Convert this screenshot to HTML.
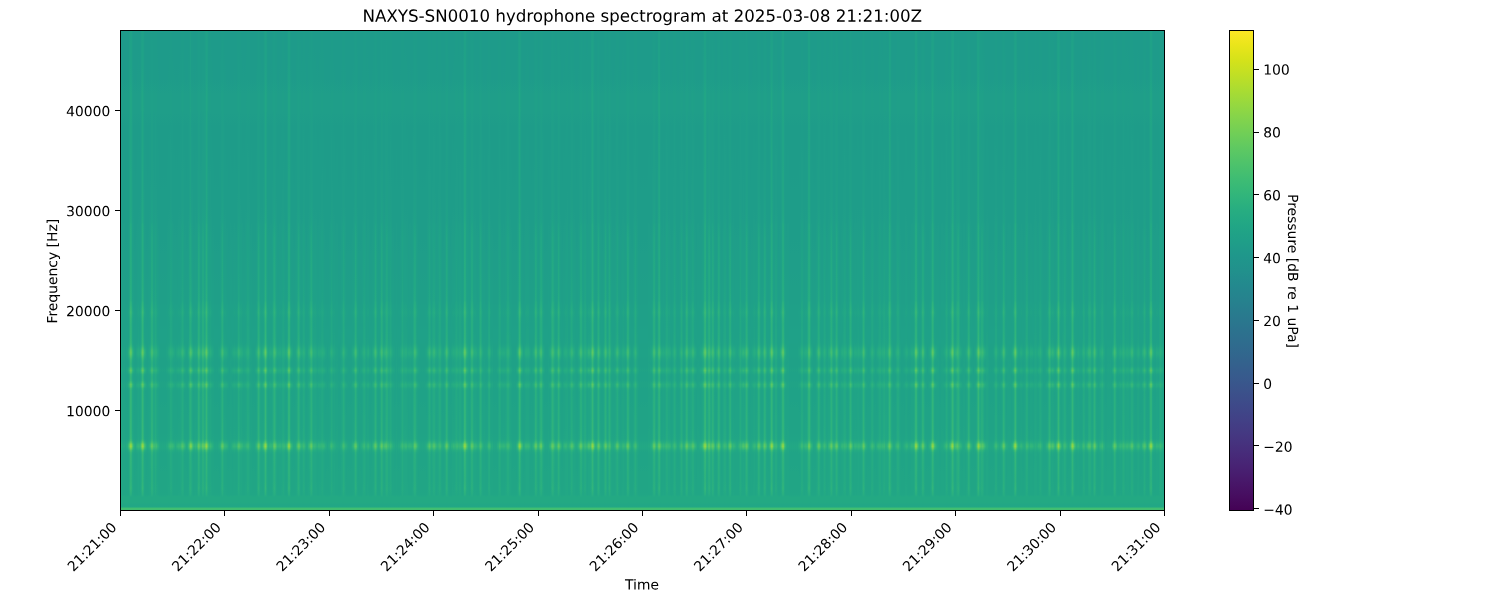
<!DOCTYPE html>
<html><head><meta charset="utf-8"><style>
html,body{margin:0;padding:0;background:#fff;font-family:"Liberation Sans",sans-serif;width:1500px;height:600px;overflow:hidden;position:relative}
svg.l{position:absolute;left:0;top:0;display:block}
</style></head><body>
<svg class="l" width="1500" height="600" viewBox="0 0 1500 600"><defs><linearGradient id="g0" x1="0" y1="0" x2="0" y2="1"><stop offset="0.0010" stop-color="#1e9c89"/><stop offset="0.0343" stop-color="#1e9d89"/><stop offset="0.0676" stop-color="#1e9d89"/><stop offset="0.1008" stop-color="#1e9d89"/><stop offset="0.1341" stop-color="#1fa088"/><stop offset="0.1383" stop-color="#1fa088"/><stop offset="0.1549" stop-color="#1fa088"/><stop offset="0.1674" stop-color="#1fa088"/><stop offset="0.1715" stop-color="#1fa088"/><stop offset="0.2006" stop-color="#1f9f88"/><stop offset="0.2339" stop-color="#1f9f88"/><stop offset="0.2672" stop-color="#1f9f88"/><stop offset="0.3004" stop-color="#1f9f88"/><stop offset="0.3337" stop-color="#1fa088"/><stop offset="0.3669" stop-color="#1fa188"/><stop offset="0.4002" stop-color="#1fa287"/><stop offset="0.4044" stop-color="#20a486"/><stop offset="0.4335" stop-color="#22a785"/><stop offset="0.4667" stop-color="#22a884"/><stop offset="0.5000" stop-color="#23a983"/><stop offset="0.5333" stop-color="#23a983"/><stop offset="0.5624" stop-color="#25ab82"/><stop offset="0.5665" stop-color="#26ad81"/><stop offset="0.5748" stop-color="#28ae80"/><stop offset="0.5873" stop-color="#2db27d"/><stop offset="0.5998" stop-color="#28ae80"/><stop offset="0.6123" stop-color="#27ad81"/><stop offset="0.6247" stop-color="#27ad81"/><stop offset="0.6372" stop-color="#28ae80"/><stop offset="0.6497" stop-color="#29af7f"/><stop offset="0.6538" stop-color="#2ab07f"/><stop offset="0.6580" stop-color="#2fb47c"/><stop offset="0.6622" stop-color="#35b779"/><stop offset="0.6663" stop-color="#3dbc74"/><stop offset="0.6705" stop-color="#40bd72"/><stop offset="0.6746" stop-color="#3dbc74"/><stop offset="0.6788" stop-color="#37b878"/><stop offset="0.6830" stop-color="#2fb47c"/><stop offset="0.6871" stop-color="#2cb17e"/><stop offset="0.6913" stop-color="#29af7f"/><stop offset="0.6954" stop-color="#29af7f"/><stop offset="0.6996" stop-color="#2cb17e"/><stop offset="0.7037" stop-color="#37b878"/><stop offset="0.7079" stop-color="#40bd72"/><stop offset="0.7121" stop-color="#37b878"/><stop offset="0.7162" stop-color="#2cb17e"/><stop offset="0.7204" stop-color="#29af7f"/><stop offset="0.7245" stop-color="#29af7f"/><stop offset="0.7287" stop-color="#2cb17e"/><stop offset="0.7328" stop-color="#34b679"/><stop offset="0.7370" stop-color="#40bd72"/><stop offset="0.7412" stop-color="#3bbb75"/><stop offset="0.7453" stop-color="#2eb37c"/><stop offset="0.7495" stop-color="#2ab07f"/><stop offset="0.7536" stop-color="#2ab07f"/><stop offset="0.7703" stop-color="#2ab07f"/><stop offset="0.7869" stop-color="#2ab07f"/><stop offset="0.8035" stop-color="#2ab07f"/><stop offset="0.8202" stop-color="#2cb17e"/><stop offset="0.8368" stop-color="#2cb17e"/><stop offset="0.8493" stop-color="#2db27d"/><stop offset="0.8534" stop-color="#32b67a"/><stop offset="0.8576" stop-color="#40bd72"/><stop offset="0.8617" stop-color="#58c765"/><stop offset="0.8659" stop-color="#60ca60"/><stop offset="0.8701" stop-color="#4cc26c"/><stop offset="0.8742" stop-color="#37b878"/><stop offset="0.8784" stop-color="#2eb37c"/><stop offset="0.8825" stop-color="#2cb17e"/><stop offset="0.8867" stop-color="#2ab07f"/><stop offset="0.9033" stop-color="#2ab07f"/><stop offset="0.9200" stop-color="#29af7f"/><stop offset="0.9366" stop-color="#29af7f"/><stop offset="0.9532" stop-color="#2ab07f"/><stop offset="0.9657" stop-color="#26ad81"/><stop offset="0.9699" stop-color="#24aa83"/><stop offset="0.9719" stop-color="#23a983"/><stop offset="0.9740" stop-color="#23a983"/><stop offset="0.9782" stop-color="#23a983"/><stop offset="0.9823" stop-color="#23a983"/><stop offset="0.9865" stop-color="#22a785"/><stop offset="0.9906" stop-color="#22a785"/><stop offset="0.9927" stop-color="#2eb37c"/><stop offset="0.9948" stop-color="#42be71"/><stop offset="0.9990" stop-color="#42be71"/></linearGradient><linearGradient id="g1" x1="0" y1="0" x2="0" y2="1"><stop offset="0.0010" stop-color="#1e9b8a"/><stop offset="0.0343" stop-color="#1e9b8a"/><stop offset="0.0676" stop-color="#1e9c89"/><stop offset="0.1008" stop-color="#1e9c89"/><stop offset="0.1341" stop-color="#1f9e89"/><stop offset="0.1383" stop-color="#1f9e89"/><stop offset="0.1549" stop-color="#1f9e89"/><stop offset="0.1674" stop-color="#1f9e89"/><stop offset="0.1715" stop-color="#1f9e89"/><stop offset="0.2006" stop-color="#1e9c89"/><stop offset="0.2339" stop-color="#1e9d89"/><stop offset="0.2672" stop-color="#1e9d89"/><stop offset="0.3004" stop-color="#1e9d89"/><stop offset="0.3337" stop-color="#1e9d89"/><stop offset="0.3669" stop-color="#1e9d89"/><stop offset="0.4002" stop-color="#1f9e89"/><stop offset="0.4044" stop-color="#1f9e89"/><stop offset="0.4335" stop-color="#1f9f88"/><stop offset="0.4667" stop-color="#1fa088"/><stop offset="0.5000" stop-color="#1fa088"/><stop offset="0.5333" stop-color="#1fa188"/><stop offset="0.5624" stop-color="#1fa188"/><stop offset="0.5665" stop-color="#1fa187"/><stop offset="0.5748" stop-color="#1fa287"/><stop offset="0.5873" stop-color="#20a486"/><stop offset="0.5998" stop-color="#1fa287"/><stop offset="0.6123" stop-color="#1fa287"/><stop offset="0.6247" stop-color="#1fa287"/><stop offset="0.6372" stop-color="#1fa287"/><stop offset="0.6497" stop-color="#20a386"/><stop offset="0.6538" stop-color="#20a486"/><stop offset="0.6580" stop-color="#21a685"/><stop offset="0.6622" stop-color="#22a884"/><stop offset="0.6663" stop-color="#25ab82"/><stop offset="0.6705" stop-color="#25ac82"/><stop offset="0.6746" stop-color="#25ab82"/><stop offset="0.6788" stop-color="#23a983"/><stop offset="0.6830" stop-color="#21a685"/><stop offset="0.6871" stop-color="#21a585"/><stop offset="0.6913" stop-color="#20a486"/><stop offset="0.6954" stop-color="#20a486"/><stop offset="0.6996" stop-color="#21a585"/><stop offset="0.7037" stop-color="#23a983"/><stop offset="0.7079" stop-color="#25ac82"/><stop offset="0.7121" stop-color="#23a983"/><stop offset="0.7162" stop-color="#21a585"/><stop offset="0.7204" stop-color="#20a486"/><stop offset="0.7245" stop-color="#20a486"/><stop offset="0.7287" stop-color="#21a585"/><stop offset="0.7328" stop-color="#22a884"/><stop offset="0.7370" stop-color="#26ad81"/><stop offset="0.7412" stop-color="#25ab82"/><stop offset="0.7453" stop-color="#21a685"/><stop offset="0.7495" stop-color="#20a486"/><stop offset="0.7536" stop-color="#20a486"/><stop offset="0.7703" stop-color="#21a585"/><stop offset="0.7869" stop-color="#21a585"/><stop offset="0.8035" stop-color="#21a585"/><stop offset="0.8202" stop-color="#21a585"/><stop offset="0.8368" stop-color="#21a685"/><stop offset="0.8493" stop-color="#21a685"/><stop offset="0.8534" stop-color="#22a884"/><stop offset="0.8576" stop-color="#27ad81"/><stop offset="0.8617" stop-color="#2fb47c"/><stop offset="0.8659" stop-color="#32b67a"/><stop offset="0.8701" stop-color="#2cb17e"/><stop offset="0.8742" stop-color="#25ab82"/><stop offset="0.8784" stop-color="#22a785"/><stop offset="0.8825" stop-color="#21a685"/><stop offset="0.8867" stop-color="#21a685"/><stop offset="0.9033" stop-color="#21a685"/><stop offset="0.9200" stop-color="#21a685"/><stop offset="0.9366" stop-color="#21a685"/><stop offset="0.9532" stop-color="#22a785"/><stop offset="0.9657" stop-color="#22a785"/><stop offset="0.9699" stop-color="#23a983"/><stop offset="0.9719" stop-color="#23a983"/><stop offset="0.9740" stop-color="#23a983"/><stop offset="0.9782" stop-color="#23a983"/><stop offset="0.9823" stop-color="#23a983"/><stop offset="0.9865" stop-color="#22a785"/><stop offset="0.9906" stop-color="#22a785"/><stop offset="0.9927" stop-color="#2eb37c"/><stop offset="0.9948" stop-color="#42be71"/><stop offset="0.9990" stop-color="#42be71"/></linearGradient><linearGradient id="g2" x1="0" y1="0" x2="0" y2="1"><stop offset="0.0010" stop-color="#1e9b8a"/><stop offset="0.0343" stop-color="#1e9b8a"/><stop offset="0.0676" stop-color="#1e9b8a"/><stop offset="0.1008" stop-color="#1e9b8a"/><stop offset="0.1341" stop-color="#1f9e89"/><stop offset="0.1383" stop-color="#1f9e89"/><stop offset="0.1549" stop-color="#1f9e89"/><stop offset="0.1674" stop-color="#1f9e89"/><stop offset="0.1715" stop-color="#1f9e89"/><stop offset="0.2006" stop-color="#1e9c89"/><stop offset="0.2339" stop-color="#1e9c89"/><stop offset="0.2672" stop-color="#1e9d89"/><stop offset="0.3004" stop-color="#1e9d89"/><stop offset="0.3337" stop-color="#1e9d89"/><stop offset="0.3669" stop-color="#1e9d89"/><stop offset="0.4002" stop-color="#1e9d89"/><stop offset="0.4044" stop-color="#1f9e89"/><stop offset="0.4335" stop-color="#1f9e89"/><stop offset="0.4667" stop-color="#1f9f88"/><stop offset="0.5000" stop-color="#1f9f88"/><stop offset="0.5333" stop-color="#1fa088"/><stop offset="0.5624" stop-color="#1fa088"/><stop offset="0.5665" stop-color="#1fa188"/><stop offset="0.5748" stop-color="#1fa188"/><stop offset="0.5873" stop-color="#1fa187"/><stop offset="0.5998" stop-color="#1fa187"/><stop offset="0.6123" stop-color="#1fa187"/><stop offset="0.6247" stop-color="#1fa187"/><stop offset="0.6372" stop-color="#1fa187"/><stop offset="0.6497" stop-color="#1fa287"/><stop offset="0.6538" stop-color="#1fa287"/><stop offset="0.6580" stop-color="#1fa287"/><stop offset="0.6622" stop-color="#20a386"/><stop offset="0.6663" stop-color="#20a486"/><stop offset="0.6705" stop-color="#20a486"/><stop offset="0.6746" stop-color="#20a486"/><stop offset="0.6788" stop-color="#20a386"/><stop offset="0.6830" stop-color="#20a386"/><stop offset="0.6871" stop-color="#20a386"/><stop offset="0.6913" stop-color="#1fa287"/><stop offset="0.6954" stop-color="#20a386"/><stop offset="0.6996" stop-color="#20a386"/><stop offset="0.7037" stop-color="#20a486"/><stop offset="0.7079" stop-color="#21a585"/><stop offset="0.7121" stop-color="#20a486"/><stop offset="0.7162" stop-color="#20a386"/><stop offset="0.7204" stop-color="#20a386"/><stop offset="0.7245" stop-color="#20a386"/><stop offset="0.7287" stop-color="#20a386"/><stop offset="0.7328" stop-color="#20a486"/><stop offset="0.7370" stop-color="#21a585"/><stop offset="0.7412" stop-color="#21a585"/><stop offset="0.7453" stop-color="#20a486"/><stop offset="0.7495" stop-color="#20a386"/><stop offset="0.7536" stop-color="#20a386"/><stop offset="0.7703" stop-color="#20a486"/><stop offset="0.7869" stop-color="#20a486"/><stop offset="0.8035" stop-color="#20a486"/><stop offset="0.8202" stop-color="#20a486"/><stop offset="0.8368" stop-color="#21a585"/><stop offset="0.8493" stop-color="#21a585"/><stop offset="0.8534" stop-color="#21a685"/><stop offset="0.8576" stop-color="#22a785"/><stop offset="0.8617" stop-color="#23a983"/><stop offset="0.8659" stop-color="#24aa83"/><stop offset="0.8701" stop-color="#22a884"/><stop offset="0.8742" stop-color="#22a785"/><stop offset="0.8784" stop-color="#21a685"/><stop offset="0.8825" stop-color="#21a585"/><stop offset="0.8867" stop-color="#21a585"/><stop offset="0.9033" stop-color="#21a585"/><stop offset="0.9200" stop-color="#21a685"/><stop offset="0.9366" stop-color="#21a685"/><stop offset="0.9532" stop-color="#21a685"/><stop offset="0.9657" stop-color="#21a685"/><stop offset="0.9699" stop-color="#23a983"/><stop offset="0.9719" stop-color="#23a983"/><stop offset="0.9740" stop-color="#23a983"/><stop offset="0.9782" stop-color="#23a983"/><stop offset="0.9823" stop-color="#23a983"/><stop offset="0.9865" stop-color="#22a785"/><stop offset="0.9906" stop-color="#22a785"/><stop offset="0.9927" stop-color="#2eb37c"/><stop offset="0.9948" stop-color="#42be71"/><stop offset="0.9990" stop-color="#42be71"/></linearGradient><linearGradient id="g3" x1="0" y1="0" x2="0" y2="1"><stop offset="0.0010" stop-color="#1e9c89"/><stop offset="0.0343" stop-color="#1e9c89"/><stop offset="0.0676" stop-color="#1e9c89"/><stop offset="0.1008" stop-color="#1e9c89"/><stop offset="0.1341" stop-color="#1f9f88"/><stop offset="0.1383" stop-color="#1f9f88"/><stop offset="0.1549" stop-color="#1f9f88"/><stop offset="0.1674" stop-color="#1f9f88"/><stop offset="0.1715" stop-color="#1f9e89"/><stop offset="0.2006" stop-color="#1e9d89"/><stop offset="0.2339" stop-color="#1e9d89"/><stop offset="0.2672" stop-color="#1e9d89"/><stop offset="0.3004" stop-color="#1f9e89"/><stop offset="0.3337" stop-color="#1f9e89"/><stop offset="0.3669" stop-color="#1f9e89"/><stop offset="0.4002" stop-color="#1f9f88"/><stop offset="0.4044" stop-color="#1fa088"/><stop offset="0.4335" stop-color="#1fa187"/><stop offset="0.4667" stop-color="#1fa187"/><stop offset="0.5000" stop-color="#1fa287"/><stop offset="0.5333" stop-color="#1fa287"/><stop offset="0.5624" stop-color="#20a386"/><stop offset="0.5665" stop-color="#20a486"/><stop offset="0.5748" stop-color="#21a585"/><stop offset="0.5873" stop-color="#22a785"/><stop offset="0.5998" stop-color="#21a685"/><stop offset="0.6123" stop-color="#21a585"/><stop offset="0.6247" stop-color="#21a585"/><stop offset="0.6372" stop-color="#21a685"/><stop offset="0.6497" stop-color="#21a685"/><stop offset="0.6538" stop-color="#22a785"/><stop offset="0.6580" stop-color="#23a983"/><stop offset="0.6622" stop-color="#25ac82"/><stop offset="0.6663" stop-color="#27ad81"/><stop offset="0.6705" stop-color="#29af7f"/><stop offset="0.6746" stop-color="#28ae80"/><stop offset="0.6788" stop-color="#25ac82"/><stop offset="0.6830" stop-color="#24aa83"/><stop offset="0.6871" stop-color="#22a884"/><stop offset="0.6913" stop-color="#22a785"/><stop offset="0.6954" stop-color="#22a785"/><stop offset="0.6996" stop-color="#22a884"/><stop offset="0.7037" stop-color="#25ac82"/><stop offset="0.7079" stop-color="#29af7f"/><stop offset="0.7121" stop-color="#26ad81"/><stop offset="0.7162" stop-color="#22a884"/><stop offset="0.7204" stop-color="#22a785"/><stop offset="0.7245" stop-color="#22a785"/><stop offset="0.7287" stop-color="#22a884"/><stop offset="0.7328" stop-color="#25ac82"/><stop offset="0.7370" stop-color="#29af7f"/><stop offset="0.7412" stop-color="#27ad81"/><stop offset="0.7453" stop-color="#24aa83"/><stop offset="0.7495" stop-color="#22a884"/><stop offset="0.7536" stop-color="#22a884"/><stop offset="0.7703" stop-color="#22a884"/><stop offset="0.7869" stop-color="#22a884"/><stop offset="0.8035" stop-color="#23a983"/><stop offset="0.8202" stop-color="#23a983"/><stop offset="0.8368" stop-color="#23a983"/><stop offset="0.8493" stop-color="#24aa83"/><stop offset="0.8534" stop-color="#25ac82"/><stop offset="0.8576" stop-color="#2ab07f"/><stop offset="0.8617" stop-color="#34b679"/><stop offset="0.8659" stop-color="#37b878"/><stop offset="0.8701" stop-color="#2fb47c"/><stop offset="0.8742" stop-color="#27ad81"/><stop offset="0.8784" stop-color="#24aa83"/><stop offset="0.8825" stop-color="#23a983"/><stop offset="0.8867" stop-color="#23a983"/><stop offset="0.9033" stop-color="#23a983"/><stop offset="0.9200" stop-color="#23a983"/><stop offset="0.9366" stop-color="#23a983"/><stop offset="0.9532" stop-color="#24aa83"/><stop offset="0.9657" stop-color="#23a983"/><stop offset="0.9699" stop-color="#23a983"/><stop offset="0.9719" stop-color="#23a983"/><stop offset="0.9740" stop-color="#23a983"/><stop offset="0.9782" stop-color="#23a983"/><stop offset="0.9823" stop-color="#23a983"/><stop offset="0.9865" stop-color="#22a785"/><stop offset="0.9906" stop-color="#22a785"/><stop offset="0.9927" stop-color="#2eb37c"/><stop offset="0.9948" stop-color="#42be71"/><stop offset="0.9990" stop-color="#42be71"/></linearGradient><linearGradient id="g4" x1="0" y1="0" x2="0" y2="1"><stop offset="0.0010" stop-color="#1e9c89"/><stop offset="0.0343" stop-color="#1e9c89"/><stop offset="0.0676" stop-color="#1e9d89"/><stop offset="0.1008" stop-color="#1e9d89"/><stop offset="0.1341" stop-color="#1fa088"/><stop offset="0.1383" stop-color="#1fa088"/><stop offset="0.1549" stop-color="#1fa088"/><stop offset="0.1674" stop-color="#1fa088"/><stop offset="0.1715" stop-color="#1f9f88"/><stop offset="0.2006" stop-color="#1f9e89"/><stop offset="0.2339" stop-color="#1f9e89"/><stop offset="0.2672" stop-color="#1f9e89"/><stop offset="0.3004" stop-color="#1f9f88"/><stop offset="0.3337" stop-color="#1f9f88"/><stop offset="0.3669" stop-color="#1fa088"/><stop offset="0.4002" stop-color="#1fa187"/><stop offset="0.4044" stop-color="#1fa287"/><stop offset="0.4335" stop-color="#20a486"/><stop offset="0.4667" stop-color="#21a585"/><stop offset="0.5000" stop-color="#21a685"/><stop offset="0.5333" stop-color="#21a685"/><stop offset="0.5624" stop-color="#22a785"/><stop offset="0.5665" stop-color="#23a983"/><stop offset="0.5748" stop-color="#25ab82"/><stop offset="0.5873" stop-color="#27ad81"/><stop offset="0.5998" stop-color="#25ab82"/><stop offset="0.6123" stop-color="#24aa83"/><stop offset="0.6247" stop-color="#24aa83"/><stop offset="0.6372" stop-color="#25ab82"/><stop offset="0.6497" stop-color="#25ac82"/><stop offset="0.6538" stop-color="#26ad81"/><stop offset="0.6580" stop-color="#29af7f"/><stop offset="0.6622" stop-color="#2fb47c"/><stop offset="0.6663" stop-color="#35b779"/><stop offset="0.6705" stop-color="#38b977"/><stop offset="0.6746" stop-color="#35b779"/><stop offset="0.6788" stop-color="#2fb47c"/><stop offset="0.6830" stop-color="#2ab07f"/><stop offset="0.6871" stop-color="#27ad81"/><stop offset="0.6913" stop-color="#25ac82"/><stop offset="0.6954" stop-color="#25ac82"/><stop offset="0.6996" stop-color="#27ad81"/><stop offset="0.7037" stop-color="#2fb47c"/><stop offset="0.7079" stop-color="#38b977"/><stop offset="0.7121" stop-color="#2fb47c"/><stop offset="0.7162" stop-color="#27ad81"/><stop offset="0.7204" stop-color="#25ac82"/><stop offset="0.7245" stop-color="#25ac82"/><stop offset="0.7287" stop-color="#26ad81"/><stop offset="0.7328" stop-color="#2db27d"/><stop offset="0.7370" stop-color="#38b977"/><stop offset="0.7412" stop-color="#34b679"/><stop offset="0.7453" stop-color="#29af7f"/><stop offset="0.7495" stop-color="#26ad81"/><stop offset="0.7536" stop-color="#26ad81"/><stop offset="0.7703" stop-color="#26ad81"/><stop offset="0.7869" stop-color="#26ad81"/><stop offset="0.8035" stop-color="#26ad81"/><stop offset="0.8202" stop-color="#27ad81"/><stop offset="0.8368" stop-color="#27ad81"/><stop offset="0.8493" stop-color="#28ae80"/><stop offset="0.8534" stop-color="#2cb17e"/><stop offset="0.8576" stop-color="#38b977"/><stop offset="0.8617" stop-color="#4ec36b"/><stop offset="0.8659" stop-color="#54c568"/><stop offset="0.8701" stop-color="#42be71"/><stop offset="0.8742" stop-color="#31b57b"/><stop offset="0.8784" stop-color="#29af7f"/><stop offset="0.8825" stop-color="#27ad81"/><stop offset="0.8867" stop-color="#27ad81"/><stop offset="0.9033" stop-color="#26ad81"/><stop offset="0.9200" stop-color="#26ad81"/><stop offset="0.9366" stop-color="#26ad81"/><stop offset="0.9532" stop-color="#27ad81"/><stop offset="0.9657" stop-color="#25ab82"/><stop offset="0.9699" stop-color="#24aa83"/><stop offset="0.9719" stop-color="#23a983"/><stop offset="0.9740" stop-color="#23a983"/><stop offset="0.9782" stop-color="#23a983"/><stop offset="0.9823" stop-color="#23a983"/><stop offset="0.9865" stop-color="#22a785"/><stop offset="0.9906" stop-color="#22a785"/><stop offset="0.9927" stop-color="#2eb37c"/><stop offset="0.9948" stop-color="#42be71"/><stop offset="0.9990" stop-color="#42be71"/></linearGradient><linearGradient id="g5" x1="0" y1="0" x2="0" y2="1"><stop offset="0.0010" stop-color="#1f9f88"/><stop offset="0.0343" stop-color="#1fa088"/><stop offset="0.0676" stop-color="#1fa088"/><stop offset="0.1008" stop-color="#1fa088"/><stop offset="0.1341" stop-color="#1fa287"/><stop offset="0.1383" stop-color="#1fa287"/><stop offset="0.1549" stop-color="#1fa287"/><stop offset="0.1674" stop-color="#20a386"/><stop offset="0.1715" stop-color="#1fa287"/><stop offset="0.2006" stop-color="#1fa187"/><stop offset="0.2339" stop-color="#1fa187"/><stop offset="0.2672" stop-color="#1fa287"/><stop offset="0.3004" stop-color="#1fa287"/><stop offset="0.3337" stop-color="#1fa287"/><stop offset="0.3669" stop-color="#20a386"/><stop offset="0.4002" stop-color="#20a486"/><stop offset="0.4044" stop-color="#21a685"/><stop offset="0.4335" stop-color="#22a785"/><stop offset="0.4667" stop-color="#22a884"/><stop offset="0.5000" stop-color="#22a884"/><stop offset="0.5333" stop-color="#23a983"/><stop offset="0.5624" stop-color="#24aa83"/><stop offset="0.5665" stop-color="#26ad81"/><stop offset="0.5748" stop-color="#29af7f"/><stop offset="0.5873" stop-color="#2fb47c"/><stop offset="0.5998" stop-color="#28ae80"/><stop offset="0.6123" stop-color="#27ad81"/><stop offset="0.6247" stop-color="#27ad81"/><stop offset="0.6372" stop-color="#27ad81"/><stop offset="0.6497" stop-color="#29af7f"/><stop offset="0.6538" stop-color="#2cb17e"/><stop offset="0.6580" stop-color="#32b67a"/><stop offset="0.6622" stop-color="#3dbc74"/><stop offset="0.6663" stop-color="#48c16e"/><stop offset="0.6705" stop-color="#4ec36b"/><stop offset="0.6746" stop-color="#4ac16d"/><stop offset="0.6788" stop-color="#3dbc74"/><stop offset="0.6830" stop-color="#32b67a"/><stop offset="0.6871" stop-color="#2db27d"/><stop offset="0.6913" stop-color="#29af7f"/><stop offset="0.6954" stop-color="#29af7f"/><stop offset="0.6996" stop-color="#2db27d"/><stop offset="0.7037" stop-color="#3dbc74"/><stop offset="0.7079" stop-color="#4ec36b"/><stop offset="0.7121" stop-color="#3dbc74"/><stop offset="0.7162" stop-color="#2db27d"/><stop offset="0.7204" stop-color="#29af7f"/><stop offset="0.7245" stop-color="#29af7f"/><stop offset="0.7287" stop-color="#2cb17e"/><stop offset="0.7328" stop-color="#38b977"/><stop offset="0.7370" stop-color="#4ec36b"/><stop offset="0.7412" stop-color="#44bf70"/><stop offset="0.7453" stop-color="#2fb47c"/><stop offset="0.7495" stop-color="#2ab07f"/><stop offset="0.7536" stop-color="#29af7f"/><stop offset="0.7703" stop-color="#2ab07f"/><stop offset="0.7869" stop-color="#2ab07f"/><stop offset="0.8035" stop-color="#2ab07f"/><stop offset="0.8202" stop-color="#2ab07f"/><stop offset="0.8368" stop-color="#2cb17e"/><stop offset="0.8493" stop-color="#2db27d"/><stop offset="0.8534" stop-color="#34b679"/><stop offset="0.8576" stop-color="#4cc26c"/><stop offset="0.8617" stop-color="#73d056"/><stop offset="0.8659" stop-color="#7fd34e"/><stop offset="0.8701" stop-color="#5ec962"/><stop offset="0.8742" stop-color="#3bbb75"/><stop offset="0.8784" stop-color="#2eb37c"/><stop offset="0.8825" stop-color="#2cb17e"/><stop offset="0.8867" stop-color="#2ab07f"/><stop offset="0.9033" stop-color="#29af7f"/><stop offset="0.9200" stop-color="#29af7f"/><stop offset="0.9366" stop-color="#28ae80"/><stop offset="0.9532" stop-color="#2ab07f"/><stop offset="0.9657" stop-color="#26ad81"/><stop offset="0.9699" stop-color="#24aa83"/><stop offset="0.9719" stop-color="#23a983"/><stop offset="0.9740" stop-color="#23a983"/><stop offset="0.9782" stop-color="#23a983"/><stop offset="0.9823" stop-color="#23a983"/><stop offset="0.9865" stop-color="#22a785"/><stop offset="0.9906" stop-color="#22a785"/><stop offset="0.9927" stop-color="#2eb37c"/><stop offset="0.9948" stop-color="#42be71"/><stop offset="0.9990" stop-color="#42be71"/></linearGradient><linearGradient id="g6" x1="0" y1="0" x2="0" y2="1"><stop offset="0.0010" stop-color="#1e9d89"/><stop offset="0.0343" stop-color="#1e9d89"/><stop offset="0.0676" stop-color="#1e9d89"/><stop offset="0.1008" stop-color="#1f9e89"/><stop offset="0.1341" stop-color="#1fa088"/><stop offset="0.1383" stop-color="#1fa088"/><stop offset="0.1549" stop-color="#1fa088"/><stop offset="0.1674" stop-color="#1fa088"/><stop offset="0.1715" stop-color="#1fa088"/><stop offset="0.2006" stop-color="#1f9f88"/><stop offset="0.2339" stop-color="#1f9f88"/><stop offset="0.2672" stop-color="#1f9f88"/><stop offset="0.3004" stop-color="#1f9f88"/><stop offset="0.3337" stop-color="#1fa088"/><stop offset="0.3669" stop-color="#1fa088"/><stop offset="0.4002" stop-color="#1fa088"/><stop offset="0.4044" stop-color="#1fa188"/><stop offset="0.4335" stop-color="#1fa188"/><stop offset="0.4667" stop-color="#1fa187"/><stop offset="0.5000" stop-color="#1fa287"/><stop offset="0.5333" stop-color="#1fa287"/><stop offset="0.5624" stop-color="#20a386"/><stop offset="0.5665" stop-color="#20a486"/><stop offset="0.5748" stop-color="#21a685"/><stop offset="0.5873" stop-color="#24aa83"/><stop offset="0.5998" stop-color="#21a685"/><stop offset="0.6123" stop-color="#21a585"/><stop offset="0.6247" stop-color="#21a585"/><stop offset="0.6372" stop-color="#21a585"/><stop offset="0.6497" stop-color="#22a785"/><stop offset="0.6538" stop-color="#22a884"/><stop offset="0.6580" stop-color="#25ac82"/><stop offset="0.6622" stop-color="#2cb17e"/><stop offset="0.6663" stop-color="#32b67a"/><stop offset="0.6705" stop-color="#35b779"/><stop offset="0.6746" stop-color="#32b67a"/><stop offset="0.6788" stop-color="#2cb17e"/><stop offset="0.6830" stop-color="#26ad81"/><stop offset="0.6871" stop-color="#23a983"/><stop offset="0.6913" stop-color="#22a785"/><stop offset="0.6954" stop-color="#22a785"/><stop offset="0.6996" stop-color="#23a983"/><stop offset="0.7037" stop-color="#2cb17e"/><stop offset="0.7079" stop-color="#35b779"/><stop offset="0.7121" stop-color="#2cb17e"/><stop offset="0.7162" stop-color="#23a983"/><stop offset="0.7204" stop-color="#22a785"/><stop offset="0.7245" stop-color="#22a785"/><stop offset="0.7287" stop-color="#23a983"/><stop offset="0.7328" stop-color="#29af7f"/><stop offset="0.7370" stop-color="#35b779"/><stop offset="0.7412" stop-color="#2fb47c"/><stop offset="0.7453" stop-color="#25ab82"/><stop offset="0.7495" stop-color="#22a884"/><stop offset="0.7536" stop-color="#22a785"/><stop offset="0.7703" stop-color="#22a884"/><stop offset="0.7869" stop-color="#22a884"/><stop offset="0.8035" stop-color="#22a884"/><stop offset="0.8202" stop-color="#22a884"/><stop offset="0.8368" stop-color="#23a983"/><stop offset="0.8493" stop-color="#24aa83"/><stop offset="0.8534" stop-color="#27ad81"/><stop offset="0.8576" stop-color="#35b779"/><stop offset="0.8617" stop-color="#4ec36b"/><stop offset="0.8659" stop-color="#56c667"/><stop offset="0.8701" stop-color="#42be71"/><stop offset="0.8742" stop-color="#2db27d"/><stop offset="0.8784" stop-color="#25ab82"/><stop offset="0.8825" stop-color="#23a983"/><stop offset="0.8867" stop-color="#23a983"/><stop offset="0.9033" stop-color="#23a983"/><stop offset="0.9200" stop-color="#23a983"/><stop offset="0.9366" stop-color="#23a983"/><stop offset="0.9532" stop-color="#24aa83"/><stop offset="0.9657" stop-color="#22a884"/><stop offset="0.9699" stop-color="#23a983"/><stop offset="0.9719" stop-color="#23a983"/><stop offset="0.9740" stop-color="#23a983"/><stop offset="0.9782" stop-color="#23a983"/><stop offset="0.9823" stop-color="#23a983"/><stop offset="0.9865" stop-color="#22a785"/><stop offset="0.9906" stop-color="#22a785"/><stop offset="0.9927" stop-color="#2eb37c"/><stop offset="0.9948" stop-color="#42be71"/><stop offset="0.9990" stop-color="#42be71"/></linearGradient><linearGradient id="g7" x1="0" y1="0" x2="0" y2="1"><stop offset="0.0010" stop-color="#1e9b8a"/><stop offset="0.0343" stop-color="#1e9b8a"/><stop offset="0.0676" stop-color="#1e9c89"/><stop offset="0.1008" stop-color="#1e9c89"/><stop offset="0.1341" stop-color="#1f9e89"/><stop offset="0.1383" stop-color="#1f9e89"/><stop offset="0.1549" stop-color="#1f9e89"/><stop offset="0.1674" stop-color="#1f9e89"/><stop offset="0.1715" stop-color="#1f9e89"/><stop offset="0.2006" stop-color="#1e9d89"/><stop offset="0.2339" stop-color="#1e9d89"/><stop offset="0.2672" stop-color="#1e9d89"/><stop offset="0.3004" stop-color="#1e9d89"/><stop offset="0.3337" stop-color="#1e9d89"/><stop offset="0.3669" stop-color="#1e9d89"/><stop offset="0.4002" stop-color="#1f9e89"/><stop offset="0.4044" stop-color="#1f9e89"/><stop offset="0.4335" stop-color="#1f9f88"/><stop offset="0.4667" stop-color="#1f9f88"/><stop offset="0.5000" stop-color="#1fa088"/><stop offset="0.5333" stop-color="#1fa088"/><stop offset="0.5624" stop-color="#1fa188"/><stop offset="0.5665" stop-color="#1fa188"/><stop offset="0.5748" stop-color="#1fa287"/><stop offset="0.5873" stop-color="#20a486"/><stop offset="0.5998" stop-color="#1fa287"/><stop offset="0.6123" stop-color="#1fa187"/><stop offset="0.6247" stop-color="#1fa287"/><stop offset="0.6372" stop-color="#1fa287"/><stop offset="0.6497" stop-color="#20a386"/><stop offset="0.6538" stop-color="#20a486"/><stop offset="0.6580" stop-color="#21a685"/><stop offset="0.6622" stop-color="#24aa83"/><stop offset="0.6663" stop-color="#26ad81"/><stop offset="0.6705" stop-color="#28ae80"/><stop offset="0.6746" stop-color="#26ad81"/><stop offset="0.6788" stop-color="#24aa83"/><stop offset="0.6830" stop-color="#22a785"/><stop offset="0.6871" stop-color="#20a486"/><stop offset="0.6913" stop-color="#20a386"/><stop offset="0.6954" stop-color="#20a386"/><stop offset="0.6996" stop-color="#21a585"/><stop offset="0.7037" stop-color="#24aa83"/><stop offset="0.7079" stop-color="#28ae80"/><stop offset="0.7121" stop-color="#24aa83"/><stop offset="0.7162" stop-color="#21a585"/><stop offset="0.7204" stop-color="#20a386"/><stop offset="0.7245" stop-color="#20a386"/><stop offset="0.7287" stop-color="#20a486"/><stop offset="0.7328" stop-color="#23a983"/><stop offset="0.7370" stop-color="#28ae80"/><stop offset="0.7412" stop-color="#26ad81"/><stop offset="0.7453" stop-color="#21a685"/><stop offset="0.7495" stop-color="#20a486"/><stop offset="0.7536" stop-color="#20a486"/><stop offset="0.7703" stop-color="#20a486"/><stop offset="0.7869" stop-color="#20a486"/><stop offset="0.8035" stop-color="#21a585"/><stop offset="0.8202" stop-color="#21a585"/><stop offset="0.8368" stop-color="#21a585"/><stop offset="0.8493" stop-color="#21a685"/><stop offset="0.8534" stop-color="#23a983"/><stop offset="0.8576" stop-color="#29af7f"/><stop offset="0.8617" stop-color="#35b779"/><stop offset="0.8659" stop-color="#38b977"/><stop offset="0.8701" stop-color="#2fb47c"/><stop offset="0.8742" stop-color="#25ac82"/><stop offset="0.8784" stop-color="#22a785"/><stop offset="0.8825" stop-color="#21a685"/><stop offset="0.8867" stop-color="#21a685"/><stop offset="0.9033" stop-color="#21a685"/><stop offset="0.9200" stop-color="#21a685"/><stop offset="0.9366" stop-color="#21a685"/><stop offset="0.9532" stop-color="#22a785"/><stop offset="0.9657" stop-color="#22a785"/><stop offset="0.9699" stop-color="#23a983"/><stop offset="0.9719" stop-color="#23a983"/><stop offset="0.9740" stop-color="#23a983"/><stop offset="0.9782" stop-color="#23a983"/><stop offset="0.9823" stop-color="#23a983"/><stop offset="0.9865" stop-color="#22a785"/><stop offset="0.9906" stop-color="#22a785"/><stop offset="0.9927" stop-color="#2eb37c"/><stop offset="0.9948" stop-color="#42be71"/><stop offset="0.9990" stop-color="#42be71"/></linearGradient><linearGradient id="g8" x1="0" y1="0" x2="0" y2="1"><stop offset="0.0010" stop-color="#1e9c89"/><stop offset="0.0343" stop-color="#1e9c89"/><stop offset="0.0676" stop-color="#1e9d89"/><stop offset="0.1008" stop-color="#1e9d89"/><stop offset="0.1341" stop-color="#1fa088"/><stop offset="0.1383" stop-color="#1fa088"/><stop offset="0.1549" stop-color="#1fa088"/><stop offset="0.1674" stop-color="#1fa088"/><stop offset="0.1715" stop-color="#1f9f88"/><stop offset="0.2006" stop-color="#1f9e89"/><stop offset="0.2339" stop-color="#1f9e89"/><stop offset="0.2672" stop-color="#1f9e89"/><stop offset="0.3004" stop-color="#1f9f88"/><stop offset="0.3337" stop-color="#1f9f88"/><stop offset="0.3669" stop-color="#1f9f88"/><stop offset="0.4002" stop-color="#1fa188"/><stop offset="0.4044" stop-color="#1fa187"/><stop offset="0.4335" stop-color="#20a386"/><stop offset="0.4667" stop-color="#20a486"/><stop offset="0.5000" stop-color="#20a486"/><stop offset="0.5333" stop-color="#21a585"/><stop offset="0.5624" stop-color="#21a685"/><stop offset="0.5665" stop-color="#22a884"/><stop offset="0.5748" stop-color="#24aa83"/><stop offset="0.5873" stop-color="#26ad81"/><stop offset="0.5998" stop-color="#24aa83"/><stop offset="0.6123" stop-color="#23a983"/><stop offset="0.6247" stop-color="#23a983"/><stop offset="0.6372" stop-color="#23a983"/><stop offset="0.6497" stop-color="#24aa83"/><stop offset="0.6538" stop-color="#25ac82"/><stop offset="0.6580" stop-color="#28ae80"/><stop offset="0.6622" stop-color="#2db27d"/><stop offset="0.6663" stop-color="#34b679"/><stop offset="0.6705" stop-color="#35b779"/><stop offset="0.6746" stop-color="#34b679"/><stop offset="0.6788" stop-color="#2eb37c"/><stop offset="0.6830" stop-color="#28ae80"/><stop offset="0.6871" stop-color="#25ac82"/><stop offset="0.6913" stop-color="#25ab82"/><stop offset="0.6954" stop-color="#25ab82"/><stop offset="0.6996" stop-color="#26ad81"/><stop offset="0.7037" stop-color="#2eb37c"/><stop offset="0.7079" stop-color="#37b878"/><stop offset="0.7121" stop-color="#2eb37c"/><stop offset="0.7162" stop-color="#26ad81"/><stop offset="0.7204" stop-color="#25ab82"/><stop offset="0.7245" stop-color="#25ab82"/><stop offset="0.7287" stop-color="#25ac82"/><stop offset="0.7328" stop-color="#2cb17e"/><stop offset="0.7370" stop-color="#37b878"/><stop offset="0.7412" stop-color="#32b67a"/><stop offset="0.7453" stop-color="#27ad81"/><stop offset="0.7495" stop-color="#25ac82"/><stop offset="0.7536" stop-color="#25ab82"/><stop offset="0.7703" stop-color="#25ab82"/><stop offset="0.7869" stop-color="#25ac82"/><stop offset="0.8035" stop-color="#25ac82"/><stop offset="0.8202" stop-color="#25ac82"/><stop offset="0.8368" stop-color="#26ad81"/><stop offset="0.8493" stop-color="#27ad81"/><stop offset="0.8534" stop-color="#2ab07f"/><stop offset="0.8576" stop-color="#37b878"/><stop offset="0.8617" stop-color="#4ac16d"/><stop offset="0.8659" stop-color="#52c569"/><stop offset="0.8701" stop-color="#40bd72"/><stop offset="0.8742" stop-color="#2fb47c"/><stop offset="0.8784" stop-color="#28ae80"/><stop offset="0.8825" stop-color="#26ad81"/><stop offset="0.8867" stop-color="#25ac82"/><stop offset="0.9033" stop-color="#25ac82"/><stop offset="0.9200" stop-color="#25ac82"/><stop offset="0.9366" stop-color="#25ac82"/><stop offset="0.9532" stop-color="#26ad81"/><stop offset="0.9657" stop-color="#24aa83"/><stop offset="0.9699" stop-color="#23a983"/><stop offset="0.9719" stop-color="#23a983"/><stop offset="0.9740" stop-color="#23a983"/><stop offset="0.9782" stop-color="#23a983"/><stop offset="0.9823" stop-color="#23a983"/><stop offset="0.9865" stop-color="#22a785"/><stop offset="0.9906" stop-color="#22a785"/><stop offset="0.9927" stop-color="#2eb37c"/><stop offset="0.9948" stop-color="#42be71"/><stop offset="0.9990" stop-color="#42be71"/></linearGradient><linearGradient id="g9" x1="0" y1="0" x2="0" y2="1"><stop offset="0.0010" stop-color="#1e9c89"/><stop offset="0.0343" stop-color="#1e9c89"/><stop offset="0.0676" stop-color="#1e9c89"/><stop offset="0.1008" stop-color="#1e9c89"/><stop offset="0.1341" stop-color="#1f9f88"/><stop offset="0.1383" stop-color="#1f9f88"/><stop offset="0.1549" stop-color="#1f9f88"/><stop offset="0.1674" stop-color="#1f9f88"/><stop offset="0.1715" stop-color="#1f9e89"/><stop offset="0.2006" stop-color="#1e9d89"/><stop offset="0.2339" stop-color="#1e9d89"/><stop offset="0.2672" stop-color="#1e9d89"/><stop offset="0.3004" stop-color="#1f9e89"/><stop offset="0.3337" stop-color="#1f9e89"/><stop offset="0.3669" stop-color="#1f9e89"/><stop offset="0.4002" stop-color="#1f9f88"/><stop offset="0.4044" stop-color="#1fa088"/><stop offset="0.4335" stop-color="#1fa187"/><stop offset="0.4667" stop-color="#1fa187"/><stop offset="0.5000" stop-color="#1fa287"/><stop offset="0.5333" stop-color="#1fa287"/><stop offset="0.5624" stop-color="#20a386"/><stop offset="0.5665" stop-color="#20a486"/><stop offset="0.5748" stop-color="#21a685"/><stop offset="0.5873" stop-color="#23a983"/><stop offset="0.5998" stop-color="#21a685"/><stop offset="0.6123" stop-color="#21a585"/><stop offset="0.6247" stop-color="#21a685"/><stop offset="0.6372" stop-color="#21a685"/><stop offset="0.6497" stop-color="#22a785"/><stop offset="0.6538" stop-color="#22a884"/><stop offset="0.6580" stop-color="#25ab82"/><stop offset="0.6622" stop-color="#28ae80"/><stop offset="0.6663" stop-color="#2db27d"/><stop offset="0.6705" stop-color="#2fb47c"/><stop offset="0.6746" stop-color="#2db27d"/><stop offset="0.6788" stop-color="#28ae80"/><stop offset="0.6830" stop-color="#25ab82"/><stop offset="0.6871" stop-color="#23a983"/><stop offset="0.6913" stop-color="#22a785"/><stop offset="0.6954" stop-color="#22a785"/><stop offset="0.6996" stop-color="#23a983"/><stop offset="0.7037" stop-color="#29af7f"/><stop offset="0.7079" stop-color="#2fb47c"/><stop offset="0.7121" stop-color="#29af7f"/><stop offset="0.7162" stop-color="#23a983"/><stop offset="0.7204" stop-color="#22a785"/><stop offset="0.7245" stop-color="#22a785"/><stop offset="0.7287" stop-color="#23a983"/><stop offset="0.7328" stop-color="#27ad81"/><stop offset="0.7370" stop-color="#2fb47c"/><stop offset="0.7412" stop-color="#2cb17e"/><stop offset="0.7453" stop-color="#25ab82"/><stop offset="0.7495" stop-color="#22a884"/><stop offset="0.7536" stop-color="#22a884"/><stop offset="0.7703" stop-color="#22a884"/><stop offset="0.7869" stop-color="#22a884"/><stop offset="0.8035" stop-color="#23a983"/><stop offset="0.8202" stop-color="#23a983"/><stop offset="0.8368" stop-color="#23a983"/><stop offset="0.8493" stop-color="#24aa83"/><stop offset="0.8534" stop-color="#26ad81"/><stop offset="0.8576" stop-color="#31b57b"/><stop offset="0.8617" stop-color="#40bd72"/><stop offset="0.8659" stop-color="#46c06f"/><stop offset="0.8701" stop-color="#38b977"/><stop offset="0.8742" stop-color="#2ab07f"/><stop offset="0.8784" stop-color="#25ab82"/><stop offset="0.8825" stop-color="#24aa83"/><stop offset="0.8867" stop-color="#23a983"/><stop offset="0.9033" stop-color="#23a983"/><stop offset="0.9200" stop-color="#23a983"/><stop offset="0.9366" stop-color="#23a983"/><stop offset="0.9532" stop-color="#24aa83"/><stop offset="0.9657" stop-color="#23a983"/><stop offset="0.9699" stop-color="#23a983"/><stop offset="0.9719" stop-color="#23a983"/><stop offset="0.9740" stop-color="#23a983"/><stop offset="0.9782" stop-color="#23a983"/><stop offset="0.9823" stop-color="#23a983"/><stop offset="0.9865" stop-color="#22a785"/><stop offset="0.9906" stop-color="#22a785"/><stop offset="0.9927" stop-color="#2eb37c"/><stop offset="0.9948" stop-color="#42be71"/><stop offset="0.9990" stop-color="#42be71"/></linearGradient><linearGradient id="g10" x1="0" y1="0" x2="0" y2="1"><stop offset="0.0010" stop-color="#1fa187"/><stop offset="0.0343" stop-color="#1fa287"/><stop offset="0.0676" stop-color="#1fa287"/><stop offset="0.1008" stop-color="#20a386"/><stop offset="0.1341" stop-color="#21a685"/><stop offset="0.1383" stop-color="#21a685"/><stop offset="0.1549" stop-color="#21a685"/><stop offset="0.1674" stop-color="#21a685"/><stop offset="0.1715" stop-color="#21a685"/><stop offset="0.2006" stop-color="#21a585"/><stop offset="0.2339" stop-color="#21a585"/><stop offset="0.2672" stop-color="#21a685"/><stop offset="0.3004" stop-color="#21a685"/><stop offset="0.3337" stop-color="#22a785"/><stop offset="0.3669" stop-color="#22a785"/><stop offset="0.4002" stop-color="#23a983"/><stop offset="0.4044" stop-color="#25ab82"/><stop offset="0.4335" stop-color="#25ac82"/><stop offset="0.4667" stop-color="#26ad81"/><stop offset="0.5000" stop-color="#26ad81"/><stop offset="0.5333" stop-color="#27ad81"/><stop offset="0.5624" stop-color="#29af7f"/><stop offset="0.5665" stop-color="#2db27d"/><stop offset="0.5748" stop-color="#31b57b"/><stop offset="0.5873" stop-color="#38b977"/><stop offset="0.5998" stop-color="#31b57b"/><stop offset="0.6123" stop-color="#2eb37c"/><stop offset="0.6247" stop-color="#2eb37c"/><stop offset="0.6372" stop-color="#2fb47c"/><stop offset="0.6497" stop-color="#31b57b"/><stop offset="0.6538" stop-color="#34b679"/><stop offset="0.6580" stop-color="#3bbb75"/><stop offset="0.6622" stop-color="#4ac16d"/><stop offset="0.6663" stop-color="#58c765"/><stop offset="0.6705" stop-color="#5ec962"/><stop offset="0.6746" stop-color="#58c765"/><stop offset="0.6788" stop-color="#4ac16d"/><stop offset="0.6830" stop-color="#3dbc74"/><stop offset="0.6871" stop-color="#35b779"/><stop offset="0.6913" stop-color="#32b67a"/><stop offset="0.6954" stop-color="#31b57b"/><stop offset="0.6996" stop-color="#35b779"/><stop offset="0.7037" stop-color="#4ac16d"/><stop offset="0.7079" stop-color="#5cc863"/><stop offset="0.7121" stop-color="#4ac16d"/><stop offset="0.7162" stop-color="#35b779"/><stop offset="0.7204" stop-color="#31b57b"/><stop offset="0.7245" stop-color="#31b57b"/><stop offset="0.7287" stop-color="#34b679"/><stop offset="0.7328" stop-color="#44bf70"/><stop offset="0.7370" stop-color="#5cc863"/><stop offset="0.7412" stop-color="#52c569"/><stop offset="0.7453" stop-color="#3aba76"/><stop offset="0.7495" stop-color="#32b67a"/><stop offset="0.7536" stop-color="#32b67a"/><stop offset="0.7703" stop-color="#32b67a"/><stop offset="0.7869" stop-color="#32b67a"/><stop offset="0.8035" stop-color="#32b67a"/><stop offset="0.8202" stop-color="#34b679"/><stop offset="0.8368" stop-color="#34b679"/><stop offset="0.8493" stop-color="#35b779"/><stop offset="0.8534" stop-color="#3fbc73"/><stop offset="0.8576" stop-color="#5ac864"/><stop offset="0.8617" stop-color="#86d549"/><stop offset="0.8659" stop-color="#93d741"/><stop offset="0.8701" stop-color="#6ece58"/><stop offset="0.8742" stop-color="#48c16e"/><stop offset="0.8784" stop-color="#37b878"/><stop offset="0.8825" stop-color="#32b67a"/><stop offset="0.8867" stop-color="#32b67a"/><stop offset="0.9033" stop-color="#31b57b"/><stop offset="0.9200" stop-color="#2fb47c"/><stop offset="0.9366" stop-color="#2eb37c"/><stop offset="0.9532" stop-color="#31b57b"/><stop offset="0.9657" stop-color="#29af7f"/><stop offset="0.9699" stop-color="#25ab82"/><stop offset="0.9719" stop-color="#23a983"/><stop offset="0.9740" stop-color="#23a983"/><stop offset="0.9782" stop-color="#23a983"/><stop offset="0.9823" stop-color="#23a983"/><stop offset="0.9865" stop-color="#22a785"/><stop offset="0.9906" stop-color="#22a785"/><stop offset="0.9927" stop-color="#2eb37c"/><stop offset="0.9948" stop-color="#42be71"/><stop offset="0.9990" stop-color="#42be71"/></linearGradient><linearGradient id="g11" x1="0" y1="0" x2="0" y2="1"><stop offset="0.0010" stop-color="#1fa187"/><stop offset="0.0343" stop-color="#1fa187"/><stop offset="0.0676" stop-color="#1fa287"/><stop offset="0.1008" stop-color="#1fa287"/><stop offset="0.1341" stop-color="#21a585"/><stop offset="0.1383" stop-color="#21a585"/><stop offset="0.1549" stop-color="#21a685"/><stop offset="0.1674" stop-color="#21a685"/><stop offset="0.1715" stop-color="#21a585"/><stop offset="0.2006" stop-color="#20a486"/><stop offset="0.2339" stop-color="#21a585"/><stop offset="0.2672" stop-color="#21a585"/><stop offset="0.3004" stop-color="#21a685"/><stop offset="0.3337" stop-color="#21a685"/><stop offset="0.3669" stop-color="#21a685"/><stop offset="0.4002" stop-color="#22a884"/><stop offset="0.4044" stop-color="#24aa83"/><stop offset="0.4335" stop-color="#25ab82"/><stop offset="0.4667" stop-color="#25ab82"/><stop offset="0.5000" stop-color="#25ac82"/><stop offset="0.5333" stop-color="#26ad81"/><stop offset="0.5624" stop-color="#27ad81"/><stop offset="0.5665" stop-color="#2cb17e"/><stop offset="0.5748" stop-color="#2eb37c"/><stop offset="0.5873" stop-color="#32b67a"/><stop offset="0.5998" stop-color="#2eb37c"/><stop offset="0.6123" stop-color="#2cb17e"/><stop offset="0.6247" stop-color="#2db27d"/><stop offset="0.6372" stop-color="#2db27d"/><stop offset="0.6497" stop-color="#2eb37c"/><stop offset="0.6538" stop-color="#31b57b"/><stop offset="0.6580" stop-color="#35b779"/><stop offset="0.6622" stop-color="#3dbc74"/><stop offset="0.6663" stop-color="#46c06f"/><stop offset="0.6705" stop-color="#4ac16d"/><stop offset="0.6746" stop-color="#46c06f"/><stop offset="0.6788" stop-color="#3dbc74"/><stop offset="0.6830" stop-color="#35b779"/><stop offset="0.6871" stop-color="#31b57b"/><stop offset="0.6913" stop-color="#2fb47c"/><stop offset="0.6954" stop-color="#2eb37c"/><stop offset="0.6996" stop-color="#31b57b"/><stop offset="0.7037" stop-color="#3dbc74"/><stop offset="0.7079" stop-color="#4ac16d"/><stop offset="0.7121" stop-color="#3dbc74"/><stop offset="0.7162" stop-color="#32b67a"/><stop offset="0.7204" stop-color="#2fb47c"/><stop offset="0.7245" stop-color="#2fb47c"/><stop offset="0.7287" stop-color="#31b57b"/><stop offset="0.7328" stop-color="#3aba76"/><stop offset="0.7370" stop-color="#4ac16d"/><stop offset="0.7412" stop-color="#42be71"/><stop offset="0.7453" stop-color="#34b679"/><stop offset="0.7495" stop-color="#2fb47c"/><stop offset="0.7536" stop-color="#2fb47c"/><stop offset="0.7703" stop-color="#2fb47c"/><stop offset="0.7869" stop-color="#31b57b"/><stop offset="0.8035" stop-color="#31b57b"/><stop offset="0.8202" stop-color="#31b57b"/><stop offset="0.8368" stop-color="#31b57b"/><stop offset="0.8493" stop-color="#32b67a"/><stop offset="0.8534" stop-color="#38b977"/><stop offset="0.8576" stop-color="#4ac16d"/><stop offset="0.8617" stop-color="#63cb5f"/><stop offset="0.8659" stop-color="#6ccd5a"/><stop offset="0.8701" stop-color="#56c667"/><stop offset="0.8742" stop-color="#3dbc74"/><stop offset="0.8784" stop-color="#34b679"/><stop offset="0.8825" stop-color="#31b57b"/><stop offset="0.8867" stop-color="#2fb47c"/><stop offset="0.9033" stop-color="#2eb37c"/><stop offset="0.9200" stop-color="#2db27d"/><stop offset="0.9366" stop-color="#2db27d"/><stop offset="0.9532" stop-color="#2fb47c"/><stop offset="0.9657" stop-color="#28ae80"/><stop offset="0.9699" stop-color="#24aa83"/><stop offset="0.9719" stop-color="#23a983"/><stop offset="0.9740" stop-color="#23a983"/><stop offset="0.9782" stop-color="#23a983"/><stop offset="0.9823" stop-color="#23a983"/><stop offset="0.9865" stop-color="#22a785"/><stop offset="0.9906" stop-color="#22a785"/><stop offset="0.9927" stop-color="#2eb37c"/><stop offset="0.9948" stop-color="#42be71"/><stop offset="0.9990" stop-color="#42be71"/></linearGradient><linearGradient id="g12" x1="0" y1="0" x2="0" y2="1"><stop offset="0.0010" stop-color="#1e9c89"/><stop offset="0.0343" stop-color="#1e9c89"/><stop offset="0.0676" stop-color="#1e9c89"/><stop offset="0.1008" stop-color="#1e9d89"/><stop offset="0.1341" stop-color="#1f9f88"/><stop offset="0.1383" stop-color="#1f9f88"/><stop offset="0.1549" stop-color="#1fa088"/><stop offset="0.1674" stop-color="#1f9f88"/><stop offset="0.1715" stop-color="#1f9f88"/><stop offset="0.2006" stop-color="#1f9e89"/><stop offset="0.2339" stop-color="#1f9e89"/><stop offset="0.2672" stop-color="#1f9e89"/><stop offset="0.3004" stop-color="#1f9e89"/><stop offset="0.3337" stop-color="#1f9f88"/><stop offset="0.3669" stop-color="#1f9f88"/><stop offset="0.4002" stop-color="#1fa188"/><stop offset="0.4044" stop-color="#1fa187"/><stop offset="0.4335" stop-color="#20a486"/><stop offset="0.4667" stop-color="#21a585"/><stop offset="0.5000" stop-color="#21a585"/><stop offset="0.5333" stop-color="#21a685"/><stop offset="0.5624" stop-color="#22a785"/><stop offset="0.5665" stop-color="#23a983"/><stop offset="0.5748" stop-color="#24aa83"/><stop offset="0.5873" stop-color="#25ac82"/><stop offset="0.5998" stop-color="#25ab82"/><stop offset="0.6123" stop-color="#24aa83"/><stop offset="0.6247" stop-color="#24aa83"/><stop offset="0.6372" stop-color="#25ab82"/><stop offset="0.6497" stop-color="#25ab82"/><stop offset="0.6538" stop-color="#25ac82"/><stop offset="0.6580" stop-color="#27ad81"/><stop offset="0.6622" stop-color="#2ab07f"/><stop offset="0.6663" stop-color="#2eb37c"/><stop offset="0.6705" stop-color="#31b57b"/><stop offset="0.6746" stop-color="#2fb47c"/><stop offset="0.6788" stop-color="#2cb17e"/><stop offset="0.6830" stop-color="#28ae80"/><stop offset="0.6871" stop-color="#26ad81"/><stop offset="0.6913" stop-color="#25ac82"/><stop offset="0.6954" stop-color="#25ac82"/><stop offset="0.6996" stop-color="#26ad81"/><stop offset="0.7037" stop-color="#2cb17e"/><stop offset="0.7079" stop-color="#31b57b"/><stop offset="0.7121" stop-color="#2cb17e"/><stop offset="0.7162" stop-color="#26ad81"/><stop offset="0.7204" stop-color="#25ac82"/><stop offset="0.7245" stop-color="#25ac82"/><stop offset="0.7287" stop-color="#26ad81"/><stop offset="0.7328" stop-color="#2ab07f"/><stop offset="0.7370" stop-color="#31b57b"/><stop offset="0.7412" stop-color="#2eb37c"/><stop offset="0.7453" stop-color="#28ae80"/><stop offset="0.7495" stop-color="#26ad81"/><stop offset="0.7536" stop-color="#26ad81"/><stop offset="0.7703" stop-color="#26ad81"/><stop offset="0.7869" stop-color="#26ad81"/><stop offset="0.8035" stop-color="#26ad81"/><stop offset="0.8202" stop-color="#27ad81"/><stop offset="0.8368" stop-color="#27ad81"/><stop offset="0.8493" stop-color="#28ae80"/><stop offset="0.8534" stop-color="#2ab07f"/><stop offset="0.8576" stop-color="#32b67a"/><stop offset="0.8617" stop-color="#3fbc73"/><stop offset="0.8659" stop-color="#42be71"/><stop offset="0.8701" stop-color="#38b977"/><stop offset="0.8742" stop-color="#2db27d"/><stop offset="0.8784" stop-color="#28ae80"/><stop offset="0.8825" stop-color="#27ad81"/><stop offset="0.8867" stop-color="#27ad81"/><stop offset="0.9033" stop-color="#26ad81"/><stop offset="0.9200" stop-color="#26ad81"/><stop offset="0.9366" stop-color="#26ad81"/><stop offset="0.9532" stop-color="#27ad81"/><stop offset="0.9657" stop-color="#25ab82"/><stop offset="0.9699" stop-color="#24aa83"/><stop offset="0.9719" stop-color="#23a983"/><stop offset="0.9740" stop-color="#23a983"/><stop offset="0.9782" stop-color="#23a983"/><stop offset="0.9823" stop-color="#23a983"/><stop offset="0.9865" stop-color="#22a785"/><stop offset="0.9906" stop-color="#22a785"/><stop offset="0.9927" stop-color="#2eb37c"/><stop offset="0.9948" stop-color="#42be71"/><stop offset="0.9990" stop-color="#42be71"/></linearGradient><linearGradient id="g13" x1="0" y1="0" x2="0" y2="1"><stop offset="0.0010" stop-color="#1e9b8a"/><stop offset="0.0343" stop-color="#1e9c89"/><stop offset="0.0676" stop-color="#1e9c89"/><stop offset="0.1008" stop-color="#1e9c89"/><stop offset="0.1341" stop-color="#1f9f88"/><stop offset="0.1383" stop-color="#1f9f88"/><stop offset="0.1549" stop-color="#1f9f88"/><stop offset="0.1674" stop-color="#1f9f88"/><stop offset="0.1715" stop-color="#1f9e89"/><stop offset="0.2006" stop-color="#1e9d89"/><stop offset="0.2339" stop-color="#1e9d89"/><stop offset="0.2672" stop-color="#1e9d89"/><stop offset="0.3004" stop-color="#1e9d89"/><stop offset="0.3337" stop-color="#1e9d89"/><stop offset="0.3669" stop-color="#1e9d89"/><stop offset="0.4002" stop-color="#1f9e89"/><stop offset="0.4044" stop-color="#1f9e89"/><stop offset="0.4335" stop-color="#1f9f88"/><stop offset="0.4667" stop-color="#1fa088"/><stop offset="0.5000" stop-color="#1fa088"/><stop offset="0.5333" stop-color="#1fa188"/><stop offset="0.5624" stop-color="#1fa188"/><stop offset="0.5665" stop-color="#1fa187"/><stop offset="0.5748" stop-color="#20a386"/><stop offset="0.5873" stop-color="#21a685"/><stop offset="0.5998" stop-color="#20a386"/><stop offset="0.6123" stop-color="#1fa287"/><stop offset="0.6247" stop-color="#1fa287"/><stop offset="0.6372" stop-color="#1fa287"/><stop offset="0.6497" stop-color="#20a386"/><stop offset="0.6538" stop-color="#21a585"/><stop offset="0.6580" stop-color="#22a884"/><stop offset="0.6622" stop-color="#26ad81"/><stop offset="0.6663" stop-color="#2ab07f"/><stop offset="0.6705" stop-color="#2db27d"/><stop offset="0.6746" stop-color="#2cb17e"/><stop offset="0.6788" stop-color="#26ad81"/><stop offset="0.6830" stop-color="#23a983"/><stop offset="0.6871" stop-color="#21a585"/><stop offset="0.6913" stop-color="#20a486"/><stop offset="0.6954" stop-color="#20a486"/><stop offset="0.6996" stop-color="#21a685"/><stop offset="0.7037" stop-color="#26ad81"/><stop offset="0.7079" stop-color="#2db27d"/><stop offset="0.7121" stop-color="#26ad81"/><stop offset="0.7162" stop-color="#21a685"/><stop offset="0.7204" stop-color="#20a486"/><stop offset="0.7245" stop-color="#20a486"/><stop offset="0.7287" stop-color="#21a585"/><stop offset="0.7328" stop-color="#25ab82"/><stop offset="0.7370" stop-color="#2db27d"/><stop offset="0.7412" stop-color="#29af7f"/><stop offset="0.7453" stop-color="#22a884"/><stop offset="0.7495" stop-color="#21a585"/><stop offset="0.7536" stop-color="#20a486"/><stop offset="0.7703" stop-color="#20a486"/><stop offset="0.7869" stop-color="#21a585"/><stop offset="0.8035" stop-color="#21a585"/><stop offset="0.8202" stop-color="#21a585"/><stop offset="0.8368" stop-color="#21a685"/><stop offset="0.8493" stop-color="#22a785"/><stop offset="0.8534" stop-color="#24aa83"/><stop offset="0.8576" stop-color="#2eb37c"/><stop offset="0.8617" stop-color="#40bd72"/><stop offset="0.8659" stop-color="#46c06f"/><stop offset="0.8701" stop-color="#37b878"/><stop offset="0.8742" stop-color="#27ad81"/><stop offset="0.8784" stop-color="#22a884"/><stop offset="0.8825" stop-color="#21a685"/><stop offset="0.8867" stop-color="#21a685"/><stop offset="0.9033" stop-color="#21a685"/><stop offset="0.9200" stop-color="#21a685"/><stop offset="0.9366" stop-color="#21a685"/><stop offset="0.9532" stop-color="#22a785"/><stop offset="0.9657" stop-color="#22a785"/><stop offset="0.9699" stop-color="#23a983"/><stop offset="0.9719" stop-color="#23a983"/><stop offset="0.9740" stop-color="#23a983"/><stop offset="0.9782" stop-color="#23a983"/><stop offset="0.9823" stop-color="#23a983"/><stop offset="0.9865" stop-color="#22a785"/><stop offset="0.9906" stop-color="#22a785"/><stop offset="0.9927" stop-color="#2eb37c"/><stop offset="0.9948" stop-color="#42be71"/><stop offset="0.9990" stop-color="#42be71"/></linearGradient><linearGradient id="g14" x1="0" y1="0" x2="0" y2="1"><stop offset="0.0010" stop-color="#1e9c89"/><stop offset="0.0343" stop-color="#1e9c89"/><stop offset="0.0676" stop-color="#1e9c89"/><stop offset="0.1008" stop-color="#1e9c89"/><stop offset="0.1341" stop-color="#1f9f88"/><stop offset="0.1383" stop-color="#1f9f88"/><stop offset="0.1549" stop-color="#1f9f88"/><stop offset="0.1674" stop-color="#1f9f88"/><stop offset="0.1715" stop-color="#1f9e89"/><stop offset="0.2006" stop-color="#1e9d89"/><stop offset="0.2339" stop-color="#1e9d89"/><stop offset="0.2672" stop-color="#1e9d89"/><stop offset="0.3004" stop-color="#1e9d89"/><stop offset="0.3337" stop-color="#1f9e89"/><stop offset="0.3669" stop-color="#1f9e89"/><stop offset="0.4002" stop-color="#1f9e89"/><stop offset="0.4044" stop-color="#1f9f88"/><stop offset="0.4335" stop-color="#1f9f88"/><stop offset="0.4667" stop-color="#1fa088"/><stop offset="0.5000" stop-color="#1fa088"/><stop offset="0.5333" stop-color="#1fa188"/><stop offset="0.5624" stop-color="#1fa187"/><stop offset="0.5665" stop-color="#1fa187"/><stop offset="0.5748" stop-color="#20a386"/><stop offset="0.5873" stop-color="#22a785"/><stop offset="0.5998" stop-color="#20a386"/><stop offset="0.6123" stop-color="#1fa287"/><stop offset="0.6247" stop-color="#1fa287"/><stop offset="0.6372" stop-color="#20a386"/><stop offset="0.6497" stop-color="#20a486"/><stop offset="0.6538" stop-color="#21a685"/><stop offset="0.6580" stop-color="#23a983"/><stop offset="0.6622" stop-color="#27ad81"/><stop offset="0.6663" stop-color="#2eb37c"/><stop offset="0.6705" stop-color="#31b57b"/><stop offset="0.6746" stop-color="#2eb37c"/><stop offset="0.6788" stop-color="#28ae80"/><stop offset="0.6830" stop-color="#24aa83"/><stop offset="0.6871" stop-color="#21a685"/><stop offset="0.6913" stop-color="#21a585"/><stop offset="0.6954" stop-color="#20a486"/><stop offset="0.6996" stop-color="#21a685"/><stop offset="0.7037" stop-color="#28ae80"/><stop offset="0.7079" stop-color="#31b57b"/><stop offset="0.7121" stop-color="#28ae80"/><stop offset="0.7162" stop-color="#22a785"/><stop offset="0.7204" stop-color="#20a486"/><stop offset="0.7245" stop-color="#20a486"/><stop offset="0.7287" stop-color="#21a685"/><stop offset="0.7328" stop-color="#26ad81"/><stop offset="0.7370" stop-color="#31b57b"/><stop offset="0.7412" stop-color="#2cb17e"/><stop offset="0.7453" stop-color="#22a884"/><stop offset="0.7495" stop-color="#21a585"/><stop offset="0.7536" stop-color="#21a585"/><stop offset="0.7703" stop-color="#21a585"/><stop offset="0.7869" stop-color="#21a585"/><stop offset="0.8035" stop-color="#21a585"/><stop offset="0.8202" stop-color="#21a685"/><stop offset="0.8368" stop-color="#21a685"/><stop offset="0.8493" stop-color="#22a785"/><stop offset="0.8534" stop-color="#25ab82"/><stop offset="0.8576" stop-color="#31b57b"/><stop offset="0.8617" stop-color="#46c06f"/><stop offset="0.8659" stop-color="#4ec36b"/><stop offset="0.8701" stop-color="#3bbb75"/><stop offset="0.8742" stop-color="#29af7f"/><stop offset="0.8784" stop-color="#23a983"/><stop offset="0.8825" stop-color="#22a785"/><stop offset="0.8867" stop-color="#21a685"/><stop offset="0.9033" stop-color="#22a785"/><stop offset="0.9200" stop-color="#22a785"/><stop offset="0.9366" stop-color="#22a785"/><stop offset="0.9532" stop-color="#22a785"/><stop offset="0.9657" stop-color="#22a785"/><stop offset="0.9699" stop-color="#23a983"/><stop offset="0.9719" stop-color="#23a983"/><stop offset="0.9740" stop-color="#23a983"/><stop offset="0.9782" stop-color="#23a983"/><stop offset="0.9823" stop-color="#23a983"/><stop offset="0.9865" stop-color="#22a785"/><stop offset="0.9906" stop-color="#22a785"/><stop offset="0.9927" stop-color="#2eb37c"/><stop offset="0.9948" stop-color="#42be71"/><stop offset="0.9990" stop-color="#42be71"/></linearGradient><linearGradient id="g15" x1="0" y1="0" x2="0" y2="1"><stop offset="0.0010" stop-color="#1e9b8a"/><stop offset="0.0343" stop-color="#1e9b8a"/><stop offset="0.0676" stop-color="#1e9b8a"/><stop offset="0.1008" stop-color="#1e9b8a"/><stop offset="0.1341" stop-color="#1f9e89"/><stop offset="0.1383" stop-color="#1f9e89"/><stop offset="0.1549" stop-color="#1f9e89"/><stop offset="0.1674" stop-color="#1f9e89"/><stop offset="0.1715" stop-color="#1f9e89"/><stop offset="0.2006" stop-color="#1e9c89"/><stop offset="0.2339" stop-color="#1e9c89"/><stop offset="0.2672" stop-color="#1e9c89"/><stop offset="0.3004" stop-color="#1e9d89"/><stop offset="0.3337" stop-color="#1e9d89"/><stop offset="0.3669" stop-color="#1e9d89"/><stop offset="0.4002" stop-color="#1e9d89"/><stop offset="0.4044" stop-color="#1e9d89"/><stop offset="0.4335" stop-color="#1e9d89"/><stop offset="0.4667" stop-color="#1f9e89"/><stop offset="0.5000" stop-color="#1f9e89"/><stop offset="0.5333" stop-color="#1f9f88"/><stop offset="0.5624" stop-color="#1f9f88"/><stop offset="0.5665" stop-color="#1f9f88"/><stop offset="0.5748" stop-color="#1fa088"/><stop offset="0.5873" stop-color="#1fa188"/><stop offset="0.5998" stop-color="#1fa188"/><stop offset="0.6123" stop-color="#1fa088"/><stop offset="0.6247" stop-color="#1fa188"/><stop offset="0.6372" stop-color="#1fa188"/><stop offset="0.6497" stop-color="#1fa187"/><stop offset="0.6538" stop-color="#1fa187"/><stop offset="0.6580" stop-color="#1fa287"/><stop offset="0.6622" stop-color="#20a486"/><stop offset="0.6663" stop-color="#21a685"/><stop offset="0.6705" stop-color="#21a685"/><stop offset="0.6746" stop-color="#21a685"/><stop offset="0.6788" stop-color="#20a486"/><stop offset="0.6830" stop-color="#20a386"/><stop offset="0.6871" stop-color="#1fa287"/><stop offset="0.6913" stop-color="#1fa187"/><stop offset="0.6954" stop-color="#1fa187"/><stop offset="0.6996" stop-color="#1fa287"/><stop offset="0.7037" stop-color="#21a585"/><stop offset="0.7079" stop-color="#22a785"/><stop offset="0.7121" stop-color="#21a585"/><stop offset="0.7162" stop-color="#1fa287"/><stop offset="0.7204" stop-color="#1fa187"/><stop offset="0.7245" stop-color="#1fa287"/><stop offset="0.7287" stop-color="#1fa287"/><stop offset="0.7328" stop-color="#20a486"/><stop offset="0.7370" stop-color="#22a785"/><stop offset="0.7412" stop-color="#21a685"/><stop offset="0.7453" stop-color="#20a386"/><stop offset="0.7495" stop-color="#1fa287"/><stop offset="0.7536" stop-color="#1fa287"/><stop offset="0.7703" stop-color="#1fa287"/><stop offset="0.7869" stop-color="#1fa287"/><stop offset="0.8035" stop-color="#20a386"/><stop offset="0.8202" stop-color="#20a386"/><stop offset="0.8368" stop-color="#20a386"/><stop offset="0.8493" stop-color="#20a486"/><stop offset="0.8534" stop-color="#21a585"/><stop offset="0.8576" stop-color="#23a983"/><stop offset="0.8617" stop-color="#27ad81"/><stop offset="0.8659" stop-color="#28ae80"/><stop offset="0.8701" stop-color="#25ac82"/><stop offset="0.8742" stop-color="#22a785"/><stop offset="0.8784" stop-color="#21a585"/><stop offset="0.8825" stop-color="#20a486"/><stop offset="0.8867" stop-color="#20a486"/><stop offset="0.9033" stop-color="#20a486"/><stop offset="0.9200" stop-color="#20a486"/><stop offset="0.9366" stop-color="#21a585"/><stop offset="0.9532" stop-color="#21a585"/><stop offset="0.9657" stop-color="#21a685"/><stop offset="0.9699" stop-color="#22a884"/><stop offset="0.9719" stop-color="#23a983"/><stop offset="0.9740" stop-color="#23a983"/><stop offset="0.9782" stop-color="#23a983"/><stop offset="0.9823" stop-color="#23a983"/><stop offset="0.9865" stop-color="#22a785"/><stop offset="0.9906" stop-color="#22a785"/><stop offset="0.9927" stop-color="#2eb37c"/><stop offset="0.9948" stop-color="#42be71"/><stop offset="0.9990" stop-color="#42be71"/></linearGradient><linearGradient id="g16" x1="0" y1="0" x2="0" y2="1"><stop offset="0.0010" stop-color="#1e9b8a"/><stop offset="0.0343" stop-color="#1e9b8a"/><stop offset="0.0676" stop-color="#1e9b8a"/><stop offset="0.1008" stop-color="#1e9c89"/><stop offset="0.1341" stop-color="#1f9e89"/><stop offset="0.1383" stop-color="#1f9e89"/><stop offset="0.1549" stop-color="#1f9e89"/><stop offset="0.1674" stop-color="#1f9e89"/><stop offset="0.1715" stop-color="#1f9e89"/><stop offset="0.2006" stop-color="#1e9c89"/><stop offset="0.2339" stop-color="#1e9d89"/><stop offset="0.2672" stop-color="#1e9d89"/><stop offset="0.3004" stop-color="#1e9d89"/><stop offset="0.3337" stop-color="#1e9d89"/><stop offset="0.3669" stop-color="#1e9d89"/><stop offset="0.4002" stop-color="#1f9e89"/><stop offset="0.4044" stop-color="#1f9e89"/><stop offset="0.4335" stop-color="#1f9f88"/><stop offset="0.4667" stop-color="#1f9f88"/><stop offset="0.5000" stop-color="#1fa088"/><stop offset="0.5333" stop-color="#1fa088"/><stop offset="0.5624" stop-color="#1fa188"/><stop offset="0.5665" stop-color="#1fa188"/><stop offset="0.5748" stop-color="#1fa187"/><stop offset="0.5873" stop-color="#20a386"/><stop offset="0.5998" stop-color="#1fa287"/><stop offset="0.6123" stop-color="#1fa187"/><stop offset="0.6247" stop-color="#1fa287"/><stop offset="0.6372" stop-color="#1fa287"/><stop offset="0.6497" stop-color="#1fa287"/><stop offset="0.6538" stop-color="#20a386"/><stop offset="0.6580" stop-color="#21a585"/><stop offset="0.6622" stop-color="#22a785"/><stop offset="0.6663" stop-color="#23a983"/><stop offset="0.6705" stop-color="#24aa83"/><stop offset="0.6746" stop-color="#23a983"/><stop offset="0.6788" stop-color="#22a785"/><stop offset="0.6830" stop-color="#21a585"/><stop offset="0.6871" stop-color="#20a486"/><stop offset="0.6913" stop-color="#20a386"/><stop offset="0.6954" stop-color="#20a386"/><stop offset="0.6996" stop-color="#20a486"/><stop offset="0.7037" stop-color="#22a884"/><stop offset="0.7079" stop-color="#25ab82"/><stop offset="0.7121" stop-color="#22a884"/><stop offset="0.7162" stop-color="#20a486"/><stop offset="0.7204" stop-color="#20a386"/><stop offset="0.7245" stop-color="#20a386"/><stop offset="0.7287" stop-color="#20a486"/><stop offset="0.7328" stop-color="#22a785"/><stop offset="0.7370" stop-color="#25ab82"/><stop offset="0.7412" stop-color="#23a983"/><stop offset="0.7453" stop-color="#21a585"/><stop offset="0.7495" stop-color="#20a486"/><stop offset="0.7536" stop-color="#20a486"/><stop offset="0.7703" stop-color="#20a486"/><stop offset="0.7869" stop-color="#20a486"/><stop offset="0.8035" stop-color="#21a585"/><stop offset="0.8202" stop-color="#21a585"/><stop offset="0.8368" stop-color="#21a585"/><stop offset="0.8493" stop-color="#21a685"/><stop offset="0.8534" stop-color="#22a884"/><stop offset="0.8576" stop-color="#25ac82"/><stop offset="0.8617" stop-color="#2cb17e"/><stop offset="0.8659" stop-color="#2eb37c"/><stop offset="0.8701" stop-color="#28ae80"/><stop offset="0.8742" stop-color="#24aa83"/><stop offset="0.8784" stop-color="#22a785"/><stop offset="0.8825" stop-color="#21a685"/><stop offset="0.8867" stop-color="#21a685"/><stop offset="0.9033" stop-color="#21a685"/><stop offset="0.9200" stop-color="#21a685"/><stop offset="0.9366" stop-color="#21a685"/><stop offset="0.9532" stop-color="#22a785"/><stop offset="0.9657" stop-color="#22a785"/><stop offset="0.9699" stop-color="#23a983"/><stop offset="0.9719" stop-color="#23a983"/><stop offset="0.9740" stop-color="#23a983"/><stop offset="0.9782" stop-color="#23a983"/><stop offset="0.9823" stop-color="#23a983"/><stop offset="0.9865" stop-color="#22a785"/><stop offset="0.9906" stop-color="#22a785"/><stop offset="0.9927" stop-color="#2eb37c"/><stop offset="0.9948" stop-color="#42be71"/><stop offset="0.9990" stop-color="#42be71"/></linearGradient><linearGradient id="g17" x1="0" y1="0" x2="0" y2="1"><stop offset="0.0010" stop-color="#1e9c89"/><stop offset="0.0343" stop-color="#1e9c89"/><stop offset="0.0676" stop-color="#1e9c89"/><stop offset="0.1008" stop-color="#1e9d89"/><stop offset="0.1341" stop-color="#1f9f88"/><stop offset="0.1383" stop-color="#1f9f88"/><stop offset="0.1549" stop-color="#1f9f88"/><stop offset="0.1674" stop-color="#1f9f88"/><stop offset="0.1715" stop-color="#1f9f88"/><stop offset="0.2006" stop-color="#1f9e89"/><stop offset="0.2339" stop-color="#1f9e89"/><stop offset="0.2672" stop-color="#1f9e89"/><stop offset="0.3004" stop-color="#1f9e89"/><stop offset="0.3337" stop-color="#1f9f88"/><stop offset="0.3669" stop-color="#1f9f88"/><stop offset="0.4002" stop-color="#1fa188"/><stop offset="0.4044" stop-color="#1fa188"/><stop offset="0.4335" stop-color="#1fa287"/><stop offset="0.4667" stop-color="#20a386"/><stop offset="0.5000" stop-color="#20a486"/><stop offset="0.5333" stop-color="#20a486"/><stop offset="0.5624" stop-color="#21a585"/><stop offset="0.5665" stop-color="#22a785"/><stop offset="0.5748" stop-color="#22a884"/><stop offset="0.5873" stop-color="#25ab82"/><stop offset="0.5998" stop-color="#22a884"/><stop offset="0.6123" stop-color="#22a884"/><stop offset="0.6247" stop-color="#22a884"/><stop offset="0.6372" stop-color="#22a884"/><stop offset="0.6497" stop-color="#23a983"/><stop offset="0.6538" stop-color="#24aa83"/><stop offset="0.6580" stop-color="#26ad81"/><stop offset="0.6622" stop-color="#2ab07f"/><stop offset="0.6663" stop-color="#2fb47c"/><stop offset="0.6705" stop-color="#32b67a"/><stop offset="0.6746" stop-color="#2fb47c"/><stop offset="0.6788" stop-color="#2cb17e"/><stop offset="0.6830" stop-color="#27ad81"/><stop offset="0.6871" stop-color="#25ab82"/><stop offset="0.6913" stop-color="#24aa83"/><stop offset="0.6954" stop-color="#24aa83"/><stop offset="0.6996" stop-color="#25ab82"/><stop offset="0.7037" stop-color="#2cb17e"/><stop offset="0.7079" stop-color="#32b67a"/><stop offset="0.7121" stop-color="#2cb17e"/><stop offset="0.7162" stop-color="#25ab82"/><stop offset="0.7204" stop-color="#24aa83"/><stop offset="0.7245" stop-color="#24aa83"/><stop offset="0.7287" stop-color="#25ab82"/><stop offset="0.7328" stop-color="#29af7f"/><stop offset="0.7370" stop-color="#32b67a"/><stop offset="0.7412" stop-color="#2eb37c"/><stop offset="0.7453" stop-color="#26ad81"/><stop offset="0.7495" stop-color="#24aa83"/><stop offset="0.7536" stop-color="#24aa83"/><stop offset="0.7703" stop-color="#24aa83"/><stop offset="0.7869" stop-color="#25ab82"/><stop offset="0.8035" stop-color="#25ab82"/><stop offset="0.8202" stop-color="#25ab82"/><stop offset="0.8368" stop-color="#25ab82"/><stop offset="0.8493" stop-color="#25ac82"/><stop offset="0.8534" stop-color="#29af7f"/><stop offset="0.8576" stop-color="#34b679"/><stop offset="0.8617" stop-color="#44bf70"/><stop offset="0.8659" stop-color="#4ac16d"/><stop offset="0.8701" stop-color="#3bbb75"/><stop offset="0.8742" stop-color="#2db27d"/><stop offset="0.8784" stop-color="#26ad81"/><stop offset="0.8825" stop-color="#25ac82"/><stop offset="0.8867" stop-color="#25ab82"/><stop offset="0.9033" stop-color="#25ab82"/><stop offset="0.9200" stop-color="#25ab82"/><stop offset="0.9366" stop-color="#25ab82"/><stop offset="0.9532" stop-color="#25ac82"/><stop offset="0.9657" stop-color="#24aa83"/><stop offset="0.9699" stop-color="#23a983"/><stop offset="0.9719" stop-color="#23a983"/><stop offset="0.9740" stop-color="#23a983"/><stop offset="0.9782" stop-color="#23a983"/><stop offset="0.9823" stop-color="#23a983"/><stop offset="0.9865" stop-color="#22a785"/><stop offset="0.9906" stop-color="#22a785"/><stop offset="0.9927" stop-color="#2eb37c"/><stop offset="0.9948" stop-color="#42be71"/><stop offset="0.9990" stop-color="#42be71"/></linearGradient><linearGradient id="g18" x1="0" y1="0" x2="0" y2="1"><stop offset="0.0010" stop-color="#1e9c89"/><stop offset="0.0343" stop-color="#1e9c89"/><stop offset="0.0676" stop-color="#1e9c89"/><stop offset="0.1008" stop-color="#1e9c89"/><stop offset="0.1341" stop-color="#1f9f88"/><stop offset="0.1383" stop-color="#1f9f88"/><stop offset="0.1549" stop-color="#1f9f88"/><stop offset="0.1674" stop-color="#1f9f88"/><stop offset="0.1715" stop-color="#1f9f88"/><stop offset="0.2006" stop-color="#1e9d89"/><stop offset="0.2339" stop-color="#1f9e89"/><stop offset="0.2672" stop-color="#1f9e89"/><stop offset="0.3004" stop-color="#1f9e89"/><stop offset="0.3337" stop-color="#1f9e89"/><stop offset="0.3669" stop-color="#1f9f88"/><stop offset="0.4002" stop-color="#1fa088"/><stop offset="0.4044" stop-color="#1fa188"/><stop offset="0.4335" stop-color="#1fa287"/><stop offset="0.4667" stop-color="#1fa287"/><stop offset="0.5000" stop-color="#20a386"/><stop offset="0.5333" stop-color="#20a486"/><stop offset="0.5624" stop-color="#21a585"/><stop offset="0.5665" stop-color="#21a685"/><stop offset="0.5748" stop-color="#22a785"/><stop offset="0.5873" stop-color="#23a983"/><stop offset="0.5998" stop-color="#22a785"/><stop offset="0.6123" stop-color="#22a785"/><stop offset="0.6247" stop-color="#22a785"/><stop offset="0.6372" stop-color="#22a785"/><stop offset="0.6497" stop-color="#22a884"/><stop offset="0.6538" stop-color="#23a983"/><stop offset="0.6580" stop-color="#25ab82"/><stop offset="0.6622" stop-color="#27ad81"/><stop offset="0.6663" stop-color="#2ab07f"/><stop offset="0.6705" stop-color="#2cb17e"/><stop offset="0.6746" stop-color="#2ab07f"/><stop offset="0.6788" stop-color="#27ad81"/><stop offset="0.6830" stop-color="#25ac82"/><stop offset="0.6871" stop-color="#24aa83"/><stop offset="0.6913" stop-color="#23a983"/><stop offset="0.6954" stop-color="#23a983"/><stop offset="0.6996" stop-color="#24aa83"/><stop offset="0.7037" stop-color="#28ae80"/><stop offset="0.7079" stop-color="#2db27d"/><stop offset="0.7121" stop-color="#28ae80"/><stop offset="0.7162" stop-color="#24aa83"/><stop offset="0.7204" stop-color="#23a983"/><stop offset="0.7245" stop-color="#23a983"/><stop offset="0.7287" stop-color="#24aa83"/><stop offset="0.7328" stop-color="#27ad81"/><stop offset="0.7370" stop-color="#2db27d"/><stop offset="0.7412" stop-color="#2ab07f"/><stop offset="0.7453" stop-color="#25ab82"/><stop offset="0.7495" stop-color="#24aa83"/><stop offset="0.7536" stop-color="#23a983"/><stop offset="0.7703" stop-color="#24aa83"/><stop offset="0.7869" stop-color="#24aa83"/><stop offset="0.8035" stop-color="#24aa83"/><stop offset="0.8202" stop-color="#24aa83"/><stop offset="0.8368" stop-color="#25ab82"/><stop offset="0.8493" stop-color="#25ab82"/><stop offset="0.8534" stop-color="#27ad81"/><stop offset="0.8576" stop-color="#2eb37c"/><stop offset="0.8617" stop-color="#38b977"/><stop offset="0.8659" stop-color="#3dbc74"/><stop offset="0.8701" stop-color="#34b679"/><stop offset="0.8742" stop-color="#29af7f"/><stop offset="0.8784" stop-color="#25ac82"/><stop offset="0.8825" stop-color="#25ab82"/><stop offset="0.8867" stop-color="#25ab82"/><stop offset="0.9033" stop-color="#25ab82"/><stop offset="0.9200" stop-color="#24aa83"/><stop offset="0.9366" stop-color="#24aa83"/><stop offset="0.9532" stop-color="#25ab82"/><stop offset="0.9657" stop-color="#23a983"/><stop offset="0.9699" stop-color="#23a983"/><stop offset="0.9719" stop-color="#23a983"/><stop offset="0.9740" stop-color="#23a983"/><stop offset="0.9782" stop-color="#23a983"/><stop offset="0.9823" stop-color="#23a983"/><stop offset="0.9865" stop-color="#22a785"/><stop offset="0.9906" stop-color="#22a785"/><stop offset="0.9927" stop-color="#2eb37c"/><stop offset="0.9948" stop-color="#42be71"/><stop offset="0.9990" stop-color="#42be71"/></linearGradient><linearGradient id="g19" x1="0" y1="0" x2="0" y2="1"><stop offset="0.0010" stop-color="#1e9b8a"/><stop offset="0.0343" stop-color="#1e9c89"/><stop offset="0.0676" stop-color="#1e9c89"/><stop offset="0.1008" stop-color="#1e9c89"/><stop offset="0.1341" stop-color="#1f9f88"/><stop offset="0.1383" stop-color="#1f9f88"/><stop offset="0.1549" stop-color="#1f9f88"/><stop offset="0.1674" stop-color="#1f9f88"/><stop offset="0.1715" stop-color="#1f9e89"/><stop offset="0.2006" stop-color="#1e9d89"/><stop offset="0.2339" stop-color="#1e9d89"/><stop offset="0.2672" stop-color="#1e9d89"/><stop offset="0.3004" stop-color="#1e9d89"/><stop offset="0.3337" stop-color="#1e9d89"/><stop offset="0.3669" stop-color="#1e9d89"/><stop offset="0.4002" stop-color="#1f9e89"/><stop offset="0.4044" stop-color="#1f9e89"/><stop offset="0.4335" stop-color="#1f9f88"/><stop offset="0.4667" stop-color="#1fa088"/><stop offset="0.5000" stop-color="#1fa088"/><stop offset="0.5333" stop-color="#1fa188"/><stop offset="0.5624" stop-color="#1fa188"/><stop offset="0.5665" stop-color="#1fa187"/><stop offset="0.5748" stop-color="#1fa287"/><stop offset="0.5873" stop-color="#21a585"/><stop offset="0.5998" stop-color="#20a386"/><stop offset="0.6123" stop-color="#1fa287"/><stop offset="0.6247" stop-color="#1fa287"/><stop offset="0.6372" stop-color="#1fa287"/><stop offset="0.6497" stop-color="#20a386"/><stop offset="0.6538" stop-color="#21a585"/><stop offset="0.6580" stop-color="#22a785"/><stop offset="0.6622" stop-color="#25ab82"/><stop offset="0.6663" stop-color="#27ad81"/><stop offset="0.6705" stop-color="#29af7f"/><stop offset="0.6746" stop-color="#28ae80"/><stop offset="0.6788" stop-color="#25ab82"/><stop offset="0.6830" stop-color="#22a884"/><stop offset="0.6871" stop-color="#21a585"/><stop offset="0.6913" stop-color="#20a486"/><stop offset="0.6954" stop-color="#20a486"/><stop offset="0.6996" stop-color="#21a585"/><stop offset="0.7037" stop-color="#25ab82"/><stop offset="0.7079" stop-color="#29af7f"/><stop offset="0.7121" stop-color="#25ab82"/><stop offset="0.7162" stop-color="#21a685"/><stop offset="0.7204" stop-color="#20a486"/><stop offset="0.7245" stop-color="#20a486"/><stop offset="0.7287" stop-color="#21a585"/><stop offset="0.7328" stop-color="#24aa83"/><stop offset="0.7370" stop-color="#29af7f"/><stop offset="0.7412" stop-color="#27ad81"/><stop offset="0.7453" stop-color="#22a785"/><stop offset="0.7495" stop-color="#21a585"/><stop offset="0.7536" stop-color="#20a486"/><stop offset="0.7703" stop-color="#21a585"/><stop offset="0.7869" stop-color="#21a585"/><stop offset="0.8035" stop-color="#21a585"/><stop offset="0.8202" stop-color="#21a585"/><stop offset="0.8368" stop-color="#21a685"/><stop offset="0.8493" stop-color="#22a785"/><stop offset="0.8534" stop-color="#24aa83"/><stop offset="0.8576" stop-color="#2ab07f"/><stop offset="0.8617" stop-color="#38b977"/><stop offset="0.8659" stop-color="#3dbc74"/><stop offset="0.8701" stop-color="#31b57b"/><stop offset="0.8742" stop-color="#26ad81"/><stop offset="0.8784" stop-color="#22a884"/><stop offset="0.8825" stop-color="#21a685"/><stop offset="0.8867" stop-color="#21a685"/><stop offset="0.9033" stop-color="#21a685"/><stop offset="0.9200" stop-color="#21a685"/><stop offset="0.9366" stop-color="#22a785"/><stop offset="0.9532" stop-color="#22a785"/><stop offset="0.9657" stop-color="#22a785"/><stop offset="0.9699" stop-color="#23a983"/><stop offset="0.9719" stop-color="#23a983"/><stop offset="0.9740" stop-color="#23a983"/><stop offset="0.9782" stop-color="#23a983"/><stop offset="0.9823" stop-color="#23a983"/><stop offset="0.9865" stop-color="#22a785"/><stop offset="0.9906" stop-color="#22a785"/><stop offset="0.9927" stop-color="#2eb37c"/><stop offset="0.9948" stop-color="#42be71"/><stop offset="0.9990" stop-color="#42be71"/></linearGradient><linearGradient id="g20" x1="0" y1="0" x2="0" y2="1"><stop offset="0.0010" stop-color="#1e9c89"/><stop offset="0.0343" stop-color="#1e9d89"/><stop offset="0.0676" stop-color="#1e9d89"/><stop offset="0.1008" stop-color="#1e9d89"/><stop offset="0.1341" stop-color="#1fa088"/><stop offset="0.1383" stop-color="#1fa088"/><stop offset="0.1549" stop-color="#1fa088"/><stop offset="0.1674" stop-color="#1fa088"/><stop offset="0.1715" stop-color="#1fa088"/><stop offset="0.2006" stop-color="#1f9f88"/><stop offset="0.2339" stop-color="#1f9f88"/><stop offset="0.2672" stop-color="#1f9f88"/><stop offset="0.3004" stop-color="#1f9f88"/><stop offset="0.3337" stop-color="#1fa088"/><stop offset="0.3669" stop-color="#1fa188"/><stop offset="0.4002" stop-color="#1fa287"/><stop offset="0.4044" stop-color="#20a486"/><stop offset="0.4335" stop-color="#22a785"/><stop offset="0.4667" stop-color="#22a785"/><stop offset="0.5000" stop-color="#22a884"/><stop offset="0.5333" stop-color="#23a983"/><stop offset="0.5624" stop-color="#24aa83"/><stop offset="0.5665" stop-color="#26ad81"/><stop offset="0.5748" stop-color="#27ad81"/><stop offset="0.5873" stop-color="#29af7f"/><stop offset="0.5998" stop-color="#27ad81"/><stop offset="0.6123" stop-color="#26ad81"/><stop offset="0.6247" stop-color="#27ad81"/><stop offset="0.6372" stop-color="#27ad81"/><stop offset="0.6497" stop-color="#28ae80"/><stop offset="0.6538" stop-color="#29af7f"/><stop offset="0.6580" stop-color="#2cb17e"/><stop offset="0.6622" stop-color="#2fb47c"/><stop offset="0.6663" stop-color="#34b679"/><stop offset="0.6705" stop-color="#35b779"/><stop offset="0.6746" stop-color="#34b679"/><stop offset="0.6788" stop-color="#2fb47c"/><stop offset="0.6830" stop-color="#2cb17e"/><stop offset="0.6871" stop-color="#29af7f"/><stop offset="0.6913" stop-color="#28ae80"/><stop offset="0.6954" stop-color="#28ae80"/><stop offset="0.6996" stop-color="#2ab07f"/><stop offset="0.7037" stop-color="#2fb47c"/><stop offset="0.7079" stop-color="#37b878"/><stop offset="0.7121" stop-color="#31b57b"/><stop offset="0.7162" stop-color="#2ab07f"/><stop offset="0.7204" stop-color="#29af7f"/><stop offset="0.7245" stop-color="#29af7f"/><stop offset="0.7287" stop-color="#29af7f"/><stop offset="0.7328" stop-color="#2eb37c"/><stop offset="0.7370" stop-color="#37b878"/><stop offset="0.7412" stop-color="#34b679"/><stop offset="0.7453" stop-color="#2cb17e"/><stop offset="0.7495" stop-color="#29af7f"/><stop offset="0.7536" stop-color="#29af7f"/><stop offset="0.7703" stop-color="#29af7f"/><stop offset="0.7869" stop-color="#29af7f"/><stop offset="0.8035" stop-color="#2ab07f"/><stop offset="0.8202" stop-color="#2ab07f"/><stop offset="0.8368" stop-color="#2ab07f"/><stop offset="0.8493" stop-color="#2cb17e"/><stop offset="0.8534" stop-color="#2eb37c"/><stop offset="0.8576" stop-color="#38b977"/><stop offset="0.8617" stop-color="#44bf70"/><stop offset="0.8659" stop-color="#4ac16d"/><stop offset="0.8701" stop-color="#3dbc74"/><stop offset="0.8742" stop-color="#32b67a"/><stop offset="0.8784" stop-color="#2cb17e"/><stop offset="0.8825" stop-color="#2ab07f"/><stop offset="0.8867" stop-color="#2ab07f"/><stop offset="0.9033" stop-color="#29af7f"/><stop offset="0.9200" stop-color="#29af7f"/><stop offset="0.9366" stop-color="#28ae80"/><stop offset="0.9532" stop-color="#2ab07f"/><stop offset="0.9657" stop-color="#26ad81"/><stop offset="0.9699" stop-color="#24aa83"/><stop offset="0.9719" stop-color="#23a983"/><stop offset="0.9740" stop-color="#23a983"/><stop offset="0.9782" stop-color="#23a983"/><stop offset="0.9823" stop-color="#23a983"/><stop offset="0.9865" stop-color="#22a785"/><stop offset="0.9906" stop-color="#22a785"/><stop offset="0.9927" stop-color="#2eb37c"/><stop offset="0.9948" stop-color="#42be71"/><stop offset="0.9990" stop-color="#42be71"/></linearGradient><linearGradient id="g21" x1="0" y1="0" x2="0" y2="1"><stop offset="0.0010" stop-color="#1e9b8a"/><stop offset="0.0343" stop-color="#1e9b8a"/><stop offset="0.0676" stop-color="#1e9c89"/><stop offset="0.1008" stop-color="#1e9c89"/><stop offset="0.1341" stop-color="#1f9e89"/><stop offset="0.1383" stop-color="#1f9e89"/><stop offset="0.1549" stop-color="#1f9e89"/><stop offset="0.1674" stop-color="#1f9e89"/><stop offset="0.1715" stop-color="#1f9e89"/><stop offset="0.2006" stop-color="#1e9d89"/><stop offset="0.2339" stop-color="#1e9d89"/><stop offset="0.2672" stop-color="#1e9d89"/><stop offset="0.3004" stop-color="#1e9d89"/><stop offset="0.3337" stop-color="#1e9d89"/><stop offset="0.3669" stop-color="#1e9d89"/><stop offset="0.4002" stop-color="#1f9e89"/><stop offset="0.4044" stop-color="#1f9f88"/><stop offset="0.4335" stop-color="#1fa088"/><stop offset="0.4667" stop-color="#1fa088"/><stop offset="0.5000" stop-color="#1fa188"/><stop offset="0.5333" stop-color="#1fa188"/><stop offset="0.5624" stop-color="#1fa187"/><stop offset="0.5665" stop-color="#1fa287"/><stop offset="0.5748" stop-color="#20a386"/><stop offset="0.5873" stop-color="#21a585"/><stop offset="0.5998" stop-color="#20a386"/><stop offset="0.6123" stop-color="#20a386"/><stop offset="0.6247" stop-color="#20a386"/><stop offset="0.6372" stop-color="#20a386"/><stop offset="0.6497" stop-color="#20a486"/><stop offset="0.6538" stop-color="#21a585"/><stop offset="0.6580" stop-color="#22a785"/><stop offset="0.6622" stop-color="#25ab82"/><stop offset="0.6663" stop-color="#27ad81"/><stop offset="0.6705" stop-color="#28ae80"/><stop offset="0.6746" stop-color="#27ad81"/><stop offset="0.6788" stop-color="#25ab82"/><stop offset="0.6830" stop-color="#22a884"/><stop offset="0.6871" stop-color="#21a685"/><stop offset="0.6913" stop-color="#21a585"/><stop offset="0.6954" stop-color="#21a585"/><stop offset="0.6996" stop-color="#21a685"/><stop offset="0.7037" stop-color="#25ab82"/><stop offset="0.7079" stop-color="#28ae80"/><stop offset="0.7121" stop-color="#25ab82"/><stop offset="0.7162" stop-color="#21a685"/><stop offset="0.7204" stop-color="#21a585"/><stop offset="0.7245" stop-color="#21a585"/><stop offset="0.7287" stop-color="#21a685"/><stop offset="0.7328" stop-color="#24aa83"/><stop offset="0.7370" stop-color="#29af7f"/><stop offset="0.7412" stop-color="#26ad81"/><stop offset="0.7453" stop-color="#22a884"/><stop offset="0.7495" stop-color="#21a685"/><stop offset="0.7536" stop-color="#21a585"/><stop offset="0.7703" stop-color="#21a685"/><stop offset="0.7869" stop-color="#21a685"/><stop offset="0.8035" stop-color="#21a685"/><stop offset="0.8202" stop-color="#21a685"/><stop offset="0.8368" stop-color="#22a785"/><stop offset="0.8493" stop-color="#22a785"/><stop offset="0.8534" stop-color="#24aa83"/><stop offset="0.8576" stop-color="#29af7f"/><stop offset="0.8617" stop-color="#35b779"/><stop offset="0.8659" stop-color="#38b977"/><stop offset="0.8701" stop-color="#2fb47c"/><stop offset="0.8742" stop-color="#26ad81"/><stop offset="0.8784" stop-color="#22a884"/><stop offset="0.8825" stop-color="#22a785"/><stop offset="0.8867" stop-color="#22a785"/><stop offset="0.9033" stop-color="#22a785"/><stop offset="0.9200" stop-color="#22a785"/><stop offset="0.9366" stop-color="#22a785"/><stop offset="0.9532" stop-color="#22a884"/><stop offset="0.9657" stop-color="#22a785"/><stop offset="0.9699" stop-color="#23a983"/><stop offset="0.9719" stop-color="#23a983"/><stop offset="0.9740" stop-color="#23a983"/><stop offset="0.9782" stop-color="#23a983"/><stop offset="0.9823" stop-color="#23a983"/><stop offset="0.9865" stop-color="#22a785"/><stop offset="0.9906" stop-color="#22a785"/><stop offset="0.9927" stop-color="#2eb37c"/><stop offset="0.9948" stop-color="#42be71"/><stop offset="0.9990" stop-color="#42be71"/></linearGradient><linearGradient id="g22" x1="0" y1="0" x2="0" y2="1"><stop offset="0.0010" stop-color="#1e9c89"/><stop offset="0.0343" stop-color="#1e9c89"/><stop offset="0.0676" stop-color="#1e9c89"/><stop offset="0.1008" stop-color="#1e9c89"/><stop offset="0.1341" stop-color="#1f9f88"/><stop offset="0.1383" stop-color="#1f9f88"/><stop offset="0.1549" stop-color="#1f9f88"/><stop offset="0.1674" stop-color="#1f9f88"/><stop offset="0.1715" stop-color="#1f9e89"/><stop offset="0.2006" stop-color="#1e9d89"/><stop offset="0.2339" stop-color="#1e9d89"/><stop offset="0.2672" stop-color="#1e9d89"/><stop offset="0.3004" stop-color="#1e9d89"/><stop offset="0.3337" stop-color="#1f9e89"/><stop offset="0.3669" stop-color="#1f9e89"/><stop offset="0.4002" stop-color="#1f9f88"/><stop offset="0.4044" stop-color="#1f9f88"/><stop offset="0.4335" stop-color="#1fa188"/><stop offset="0.4667" stop-color="#1fa188"/><stop offset="0.5000" stop-color="#1fa187"/><stop offset="0.5333" stop-color="#1fa187"/><stop offset="0.5624" stop-color="#1fa287"/><stop offset="0.5665" stop-color="#20a386"/><stop offset="0.5748" stop-color="#20a486"/><stop offset="0.5873" stop-color="#21a685"/><stop offset="0.5998" stop-color="#20a486"/><stop offset="0.6123" stop-color="#20a486"/><stop offset="0.6247" stop-color="#20a486"/><stop offset="0.6372" stop-color="#21a585"/><stop offset="0.6497" stop-color="#21a585"/><stop offset="0.6538" stop-color="#21a685"/><stop offset="0.6580" stop-color="#22a884"/><stop offset="0.6622" stop-color="#24aa83"/><stop offset="0.6663" stop-color="#26ad81"/><stop offset="0.6705" stop-color="#27ad81"/><stop offset="0.6746" stop-color="#26ad81"/><stop offset="0.6788" stop-color="#25ab82"/><stop offset="0.6830" stop-color="#22a884"/><stop offset="0.6871" stop-color="#22a785"/><stop offset="0.6913" stop-color="#21a685"/><stop offset="0.6954" stop-color="#21a685"/><stop offset="0.6996" stop-color="#22a785"/><stop offset="0.7037" stop-color="#25ab82"/><stop offset="0.7079" stop-color="#27ad81"/><stop offset="0.7121" stop-color="#25ab82"/><stop offset="0.7162" stop-color="#22a785"/><stop offset="0.7204" stop-color="#21a685"/><stop offset="0.7245" stop-color="#21a685"/><stop offset="0.7287" stop-color="#22a785"/><stop offset="0.7328" stop-color="#24aa83"/><stop offset="0.7370" stop-color="#28ae80"/><stop offset="0.7412" stop-color="#26ad81"/><stop offset="0.7453" stop-color="#22a884"/><stop offset="0.7495" stop-color="#22a785"/><stop offset="0.7536" stop-color="#22a785"/><stop offset="0.7703" stop-color="#22a785"/><stop offset="0.7869" stop-color="#22a785"/><stop offset="0.8035" stop-color="#22a785"/><stop offset="0.8202" stop-color="#22a884"/><stop offset="0.8368" stop-color="#22a884"/><stop offset="0.8493" stop-color="#23a983"/><stop offset="0.8534" stop-color="#25ab82"/><stop offset="0.8576" stop-color="#29af7f"/><stop offset="0.8617" stop-color="#32b67a"/><stop offset="0.8659" stop-color="#34b679"/><stop offset="0.8701" stop-color="#2db27d"/><stop offset="0.8742" stop-color="#26ad81"/><stop offset="0.8784" stop-color="#23a983"/><stop offset="0.8825" stop-color="#22a884"/><stop offset="0.8867" stop-color="#22a884"/><stop offset="0.9033" stop-color="#22a884"/><stop offset="0.9200" stop-color="#22a884"/><stop offset="0.9366" stop-color="#22a884"/><stop offset="0.9532" stop-color="#23a983"/><stop offset="0.9657" stop-color="#22a884"/><stop offset="0.9699" stop-color="#23a983"/><stop offset="0.9719" stop-color="#23a983"/><stop offset="0.9740" stop-color="#23a983"/><stop offset="0.9782" stop-color="#23a983"/><stop offset="0.9823" stop-color="#23a983"/><stop offset="0.9865" stop-color="#22a785"/><stop offset="0.9906" stop-color="#22a785"/><stop offset="0.9927" stop-color="#2eb37c"/><stop offset="0.9948" stop-color="#42be71"/><stop offset="0.9990" stop-color="#42be71"/></linearGradient><linearGradient id="g23" x1="0" y1="0" x2="0" y2="1"><stop offset="0.0010" stop-color="#1e9b8a"/><stop offset="0.0343" stop-color="#1e9b8a"/><stop offset="0.0676" stop-color="#1e9b8a"/><stop offset="0.1008" stop-color="#1e9c89"/><stop offset="0.1341" stop-color="#1f9e89"/><stop offset="0.1383" stop-color="#1f9e89"/><stop offset="0.1549" stop-color="#1f9e89"/><stop offset="0.1674" stop-color="#1f9e89"/><stop offset="0.1715" stop-color="#1f9e89"/><stop offset="0.2006" stop-color="#1e9c89"/><stop offset="0.2339" stop-color="#1e9c89"/><stop offset="0.2672" stop-color="#1e9d89"/><stop offset="0.3004" stop-color="#1e9d89"/><stop offset="0.3337" stop-color="#1e9d89"/><stop offset="0.3669" stop-color="#1e9d89"/><stop offset="0.4002" stop-color="#1e9d89"/><stop offset="0.4044" stop-color="#1e9d89"/><stop offset="0.4335" stop-color="#1f9e89"/><stop offset="0.4667" stop-color="#1f9f88"/><stop offset="0.5000" stop-color="#1f9f88"/><stop offset="0.5333" stop-color="#1fa088"/><stop offset="0.5624" stop-color="#1fa088"/><stop offset="0.5665" stop-color="#1fa088"/><stop offset="0.5748" stop-color="#1fa188"/><stop offset="0.5873" stop-color="#1fa287"/><stop offset="0.5998" stop-color="#1fa187"/><stop offset="0.6123" stop-color="#1fa188"/><stop offset="0.6247" stop-color="#1fa187"/><stop offset="0.6372" stop-color="#1fa187"/><stop offset="0.6497" stop-color="#1fa287"/><stop offset="0.6538" stop-color="#1fa287"/><stop offset="0.6580" stop-color="#20a486"/><stop offset="0.6622" stop-color="#21a685"/><stop offset="0.6663" stop-color="#22a884"/><stop offset="0.6705" stop-color="#22a884"/><stop offset="0.6746" stop-color="#22a884"/><stop offset="0.6788" stop-color="#21a685"/><stop offset="0.6830" stop-color="#20a486"/><stop offset="0.6871" stop-color="#20a386"/><stop offset="0.6913" stop-color="#1fa287"/><stop offset="0.6954" stop-color="#1fa287"/><stop offset="0.6996" stop-color="#20a386"/><stop offset="0.7037" stop-color="#21a685"/><stop offset="0.7079" stop-color="#23a983"/><stop offset="0.7121" stop-color="#21a685"/><stop offset="0.7162" stop-color="#20a386"/><stop offset="0.7204" stop-color="#20a386"/><stop offset="0.7245" stop-color="#20a386"/><stop offset="0.7287" stop-color="#20a386"/><stop offset="0.7328" stop-color="#21a685"/><stop offset="0.7370" stop-color="#23a983"/><stop offset="0.7412" stop-color="#22a884"/><stop offset="0.7453" stop-color="#20a486"/><stop offset="0.7495" stop-color="#20a386"/><stop offset="0.7536" stop-color="#20a386"/><stop offset="0.7703" stop-color="#20a386"/><stop offset="0.7869" stop-color="#20a486"/><stop offset="0.8035" stop-color="#20a486"/><stop offset="0.8202" stop-color="#20a486"/><stop offset="0.8368" stop-color="#20a486"/><stop offset="0.8493" stop-color="#21a585"/><stop offset="0.8534" stop-color="#22a785"/><stop offset="0.8576" stop-color="#25ab82"/><stop offset="0.8617" stop-color="#29af7f"/><stop offset="0.8659" stop-color="#2cb17e"/><stop offset="0.8701" stop-color="#27ad81"/><stop offset="0.8742" stop-color="#23a983"/><stop offset="0.8784" stop-color="#21a685"/><stop offset="0.8825" stop-color="#21a585"/><stop offset="0.8867" stop-color="#21a585"/><stop offset="0.9033" stop-color="#21a585"/><stop offset="0.9200" stop-color="#21a585"/><stop offset="0.9366" stop-color="#21a585"/><stop offset="0.9532" stop-color="#21a685"/><stop offset="0.9657" stop-color="#21a685"/><stop offset="0.9699" stop-color="#23a983"/><stop offset="0.9719" stop-color="#23a983"/><stop offset="0.9740" stop-color="#23a983"/><stop offset="0.9782" stop-color="#23a983"/><stop offset="0.9823" stop-color="#23a983"/><stop offset="0.9865" stop-color="#22a785"/><stop offset="0.9906" stop-color="#22a785"/><stop offset="0.9927" stop-color="#2eb37c"/><stop offset="0.9948" stop-color="#42be71"/><stop offset="0.9990" stop-color="#42be71"/></linearGradient><linearGradient id="g24" x1="0" y1="0" x2="0" y2="1"><stop offset="0.0010" stop-color="#1e9c89"/><stop offset="0.0343" stop-color="#1e9c89"/><stop offset="0.0676" stop-color="#1e9c89"/><stop offset="0.1008" stop-color="#1e9c89"/><stop offset="0.1341" stop-color="#1f9f88"/><stop offset="0.1383" stop-color="#1f9f88"/><stop offset="0.1549" stop-color="#1f9f88"/><stop offset="0.1674" stop-color="#1f9f88"/><stop offset="0.1715" stop-color="#1f9f88"/><stop offset="0.2006" stop-color="#1f9e89"/><stop offset="0.2339" stop-color="#1f9e89"/><stop offset="0.2672" stop-color="#1f9e89"/><stop offset="0.3004" stop-color="#1f9e89"/><stop offset="0.3337" stop-color="#1f9e89"/><stop offset="0.3669" stop-color="#1f9f88"/><stop offset="0.4002" stop-color="#1fa188"/><stop offset="0.4044" stop-color="#1fa187"/><stop offset="0.4335" stop-color="#20a386"/><stop offset="0.4667" stop-color="#20a386"/><stop offset="0.5000" stop-color="#20a486"/><stop offset="0.5333" stop-color="#21a585"/><stop offset="0.5624" stop-color="#21a685"/><stop offset="0.5665" stop-color="#22a785"/><stop offset="0.5748" stop-color="#22a884"/><stop offset="0.5873" stop-color="#24aa83"/><stop offset="0.5998" stop-color="#23a983"/><stop offset="0.6123" stop-color="#22a884"/><stop offset="0.6247" stop-color="#22a884"/><stop offset="0.6372" stop-color="#23a983"/><stop offset="0.6497" stop-color="#23a983"/><stop offset="0.6538" stop-color="#24aa83"/><stop offset="0.6580" stop-color="#25ac82"/><stop offset="0.6622" stop-color="#28ae80"/><stop offset="0.6663" stop-color="#2cb17e"/><stop offset="0.6705" stop-color="#2db27d"/><stop offset="0.6746" stop-color="#2cb17e"/><stop offset="0.6788" stop-color="#29af7f"/><stop offset="0.6830" stop-color="#26ad81"/><stop offset="0.6871" stop-color="#25ab82"/><stop offset="0.6913" stop-color="#24aa83"/><stop offset="0.6954" stop-color="#24aa83"/><stop offset="0.6996" stop-color="#25ab82"/><stop offset="0.7037" stop-color="#29af7f"/><stop offset="0.7079" stop-color="#2eb37c"/><stop offset="0.7121" stop-color="#29af7f"/><stop offset="0.7162" stop-color="#25ab82"/><stop offset="0.7204" stop-color="#24aa83"/><stop offset="0.7245" stop-color="#24aa83"/><stop offset="0.7287" stop-color="#25ab82"/><stop offset="0.7328" stop-color="#28ae80"/><stop offset="0.7370" stop-color="#2eb37c"/><stop offset="0.7412" stop-color="#2cb17e"/><stop offset="0.7453" stop-color="#26ad81"/><stop offset="0.7495" stop-color="#25ab82"/><stop offset="0.7536" stop-color="#25ab82"/><stop offset="0.7703" stop-color="#25ab82"/><stop offset="0.7869" stop-color="#25ab82"/><stop offset="0.8035" stop-color="#25ab82"/><stop offset="0.8202" stop-color="#25ac82"/><stop offset="0.8368" stop-color="#25ac82"/><stop offset="0.8493" stop-color="#26ad81"/><stop offset="0.8534" stop-color="#28ae80"/><stop offset="0.8576" stop-color="#2fb47c"/><stop offset="0.8617" stop-color="#3aba76"/><stop offset="0.8659" stop-color="#3dbc74"/><stop offset="0.8701" stop-color="#35b779"/><stop offset="0.8742" stop-color="#2ab07f"/><stop offset="0.8784" stop-color="#26ad81"/><stop offset="0.8825" stop-color="#25ac82"/><stop offset="0.8867" stop-color="#25ac82"/><stop offset="0.9033" stop-color="#25ac82"/><stop offset="0.9200" stop-color="#25ab82"/><stop offset="0.9366" stop-color="#25ab82"/><stop offset="0.9532" stop-color="#25ac82"/><stop offset="0.9657" stop-color="#24aa83"/><stop offset="0.9699" stop-color="#23a983"/><stop offset="0.9719" stop-color="#23a983"/><stop offset="0.9740" stop-color="#23a983"/><stop offset="0.9782" stop-color="#23a983"/><stop offset="0.9823" stop-color="#23a983"/><stop offset="0.9865" stop-color="#22a785"/><stop offset="0.9906" stop-color="#22a785"/><stop offset="0.9927" stop-color="#2eb37c"/><stop offset="0.9948" stop-color="#42be71"/><stop offset="0.9990" stop-color="#42be71"/></linearGradient><linearGradient id="g25" x1="0" y1="0" x2="0" y2="1"><stop offset="0.0010" stop-color="#1e9b8a"/><stop offset="0.0343" stop-color="#1e9b8a"/><stop offset="0.0676" stop-color="#1e9b8a"/><stop offset="0.1008" stop-color="#1e9b8a"/><stop offset="0.1341" stop-color="#1f9e89"/><stop offset="0.1383" stop-color="#1f9e89"/><stop offset="0.1549" stop-color="#1f9e89"/><stop offset="0.1674" stop-color="#1f9e89"/><stop offset="0.1715" stop-color="#1f9e89"/><stop offset="0.2006" stop-color="#1e9c89"/><stop offset="0.2339" stop-color="#1e9c89"/><stop offset="0.2672" stop-color="#1e9c89"/><stop offset="0.3004" stop-color="#1e9c89"/><stop offset="0.3337" stop-color="#1e9d89"/><stop offset="0.3669" stop-color="#1e9d89"/><stop offset="0.4002" stop-color="#1e9d89"/><stop offset="0.4044" stop-color="#1e9d89"/><stop offset="0.4335" stop-color="#1e9d89"/><stop offset="0.4667" stop-color="#1f9e89"/><stop offset="0.5000" stop-color="#1f9e89"/><stop offset="0.5333" stop-color="#1f9f88"/><stop offset="0.5624" stop-color="#1f9f88"/><stop offset="0.5665" stop-color="#1f9f88"/><stop offset="0.5748" stop-color="#1fa088"/><stop offset="0.5873" stop-color="#1fa088"/><stop offset="0.5998" stop-color="#1fa088"/><stop offset="0.6123" stop-color="#1fa088"/><stop offset="0.6247" stop-color="#1fa188"/><stop offset="0.6372" stop-color="#1fa188"/><stop offset="0.6497" stop-color="#1fa188"/><stop offset="0.6538" stop-color="#1fa187"/><stop offset="0.6580" stop-color="#1fa187"/><stop offset="0.6622" stop-color="#1fa187"/><stop offset="0.6663" stop-color="#1fa287"/><stop offset="0.6705" stop-color="#1fa287"/><stop offset="0.6746" stop-color="#1fa287"/><stop offset="0.6788" stop-color="#1fa287"/><stop offset="0.6830" stop-color="#1fa187"/><stop offset="0.6871" stop-color="#1fa187"/><stop offset="0.6913" stop-color="#1fa187"/><stop offset="0.6954" stop-color="#1fa187"/><stop offset="0.6996" stop-color="#1fa187"/><stop offset="0.7037" stop-color="#1fa287"/><stop offset="0.7079" stop-color="#20a386"/><stop offset="0.7121" stop-color="#1fa287"/><stop offset="0.7162" stop-color="#1fa287"/><stop offset="0.7204" stop-color="#1fa287"/><stop offset="0.7245" stop-color="#1fa287"/><stop offset="0.7287" stop-color="#1fa287"/><stop offset="0.7328" stop-color="#20a386"/><stop offset="0.7370" stop-color="#20a386"/><stop offset="0.7412" stop-color="#20a386"/><stop offset="0.7453" stop-color="#1fa287"/><stop offset="0.7495" stop-color="#1fa287"/><stop offset="0.7536" stop-color="#1fa287"/><stop offset="0.7703" stop-color="#1fa287"/><stop offset="0.7869" stop-color="#20a386"/><stop offset="0.8035" stop-color="#20a386"/><stop offset="0.8202" stop-color="#20a386"/><stop offset="0.8368" stop-color="#20a386"/><stop offset="0.8493" stop-color="#20a486"/><stop offset="0.8534" stop-color="#20a486"/><stop offset="0.8576" stop-color="#21a685"/><stop offset="0.8617" stop-color="#22a785"/><stop offset="0.8659" stop-color="#22a884"/><stop offset="0.8701" stop-color="#22a785"/><stop offset="0.8742" stop-color="#21a585"/><stop offset="0.8784" stop-color="#20a486"/><stop offset="0.8825" stop-color="#20a486"/><stop offset="0.8867" stop-color="#20a486"/><stop offset="0.9033" stop-color="#20a486"/><stop offset="0.9200" stop-color="#21a585"/><stop offset="0.9366" stop-color="#21a585"/><stop offset="0.9532" stop-color="#21a585"/><stop offset="0.9657" stop-color="#21a685"/><stop offset="0.9699" stop-color="#22a884"/><stop offset="0.9719" stop-color="#23a983"/><stop offset="0.9740" stop-color="#23a983"/><stop offset="0.9782" stop-color="#23a983"/><stop offset="0.9823" stop-color="#23a983"/><stop offset="0.9865" stop-color="#22a785"/><stop offset="0.9906" stop-color="#22a785"/><stop offset="0.9927" stop-color="#2eb37c"/><stop offset="0.9948" stop-color="#42be71"/><stop offset="0.9990" stop-color="#42be71"/></linearGradient><linearGradient id="g26" x1="0" y1="0" x2="0" y2="1"><stop offset="0.0010" stop-color="#1e9c89"/><stop offset="0.0343" stop-color="#1e9c89"/><stop offset="0.0676" stop-color="#1e9c89"/><stop offset="0.1008" stop-color="#1e9c89"/><stop offset="0.1341" stop-color="#1f9f88"/><stop offset="0.1383" stop-color="#1f9f88"/><stop offset="0.1549" stop-color="#1f9f88"/><stop offset="0.1674" stop-color="#1f9f88"/><stop offset="0.1715" stop-color="#1f9f88"/><stop offset="0.2006" stop-color="#1e9d89"/><stop offset="0.2339" stop-color="#1f9e89"/><stop offset="0.2672" stop-color="#1f9e89"/><stop offset="0.3004" stop-color="#1f9e89"/><stop offset="0.3337" stop-color="#1f9e89"/><stop offset="0.3669" stop-color="#1f9f88"/><stop offset="0.4002" stop-color="#1fa188"/><stop offset="0.4044" stop-color="#1fa188"/><stop offset="0.4335" stop-color="#20a386"/><stop offset="0.4667" stop-color="#20a386"/><stop offset="0.5000" stop-color="#20a486"/><stop offset="0.5333" stop-color="#21a585"/><stop offset="0.5624" stop-color="#21a685"/><stop offset="0.5665" stop-color="#22a785"/><stop offset="0.5748" stop-color="#24aa83"/><stop offset="0.5873" stop-color="#28ae80"/><stop offset="0.5998" stop-color="#24aa83"/><stop offset="0.6123" stop-color="#22a884"/><stop offset="0.6247" stop-color="#22a884"/><stop offset="0.6372" stop-color="#23a983"/><stop offset="0.6497" stop-color="#24aa83"/><stop offset="0.6538" stop-color="#25ac82"/><stop offset="0.6580" stop-color="#2ab07f"/><stop offset="0.6622" stop-color="#34b679"/><stop offset="0.6663" stop-color="#3fbc73"/><stop offset="0.6705" stop-color="#44bf70"/><stop offset="0.6746" stop-color="#40bd72"/><stop offset="0.6788" stop-color="#35b779"/><stop offset="0.6830" stop-color="#2cb17e"/><stop offset="0.6871" stop-color="#26ad81"/><stop offset="0.6913" stop-color="#25ab82"/><stop offset="0.6954" stop-color="#24aa83"/><stop offset="0.6996" stop-color="#26ad81"/><stop offset="0.7037" stop-color="#35b779"/><stop offset="0.7079" stop-color="#44bf70"/><stop offset="0.7121" stop-color="#35b779"/><stop offset="0.7162" stop-color="#26ad81"/><stop offset="0.7204" stop-color="#24aa83"/><stop offset="0.7245" stop-color="#24aa83"/><stop offset="0.7287" stop-color="#25ac82"/><stop offset="0.7328" stop-color="#2fb47c"/><stop offset="0.7370" stop-color="#44bf70"/><stop offset="0.7412" stop-color="#3bbb75"/><stop offset="0.7453" stop-color="#29af7f"/><stop offset="0.7495" stop-color="#25ab82"/><stop offset="0.7536" stop-color="#25ab82"/><stop offset="0.7703" stop-color="#25ab82"/><stop offset="0.7869" stop-color="#25ab82"/><stop offset="0.8035" stop-color="#25ab82"/><stop offset="0.8202" stop-color="#25ac82"/><stop offset="0.8368" stop-color="#25ac82"/><stop offset="0.8493" stop-color="#26ad81"/><stop offset="0.8534" stop-color="#2db27d"/><stop offset="0.8576" stop-color="#42be71"/><stop offset="0.8617" stop-color="#67cc5c"/><stop offset="0.8659" stop-color="#73d056"/><stop offset="0.8701" stop-color="#54c568"/><stop offset="0.8742" stop-color="#35b779"/><stop offset="0.8784" stop-color="#28ae80"/><stop offset="0.8825" stop-color="#25ac82"/><stop offset="0.8867" stop-color="#25ac82"/><stop offset="0.9033" stop-color="#25ac82"/><stop offset="0.9200" stop-color="#25ab82"/><stop offset="0.9366" stop-color="#25ab82"/><stop offset="0.9532" stop-color="#25ac82"/><stop offset="0.9657" stop-color="#24aa83"/><stop offset="0.9699" stop-color="#23a983"/><stop offset="0.9719" stop-color="#23a983"/><stop offset="0.9740" stop-color="#23a983"/><stop offset="0.9782" stop-color="#23a983"/><stop offset="0.9823" stop-color="#23a983"/><stop offset="0.9865" stop-color="#22a785"/><stop offset="0.9906" stop-color="#22a785"/><stop offset="0.9927" stop-color="#2eb37c"/><stop offset="0.9948" stop-color="#42be71"/><stop offset="0.9990" stop-color="#42be71"/></linearGradient><linearGradient id="g27" x1="0" y1="0" x2="0" y2="1"><stop offset="0.0010" stop-color="#1fa187"/><stop offset="0.0343" stop-color="#1fa287"/><stop offset="0.0676" stop-color="#1fa287"/><stop offset="0.1008" stop-color="#20a386"/><stop offset="0.1341" stop-color="#21a685"/><stop offset="0.1383" stop-color="#21a685"/><stop offset="0.1549" stop-color="#21a685"/><stop offset="0.1674" stop-color="#21a685"/><stop offset="0.1715" stop-color="#21a685"/><stop offset="0.2006" stop-color="#21a585"/><stop offset="0.2339" stop-color="#21a585"/><stop offset="0.2672" stop-color="#21a685"/><stop offset="0.3004" stop-color="#22a785"/><stop offset="0.3337" stop-color="#22a785"/><stop offset="0.3669" stop-color="#22a785"/><stop offset="0.4002" stop-color="#23a983"/><stop offset="0.4044" stop-color="#25ac82"/><stop offset="0.4335" stop-color="#26ad81"/><stop offset="0.4667" stop-color="#26ad81"/><stop offset="0.5000" stop-color="#27ad81"/><stop offset="0.5333" stop-color="#28ae80"/><stop offset="0.5624" stop-color="#2ab07f"/><stop offset="0.5665" stop-color="#2eb37c"/><stop offset="0.5748" stop-color="#32b67a"/><stop offset="0.5873" stop-color="#3aba76"/><stop offset="0.5998" stop-color="#32b67a"/><stop offset="0.6123" stop-color="#2fb47c"/><stop offset="0.6247" stop-color="#2fb47c"/><stop offset="0.6372" stop-color="#31b57b"/><stop offset="0.6497" stop-color="#32b67a"/><stop offset="0.6538" stop-color="#35b779"/><stop offset="0.6580" stop-color="#3dbc74"/><stop offset="0.6622" stop-color="#4cc26c"/><stop offset="0.6663" stop-color="#5ac864"/><stop offset="0.6705" stop-color="#60ca60"/><stop offset="0.6746" stop-color="#5ac864"/><stop offset="0.6788" stop-color="#4cc26c"/><stop offset="0.6830" stop-color="#3fbc73"/><stop offset="0.6871" stop-color="#37b878"/><stop offset="0.6913" stop-color="#34b679"/><stop offset="0.6954" stop-color="#32b67a"/><stop offset="0.6996" stop-color="#37b878"/><stop offset="0.7037" stop-color="#4cc26c"/><stop offset="0.7079" stop-color="#5ec962"/><stop offset="0.7121" stop-color="#4cc26c"/><stop offset="0.7162" stop-color="#37b878"/><stop offset="0.7204" stop-color="#32b67a"/><stop offset="0.7245" stop-color="#32b67a"/><stop offset="0.7287" stop-color="#35b779"/><stop offset="0.7328" stop-color="#46c06f"/><stop offset="0.7370" stop-color="#5ec962"/><stop offset="0.7412" stop-color="#54c568"/><stop offset="0.7453" stop-color="#3bbb75"/><stop offset="0.7495" stop-color="#34b679"/><stop offset="0.7536" stop-color="#34b679"/><stop offset="0.7703" stop-color="#34b679"/><stop offset="0.7869" stop-color="#34b679"/><stop offset="0.8035" stop-color="#34b679"/><stop offset="0.8202" stop-color="#35b779"/><stop offset="0.8368" stop-color="#35b779"/><stop offset="0.8493" stop-color="#37b878"/><stop offset="0.8534" stop-color="#40bd72"/><stop offset="0.8576" stop-color="#5cc863"/><stop offset="0.8617" stop-color="#86d549"/><stop offset="0.8659" stop-color="#95d840"/><stop offset="0.8701" stop-color="#70cf57"/><stop offset="0.8742" stop-color="#4ac16d"/><stop offset="0.8784" stop-color="#38b977"/><stop offset="0.8825" stop-color="#34b679"/><stop offset="0.8867" stop-color="#34b679"/><stop offset="0.9033" stop-color="#31b57b"/><stop offset="0.9200" stop-color="#2fb47c"/><stop offset="0.9366" stop-color="#2fb47c"/><stop offset="0.9532" stop-color="#32b67a"/><stop offset="0.9657" stop-color="#2ab07f"/><stop offset="0.9699" stop-color="#25ab82"/><stop offset="0.9719" stop-color="#23a983"/><stop offset="0.9740" stop-color="#23a983"/><stop offset="0.9782" stop-color="#23a983"/><stop offset="0.9823" stop-color="#23a983"/><stop offset="0.9865" stop-color="#22a785"/><stop offset="0.9906" stop-color="#22a785"/><stop offset="0.9927" stop-color="#2eb37c"/><stop offset="0.9948" stop-color="#42be71"/><stop offset="0.9990" stop-color="#42be71"/></linearGradient><linearGradient id="g28" x1="0" y1="0" x2="0" y2="1"><stop offset="0.0010" stop-color="#1e9c89"/><stop offset="0.0343" stop-color="#1e9d89"/><stop offset="0.0676" stop-color="#1e9d89"/><stop offset="0.1008" stop-color="#1e9d89"/><stop offset="0.1341" stop-color="#1fa088"/><stop offset="0.1383" stop-color="#1fa088"/><stop offset="0.1549" stop-color="#1fa088"/><stop offset="0.1674" stop-color="#1fa088"/><stop offset="0.1715" stop-color="#1f9f88"/><stop offset="0.2006" stop-color="#1f9e89"/><stop offset="0.2339" stop-color="#1f9e89"/><stop offset="0.2672" stop-color="#1f9f88"/><stop offset="0.3004" stop-color="#1f9f88"/><stop offset="0.3337" stop-color="#1f9f88"/><stop offset="0.3669" stop-color="#1fa088"/><stop offset="0.4002" stop-color="#1fa187"/><stop offset="0.4044" stop-color="#1fa287"/><stop offset="0.4335" stop-color="#21a585"/><stop offset="0.4667" stop-color="#21a685"/><stop offset="0.5000" stop-color="#22a785"/><stop offset="0.5333" stop-color="#22a785"/><stop offset="0.5624" stop-color="#22a884"/><stop offset="0.5665" stop-color="#24aa83"/><stop offset="0.5748" stop-color="#25ac82"/><stop offset="0.5873" stop-color="#28ae80"/><stop offset="0.5998" stop-color="#25ac82"/><stop offset="0.6123" stop-color="#25ab82"/><stop offset="0.6247" stop-color="#25ac82"/><stop offset="0.6372" stop-color="#25ac82"/><stop offset="0.6497" stop-color="#26ad81"/><stop offset="0.6538" stop-color="#27ad81"/><stop offset="0.6580" stop-color="#2ab07f"/><stop offset="0.6622" stop-color="#2fb47c"/><stop offset="0.6663" stop-color="#35b779"/><stop offset="0.6705" stop-color="#38b977"/><stop offset="0.6746" stop-color="#35b779"/><stop offset="0.6788" stop-color="#31b57b"/><stop offset="0.6830" stop-color="#2cb17e"/><stop offset="0.6871" stop-color="#28ae80"/><stop offset="0.6913" stop-color="#27ad81"/><stop offset="0.6954" stop-color="#26ad81"/><stop offset="0.6996" stop-color="#28ae80"/><stop offset="0.7037" stop-color="#31b57b"/><stop offset="0.7079" stop-color="#38b977"/><stop offset="0.7121" stop-color="#31b57b"/><stop offset="0.7162" stop-color="#28ae80"/><stop offset="0.7204" stop-color="#26ad81"/><stop offset="0.7245" stop-color="#26ad81"/><stop offset="0.7287" stop-color="#28ae80"/><stop offset="0.7328" stop-color="#2eb37c"/><stop offset="0.7370" stop-color="#38b977"/><stop offset="0.7412" stop-color="#34b679"/><stop offset="0.7453" stop-color="#2ab07f"/><stop offset="0.7495" stop-color="#27ad81"/><stop offset="0.7536" stop-color="#27ad81"/><stop offset="0.7703" stop-color="#27ad81"/><stop offset="0.7869" stop-color="#27ad81"/><stop offset="0.8035" stop-color="#28ae80"/><stop offset="0.8202" stop-color="#28ae80"/><stop offset="0.8368" stop-color="#28ae80"/><stop offset="0.8493" stop-color="#29af7f"/><stop offset="0.8534" stop-color="#2db27d"/><stop offset="0.8576" stop-color="#3aba76"/><stop offset="0.8617" stop-color="#4cc26c"/><stop offset="0.8659" stop-color="#52c569"/><stop offset="0.8701" stop-color="#42be71"/><stop offset="0.8742" stop-color="#31b57b"/><stop offset="0.8784" stop-color="#2ab07f"/><stop offset="0.8825" stop-color="#28ae80"/><stop offset="0.8867" stop-color="#28ae80"/><stop offset="0.9033" stop-color="#27ad81"/><stop offset="0.9200" stop-color="#27ad81"/><stop offset="0.9366" stop-color="#27ad81"/><stop offset="0.9532" stop-color="#28ae80"/><stop offset="0.9657" stop-color="#25ac82"/><stop offset="0.9699" stop-color="#24aa83"/><stop offset="0.9719" stop-color="#23a983"/><stop offset="0.9740" stop-color="#23a983"/><stop offset="0.9782" stop-color="#23a983"/><stop offset="0.9823" stop-color="#23a983"/><stop offset="0.9865" stop-color="#22a785"/><stop offset="0.9906" stop-color="#22a785"/><stop offset="0.9927" stop-color="#2eb37c"/><stop offset="0.9948" stop-color="#42be71"/><stop offset="0.9990" stop-color="#42be71"/></linearGradient><linearGradient id="g29" x1="0" y1="0" x2="0" y2="1"><stop offset="0.0010" stop-color="#1e9b8a"/><stop offset="0.0343" stop-color="#1e9b8a"/><stop offset="0.0676" stop-color="#1e9b8a"/><stop offset="0.1008" stop-color="#1e9c89"/><stop offset="0.1341" stop-color="#1f9e89"/><stop offset="0.1383" stop-color="#1f9e89"/><stop offset="0.1549" stop-color="#1f9e89"/><stop offset="0.1674" stop-color="#1f9e89"/><stop offset="0.1715" stop-color="#1f9e89"/><stop offset="0.2006" stop-color="#1e9c89"/><stop offset="0.2339" stop-color="#1e9d89"/><stop offset="0.2672" stop-color="#1e9d89"/><stop offset="0.3004" stop-color="#1e9d89"/><stop offset="0.3337" stop-color="#1e9d89"/><stop offset="0.3669" stop-color="#1e9d89"/><stop offset="0.4002" stop-color="#1f9e89"/><stop offset="0.4044" stop-color="#1f9e89"/><stop offset="0.4335" stop-color="#1f9f88"/><stop offset="0.4667" stop-color="#1fa088"/><stop offset="0.5000" stop-color="#1fa088"/><stop offset="0.5333" stop-color="#1fa188"/><stop offset="0.5624" stop-color="#1fa188"/><stop offset="0.5665" stop-color="#1fa187"/><stop offset="0.5748" stop-color="#1fa287"/><stop offset="0.5873" stop-color="#20a386"/><stop offset="0.5998" stop-color="#1fa287"/><stop offset="0.6123" stop-color="#1fa287"/><stop offset="0.6247" stop-color="#1fa287"/><stop offset="0.6372" stop-color="#20a386"/><stop offset="0.6497" stop-color="#20a386"/><stop offset="0.6538" stop-color="#20a486"/><stop offset="0.6580" stop-color="#21a585"/><stop offset="0.6622" stop-color="#21a685"/><stop offset="0.6663" stop-color="#22a785"/><stop offset="0.6705" stop-color="#22a884"/><stop offset="0.6746" stop-color="#22a884"/><stop offset="0.6788" stop-color="#21a685"/><stop offset="0.6830" stop-color="#21a585"/><stop offset="0.6871" stop-color="#20a486"/><stop offset="0.6913" stop-color="#20a486"/><stop offset="0.6954" stop-color="#20a486"/><stop offset="0.6996" stop-color="#20a486"/><stop offset="0.7037" stop-color="#22a785"/><stop offset="0.7079" stop-color="#23a983"/><stop offset="0.7121" stop-color="#22a785"/><stop offset="0.7162" stop-color="#21a585"/><stop offset="0.7204" stop-color="#20a486"/><stop offset="0.7245" stop-color="#20a486"/><stop offset="0.7287" stop-color="#21a585"/><stop offset="0.7328" stop-color="#22a785"/><stop offset="0.7370" stop-color="#23a983"/><stop offset="0.7412" stop-color="#22a884"/><stop offset="0.7453" stop-color="#21a685"/><stop offset="0.7495" stop-color="#21a585"/><stop offset="0.7536" stop-color="#21a585"/><stop offset="0.7703" stop-color="#21a585"/><stop offset="0.7869" stop-color="#21a585"/><stop offset="0.8035" stop-color="#21a585"/><stop offset="0.8202" stop-color="#21a685"/><stop offset="0.8368" stop-color="#21a685"/><stop offset="0.8493" stop-color="#21a685"/><stop offset="0.8534" stop-color="#22a884"/><stop offset="0.8576" stop-color="#25ab82"/><stop offset="0.8617" stop-color="#28ae80"/><stop offset="0.8659" stop-color="#29af7f"/><stop offset="0.8701" stop-color="#26ad81"/><stop offset="0.8742" stop-color="#23a983"/><stop offset="0.8784" stop-color="#22a785"/><stop offset="0.8825" stop-color="#22a785"/><stop offset="0.8867" stop-color="#21a685"/><stop offset="0.9033" stop-color="#22a785"/><stop offset="0.9200" stop-color="#22a785"/><stop offset="0.9366" stop-color="#22a785"/><stop offset="0.9532" stop-color="#22a785"/><stop offset="0.9657" stop-color="#22a785"/><stop offset="0.9699" stop-color="#23a983"/><stop offset="0.9719" stop-color="#23a983"/><stop offset="0.9740" stop-color="#23a983"/><stop offset="0.9782" stop-color="#23a983"/><stop offset="0.9823" stop-color="#23a983"/><stop offset="0.9865" stop-color="#22a785"/><stop offset="0.9906" stop-color="#22a785"/><stop offset="0.9927" stop-color="#2eb37c"/><stop offset="0.9948" stop-color="#42be71"/><stop offset="0.9990" stop-color="#42be71"/></linearGradient><linearGradient id="g30" x1="0" y1="0" x2="0" y2="1"><stop offset="0.0010" stop-color="#1f9f88"/><stop offset="0.0343" stop-color="#1f9f88"/><stop offset="0.0676" stop-color="#1f9f88"/><stop offset="0.1008" stop-color="#1fa088"/><stop offset="0.1341" stop-color="#1fa187"/><stop offset="0.1383" stop-color="#1fa287"/><stop offset="0.1549" stop-color="#1fa287"/><stop offset="0.1674" stop-color="#1fa287"/><stop offset="0.1715" stop-color="#1fa187"/><stop offset="0.2006" stop-color="#1fa188"/><stop offset="0.2339" stop-color="#1fa188"/><stop offset="0.2672" stop-color="#1fa187"/><stop offset="0.3004" stop-color="#1fa187"/><stop offset="0.3337" stop-color="#1fa187"/><stop offset="0.3669" stop-color="#1fa187"/><stop offset="0.4002" stop-color="#20a386"/><stop offset="0.4044" stop-color="#20a486"/><stop offset="0.4335" stop-color="#21a585"/><stop offset="0.4667" stop-color="#21a685"/><stop offset="0.5000" stop-color="#21a685"/><stop offset="0.5333" stop-color="#22a785"/><stop offset="0.5624" stop-color="#22a884"/><stop offset="0.5665" stop-color="#24aa83"/><stop offset="0.5748" stop-color="#26ad81"/><stop offset="0.5873" stop-color="#2cb17e"/><stop offset="0.5998" stop-color="#26ad81"/><stop offset="0.6123" stop-color="#25ab82"/><stop offset="0.6247" stop-color="#25ab82"/><stop offset="0.6372" stop-color="#25ac82"/><stop offset="0.6497" stop-color="#26ad81"/><stop offset="0.6538" stop-color="#28ae80"/><stop offset="0.6580" stop-color="#2eb37c"/><stop offset="0.6622" stop-color="#38b977"/><stop offset="0.6663" stop-color="#44bf70"/><stop offset="0.6705" stop-color="#4ac16d"/><stop offset="0.6746" stop-color="#44bf70"/><stop offset="0.6788" stop-color="#38b977"/><stop offset="0.6830" stop-color="#2eb37c"/><stop offset="0.6871" stop-color="#29af7f"/><stop offset="0.6913" stop-color="#27ad81"/><stop offset="0.6954" stop-color="#26ad81"/><stop offset="0.6996" stop-color="#29af7f"/><stop offset="0.7037" stop-color="#38b977"/><stop offset="0.7079" stop-color="#4ac16d"/><stop offset="0.7121" stop-color="#38b977"/><stop offset="0.7162" stop-color="#29af7f"/><stop offset="0.7204" stop-color="#26ad81"/><stop offset="0.7245" stop-color="#26ad81"/><stop offset="0.7287" stop-color="#28ae80"/><stop offset="0.7328" stop-color="#34b679"/><stop offset="0.7370" stop-color="#48c16e"/><stop offset="0.7412" stop-color="#3fbc73"/><stop offset="0.7453" stop-color="#2db27d"/><stop offset="0.7495" stop-color="#27ad81"/><stop offset="0.7536" stop-color="#26ad81"/><stop offset="0.7703" stop-color="#27ad81"/><stop offset="0.7869" stop-color="#27ad81"/><stop offset="0.8035" stop-color="#27ad81"/><stop offset="0.8202" stop-color="#28ae80"/><stop offset="0.8368" stop-color="#28ae80"/><stop offset="0.8493" stop-color="#29af7f"/><stop offset="0.8534" stop-color="#31b57b"/><stop offset="0.8576" stop-color="#46c06f"/><stop offset="0.8617" stop-color="#6ccd5a"/><stop offset="0.8659" stop-color="#77d153"/><stop offset="0.8701" stop-color="#5ac864"/><stop offset="0.8742" stop-color="#38b977"/><stop offset="0.8784" stop-color="#2cb17e"/><stop offset="0.8825" stop-color="#28ae80"/><stop offset="0.8867" stop-color="#27ad81"/><stop offset="0.9033" stop-color="#27ad81"/><stop offset="0.9200" stop-color="#27ad81"/><stop offset="0.9366" stop-color="#26ad81"/><stop offset="0.9532" stop-color="#28ae80"/><stop offset="0.9657" stop-color="#25ac82"/><stop offset="0.9699" stop-color="#24aa83"/><stop offset="0.9719" stop-color="#23a983"/><stop offset="0.9740" stop-color="#23a983"/><stop offset="0.9782" stop-color="#23a983"/><stop offset="0.9823" stop-color="#23a983"/><stop offset="0.9865" stop-color="#22a785"/><stop offset="0.9906" stop-color="#22a785"/><stop offset="0.9927" stop-color="#2eb37c"/><stop offset="0.9948" stop-color="#42be71"/><stop offset="0.9990" stop-color="#42be71"/></linearGradient><linearGradient id="g31" x1="0" y1="0" x2="0" y2="1"><stop offset="0.0010" stop-color="#1e9b8a"/><stop offset="0.0343" stop-color="#1e9b8a"/><stop offset="0.0676" stop-color="#1e9c89"/><stop offset="0.1008" stop-color="#1e9c89"/><stop offset="0.1341" stop-color="#1f9e89"/><stop offset="0.1383" stop-color="#1f9e89"/><stop offset="0.1549" stop-color="#1f9e89"/><stop offset="0.1674" stop-color="#1f9e89"/><stop offset="0.1715" stop-color="#1f9e89"/><stop offset="0.2006" stop-color="#1e9d89"/><stop offset="0.2339" stop-color="#1e9d89"/><stop offset="0.2672" stop-color="#1e9d89"/><stop offset="0.3004" stop-color="#1e9d89"/><stop offset="0.3337" stop-color="#1e9d89"/><stop offset="0.3669" stop-color="#1e9d89"/><stop offset="0.4002" stop-color="#1e9d89"/><stop offset="0.4044" stop-color="#1f9e89"/><stop offset="0.4335" stop-color="#1f9e89"/><stop offset="0.4667" stop-color="#1f9f88"/><stop offset="0.5000" stop-color="#1f9f88"/><stop offset="0.5333" stop-color="#1fa088"/><stop offset="0.5624" stop-color="#1fa088"/><stop offset="0.5665" stop-color="#1fa188"/><stop offset="0.5748" stop-color="#1fa187"/><stop offset="0.5873" stop-color="#20a486"/><stop offset="0.5998" stop-color="#1fa187"/><stop offset="0.6123" stop-color="#1fa188"/><stop offset="0.6247" stop-color="#1fa187"/><stop offset="0.6372" stop-color="#1fa187"/><stop offset="0.6497" stop-color="#1fa287"/><stop offset="0.6538" stop-color="#20a386"/><stop offset="0.6580" stop-color="#21a685"/><stop offset="0.6622" stop-color="#24aa83"/><stop offset="0.6663" stop-color="#27ad81"/><stop offset="0.6705" stop-color="#29af7f"/><stop offset="0.6746" stop-color="#27ad81"/><stop offset="0.6788" stop-color="#25ab82"/><stop offset="0.6830" stop-color="#22a785"/><stop offset="0.6871" stop-color="#20a486"/><stop offset="0.6913" stop-color="#20a386"/><stop offset="0.6954" stop-color="#1fa287"/><stop offset="0.6996" stop-color="#20a486"/><stop offset="0.7037" stop-color="#25ab82"/><stop offset="0.7079" stop-color="#29af7f"/><stop offset="0.7121" stop-color="#25ab82"/><stop offset="0.7162" stop-color="#20a486"/><stop offset="0.7204" stop-color="#20a386"/><stop offset="0.7245" stop-color="#20a386"/><stop offset="0.7287" stop-color="#20a486"/><stop offset="0.7328" stop-color="#23a983"/><stop offset="0.7370" stop-color="#29af7f"/><stop offset="0.7412" stop-color="#26ad81"/><stop offset="0.7453" stop-color="#21a685"/><stop offset="0.7495" stop-color="#20a386"/><stop offset="0.7536" stop-color="#20a386"/><stop offset="0.7703" stop-color="#20a386"/><stop offset="0.7869" stop-color="#20a486"/><stop offset="0.8035" stop-color="#20a486"/><stop offset="0.8202" stop-color="#20a486"/><stop offset="0.8368" stop-color="#20a486"/><stop offset="0.8493" stop-color="#21a585"/><stop offset="0.8534" stop-color="#22a884"/><stop offset="0.8576" stop-color="#2ab07f"/><stop offset="0.8617" stop-color="#38b977"/><stop offset="0.8659" stop-color="#3dbc74"/><stop offset="0.8701" stop-color="#31b57b"/><stop offset="0.8742" stop-color="#25ac82"/><stop offset="0.8784" stop-color="#22a785"/><stop offset="0.8825" stop-color="#21a585"/><stop offset="0.8867" stop-color="#21a585"/><stop offset="0.9033" stop-color="#21a585"/><stop offset="0.9200" stop-color="#21a585"/><stop offset="0.9366" stop-color="#21a585"/><stop offset="0.9532" stop-color="#21a685"/><stop offset="0.9657" stop-color="#21a685"/><stop offset="0.9699" stop-color="#23a983"/><stop offset="0.9719" stop-color="#23a983"/><stop offset="0.9740" stop-color="#23a983"/><stop offset="0.9782" stop-color="#23a983"/><stop offset="0.9823" stop-color="#23a983"/><stop offset="0.9865" stop-color="#22a785"/><stop offset="0.9906" stop-color="#22a785"/><stop offset="0.9927" stop-color="#2eb37c"/><stop offset="0.9948" stop-color="#42be71"/><stop offset="0.9990" stop-color="#42be71"/></linearGradient><linearGradient id="g32" x1="0" y1="0" x2="0" y2="1"><stop offset="0.0010" stop-color="#1e9b8a"/><stop offset="0.0343" stop-color="#1e9b8a"/><stop offset="0.0676" stop-color="#1e9c89"/><stop offset="0.1008" stop-color="#1e9c89"/><stop offset="0.1341" stop-color="#1f9e89"/><stop offset="0.1383" stop-color="#1f9e89"/><stop offset="0.1549" stop-color="#1f9f88"/><stop offset="0.1674" stop-color="#1f9e89"/><stop offset="0.1715" stop-color="#1f9e89"/><stop offset="0.2006" stop-color="#1e9d89"/><stop offset="0.2339" stop-color="#1e9d89"/><stop offset="0.2672" stop-color="#1e9d89"/><stop offset="0.3004" stop-color="#1e9d89"/><stop offset="0.3337" stop-color="#1e9d89"/><stop offset="0.3669" stop-color="#1e9d89"/><stop offset="0.4002" stop-color="#1f9e89"/><stop offset="0.4044" stop-color="#1f9f88"/><stop offset="0.4335" stop-color="#1fa088"/><stop offset="0.4667" stop-color="#1fa088"/><stop offset="0.5000" stop-color="#1fa188"/><stop offset="0.5333" stop-color="#1fa188"/><stop offset="0.5624" stop-color="#1fa187"/><stop offset="0.5665" stop-color="#1fa287"/><stop offset="0.5748" stop-color="#20a386"/><stop offset="0.5873" stop-color="#21a585"/><stop offset="0.5998" stop-color="#20a386"/><stop offset="0.6123" stop-color="#20a386"/><stop offset="0.6247" stop-color="#20a386"/><stop offset="0.6372" stop-color="#20a386"/><stop offset="0.6497" stop-color="#20a486"/><stop offset="0.6538" stop-color="#21a585"/><stop offset="0.6580" stop-color="#22a785"/><stop offset="0.6622" stop-color="#23a983"/><stop offset="0.6663" stop-color="#25ac82"/><stop offset="0.6705" stop-color="#26ad81"/><stop offset="0.6746" stop-color="#25ac82"/><stop offset="0.6788" stop-color="#24aa83"/><stop offset="0.6830" stop-color="#22a785"/><stop offset="0.6871" stop-color="#21a685"/><stop offset="0.6913" stop-color="#21a585"/><stop offset="0.6954" stop-color="#21a585"/><stop offset="0.6996" stop-color="#21a685"/><stop offset="0.7037" stop-color="#24aa83"/><stop offset="0.7079" stop-color="#26ad81"/><stop offset="0.7121" stop-color="#24aa83"/><stop offset="0.7162" stop-color="#21a685"/><stop offset="0.7204" stop-color="#21a585"/><stop offset="0.7245" stop-color="#21a585"/><stop offset="0.7287" stop-color="#21a685"/><stop offset="0.7328" stop-color="#23a983"/><stop offset="0.7370" stop-color="#27ad81"/><stop offset="0.7412" stop-color="#25ac82"/><stop offset="0.7453" stop-color="#22a785"/><stop offset="0.7495" stop-color="#21a585"/><stop offset="0.7536" stop-color="#21a585"/><stop offset="0.7703" stop-color="#21a685"/><stop offset="0.7869" stop-color="#21a685"/><stop offset="0.8035" stop-color="#21a685"/><stop offset="0.8202" stop-color="#21a685"/><stop offset="0.8368" stop-color="#22a785"/><stop offset="0.8493" stop-color="#22a785"/><stop offset="0.8534" stop-color="#23a983"/><stop offset="0.8576" stop-color="#28ae80"/><stop offset="0.8617" stop-color="#31b57b"/><stop offset="0.8659" stop-color="#34b679"/><stop offset="0.8701" stop-color="#2cb17e"/><stop offset="0.8742" stop-color="#25ac82"/><stop offset="0.8784" stop-color="#22a884"/><stop offset="0.8825" stop-color="#22a785"/><stop offset="0.8867" stop-color="#22a785"/><stop offset="0.9033" stop-color="#22a785"/><stop offset="0.9200" stop-color="#22a785"/><stop offset="0.9366" stop-color="#22a785"/><stop offset="0.9532" stop-color="#22a884"/><stop offset="0.9657" stop-color="#22a785"/><stop offset="0.9699" stop-color="#23a983"/><stop offset="0.9719" stop-color="#23a983"/><stop offset="0.9740" stop-color="#23a983"/><stop offset="0.9782" stop-color="#23a983"/><stop offset="0.9823" stop-color="#23a983"/><stop offset="0.9865" stop-color="#22a785"/><stop offset="0.9906" stop-color="#22a785"/><stop offset="0.9927" stop-color="#2eb37c"/><stop offset="0.9948" stop-color="#42be71"/><stop offset="0.9990" stop-color="#42be71"/></linearGradient><linearGradient id="g33" x1="0" y1="0" x2="0" y2="1"><stop offset="0.0010" stop-color="#1fa188"/><stop offset="0.0343" stop-color="#1fa187"/><stop offset="0.0676" stop-color="#1fa187"/><stop offset="0.1008" stop-color="#1fa287"/><stop offset="0.1341" stop-color="#21a585"/><stop offset="0.1383" stop-color="#21a585"/><stop offset="0.1549" stop-color="#21a585"/><stop offset="0.1674" stop-color="#21a585"/><stop offset="0.1715" stop-color="#21a585"/><stop offset="0.2006" stop-color="#20a486"/><stop offset="0.2339" stop-color="#20a486"/><stop offset="0.2672" stop-color="#20a486"/><stop offset="0.3004" stop-color="#21a585"/><stop offset="0.3337" stop-color="#21a585"/><stop offset="0.3669" stop-color="#21a585"/><stop offset="0.4002" stop-color="#22a785"/><stop offset="0.4044" stop-color="#23a983"/><stop offset="0.4335" stop-color="#24aa83"/><stop offset="0.4667" stop-color="#24aa83"/><stop offset="0.5000" stop-color="#25ab82"/><stop offset="0.5333" stop-color="#25ac82"/><stop offset="0.5624" stop-color="#26ad81"/><stop offset="0.5665" stop-color="#2ab07f"/><stop offset="0.5748" stop-color="#2db27d"/><stop offset="0.5873" stop-color="#34b679"/><stop offset="0.5998" stop-color="#2db27d"/><stop offset="0.6123" stop-color="#2ab07f"/><stop offset="0.6247" stop-color="#2cb17e"/><stop offset="0.6372" stop-color="#2cb17e"/><stop offset="0.6497" stop-color="#2db27d"/><stop offset="0.6538" stop-color="#31b57b"/><stop offset="0.6580" stop-color="#37b878"/><stop offset="0.6622" stop-color="#42be71"/><stop offset="0.6663" stop-color="#50c46a"/><stop offset="0.6705" stop-color="#56c667"/><stop offset="0.6746" stop-color="#50c46a"/><stop offset="0.6788" stop-color="#44bf70"/><stop offset="0.6830" stop-color="#38b977"/><stop offset="0.6871" stop-color="#31b57b"/><stop offset="0.6913" stop-color="#2eb37c"/><stop offset="0.6954" stop-color="#2db27d"/><stop offset="0.6996" stop-color="#31b57b"/><stop offset="0.7037" stop-color="#44bf70"/><stop offset="0.7079" stop-color="#56c667"/><stop offset="0.7121" stop-color="#44bf70"/><stop offset="0.7162" stop-color="#31b57b"/><stop offset="0.7204" stop-color="#2eb37c"/><stop offset="0.7245" stop-color="#2db27d"/><stop offset="0.7287" stop-color="#2fb47c"/><stop offset="0.7328" stop-color="#3dbc74"/><stop offset="0.7370" stop-color="#56c667"/><stop offset="0.7412" stop-color="#4cc26c"/><stop offset="0.7453" stop-color="#35b779"/><stop offset="0.7495" stop-color="#2eb37c"/><stop offset="0.7536" stop-color="#2eb37c"/><stop offset="0.7703" stop-color="#2eb37c"/><stop offset="0.7869" stop-color="#2eb37c"/><stop offset="0.8035" stop-color="#2fb47c"/><stop offset="0.8202" stop-color="#2fb47c"/><stop offset="0.8368" stop-color="#2fb47c"/><stop offset="0.8493" stop-color="#32b67a"/><stop offset="0.8534" stop-color="#3aba76"/><stop offset="0.8576" stop-color="#54c568"/><stop offset="0.8617" stop-color="#7cd250"/><stop offset="0.8659" stop-color="#89d548"/><stop offset="0.8701" stop-color="#67cc5c"/><stop offset="0.8742" stop-color="#42be71"/><stop offset="0.8784" stop-color="#34b679"/><stop offset="0.8825" stop-color="#2fb47c"/><stop offset="0.8867" stop-color="#2eb37c"/><stop offset="0.9033" stop-color="#2db27d"/><stop offset="0.9200" stop-color="#2db27d"/><stop offset="0.9366" stop-color="#2cb17e"/><stop offset="0.9532" stop-color="#2eb37c"/><stop offset="0.9657" stop-color="#28ae80"/><stop offset="0.9699" stop-color="#24aa83"/><stop offset="0.9719" stop-color="#23a983"/><stop offset="0.9740" stop-color="#23a983"/><stop offset="0.9782" stop-color="#23a983"/><stop offset="0.9823" stop-color="#23a983"/><stop offset="0.9865" stop-color="#22a785"/><stop offset="0.9906" stop-color="#22a785"/><stop offset="0.9927" stop-color="#2eb37c"/><stop offset="0.9948" stop-color="#42be71"/><stop offset="0.9990" stop-color="#42be71"/></linearGradient><linearGradient id="g34" x1="0" y1="0" x2="0" y2="1"><stop offset="0.0010" stop-color="#1e9b8a"/><stop offset="0.0343" stop-color="#1e9b8a"/><stop offset="0.0676" stop-color="#1e9b8a"/><stop offset="0.1008" stop-color="#1e9b8a"/><stop offset="0.1341" stop-color="#1f9e89"/><stop offset="0.1383" stop-color="#1f9e89"/><stop offset="0.1549" stop-color="#1f9e89"/><stop offset="0.1674" stop-color="#1f9e89"/><stop offset="0.1715" stop-color="#1f9e89"/><stop offset="0.2006" stop-color="#1e9c89"/><stop offset="0.2339" stop-color="#1e9c89"/><stop offset="0.2672" stop-color="#1e9c89"/><stop offset="0.3004" stop-color="#1e9d89"/><stop offset="0.3337" stop-color="#1e9d89"/><stop offset="0.3669" stop-color="#1e9d89"/><stop offset="0.4002" stop-color="#1e9d89"/><stop offset="0.4044" stop-color="#1e9d89"/><stop offset="0.4335" stop-color="#1f9e89"/><stop offset="0.4667" stop-color="#1f9e89"/><stop offset="0.5000" stop-color="#1f9e89"/><stop offset="0.5333" stop-color="#1f9f88"/><stop offset="0.5624" stop-color="#1f9f88"/><stop offset="0.5665" stop-color="#1fa088"/><stop offset="0.5748" stop-color="#1fa188"/><stop offset="0.5873" stop-color="#1fa187"/><stop offset="0.5998" stop-color="#1fa188"/><stop offset="0.6123" stop-color="#1fa188"/><stop offset="0.6247" stop-color="#1fa188"/><stop offset="0.6372" stop-color="#1fa188"/><stop offset="0.6497" stop-color="#1fa187"/><stop offset="0.6538" stop-color="#1fa287"/><stop offset="0.6580" stop-color="#20a386"/><stop offset="0.6622" stop-color="#21a585"/><stop offset="0.6663" stop-color="#22a785"/><stop offset="0.6705" stop-color="#22a884"/><stop offset="0.6746" stop-color="#22a785"/><stop offset="0.6788" stop-color="#21a585"/><stop offset="0.6830" stop-color="#20a386"/><stop offset="0.6871" stop-color="#1fa287"/><stop offset="0.6913" stop-color="#1fa187"/><stop offset="0.6954" stop-color="#1fa187"/><stop offset="0.6996" stop-color="#1fa287"/><stop offset="0.7037" stop-color="#21a685"/><stop offset="0.7079" stop-color="#23a983"/><stop offset="0.7121" stop-color="#21a685"/><stop offset="0.7162" stop-color="#20a386"/><stop offset="0.7204" stop-color="#1fa287"/><stop offset="0.7245" stop-color="#1fa287"/><stop offset="0.7287" stop-color="#1fa287"/><stop offset="0.7328" stop-color="#21a585"/><stop offset="0.7370" stop-color="#23a983"/><stop offset="0.7412" stop-color="#22a884"/><stop offset="0.7453" stop-color="#20a486"/><stop offset="0.7495" stop-color="#1fa287"/><stop offset="0.7536" stop-color="#1fa287"/><stop offset="0.7703" stop-color="#1fa287"/><stop offset="0.7869" stop-color="#20a386"/><stop offset="0.8035" stop-color="#20a386"/><stop offset="0.8202" stop-color="#20a386"/><stop offset="0.8368" stop-color="#20a386"/><stop offset="0.8493" stop-color="#20a486"/><stop offset="0.8534" stop-color="#21a685"/><stop offset="0.8576" stop-color="#24aa83"/><stop offset="0.8617" stop-color="#29af7f"/><stop offset="0.8659" stop-color="#2cb17e"/><stop offset="0.8701" stop-color="#27ad81"/><stop offset="0.8742" stop-color="#22a884"/><stop offset="0.8784" stop-color="#21a585"/><stop offset="0.8825" stop-color="#20a486"/><stop offset="0.8867" stop-color="#20a486"/><stop offset="0.9033" stop-color="#20a486"/><stop offset="0.9200" stop-color="#21a585"/><stop offset="0.9366" stop-color="#21a585"/><stop offset="0.9532" stop-color="#21a585"/><stop offset="0.9657" stop-color="#21a685"/><stop offset="0.9699" stop-color="#22a884"/><stop offset="0.9719" stop-color="#23a983"/><stop offset="0.9740" stop-color="#23a983"/><stop offset="0.9782" stop-color="#23a983"/><stop offset="0.9823" stop-color="#23a983"/><stop offset="0.9865" stop-color="#22a785"/><stop offset="0.9906" stop-color="#22a785"/><stop offset="0.9927" stop-color="#2eb37c"/><stop offset="0.9948" stop-color="#42be71"/><stop offset="0.9990" stop-color="#42be71"/></linearGradient><linearGradient id="g35" x1="0" y1="0" x2="0" y2="1"><stop offset="0.0010" stop-color="#1e9b8a"/><stop offset="0.0343" stop-color="#1e9b8a"/><stop offset="0.0676" stop-color="#1e9b8a"/><stop offset="0.1008" stop-color="#1e9b8a"/><stop offset="0.1341" stop-color="#1f9e89"/><stop offset="0.1383" stop-color="#1f9e89"/><stop offset="0.1549" stop-color="#1f9e89"/><stop offset="0.1674" stop-color="#1f9e89"/><stop offset="0.1715" stop-color="#1f9e89"/><stop offset="0.2006" stop-color="#1e9c89"/><stop offset="0.2339" stop-color="#1e9c89"/><stop offset="0.2672" stop-color="#1e9c89"/><stop offset="0.3004" stop-color="#1e9d89"/><stop offset="0.3337" stop-color="#1e9d89"/><stop offset="0.3669" stop-color="#1e9d89"/><stop offset="0.4002" stop-color="#1e9d89"/><stop offset="0.4044" stop-color="#1e9d89"/><stop offset="0.4335" stop-color="#1f9e89"/><stop offset="0.4667" stop-color="#1f9f88"/><stop offset="0.5000" stop-color="#1f9f88"/><stop offset="0.5333" stop-color="#1fa088"/><stop offset="0.5624" stop-color="#1fa088"/><stop offset="0.5665" stop-color="#1fa088"/><stop offset="0.5748" stop-color="#1fa188"/><stop offset="0.5873" stop-color="#1fa187"/><stop offset="0.5998" stop-color="#1fa188"/><stop offset="0.6123" stop-color="#1fa188"/><stop offset="0.6247" stop-color="#1fa187"/><stop offset="0.6372" stop-color="#1fa187"/><stop offset="0.6497" stop-color="#1fa287"/><stop offset="0.6538" stop-color="#1fa287"/><stop offset="0.6580" stop-color="#20a386"/><stop offset="0.6622" stop-color="#20a486"/><stop offset="0.6663" stop-color="#21a585"/><stop offset="0.6705" stop-color="#21a685"/><stop offset="0.6746" stop-color="#21a585"/><stop offset="0.6788" stop-color="#20a486"/><stop offset="0.6830" stop-color="#20a386"/><stop offset="0.6871" stop-color="#20a386"/><stop offset="0.6913" stop-color="#1fa287"/><stop offset="0.6954" stop-color="#1fa287"/><stop offset="0.6996" stop-color="#20a386"/><stop offset="0.7037" stop-color="#21a585"/><stop offset="0.7079" stop-color="#22a785"/><stop offset="0.7121" stop-color="#21a585"/><stop offset="0.7162" stop-color="#20a386"/><stop offset="0.7204" stop-color="#20a386"/><stop offset="0.7245" stop-color="#20a386"/><stop offset="0.7287" stop-color="#20a386"/><stop offset="0.7328" stop-color="#21a585"/><stop offset="0.7370" stop-color="#22a785"/><stop offset="0.7412" stop-color="#21a685"/><stop offset="0.7453" stop-color="#20a486"/><stop offset="0.7495" stop-color="#20a386"/><stop offset="0.7536" stop-color="#20a386"/><stop offset="0.7703" stop-color="#20a386"/><stop offset="0.7869" stop-color="#20a486"/><stop offset="0.8035" stop-color="#20a486"/><stop offset="0.8202" stop-color="#20a486"/><stop offset="0.8368" stop-color="#20a486"/><stop offset="0.8493" stop-color="#21a585"/><stop offset="0.8534" stop-color="#21a685"/><stop offset="0.8576" stop-color="#23a983"/><stop offset="0.8617" stop-color="#25ac82"/><stop offset="0.8659" stop-color="#26ad81"/><stop offset="0.8701" stop-color="#25ab82"/><stop offset="0.8742" stop-color="#22a785"/><stop offset="0.8784" stop-color="#21a685"/><stop offset="0.8825" stop-color="#21a585"/><stop offset="0.8867" stop-color="#21a585"/><stop offset="0.9033" stop-color="#21a585"/><stop offset="0.9200" stop-color="#21a585"/><stop offset="0.9366" stop-color="#21a685"/><stop offset="0.9532" stop-color="#21a685"/><stop offset="0.9657" stop-color="#21a685"/><stop offset="0.9699" stop-color="#23a983"/><stop offset="0.9719" stop-color="#23a983"/><stop offset="0.9740" stop-color="#23a983"/><stop offset="0.9782" stop-color="#23a983"/><stop offset="0.9823" stop-color="#23a983"/><stop offset="0.9865" stop-color="#22a785"/><stop offset="0.9906" stop-color="#22a785"/><stop offset="0.9927" stop-color="#2eb37c"/><stop offset="0.9948" stop-color="#42be71"/><stop offset="0.9990" stop-color="#42be71"/></linearGradient><linearGradient id="g36" x1="0" y1="0" x2="0" y2="1"><stop offset="0.0010" stop-color="#1e9b8a"/><stop offset="0.0343" stop-color="#1e9b8a"/><stop offset="0.0676" stop-color="#1e9c89"/><stop offset="0.1008" stop-color="#1e9c89"/><stop offset="0.1341" stop-color="#1f9e89"/><stop offset="0.1383" stop-color="#1f9e89"/><stop offset="0.1549" stop-color="#1f9e89"/><stop offset="0.1674" stop-color="#1f9e89"/><stop offset="0.1715" stop-color="#1f9e89"/><stop offset="0.2006" stop-color="#1e9c89"/><stop offset="0.2339" stop-color="#1e9d89"/><stop offset="0.2672" stop-color="#1e9d89"/><stop offset="0.3004" stop-color="#1e9d89"/><stop offset="0.3337" stop-color="#1e9d89"/><stop offset="0.3669" stop-color="#1e9d89"/><stop offset="0.4002" stop-color="#1f9e89"/><stop offset="0.4044" stop-color="#1f9e89"/><stop offset="0.4335" stop-color="#1f9f88"/><stop offset="0.4667" stop-color="#1fa088"/><stop offset="0.5000" stop-color="#1fa088"/><stop offset="0.5333" stop-color="#1fa188"/><stop offset="0.5624" stop-color="#1fa187"/><stop offset="0.5665" stop-color="#1fa187"/><stop offset="0.5748" stop-color="#20a386"/><stop offset="0.5873" stop-color="#21a585"/><stop offset="0.5998" stop-color="#20a386"/><stop offset="0.6123" stop-color="#1fa287"/><stop offset="0.6247" stop-color="#20a386"/><stop offset="0.6372" stop-color="#20a386"/><stop offset="0.6497" stop-color="#20a486"/><stop offset="0.6538" stop-color="#21a585"/><stop offset="0.6580" stop-color="#22a785"/><stop offset="0.6622" stop-color="#24aa83"/><stop offset="0.6663" stop-color="#26ad81"/><stop offset="0.6705" stop-color="#27ad81"/><stop offset="0.6746" stop-color="#26ad81"/><stop offset="0.6788" stop-color="#24aa83"/><stop offset="0.6830" stop-color="#22a785"/><stop offset="0.6871" stop-color="#21a585"/><stop offset="0.6913" stop-color="#20a486"/><stop offset="0.6954" stop-color="#20a486"/><stop offset="0.6996" stop-color="#21a585"/><stop offset="0.7037" stop-color="#24aa83"/><stop offset="0.7079" stop-color="#27ad81"/><stop offset="0.7121" stop-color="#24aa83"/><stop offset="0.7162" stop-color="#21a685"/><stop offset="0.7204" stop-color="#20a486"/><stop offset="0.7245" stop-color="#20a486"/><stop offset="0.7287" stop-color="#21a585"/><stop offset="0.7328" stop-color="#23a983"/><stop offset="0.7370" stop-color="#27ad81"/><stop offset="0.7412" stop-color="#25ac82"/><stop offset="0.7453" stop-color="#22a785"/><stop offset="0.7495" stop-color="#21a585"/><stop offset="0.7536" stop-color="#21a585"/><stop offset="0.7703" stop-color="#21a585"/><stop offset="0.7869" stop-color="#21a585"/><stop offset="0.8035" stop-color="#21a685"/><stop offset="0.8202" stop-color="#21a685"/><stop offset="0.8368" stop-color="#21a685"/><stop offset="0.8493" stop-color="#22a785"/><stop offset="0.8534" stop-color="#23a983"/><stop offset="0.8576" stop-color="#28ae80"/><stop offset="0.8617" stop-color="#32b67a"/><stop offset="0.8659" stop-color="#37b878"/><stop offset="0.8701" stop-color="#2eb37c"/><stop offset="0.8742" stop-color="#25ac82"/><stop offset="0.8784" stop-color="#22a884"/><stop offset="0.8825" stop-color="#22a785"/><stop offset="0.8867" stop-color="#22a785"/><stop offset="0.9033" stop-color="#22a785"/><stop offset="0.9200" stop-color="#22a785"/><stop offset="0.9366" stop-color="#22a785"/><stop offset="0.9532" stop-color="#22a785"/><stop offset="0.9657" stop-color="#22a785"/><stop offset="0.9699" stop-color="#23a983"/><stop offset="0.9719" stop-color="#23a983"/><stop offset="0.9740" stop-color="#23a983"/><stop offset="0.9782" stop-color="#23a983"/><stop offset="0.9823" stop-color="#23a983"/><stop offset="0.9865" stop-color="#22a785"/><stop offset="0.9906" stop-color="#22a785"/><stop offset="0.9927" stop-color="#2eb37c"/><stop offset="0.9948" stop-color="#42be71"/><stop offset="0.9990" stop-color="#42be71"/></linearGradient><linearGradient id="g37" x1="0" y1="0" x2="0" y2="1"><stop offset="0.0010" stop-color="#1fa088"/><stop offset="0.0343" stop-color="#1fa188"/><stop offset="0.0676" stop-color="#1fa188"/><stop offset="0.1008" stop-color="#1fa187"/><stop offset="0.1341" stop-color="#20a486"/><stop offset="0.1383" stop-color="#20a486"/><stop offset="0.1549" stop-color="#20a486"/><stop offset="0.1674" stop-color="#20a486"/><stop offset="0.1715" stop-color="#20a386"/><stop offset="0.2006" stop-color="#1fa287"/><stop offset="0.2339" stop-color="#20a386"/><stop offset="0.2672" stop-color="#20a386"/><stop offset="0.3004" stop-color="#20a386"/><stop offset="0.3337" stop-color="#20a486"/><stop offset="0.3669" stop-color="#20a486"/><stop offset="0.4002" stop-color="#21a585"/><stop offset="0.4044" stop-color="#21a685"/><stop offset="0.4335" stop-color="#22a785"/><stop offset="0.4667" stop-color="#22a785"/><stop offset="0.5000" stop-color="#22a884"/><stop offset="0.5333" stop-color="#23a983"/><stop offset="0.5624" stop-color="#24aa83"/><stop offset="0.5665" stop-color="#25ac82"/><stop offset="0.5748" stop-color="#28ae80"/><stop offset="0.5873" stop-color="#2db27d"/><stop offset="0.5998" stop-color="#28ae80"/><stop offset="0.6123" stop-color="#26ad81"/><stop offset="0.6247" stop-color="#26ad81"/><stop offset="0.6372" stop-color="#27ad81"/><stop offset="0.6497" stop-color="#28ae80"/><stop offset="0.6538" stop-color="#2ab07f"/><stop offset="0.6580" stop-color="#2fb47c"/><stop offset="0.6622" stop-color="#38b977"/><stop offset="0.6663" stop-color="#42be71"/><stop offset="0.6705" stop-color="#46c06f"/><stop offset="0.6746" stop-color="#42be71"/><stop offset="0.6788" stop-color="#38b977"/><stop offset="0.6830" stop-color="#2fb47c"/><stop offset="0.6871" stop-color="#2cb17e"/><stop offset="0.6913" stop-color="#29af7f"/><stop offset="0.6954" stop-color="#28ae80"/><stop offset="0.6996" stop-color="#2cb17e"/><stop offset="0.7037" stop-color="#38b977"/><stop offset="0.7079" stop-color="#46c06f"/><stop offset="0.7121" stop-color="#38b977"/><stop offset="0.7162" stop-color="#2cb17e"/><stop offset="0.7204" stop-color="#28ae80"/><stop offset="0.7245" stop-color="#28ae80"/><stop offset="0.7287" stop-color="#2ab07f"/><stop offset="0.7328" stop-color="#35b779"/><stop offset="0.7370" stop-color="#46c06f"/><stop offset="0.7412" stop-color="#3fbc73"/><stop offset="0.7453" stop-color="#2eb37c"/><stop offset="0.7495" stop-color="#29af7f"/><stop offset="0.7536" stop-color="#29af7f"/><stop offset="0.7703" stop-color="#29af7f"/><stop offset="0.7869" stop-color="#29af7f"/><stop offset="0.8035" stop-color="#2ab07f"/><stop offset="0.8202" stop-color="#2ab07f"/><stop offset="0.8368" stop-color="#2ab07f"/><stop offset="0.8493" stop-color="#2cb17e"/><stop offset="0.8534" stop-color="#32b67a"/><stop offset="0.8576" stop-color="#44bf70"/><stop offset="0.8617" stop-color="#65cb5e"/><stop offset="0.8659" stop-color="#6ece58"/><stop offset="0.8701" stop-color="#54c568"/><stop offset="0.8742" stop-color="#38b977"/><stop offset="0.8784" stop-color="#2db27d"/><stop offset="0.8825" stop-color="#2ab07f"/><stop offset="0.8867" stop-color="#29af7f"/><stop offset="0.9033" stop-color="#29af7f"/><stop offset="0.9200" stop-color="#28ae80"/><stop offset="0.9366" stop-color="#28ae80"/><stop offset="0.9532" stop-color="#2ab07f"/><stop offset="0.9657" stop-color="#26ad81"/><stop offset="0.9699" stop-color="#24aa83"/><stop offset="0.9719" stop-color="#23a983"/><stop offset="0.9740" stop-color="#23a983"/><stop offset="0.9782" stop-color="#23a983"/><stop offset="0.9823" stop-color="#23a983"/><stop offset="0.9865" stop-color="#22a785"/><stop offset="0.9906" stop-color="#22a785"/><stop offset="0.9927" stop-color="#2eb37c"/><stop offset="0.9948" stop-color="#42be71"/><stop offset="0.9990" stop-color="#42be71"/></linearGradient><linearGradient id="g38" x1="0" y1="0" x2="0" y2="1"><stop offset="0.0010" stop-color="#1f9e89"/><stop offset="0.0343" stop-color="#1f9f88"/><stop offset="0.0676" stop-color="#1f9f88"/><stop offset="0.1008" stop-color="#1f9f88"/><stop offset="0.1341" stop-color="#1fa187"/><stop offset="0.1383" stop-color="#1fa187"/><stop offset="0.1549" stop-color="#1fa187"/><stop offset="0.1674" stop-color="#1fa187"/><stop offset="0.1715" stop-color="#1fa187"/><stop offset="0.2006" stop-color="#1fa188"/><stop offset="0.2339" stop-color="#1fa188"/><stop offset="0.2672" stop-color="#1fa188"/><stop offset="0.3004" stop-color="#1fa187"/><stop offset="0.3337" stop-color="#1fa187"/><stop offset="0.3669" stop-color="#1fa187"/><stop offset="0.4002" stop-color="#1fa287"/><stop offset="0.4044" stop-color="#20a386"/><stop offset="0.4335" stop-color="#20a386"/><stop offset="0.4667" stop-color="#20a486"/><stop offset="0.5000" stop-color="#20a486"/><stop offset="0.5333" stop-color="#21a585"/><stop offset="0.5624" stop-color="#21a685"/><stop offset="0.5665" stop-color="#22a884"/><stop offset="0.5748" stop-color="#24aa83"/><stop offset="0.5873" stop-color="#27ad81"/><stop offset="0.5998" stop-color="#24aa83"/><stop offset="0.6123" stop-color="#23a983"/><stop offset="0.6247" stop-color="#23a983"/><stop offset="0.6372" stop-color="#23a983"/><stop offset="0.6497" stop-color="#24aa83"/><stop offset="0.6538" stop-color="#25ac82"/><stop offset="0.6580" stop-color="#29af7f"/><stop offset="0.6622" stop-color="#31b57b"/><stop offset="0.6663" stop-color="#3aba76"/><stop offset="0.6705" stop-color="#3dbc74"/><stop offset="0.6746" stop-color="#3aba76"/><stop offset="0.6788" stop-color="#31b57b"/><stop offset="0.6830" stop-color="#2ab07f"/><stop offset="0.6871" stop-color="#26ad81"/><stop offset="0.6913" stop-color="#25ab82"/><stop offset="0.6954" stop-color="#25ab82"/><stop offset="0.6996" stop-color="#26ad81"/><stop offset="0.7037" stop-color="#31b57b"/><stop offset="0.7079" stop-color="#3dbc74"/><stop offset="0.7121" stop-color="#31b57b"/><stop offset="0.7162" stop-color="#26ad81"/><stop offset="0.7204" stop-color="#25ab82"/><stop offset="0.7245" stop-color="#25ab82"/><stop offset="0.7287" stop-color="#25ac82"/><stop offset="0.7328" stop-color="#2eb37c"/><stop offset="0.7370" stop-color="#3dbc74"/><stop offset="0.7412" stop-color="#37b878"/><stop offset="0.7453" stop-color="#28ae80"/><stop offset="0.7495" stop-color="#25ab82"/><stop offset="0.7536" stop-color="#25ab82"/><stop offset="0.7703" stop-color="#25ab82"/><stop offset="0.7869" stop-color="#25ac82"/><stop offset="0.8035" stop-color="#25ac82"/><stop offset="0.8202" stop-color="#25ac82"/><stop offset="0.8368" stop-color="#25ac82"/><stop offset="0.8493" stop-color="#27ad81"/><stop offset="0.8534" stop-color="#2cb17e"/><stop offset="0.8576" stop-color="#3dbc74"/><stop offset="0.8617" stop-color="#5ac864"/><stop offset="0.8659" stop-color="#63cb5f"/><stop offset="0.8701" stop-color="#4ac16d"/><stop offset="0.8742" stop-color="#32b67a"/><stop offset="0.8784" stop-color="#28ae80"/><stop offset="0.8825" stop-color="#26ad81"/><stop offset="0.8867" stop-color="#25ac82"/><stop offset="0.9033" stop-color="#25ac82"/><stop offset="0.9200" stop-color="#25ac82"/><stop offset="0.9366" stop-color="#25ab82"/><stop offset="0.9532" stop-color="#26ad81"/><stop offset="0.9657" stop-color="#24aa83"/><stop offset="0.9699" stop-color="#23a983"/><stop offset="0.9719" stop-color="#23a983"/><stop offset="0.9740" stop-color="#23a983"/><stop offset="0.9782" stop-color="#23a983"/><stop offset="0.9823" stop-color="#23a983"/><stop offset="0.9865" stop-color="#22a785"/><stop offset="0.9906" stop-color="#22a785"/><stop offset="0.9927" stop-color="#2eb37c"/><stop offset="0.9948" stop-color="#42be71"/><stop offset="0.9990" stop-color="#42be71"/></linearGradient><linearGradient id="g39" x1="0" y1="0" x2="0" y2="1"><stop offset="0.0010" stop-color="#1e9b8a"/><stop offset="0.0343" stop-color="#1e9b8a"/><stop offset="0.0676" stop-color="#1e9b8a"/><stop offset="0.1008" stop-color="#1e9b8a"/><stop offset="0.1341" stop-color="#1f9e89"/><stop offset="0.1383" stop-color="#1f9e89"/><stop offset="0.1549" stop-color="#1f9e89"/><stop offset="0.1674" stop-color="#1f9e89"/><stop offset="0.1715" stop-color="#1f9e89"/><stop offset="0.2006" stop-color="#1e9c89"/><stop offset="0.2339" stop-color="#1e9c89"/><stop offset="0.2672" stop-color="#1e9c89"/><stop offset="0.3004" stop-color="#1e9c89"/><stop offset="0.3337" stop-color="#1e9d89"/><stop offset="0.3669" stop-color="#1e9d89"/><stop offset="0.4002" stop-color="#1e9d89"/><stop offset="0.4044" stop-color="#1e9d89"/><stop offset="0.4335" stop-color="#1e9d89"/><stop offset="0.4667" stop-color="#1f9e89"/><stop offset="0.5000" stop-color="#1f9e89"/><stop offset="0.5333" stop-color="#1f9f88"/><stop offset="0.5624" stop-color="#1f9f88"/><stop offset="0.5665" stop-color="#1f9f88"/><stop offset="0.5748" stop-color="#1fa088"/><stop offset="0.5873" stop-color="#1fa188"/><stop offset="0.5998" stop-color="#1fa088"/><stop offset="0.6123" stop-color="#1fa088"/><stop offset="0.6247" stop-color="#1fa188"/><stop offset="0.6372" stop-color="#1fa188"/><stop offset="0.6497" stop-color="#1fa187"/><stop offset="0.6538" stop-color="#1fa187"/><stop offset="0.6580" stop-color="#1fa287"/><stop offset="0.6622" stop-color="#20a386"/><stop offset="0.6663" stop-color="#20a486"/><stop offset="0.6705" stop-color="#20a486"/><stop offset="0.6746" stop-color="#20a486"/><stop offset="0.6788" stop-color="#20a386"/><stop offset="0.6830" stop-color="#1fa287"/><stop offset="0.6871" stop-color="#1fa187"/><stop offset="0.6913" stop-color="#1fa187"/><stop offset="0.6954" stop-color="#1fa187"/><stop offset="0.6996" stop-color="#1fa287"/><stop offset="0.7037" stop-color="#20a486"/><stop offset="0.7079" stop-color="#21a585"/><stop offset="0.7121" stop-color="#20a486"/><stop offset="0.7162" stop-color="#1fa287"/><stop offset="0.7204" stop-color="#1fa287"/><stop offset="0.7245" stop-color="#1fa287"/><stop offset="0.7287" stop-color="#1fa287"/><stop offset="0.7328" stop-color="#20a386"/><stop offset="0.7370" stop-color="#21a585"/><stop offset="0.7412" stop-color="#21a585"/><stop offset="0.7453" stop-color="#20a386"/><stop offset="0.7495" stop-color="#1fa287"/><stop offset="0.7536" stop-color="#1fa287"/><stop offset="0.7703" stop-color="#1fa287"/><stop offset="0.7869" stop-color="#20a386"/><stop offset="0.8035" stop-color="#20a386"/><stop offset="0.8202" stop-color="#20a386"/><stop offset="0.8368" stop-color="#20a386"/><stop offset="0.8493" stop-color="#20a486"/><stop offset="0.8534" stop-color="#21a585"/><stop offset="0.8576" stop-color="#22a785"/><stop offset="0.8617" stop-color="#24aa83"/><stop offset="0.8659" stop-color="#25ab82"/><stop offset="0.8701" stop-color="#23a983"/><stop offset="0.8742" stop-color="#21a685"/><stop offset="0.8784" stop-color="#21a585"/><stop offset="0.8825" stop-color="#20a486"/><stop offset="0.8867" stop-color="#20a486"/><stop offset="0.9033" stop-color="#20a486"/><stop offset="0.9200" stop-color="#21a585"/><stop offset="0.9366" stop-color="#21a585"/><stop offset="0.9532" stop-color="#21a585"/><stop offset="0.9657" stop-color="#21a685"/><stop offset="0.9699" stop-color="#22a884"/><stop offset="0.9719" stop-color="#23a983"/><stop offset="0.9740" stop-color="#23a983"/><stop offset="0.9782" stop-color="#23a983"/><stop offset="0.9823" stop-color="#23a983"/><stop offset="0.9865" stop-color="#22a785"/><stop offset="0.9906" stop-color="#22a785"/><stop offset="0.9927" stop-color="#2eb37c"/><stop offset="0.9948" stop-color="#42be71"/><stop offset="0.9990" stop-color="#42be71"/></linearGradient><linearGradient id="g40" x1="0" y1="0" x2="0" y2="1"><stop offset="0.0010" stop-color="#1e9d89"/><stop offset="0.0343" stop-color="#1e9d89"/><stop offset="0.0676" stop-color="#1e9d89"/><stop offset="0.1008" stop-color="#1e9d89"/><stop offset="0.1341" stop-color="#1fa088"/><stop offset="0.1383" stop-color="#1fa088"/><stop offset="0.1549" stop-color="#1fa088"/><stop offset="0.1674" stop-color="#1fa088"/><stop offset="0.1715" stop-color="#1fa088"/><stop offset="0.2006" stop-color="#1f9e89"/><stop offset="0.2339" stop-color="#1f9e89"/><stop offset="0.2672" stop-color="#1f9f88"/><stop offset="0.3004" stop-color="#1f9f88"/><stop offset="0.3337" stop-color="#1f9f88"/><stop offset="0.3669" stop-color="#1f9f88"/><stop offset="0.4002" stop-color="#1fa088"/><stop offset="0.4044" stop-color="#1fa088"/><stop offset="0.4335" stop-color="#1fa188"/><stop offset="0.4667" stop-color="#1fa188"/><stop offset="0.5000" stop-color="#1fa187"/><stop offset="0.5333" stop-color="#1fa187"/><stop offset="0.5624" stop-color="#1fa287"/><stop offset="0.5665" stop-color="#20a386"/><stop offset="0.5748" stop-color="#21a585"/><stop offset="0.5873" stop-color="#23a983"/><stop offset="0.5998" stop-color="#21a585"/><stop offset="0.6123" stop-color="#20a486"/><stop offset="0.6247" stop-color="#20a486"/><stop offset="0.6372" stop-color="#20a486"/><stop offset="0.6497" stop-color="#21a585"/><stop offset="0.6538" stop-color="#22a785"/><stop offset="0.6580" stop-color="#25ab82"/><stop offset="0.6622" stop-color="#2ab07f"/><stop offset="0.6663" stop-color="#32b67a"/><stop offset="0.6705" stop-color="#35b779"/><stop offset="0.6746" stop-color="#32b67a"/><stop offset="0.6788" stop-color="#2ab07f"/><stop offset="0.6830" stop-color="#25ac82"/><stop offset="0.6871" stop-color="#22a884"/><stop offset="0.6913" stop-color="#21a685"/><stop offset="0.6954" stop-color="#21a685"/><stop offset="0.6996" stop-color="#22a884"/><stop offset="0.7037" stop-color="#2ab07f"/><stop offset="0.7079" stop-color="#35b779"/><stop offset="0.7121" stop-color="#2cb17e"/><stop offset="0.7162" stop-color="#22a884"/><stop offset="0.7204" stop-color="#21a685"/><stop offset="0.7245" stop-color="#21a685"/><stop offset="0.7287" stop-color="#22a785"/><stop offset="0.7328" stop-color="#28ae80"/><stop offset="0.7370" stop-color="#35b779"/><stop offset="0.7412" stop-color="#2fb47c"/><stop offset="0.7453" stop-color="#24aa83"/><stop offset="0.7495" stop-color="#22a785"/><stop offset="0.7536" stop-color="#21a685"/><stop offset="0.7703" stop-color="#22a785"/><stop offset="0.7869" stop-color="#22a785"/><stop offset="0.8035" stop-color="#22a785"/><stop offset="0.8202" stop-color="#22a785"/><stop offset="0.8368" stop-color="#22a884"/><stop offset="0.8493" stop-color="#23a983"/><stop offset="0.8534" stop-color="#26ad81"/><stop offset="0.8576" stop-color="#35b779"/><stop offset="0.8617" stop-color="#50c46a"/><stop offset="0.8659" stop-color="#58c765"/><stop offset="0.8701" stop-color="#42be71"/><stop offset="0.8742" stop-color="#2cb17e"/><stop offset="0.8784" stop-color="#24aa83"/><stop offset="0.8825" stop-color="#22a884"/><stop offset="0.8867" stop-color="#22a884"/><stop offset="0.9033" stop-color="#22a884"/><stop offset="0.9200" stop-color="#22a884"/><stop offset="0.9366" stop-color="#22a884"/><stop offset="0.9532" stop-color="#23a983"/><stop offset="0.9657" stop-color="#22a884"/><stop offset="0.9699" stop-color="#23a983"/><stop offset="0.9719" stop-color="#23a983"/><stop offset="0.9740" stop-color="#23a983"/><stop offset="0.9782" stop-color="#23a983"/><stop offset="0.9823" stop-color="#23a983"/><stop offset="0.9865" stop-color="#22a785"/><stop offset="0.9906" stop-color="#22a785"/><stop offset="0.9927" stop-color="#2eb37c"/><stop offset="0.9948" stop-color="#42be71"/><stop offset="0.9990" stop-color="#42be71"/></linearGradient><linearGradient id="g41" x1="0" y1="0" x2="0" y2="1"><stop offset="0.0010" stop-color="#1fa088"/><stop offset="0.0343" stop-color="#1fa188"/><stop offset="0.0676" stop-color="#1fa188"/><stop offset="0.1008" stop-color="#1fa187"/><stop offset="0.1341" stop-color="#20a486"/><stop offset="0.1383" stop-color="#20a486"/><stop offset="0.1549" stop-color="#20a486"/><stop offset="0.1674" stop-color="#20a486"/><stop offset="0.1715" stop-color="#20a486"/><stop offset="0.2006" stop-color="#1fa287"/><stop offset="0.2339" stop-color="#20a386"/><stop offset="0.2672" stop-color="#20a386"/><stop offset="0.3004" stop-color="#20a486"/><stop offset="0.3337" stop-color="#20a486"/><stop offset="0.3669" stop-color="#20a486"/><stop offset="0.4002" stop-color="#21a585"/><stop offset="0.4044" stop-color="#22a785"/><stop offset="0.4335" stop-color="#22a785"/><stop offset="0.4667" stop-color="#22a884"/><stop offset="0.5000" stop-color="#22a884"/><stop offset="0.5333" stop-color="#23a983"/><stop offset="0.5624" stop-color="#24aa83"/><stop offset="0.5665" stop-color="#26ad81"/><stop offset="0.5748" stop-color="#28ae80"/><stop offset="0.5873" stop-color="#2cb17e"/><stop offset="0.5998" stop-color="#28ae80"/><stop offset="0.6123" stop-color="#27ad81"/><stop offset="0.6247" stop-color="#27ad81"/><stop offset="0.6372" stop-color="#27ad81"/><stop offset="0.6497" stop-color="#28ae80"/><stop offset="0.6538" stop-color="#2ab07f"/><stop offset="0.6580" stop-color="#2eb37c"/><stop offset="0.6622" stop-color="#34b679"/><stop offset="0.6663" stop-color="#3aba76"/><stop offset="0.6705" stop-color="#3dbc74"/><stop offset="0.6746" stop-color="#3bbb75"/><stop offset="0.6788" stop-color="#34b679"/><stop offset="0.6830" stop-color="#2eb37c"/><stop offset="0.6871" stop-color="#2ab07f"/><stop offset="0.6913" stop-color="#29af7f"/><stop offset="0.6954" stop-color="#29af7f"/><stop offset="0.6996" stop-color="#2cb17e"/><stop offset="0.7037" stop-color="#35b779"/><stop offset="0.7079" stop-color="#3dbc74"/><stop offset="0.7121" stop-color="#35b779"/><stop offset="0.7162" stop-color="#2cb17e"/><stop offset="0.7204" stop-color="#29af7f"/><stop offset="0.7245" stop-color="#29af7f"/><stop offset="0.7287" stop-color="#2ab07f"/><stop offset="0.7328" stop-color="#32b67a"/><stop offset="0.7370" stop-color="#3dbc74"/><stop offset="0.7412" stop-color="#38b977"/><stop offset="0.7453" stop-color="#2db27d"/><stop offset="0.7495" stop-color="#2ab07f"/><stop offset="0.7536" stop-color="#29af7f"/><stop offset="0.7703" stop-color="#2ab07f"/><stop offset="0.7869" stop-color="#2ab07f"/><stop offset="0.8035" stop-color="#2ab07f"/><stop offset="0.8202" stop-color="#2ab07f"/><stop offset="0.8368" stop-color="#2cb17e"/><stop offset="0.8493" stop-color="#2db27d"/><stop offset="0.8534" stop-color="#31b57b"/><stop offset="0.8576" stop-color="#3fbc73"/><stop offset="0.8617" stop-color="#54c568"/><stop offset="0.8659" stop-color="#5ac864"/><stop offset="0.8701" stop-color="#48c16e"/><stop offset="0.8742" stop-color="#35b779"/><stop offset="0.8784" stop-color="#2db27d"/><stop offset="0.8825" stop-color="#2ab07f"/><stop offset="0.8867" stop-color="#2ab07f"/><stop offset="0.9033" stop-color="#29af7f"/><stop offset="0.9200" stop-color="#29af7f"/><stop offset="0.9366" stop-color="#28ae80"/><stop offset="0.9532" stop-color="#2ab07f"/><stop offset="0.9657" stop-color="#26ad81"/><stop offset="0.9699" stop-color="#24aa83"/><stop offset="0.9719" stop-color="#23a983"/><stop offset="0.9740" stop-color="#23a983"/><stop offset="0.9782" stop-color="#23a983"/><stop offset="0.9823" stop-color="#23a983"/><stop offset="0.9865" stop-color="#22a785"/><stop offset="0.9906" stop-color="#22a785"/><stop offset="0.9927" stop-color="#2eb37c"/><stop offset="0.9948" stop-color="#42be71"/><stop offset="0.9990" stop-color="#42be71"/></linearGradient><linearGradient id="g42" x1="0" y1="0" x2="0" y2="1"><stop offset="0.0010" stop-color="#1e9b8a"/><stop offset="0.0343" stop-color="#1e9b8a"/><stop offset="0.0676" stop-color="#1e9b8a"/><stop offset="0.1008" stop-color="#1e9c89"/><stop offset="0.1341" stop-color="#1f9e89"/><stop offset="0.1383" stop-color="#1f9e89"/><stop offset="0.1549" stop-color="#1f9e89"/><stop offset="0.1674" stop-color="#1f9e89"/><stop offset="0.1715" stop-color="#1f9e89"/><stop offset="0.2006" stop-color="#1e9c89"/><stop offset="0.2339" stop-color="#1e9c89"/><stop offset="0.2672" stop-color="#1e9d89"/><stop offset="0.3004" stop-color="#1e9d89"/><stop offset="0.3337" stop-color="#1e9d89"/><stop offset="0.3669" stop-color="#1e9d89"/><stop offset="0.4002" stop-color="#1e9d89"/><stop offset="0.4044" stop-color="#1f9e89"/><stop offset="0.4335" stop-color="#1f9e89"/><stop offset="0.4667" stop-color="#1f9f88"/><stop offset="0.5000" stop-color="#1f9f88"/><stop offset="0.5333" stop-color="#1fa088"/><stop offset="0.5624" stop-color="#1fa088"/><stop offset="0.5665" stop-color="#1fa188"/><stop offset="0.5748" stop-color="#1fa187"/><stop offset="0.5873" stop-color="#20a386"/><stop offset="0.5998" stop-color="#1fa187"/><stop offset="0.6123" stop-color="#1fa187"/><stop offset="0.6247" stop-color="#1fa187"/><stop offset="0.6372" stop-color="#1fa187"/><stop offset="0.6497" stop-color="#1fa287"/><stop offset="0.6538" stop-color="#20a386"/><stop offset="0.6580" stop-color="#21a585"/><stop offset="0.6622" stop-color="#22a884"/><stop offset="0.6663" stop-color="#24aa83"/><stop offset="0.6705" stop-color="#25ac82"/><stop offset="0.6746" stop-color="#25ab82"/><stop offset="0.6788" stop-color="#22a884"/><stop offset="0.6830" stop-color="#21a585"/><stop offset="0.6871" stop-color="#20a486"/><stop offset="0.6913" stop-color="#20a386"/><stop offset="0.6954" stop-color="#20a386"/><stop offset="0.6996" stop-color="#20a486"/><stop offset="0.7037" stop-color="#22a884"/><stop offset="0.7079" stop-color="#25ac82"/><stop offset="0.7121" stop-color="#23a983"/><stop offset="0.7162" stop-color="#20a486"/><stop offset="0.7204" stop-color="#20a386"/><stop offset="0.7245" stop-color="#20a386"/><stop offset="0.7287" stop-color="#20a486"/><stop offset="0.7328" stop-color="#22a785"/><stop offset="0.7370" stop-color="#25ac82"/><stop offset="0.7412" stop-color="#24aa83"/><stop offset="0.7453" stop-color="#21a585"/><stop offset="0.7495" stop-color="#20a486"/><stop offset="0.7536" stop-color="#20a386"/><stop offset="0.7703" stop-color="#20a486"/><stop offset="0.7869" stop-color="#20a486"/><stop offset="0.8035" stop-color="#20a486"/><stop offset="0.8202" stop-color="#20a486"/><stop offset="0.8368" stop-color="#21a585"/><stop offset="0.8493" stop-color="#21a585"/><stop offset="0.8534" stop-color="#22a884"/><stop offset="0.8576" stop-color="#26ad81"/><stop offset="0.8617" stop-color="#2fb47c"/><stop offset="0.8659" stop-color="#32b67a"/><stop offset="0.8701" stop-color="#2ab07f"/><stop offset="0.8742" stop-color="#24aa83"/><stop offset="0.8784" stop-color="#22a785"/><stop offset="0.8825" stop-color="#21a585"/><stop offset="0.8867" stop-color="#21a585"/><stop offset="0.9033" stop-color="#21a585"/><stop offset="0.9200" stop-color="#21a685"/><stop offset="0.9366" stop-color="#21a685"/><stop offset="0.9532" stop-color="#21a685"/><stop offset="0.9657" stop-color="#21a685"/><stop offset="0.9699" stop-color="#23a983"/><stop offset="0.9719" stop-color="#23a983"/><stop offset="0.9740" stop-color="#23a983"/><stop offset="0.9782" stop-color="#23a983"/><stop offset="0.9823" stop-color="#23a983"/><stop offset="0.9865" stop-color="#22a785"/><stop offset="0.9906" stop-color="#22a785"/><stop offset="0.9927" stop-color="#2eb37c"/><stop offset="0.9948" stop-color="#42be71"/><stop offset="0.9990" stop-color="#42be71"/></linearGradient><linearGradient id="g43" x1="0" y1="0" x2="0" y2="1"><stop offset="0.0010" stop-color="#1fa187"/><stop offset="0.0343" stop-color="#1fa187"/><stop offset="0.0676" stop-color="#1fa287"/><stop offset="0.1008" stop-color="#1fa287"/><stop offset="0.1341" stop-color="#21a685"/><stop offset="0.1383" stop-color="#21a685"/><stop offset="0.1549" stop-color="#21a685"/><stop offset="0.1674" stop-color="#21a685"/><stop offset="0.1715" stop-color="#21a685"/><stop offset="0.2006" stop-color="#20a486"/><stop offset="0.2339" stop-color="#21a585"/><stop offset="0.2672" stop-color="#21a685"/><stop offset="0.3004" stop-color="#21a685"/><stop offset="0.3337" stop-color="#21a685"/><stop offset="0.3669" stop-color="#21a685"/><stop offset="0.4002" stop-color="#23a983"/><stop offset="0.4044" stop-color="#24aa83"/><stop offset="0.4335" stop-color="#25ab82"/><stop offset="0.4667" stop-color="#25ac82"/><stop offset="0.5000" stop-color="#26ad81"/><stop offset="0.5333" stop-color="#26ad81"/><stop offset="0.5624" stop-color="#28ae80"/><stop offset="0.5665" stop-color="#2db27d"/><stop offset="0.5748" stop-color="#2fb47c"/><stop offset="0.5873" stop-color="#37b878"/><stop offset="0.5998" stop-color="#2fb47c"/><stop offset="0.6123" stop-color="#2db27d"/><stop offset="0.6247" stop-color="#2db27d"/><stop offset="0.6372" stop-color="#2eb37c"/><stop offset="0.6497" stop-color="#2fb47c"/><stop offset="0.6538" stop-color="#34b679"/><stop offset="0.6580" stop-color="#3aba76"/><stop offset="0.6622" stop-color="#48c16e"/><stop offset="0.6663" stop-color="#56c667"/><stop offset="0.6705" stop-color="#5cc863"/><stop offset="0.6746" stop-color="#56c667"/><stop offset="0.6788" stop-color="#48c16e"/><stop offset="0.6830" stop-color="#3bbb75"/><stop offset="0.6871" stop-color="#34b679"/><stop offset="0.6913" stop-color="#31b57b"/><stop offset="0.6954" stop-color="#2fb47c"/><stop offset="0.6996" stop-color="#34b679"/><stop offset="0.7037" stop-color="#48c16e"/><stop offset="0.7079" stop-color="#5ac864"/><stop offset="0.7121" stop-color="#48c16e"/><stop offset="0.7162" stop-color="#34b679"/><stop offset="0.7204" stop-color="#2fb47c"/><stop offset="0.7245" stop-color="#2fb47c"/><stop offset="0.7287" stop-color="#32b67a"/><stop offset="0.7328" stop-color="#42be71"/><stop offset="0.7370" stop-color="#5ac864"/><stop offset="0.7412" stop-color="#50c46a"/><stop offset="0.7453" stop-color="#38b977"/><stop offset="0.7495" stop-color="#31b57b"/><stop offset="0.7536" stop-color="#31b57b"/><stop offset="0.7703" stop-color="#31b57b"/><stop offset="0.7869" stop-color="#31b57b"/><stop offset="0.8035" stop-color="#31b57b"/><stop offset="0.8202" stop-color="#32b67a"/><stop offset="0.8368" stop-color="#32b67a"/><stop offset="0.8493" stop-color="#35b779"/><stop offset="0.8534" stop-color="#3dbc74"/><stop offset="0.8576" stop-color="#58c765"/><stop offset="0.8617" stop-color="#81d34d"/><stop offset="0.8659" stop-color="#90d743"/><stop offset="0.8701" stop-color="#6ccd5a"/><stop offset="0.8742" stop-color="#46c06f"/><stop offset="0.8784" stop-color="#35b779"/><stop offset="0.8825" stop-color="#32b67a"/><stop offset="0.8867" stop-color="#31b57b"/><stop offset="0.9033" stop-color="#2fb47c"/><stop offset="0.9200" stop-color="#2eb37c"/><stop offset="0.9366" stop-color="#2db27d"/><stop offset="0.9532" stop-color="#31b57b"/><stop offset="0.9657" stop-color="#29af7f"/><stop offset="0.9699" stop-color="#24aa83"/><stop offset="0.9719" stop-color="#23a983"/><stop offset="0.9740" stop-color="#23a983"/><stop offset="0.9782" stop-color="#23a983"/><stop offset="0.9823" stop-color="#23a983"/><stop offset="0.9865" stop-color="#22a785"/><stop offset="0.9906" stop-color="#22a785"/><stop offset="0.9927" stop-color="#2eb37c"/><stop offset="0.9948" stop-color="#42be71"/><stop offset="0.9990" stop-color="#42be71"/></linearGradient><linearGradient id="g44" x1="0" y1="0" x2="0" y2="1"><stop offset="0.0010" stop-color="#1e9c89"/><stop offset="0.0343" stop-color="#1e9c89"/><stop offset="0.0676" stop-color="#1e9d89"/><stop offset="0.1008" stop-color="#1e9d89"/><stop offset="0.1341" stop-color="#1fa088"/><stop offset="0.1383" stop-color="#1fa088"/><stop offset="0.1549" stop-color="#1fa088"/><stop offset="0.1674" stop-color="#1fa088"/><stop offset="0.1715" stop-color="#1f9f88"/><stop offset="0.2006" stop-color="#1f9e89"/><stop offset="0.2339" stop-color="#1f9e89"/><stop offset="0.2672" stop-color="#1f9f88"/><stop offset="0.3004" stop-color="#1f9f88"/><stop offset="0.3337" stop-color="#1f9f88"/><stop offset="0.3669" stop-color="#1fa088"/><stop offset="0.4002" stop-color="#1fa287"/><stop offset="0.4044" stop-color="#20a386"/><stop offset="0.4335" stop-color="#21a685"/><stop offset="0.4667" stop-color="#22a785"/><stop offset="0.5000" stop-color="#22a884"/><stop offset="0.5333" stop-color="#22a884"/><stop offset="0.5624" stop-color="#24aa83"/><stop offset="0.5665" stop-color="#25ac82"/><stop offset="0.5748" stop-color="#27ad81"/><stop offset="0.5873" stop-color="#2ab07f"/><stop offset="0.5998" stop-color="#27ad81"/><stop offset="0.6123" stop-color="#26ad81"/><stop offset="0.6247" stop-color="#26ad81"/><stop offset="0.6372" stop-color="#26ad81"/><stop offset="0.6497" stop-color="#27ad81"/><stop offset="0.6538" stop-color="#29af7f"/><stop offset="0.6580" stop-color="#2db27d"/><stop offset="0.6622" stop-color="#34b679"/><stop offset="0.6663" stop-color="#3bbb75"/><stop offset="0.6705" stop-color="#3fbc73"/><stop offset="0.6746" stop-color="#3dbc74"/><stop offset="0.6788" stop-color="#35b779"/><stop offset="0.6830" stop-color="#2eb37c"/><stop offset="0.6871" stop-color="#2ab07f"/><stop offset="0.6913" stop-color="#28ae80"/><stop offset="0.6954" stop-color="#28ae80"/><stop offset="0.6996" stop-color="#2ab07f"/><stop offset="0.7037" stop-color="#35b779"/><stop offset="0.7079" stop-color="#40bd72"/><stop offset="0.7121" stop-color="#35b779"/><stop offset="0.7162" stop-color="#2ab07f"/><stop offset="0.7204" stop-color="#28ae80"/><stop offset="0.7245" stop-color="#28ae80"/><stop offset="0.7287" stop-color="#29af7f"/><stop offset="0.7328" stop-color="#32b67a"/><stop offset="0.7370" stop-color="#3fbc73"/><stop offset="0.7412" stop-color="#3aba76"/><stop offset="0.7453" stop-color="#2db27d"/><stop offset="0.7495" stop-color="#29af7f"/><stop offset="0.7536" stop-color="#28ae80"/><stop offset="0.7703" stop-color="#29af7f"/><stop offset="0.7869" stop-color="#29af7f"/><stop offset="0.8035" stop-color="#29af7f"/><stop offset="0.8202" stop-color="#29af7f"/><stop offset="0.8368" stop-color="#2ab07f"/><stop offset="0.8493" stop-color="#2cb17e"/><stop offset="0.8534" stop-color="#31b57b"/><stop offset="0.8576" stop-color="#3fbc73"/><stop offset="0.8617" stop-color="#58c765"/><stop offset="0.8659" stop-color="#60ca60"/><stop offset="0.8701" stop-color="#4cc26c"/><stop offset="0.8742" stop-color="#35b779"/><stop offset="0.8784" stop-color="#2cb17e"/><stop offset="0.8825" stop-color="#29af7f"/><stop offset="0.8867" stop-color="#29af7f"/><stop offset="0.9033" stop-color="#28ae80"/><stop offset="0.9200" stop-color="#28ae80"/><stop offset="0.9366" stop-color="#28ae80"/><stop offset="0.9532" stop-color="#29af7f"/><stop offset="0.9657" stop-color="#25ac82"/><stop offset="0.9699" stop-color="#24aa83"/><stop offset="0.9719" stop-color="#23a983"/><stop offset="0.9740" stop-color="#23a983"/><stop offset="0.9782" stop-color="#23a983"/><stop offset="0.9823" stop-color="#23a983"/><stop offset="0.9865" stop-color="#22a785"/><stop offset="0.9906" stop-color="#22a785"/><stop offset="0.9927" stop-color="#2eb37c"/><stop offset="0.9948" stop-color="#42be71"/><stop offset="0.9990" stop-color="#42be71"/></linearGradient><linearGradient id="g45" x1="0" y1="0" x2="0" y2="1"><stop offset="0.0010" stop-color="#1e9b8a"/><stop offset="0.0343" stop-color="#1e9b8a"/><stop offset="0.0676" stop-color="#1e9b8a"/><stop offset="0.1008" stop-color="#1e9c89"/><stop offset="0.1341" stop-color="#1f9e89"/><stop offset="0.1383" stop-color="#1f9e89"/><stop offset="0.1549" stop-color="#1f9e89"/><stop offset="0.1674" stop-color="#1f9e89"/><stop offset="0.1715" stop-color="#1f9e89"/><stop offset="0.2006" stop-color="#1e9c89"/><stop offset="0.2339" stop-color="#1e9c89"/><stop offset="0.2672" stop-color="#1e9d89"/><stop offset="0.3004" stop-color="#1e9d89"/><stop offset="0.3337" stop-color="#1e9d89"/><stop offset="0.3669" stop-color="#1e9d89"/><stop offset="0.4002" stop-color="#1e9d89"/><stop offset="0.4044" stop-color="#1e9d89"/><stop offset="0.4335" stop-color="#1f9e89"/><stop offset="0.4667" stop-color="#1f9e89"/><stop offset="0.5000" stop-color="#1f9f88"/><stop offset="0.5333" stop-color="#1f9f88"/><stop offset="0.5624" stop-color="#1fa088"/><stop offset="0.5665" stop-color="#1fa088"/><stop offset="0.5748" stop-color="#1fa188"/><stop offset="0.5873" stop-color="#20a386"/><stop offset="0.5998" stop-color="#1fa188"/><stop offset="0.6123" stop-color="#1fa188"/><stop offset="0.6247" stop-color="#1fa188"/><stop offset="0.6372" stop-color="#1fa188"/><stop offset="0.6497" stop-color="#1fa187"/><stop offset="0.6538" stop-color="#1fa287"/><stop offset="0.6580" stop-color="#21a585"/><stop offset="0.6622" stop-color="#22a884"/><stop offset="0.6663" stop-color="#25ac82"/><stop offset="0.6705" stop-color="#26ad81"/><stop offset="0.6746" stop-color="#25ac82"/><stop offset="0.6788" stop-color="#23a983"/><stop offset="0.6830" stop-color="#21a585"/><stop offset="0.6871" stop-color="#20a386"/><stop offset="0.6913" stop-color="#1fa287"/><stop offset="0.6954" stop-color="#1fa287"/><stop offset="0.6996" stop-color="#20a386"/><stop offset="0.7037" stop-color="#23a983"/><stop offset="0.7079" stop-color="#26ad81"/><stop offset="0.7121" stop-color="#23a983"/><stop offset="0.7162" stop-color="#20a386"/><stop offset="0.7204" stop-color="#1fa287"/><stop offset="0.7245" stop-color="#1fa287"/><stop offset="0.7287" stop-color="#20a386"/><stop offset="0.7328" stop-color="#22a785"/><stop offset="0.7370" stop-color="#27ad81"/><stop offset="0.7412" stop-color="#25ab82"/><stop offset="0.7453" stop-color="#21a585"/><stop offset="0.7495" stop-color="#20a386"/><stop offset="0.7536" stop-color="#1fa287"/><stop offset="0.7703" stop-color="#20a386"/><stop offset="0.7869" stop-color="#20a386"/><stop offset="0.8035" stop-color="#20a386"/><stop offset="0.8202" stop-color="#20a386"/><stop offset="0.8368" stop-color="#20a486"/><stop offset="0.8493" stop-color="#20a486"/><stop offset="0.8534" stop-color="#22a785"/><stop offset="0.8576" stop-color="#27ad81"/><stop offset="0.8617" stop-color="#34b679"/><stop offset="0.8659" stop-color="#37b878"/><stop offset="0.8701" stop-color="#2db27d"/><stop offset="0.8742" stop-color="#24aa83"/><stop offset="0.8784" stop-color="#21a685"/><stop offset="0.8825" stop-color="#21a585"/><stop offset="0.8867" stop-color="#20a486"/><stop offset="0.9033" stop-color="#21a585"/><stop offset="0.9200" stop-color="#21a585"/><stop offset="0.9366" stop-color="#21a585"/><stop offset="0.9532" stop-color="#21a585"/><stop offset="0.9657" stop-color="#21a685"/><stop offset="0.9699" stop-color="#22a884"/><stop offset="0.9719" stop-color="#23a983"/><stop offset="0.9740" stop-color="#23a983"/><stop offset="0.9782" stop-color="#23a983"/><stop offset="0.9823" stop-color="#23a983"/><stop offset="0.9865" stop-color="#22a785"/><stop offset="0.9906" stop-color="#22a785"/><stop offset="0.9927" stop-color="#2eb37c"/><stop offset="0.9948" stop-color="#42be71"/><stop offset="0.9990" stop-color="#42be71"/></linearGradient><linearGradient id="g46" x1="0" y1="0" x2="0" y2="1"><stop offset="0.0010" stop-color="#1f9f88"/><stop offset="0.0343" stop-color="#1fa088"/><stop offset="0.0676" stop-color="#1fa088"/><stop offset="0.1008" stop-color="#1fa188"/><stop offset="0.1341" stop-color="#20a386"/><stop offset="0.1383" stop-color="#20a386"/><stop offset="0.1549" stop-color="#20a386"/><stop offset="0.1674" stop-color="#20a386"/><stop offset="0.1715" stop-color="#1fa287"/><stop offset="0.2006" stop-color="#1fa187"/><stop offset="0.2339" stop-color="#1fa187"/><stop offset="0.2672" stop-color="#1fa287"/><stop offset="0.3004" stop-color="#1fa287"/><stop offset="0.3337" stop-color="#1fa287"/><stop offset="0.3669" stop-color="#20a386"/><stop offset="0.4002" stop-color="#20a486"/><stop offset="0.4044" stop-color="#21a585"/><stop offset="0.4335" stop-color="#21a585"/><stop offset="0.4667" stop-color="#21a685"/><stop offset="0.5000" stop-color="#21a685"/><stop offset="0.5333" stop-color="#22a785"/><stop offset="0.5624" stop-color="#22a884"/><stop offset="0.5665" stop-color="#24aa83"/><stop offset="0.5748" stop-color="#26ad81"/><stop offset="0.5873" stop-color="#2ab07f"/><stop offset="0.5998" stop-color="#26ad81"/><stop offset="0.6123" stop-color="#25ab82"/><stop offset="0.6247" stop-color="#25ab82"/><stop offset="0.6372" stop-color="#25ac82"/><stop offset="0.6497" stop-color="#26ad81"/><stop offset="0.6538" stop-color="#28ae80"/><stop offset="0.6580" stop-color="#2db27d"/><stop offset="0.6622" stop-color="#35b779"/><stop offset="0.6663" stop-color="#3fbc73"/><stop offset="0.6705" stop-color="#44bf70"/><stop offset="0.6746" stop-color="#40bd72"/><stop offset="0.6788" stop-color="#37b878"/><stop offset="0.6830" stop-color="#2eb37c"/><stop offset="0.6871" stop-color="#29af7f"/><stop offset="0.6913" stop-color="#27ad81"/><stop offset="0.6954" stop-color="#26ad81"/><stop offset="0.6996" stop-color="#29af7f"/><stop offset="0.7037" stop-color="#37b878"/><stop offset="0.7079" stop-color="#44bf70"/><stop offset="0.7121" stop-color="#37b878"/><stop offset="0.7162" stop-color="#29af7f"/><stop offset="0.7204" stop-color="#26ad81"/><stop offset="0.7245" stop-color="#26ad81"/><stop offset="0.7287" stop-color="#28ae80"/><stop offset="0.7328" stop-color="#32b67a"/><stop offset="0.7370" stop-color="#44bf70"/><stop offset="0.7412" stop-color="#3bbb75"/><stop offset="0.7453" stop-color="#2cb17e"/><stop offset="0.7495" stop-color="#27ad81"/><stop offset="0.7536" stop-color="#27ad81"/><stop offset="0.7703" stop-color="#27ad81"/><stop offset="0.7869" stop-color="#27ad81"/><stop offset="0.8035" stop-color="#27ad81"/><stop offset="0.8202" stop-color="#28ae80"/><stop offset="0.8368" stop-color="#28ae80"/><stop offset="0.8493" stop-color="#29af7f"/><stop offset="0.8534" stop-color="#2fb47c"/><stop offset="0.8576" stop-color="#42be71"/><stop offset="0.8617" stop-color="#63cb5f"/><stop offset="0.8659" stop-color="#6ccd5a"/><stop offset="0.8701" stop-color="#52c569"/><stop offset="0.8742" stop-color="#37b878"/><stop offset="0.8784" stop-color="#2cb17e"/><stop offset="0.8825" stop-color="#28ae80"/><stop offset="0.8867" stop-color="#28ae80"/><stop offset="0.9033" stop-color="#27ad81"/><stop offset="0.9200" stop-color="#27ad81"/><stop offset="0.9366" stop-color="#26ad81"/><stop offset="0.9532" stop-color="#28ae80"/><stop offset="0.9657" stop-color="#25ac82"/><stop offset="0.9699" stop-color="#24aa83"/><stop offset="0.9719" stop-color="#23a983"/><stop offset="0.9740" stop-color="#23a983"/><stop offset="0.9782" stop-color="#23a983"/><stop offset="0.9823" stop-color="#23a983"/><stop offset="0.9865" stop-color="#22a785"/><stop offset="0.9906" stop-color="#22a785"/><stop offset="0.9927" stop-color="#2eb37c"/><stop offset="0.9948" stop-color="#42be71"/><stop offset="0.9990" stop-color="#42be71"/></linearGradient><linearGradient id="g47" x1="0" y1="0" x2="0" y2="1"><stop offset="0.0010" stop-color="#1e9d89"/><stop offset="0.0343" stop-color="#1e9d89"/><stop offset="0.0676" stop-color="#1f9e89"/><stop offset="0.1008" stop-color="#1f9e89"/><stop offset="0.1341" stop-color="#1fa188"/><stop offset="0.1383" stop-color="#1fa188"/><stop offset="0.1549" stop-color="#1fa188"/><stop offset="0.1674" stop-color="#1fa188"/><stop offset="0.1715" stop-color="#1fa088"/><stop offset="0.2006" stop-color="#1f9f88"/><stop offset="0.2339" stop-color="#1f9f88"/><stop offset="0.2672" stop-color="#1f9f88"/><stop offset="0.3004" stop-color="#1fa088"/><stop offset="0.3337" stop-color="#1fa088"/><stop offset="0.3669" stop-color="#1fa088"/><stop offset="0.4002" stop-color="#1fa188"/><stop offset="0.4044" stop-color="#1fa188"/><stop offset="0.4335" stop-color="#1fa187"/><stop offset="0.4667" stop-color="#1fa287"/><stop offset="0.5000" stop-color="#1fa287"/><stop offset="0.5333" stop-color="#20a386"/><stop offset="0.5624" stop-color="#20a486"/><stop offset="0.5665" stop-color="#21a585"/><stop offset="0.5748" stop-color="#22a785"/><stop offset="0.5873" stop-color="#25ac82"/><stop offset="0.5998" stop-color="#22a785"/><stop offset="0.6123" stop-color="#21a685"/><stop offset="0.6247" stop-color="#21a685"/><stop offset="0.6372" stop-color="#21a685"/><stop offset="0.6497" stop-color="#22a884"/><stop offset="0.6538" stop-color="#24aa83"/><stop offset="0.6580" stop-color="#27ad81"/><stop offset="0.6622" stop-color="#2eb37c"/><stop offset="0.6663" stop-color="#37b878"/><stop offset="0.6705" stop-color="#3bbb75"/><stop offset="0.6746" stop-color="#37b878"/><stop offset="0.6788" stop-color="#2eb37c"/><stop offset="0.6830" stop-color="#27ad81"/><stop offset="0.6871" stop-color="#24aa83"/><stop offset="0.6913" stop-color="#22a884"/><stop offset="0.6954" stop-color="#22a884"/><stop offset="0.6996" stop-color="#24aa83"/><stop offset="0.7037" stop-color="#2eb37c"/><stop offset="0.7079" stop-color="#3aba76"/><stop offset="0.7121" stop-color="#2eb37c"/><stop offset="0.7162" stop-color="#25ab82"/><stop offset="0.7204" stop-color="#22a884"/><stop offset="0.7245" stop-color="#22a884"/><stop offset="0.7287" stop-color="#24aa83"/><stop offset="0.7328" stop-color="#2cb17e"/><stop offset="0.7370" stop-color="#3aba76"/><stop offset="0.7412" stop-color="#34b679"/><stop offset="0.7453" stop-color="#26ad81"/><stop offset="0.7495" stop-color="#23a983"/><stop offset="0.7536" stop-color="#22a884"/><stop offset="0.7703" stop-color="#22a884"/><stop offset="0.7869" stop-color="#23a983"/><stop offset="0.8035" stop-color="#23a983"/><stop offset="0.8202" stop-color="#23a983"/><stop offset="0.8368" stop-color="#24aa83"/><stop offset="0.8493" stop-color="#25ab82"/><stop offset="0.8534" stop-color="#29af7f"/><stop offset="0.8576" stop-color="#3aba76"/><stop offset="0.8617" stop-color="#58c765"/><stop offset="0.8659" stop-color="#60ca60"/><stop offset="0.8701" stop-color="#48c16e"/><stop offset="0.8742" stop-color="#2fb47c"/><stop offset="0.8784" stop-color="#25ac82"/><stop offset="0.8825" stop-color="#24aa83"/><stop offset="0.8867" stop-color="#24aa83"/><stop offset="0.9033" stop-color="#24aa83"/><stop offset="0.9200" stop-color="#23a983"/><stop offset="0.9366" stop-color="#23a983"/><stop offset="0.9532" stop-color="#24aa83"/><stop offset="0.9657" stop-color="#23a983"/><stop offset="0.9699" stop-color="#23a983"/><stop offset="0.9719" stop-color="#23a983"/><stop offset="0.9740" stop-color="#23a983"/><stop offset="0.9782" stop-color="#23a983"/><stop offset="0.9823" stop-color="#23a983"/><stop offset="0.9865" stop-color="#22a785"/><stop offset="0.9906" stop-color="#22a785"/><stop offset="0.9927" stop-color="#2eb37c"/><stop offset="0.9948" stop-color="#42be71"/><stop offset="0.9990" stop-color="#42be71"/></linearGradient><linearGradient id="g48" x1="0" y1="0" x2="0" y2="1"><stop offset="0.0010" stop-color="#1e9b8a"/><stop offset="0.0343" stop-color="#1e9b8a"/><stop offset="0.0676" stop-color="#1e9b8a"/><stop offset="0.1008" stop-color="#1e9b8a"/><stop offset="0.1341" stop-color="#1f9e89"/><stop offset="0.1383" stop-color="#1f9e89"/><stop offset="0.1549" stop-color="#1f9e89"/><stop offset="0.1674" stop-color="#1f9e89"/><stop offset="0.1715" stop-color="#1f9e89"/><stop offset="0.2006" stop-color="#1e9c89"/><stop offset="0.2339" stop-color="#1e9c89"/><stop offset="0.2672" stop-color="#1e9c89"/><stop offset="0.3004" stop-color="#1e9d89"/><stop offset="0.3337" stop-color="#1e9d89"/><stop offset="0.3669" stop-color="#1e9d89"/><stop offset="0.4002" stop-color="#1e9d89"/><stop offset="0.4044" stop-color="#1e9d89"/><stop offset="0.4335" stop-color="#1f9e89"/><stop offset="0.4667" stop-color="#1f9e89"/><stop offset="0.5000" stop-color="#1f9f88"/><stop offset="0.5333" stop-color="#1f9f88"/><stop offset="0.5624" stop-color="#1fa088"/><stop offset="0.5665" stop-color="#1fa088"/><stop offset="0.5748" stop-color="#1fa188"/><stop offset="0.5873" stop-color="#1fa287"/><stop offset="0.5998" stop-color="#1fa188"/><stop offset="0.6123" stop-color="#1fa188"/><stop offset="0.6247" stop-color="#1fa188"/><stop offset="0.6372" stop-color="#1fa187"/><stop offset="0.6497" stop-color="#1fa187"/><stop offset="0.6538" stop-color="#1fa287"/><stop offset="0.6580" stop-color="#20a486"/><stop offset="0.6622" stop-color="#22a785"/><stop offset="0.6663" stop-color="#23a983"/><stop offset="0.6705" stop-color="#25ab82"/><stop offset="0.6746" stop-color="#24aa83"/><stop offset="0.6788" stop-color="#22a785"/><stop offset="0.6830" stop-color="#21a585"/><stop offset="0.6871" stop-color="#20a386"/><stop offset="0.6913" stop-color="#1fa287"/><stop offset="0.6954" stop-color="#1fa287"/><stop offset="0.6996" stop-color="#20a386"/><stop offset="0.7037" stop-color="#22a785"/><stop offset="0.7079" stop-color="#25ab82"/><stop offset="0.7121" stop-color="#22a884"/><stop offset="0.7162" stop-color="#20a386"/><stop offset="0.7204" stop-color="#1fa287"/><stop offset="0.7245" stop-color="#1fa287"/><stop offset="0.7287" stop-color="#20a386"/><stop offset="0.7328" stop-color="#22a785"/><stop offset="0.7370" stop-color="#25ab82"/><stop offset="0.7412" stop-color="#23a983"/><stop offset="0.7453" stop-color="#21a585"/><stop offset="0.7495" stop-color="#20a386"/><stop offset="0.7536" stop-color="#20a386"/><stop offset="0.7703" stop-color="#20a386"/><stop offset="0.7869" stop-color="#20a386"/><stop offset="0.8035" stop-color="#20a386"/><stop offset="0.8202" stop-color="#20a486"/><stop offset="0.8368" stop-color="#20a486"/><stop offset="0.8493" stop-color="#21a585"/><stop offset="0.8534" stop-color="#22a785"/><stop offset="0.8576" stop-color="#25ac82"/><stop offset="0.8617" stop-color="#2db27d"/><stop offset="0.8659" stop-color="#31b57b"/><stop offset="0.8701" stop-color="#29af7f"/><stop offset="0.8742" stop-color="#23a983"/><stop offset="0.8784" stop-color="#21a685"/><stop offset="0.8825" stop-color="#21a585"/><stop offset="0.8867" stop-color="#21a585"/><stop offset="0.9033" stop-color="#21a585"/><stop offset="0.9200" stop-color="#21a585"/><stop offset="0.9366" stop-color="#21a585"/><stop offset="0.9532" stop-color="#21a685"/><stop offset="0.9657" stop-color="#21a685"/><stop offset="0.9699" stop-color="#23a983"/><stop offset="0.9719" stop-color="#23a983"/><stop offset="0.9740" stop-color="#23a983"/><stop offset="0.9782" stop-color="#23a983"/><stop offset="0.9823" stop-color="#23a983"/><stop offset="0.9865" stop-color="#22a785"/><stop offset="0.9906" stop-color="#22a785"/><stop offset="0.9927" stop-color="#2eb37c"/><stop offset="0.9948" stop-color="#42be71"/><stop offset="0.9990" stop-color="#42be71"/></linearGradient><linearGradient id="g49" x1="0" y1="0" x2="0" y2="1"><stop offset="0.0010" stop-color="#1e9b8a"/><stop offset="0.0343" stop-color="#1e9c89"/><stop offset="0.0676" stop-color="#1e9c89"/><stop offset="0.1008" stop-color="#1e9c89"/><stop offset="0.1341" stop-color="#1f9f88"/><stop offset="0.1383" stop-color="#1f9f88"/><stop offset="0.1549" stop-color="#1f9f88"/><stop offset="0.1674" stop-color="#1f9f88"/><stop offset="0.1715" stop-color="#1f9e89"/><stop offset="0.2006" stop-color="#1e9d89"/><stop offset="0.2339" stop-color="#1e9d89"/><stop offset="0.2672" stop-color="#1e9d89"/><stop offset="0.3004" stop-color="#1e9d89"/><stop offset="0.3337" stop-color="#1e9d89"/><stop offset="0.3669" stop-color="#1f9e89"/><stop offset="0.4002" stop-color="#1f9f88"/><stop offset="0.4044" stop-color="#1f9f88"/><stop offset="0.4335" stop-color="#1fa088"/><stop offset="0.4667" stop-color="#1fa188"/><stop offset="0.5000" stop-color="#1fa188"/><stop offset="0.5333" stop-color="#1fa187"/><stop offset="0.5624" stop-color="#1fa287"/><stop offset="0.5665" stop-color="#1fa287"/><stop offset="0.5748" stop-color="#20a386"/><stop offset="0.5873" stop-color="#20a486"/><stop offset="0.5998" stop-color="#20a486"/><stop offset="0.6123" stop-color="#20a386"/><stop offset="0.6247" stop-color="#20a486"/><stop offset="0.6372" stop-color="#20a486"/><stop offset="0.6497" stop-color="#21a585"/><stop offset="0.6538" stop-color="#21a585"/><stop offset="0.6580" stop-color="#21a685"/><stop offset="0.6622" stop-color="#22a884"/><stop offset="0.6663" stop-color="#24aa83"/><stop offset="0.6705" stop-color="#25ab82"/><stop offset="0.6746" stop-color="#24aa83"/><stop offset="0.6788" stop-color="#23a983"/><stop offset="0.6830" stop-color="#22a785"/><stop offset="0.6871" stop-color="#21a685"/><stop offset="0.6913" stop-color="#21a585"/><stop offset="0.6954" stop-color="#21a585"/><stop offset="0.6996" stop-color="#21a685"/><stop offset="0.7037" stop-color="#23a983"/><stop offset="0.7079" stop-color="#25ab82"/><stop offset="0.7121" stop-color="#23a983"/><stop offset="0.7162" stop-color="#21a685"/><stop offset="0.7204" stop-color="#21a585"/><stop offset="0.7245" stop-color="#21a585"/><stop offset="0.7287" stop-color="#21a685"/><stop offset="0.7328" stop-color="#22a884"/><stop offset="0.7370" stop-color="#25ac82"/><stop offset="0.7412" stop-color="#24aa83"/><stop offset="0.7453" stop-color="#22a785"/><stop offset="0.7495" stop-color="#21a685"/><stop offset="0.7536" stop-color="#21a685"/><stop offset="0.7703" stop-color="#21a685"/><stop offset="0.7869" stop-color="#21a685"/><stop offset="0.8035" stop-color="#22a785"/><stop offset="0.8202" stop-color="#22a785"/><stop offset="0.8368" stop-color="#22a785"/><stop offset="0.8493" stop-color="#22a884"/><stop offset="0.8534" stop-color="#23a983"/><stop offset="0.8576" stop-color="#26ad81"/><stop offset="0.8617" stop-color="#2cb17e"/><stop offset="0.8659" stop-color="#2db27d"/><stop offset="0.8701" stop-color="#29af7f"/><stop offset="0.8742" stop-color="#25ab82"/><stop offset="0.8784" stop-color="#22a884"/><stop offset="0.8825" stop-color="#22a884"/><stop offset="0.8867" stop-color="#22a884"/><stop offset="0.9033" stop-color="#22a884"/><stop offset="0.9200" stop-color="#22a884"/><stop offset="0.9366" stop-color="#22a884"/><stop offset="0.9532" stop-color="#22a884"/><stop offset="0.9657" stop-color="#22a884"/><stop offset="0.9699" stop-color="#23a983"/><stop offset="0.9719" stop-color="#23a983"/><stop offset="0.9740" stop-color="#23a983"/><stop offset="0.9782" stop-color="#23a983"/><stop offset="0.9823" stop-color="#23a983"/><stop offset="0.9865" stop-color="#22a785"/><stop offset="0.9906" stop-color="#22a785"/><stop offset="0.9927" stop-color="#2eb37c"/><stop offset="0.9948" stop-color="#42be71"/><stop offset="0.9990" stop-color="#42be71"/></linearGradient><linearGradient id="g50" x1="0" y1="0" x2="0" y2="1"><stop offset="0.0010" stop-color="#1e9c89"/><stop offset="0.0343" stop-color="#1e9c89"/><stop offset="0.0676" stop-color="#1e9c89"/><stop offset="0.1008" stop-color="#1e9c89"/><stop offset="0.1341" stop-color="#1f9f88"/><stop offset="0.1383" stop-color="#1f9f88"/><stop offset="0.1549" stop-color="#1f9f88"/><stop offset="0.1674" stop-color="#1f9f88"/><stop offset="0.1715" stop-color="#1f9e89"/><stop offset="0.2006" stop-color="#1e9d89"/><stop offset="0.2339" stop-color="#1e9d89"/><stop offset="0.2672" stop-color="#1e9d89"/><stop offset="0.3004" stop-color="#1e9d89"/><stop offset="0.3337" stop-color="#1e9d89"/><stop offset="0.3669" stop-color="#1f9e89"/><stop offset="0.4002" stop-color="#1f9e89"/><stop offset="0.4044" stop-color="#1f9f88"/><stop offset="0.4335" stop-color="#1fa088"/><stop offset="0.4667" stop-color="#1fa088"/><stop offset="0.5000" stop-color="#1fa188"/><stop offset="0.5333" stop-color="#1fa188"/><stop offset="0.5624" stop-color="#1fa187"/><stop offset="0.5665" stop-color="#1fa287"/><stop offset="0.5748" stop-color="#20a386"/><stop offset="0.5873" stop-color="#21a685"/><stop offset="0.5998" stop-color="#20a386"/><stop offset="0.6123" stop-color="#20a386"/><stop offset="0.6247" stop-color="#20a386"/><stop offset="0.6372" stop-color="#20a386"/><stop offset="0.6497" stop-color="#20a486"/><stop offset="0.6538" stop-color="#21a585"/><stop offset="0.6580" stop-color="#22a884"/><stop offset="0.6622" stop-color="#25ac82"/><stop offset="0.6663" stop-color="#29af7f"/><stop offset="0.6705" stop-color="#2ab07f"/><stop offset="0.6746" stop-color="#29af7f"/><stop offset="0.6788" stop-color="#25ac82"/><stop offset="0.6830" stop-color="#22a884"/><stop offset="0.6871" stop-color="#21a685"/><stop offset="0.6913" stop-color="#21a585"/><stop offset="0.6954" stop-color="#20a486"/><stop offset="0.6996" stop-color="#21a685"/><stop offset="0.7037" stop-color="#25ac82"/><stop offset="0.7079" stop-color="#2cb17e"/><stop offset="0.7121" stop-color="#26ad81"/><stop offset="0.7162" stop-color="#21a685"/><stop offset="0.7204" stop-color="#21a585"/><stop offset="0.7245" stop-color="#21a585"/><stop offset="0.7287" stop-color="#21a685"/><stop offset="0.7328" stop-color="#25ab82"/><stop offset="0.7370" stop-color="#2cb17e"/><stop offset="0.7412" stop-color="#28ae80"/><stop offset="0.7453" stop-color="#22a884"/><stop offset="0.7495" stop-color="#21a585"/><stop offset="0.7536" stop-color="#21a585"/><stop offset="0.7703" stop-color="#21a585"/><stop offset="0.7869" stop-color="#21a685"/><stop offset="0.8035" stop-color="#21a685"/><stop offset="0.8202" stop-color="#21a685"/><stop offset="0.8368" stop-color="#21a685"/><stop offset="0.8493" stop-color="#22a785"/><stop offset="0.8534" stop-color="#24aa83"/><stop offset="0.8576" stop-color="#2cb17e"/><stop offset="0.8617" stop-color="#3aba76"/><stop offset="0.8659" stop-color="#3fbc73"/><stop offset="0.8701" stop-color="#34b679"/><stop offset="0.8742" stop-color="#27ad81"/><stop offset="0.8784" stop-color="#23a983"/><stop offset="0.8825" stop-color="#22a785"/><stop offset="0.8867" stop-color="#22a785"/><stop offset="0.9033" stop-color="#22a785"/><stop offset="0.9200" stop-color="#22a785"/><stop offset="0.9366" stop-color="#22a785"/><stop offset="0.9532" stop-color="#22a884"/><stop offset="0.9657" stop-color="#22a785"/><stop offset="0.9699" stop-color="#23a983"/><stop offset="0.9719" stop-color="#23a983"/><stop offset="0.9740" stop-color="#23a983"/><stop offset="0.9782" stop-color="#23a983"/><stop offset="0.9823" stop-color="#23a983"/><stop offset="0.9865" stop-color="#22a785"/><stop offset="0.9906" stop-color="#22a785"/><stop offset="0.9927" stop-color="#2eb37c"/><stop offset="0.9948" stop-color="#42be71"/><stop offset="0.9990" stop-color="#42be71"/></linearGradient><linearGradient id="g51" x1="0" y1="0" x2="0" y2="1"><stop offset="0.0010" stop-color="#1fa188"/><stop offset="0.0343" stop-color="#1fa187"/><stop offset="0.0676" stop-color="#1fa187"/><stop offset="0.1008" stop-color="#1fa287"/><stop offset="0.1341" stop-color="#21a585"/><stop offset="0.1383" stop-color="#21a585"/><stop offset="0.1549" stop-color="#21a585"/><stop offset="0.1674" stop-color="#21a585"/><stop offset="0.1715" stop-color="#21a585"/><stop offset="0.2006" stop-color="#20a486"/><stop offset="0.2339" stop-color="#20a486"/><stop offset="0.2672" stop-color="#21a585"/><stop offset="0.3004" stop-color="#21a585"/><stop offset="0.3337" stop-color="#21a685"/><stop offset="0.3669" stop-color="#21a685"/><stop offset="0.4002" stop-color="#22a785"/><stop offset="0.4044" stop-color="#23a983"/><stop offset="0.4335" stop-color="#23a983"/><stop offset="0.4667" stop-color="#24aa83"/><stop offset="0.5000" stop-color="#25ab82"/><stop offset="0.5333" stop-color="#25ab82"/><stop offset="0.5624" stop-color="#26ad81"/><stop offset="0.5665" stop-color="#29af7f"/><stop offset="0.5748" stop-color="#2cb17e"/><stop offset="0.5873" stop-color="#2fb47c"/><stop offset="0.5998" stop-color="#2cb17e"/><stop offset="0.6123" stop-color="#2ab07f"/><stop offset="0.6247" stop-color="#2ab07f"/><stop offset="0.6372" stop-color="#2ab07f"/><stop offset="0.6497" stop-color="#2cb17e"/><stop offset="0.6538" stop-color="#2eb37c"/><stop offset="0.6580" stop-color="#32b67a"/><stop offset="0.6622" stop-color="#3aba76"/><stop offset="0.6663" stop-color="#40bd72"/><stop offset="0.6705" stop-color="#44bf70"/><stop offset="0.6746" stop-color="#40bd72"/><stop offset="0.6788" stop-color="#3aba76"/><stop offset="0.6830" stop-color="#32b67a"/><stop offset="0.6871" stop-color="#2eb37c"/><stop offset="0.6913" stop-color="#2db27d"/><stop offset="0.6954" stop-color="#2db27d"/><stop offset="0.6996" stop-color="#2eb37c"/><stop offset="0.7037" stop-color="#3aba76"/><stop offset="0.7079" stop-color="#44bf70"/><stop offset="0.7121" stop-color="#3aba76"/><stop offset="0.7162" stop-color="#2fb47c"/><stop offset="0.7204" stop-color="#2db27d"/><stop offset="0.7245" stop-color="#2db27d"/><stop offset="0.7287" stop-color="#2eb37c"/><stop offset="0.7328" stop-color="#37b878"/><stop offset="0.7370" stop-color="#44bf70"/><stop offset="0.7412" stop-color="#3fbc73"/><stop offset="0.7453" stop-color="#31b57b"/><stop offset="0.7495" stop-color="#2db27d"/><stop offset="0.7536" stop-color="#2db27d"/><stop offset="0.7703" stop-color="#2db27d"/><stop offset="0.7869" stop-color="#2eb37c"/><stop offset="0.8035" stop-color="#2eb37c"/><stop offset="0.8202" stop-color="#2eb37c"/><stop offset="0.8368" stop-color="#2eb37c"/><stop offset="0.8493" stop-color="#2fb47c"/><stop offset="0.8534" stop-color="#35b779"/><stop offset="0.8576" stop-color="#44bf70"/><stop offset="0.8617" stop-color="#5cc863"/><stop offset="0.8659" stop-color="#65cb5e"/><stop offset="0.8701" stop-color="#50c46a"/><stop offset="0.8742" stop-color="#3aba76"/><stop offset="0.8784" stop-color="#31b57b"/><stop offset="0.8825" stop-color="#2eb37c"/><stop offset="0.8867" stop-color="#2db27d"/><stop offset="0.9033" stop-color="#2db27d"/><stop offset="0.9200" stop-color="#2cb17e"/><stop offset="0.9366" stop-color="#2ab07f"/><stop offset="0.9532" stop-color="#2eb37c"/><stop offset="0.9657" stop-color="#27ad81"/><stop offset="0.9699" stop-color="#24aa83"/><stop offset="0.9719" stop-color="#23a983"/><stop offset="0.9740" stop-color="#23a983"/><stop offset="0.9782" stop-color="#23a983"/><stop offset="0.9823" stop-color="#23a983"/><stop offset="0.9865" stop-color="#22a785"/><stop offset="0.9906" stop-color="#22a785"/><stop offset="0.9927" stop-color="#2eb37c"/><stop offset="0.9948" stop-color="#42be71"/><stop offset="0.9990" stop-color="#42be71"/></linearGradient><linearGradient id="g52" x1="0" y1="0" x2="0" y2="1"><stop offset="0.0010" stop-color="#1e9c89"/><stop offset="0.0343" stop-color="#1e9c89"/><stop offset="0.0676" stop-color="#1e9c89"/><stop offset="0.1008" stop-color="#1e9c89"/><stop offset="0.1341" stop-color="#1f9f88"/><stop offset="0.1383" stop-color="#1f9f88"/><stop offset="0.1549" stop-color="#1f9f88"/><stop offset="0.1674" stop-color="#1f9f88"/><stop offset="0.1715" stop-color="#1f9f88"/><stop offset="0.2006" stop-color="#1e9d89"/><stop offset="0.2339" stop-color="#1e9d89"/><stop offset="0.2672" stop-color="#1f9e89"/><stop offset="0.3004" stop-color="#1f9e89"/><stop offset="0.3337" stop-color="#1f9e89"/><stop offset="0.3669" stop-color="#1f9e89"/><stop offset="0.4002" stop-color="#1fa088"/><stop offset="0.4044" stop-color="#1fa188"/><stop offset="0.4335" stop-color="#1fa187"/><stop offset="0.4667" stop-color="#1fa287"/><stop offset="0.5000" stop-color="#20a386"/><stop offset="0.5333" stop-color="#20a386"/><stop offset="0.5624" stop-color="#20a486"/><stop offset="0.5665" stop-color="#21a585"/><stop offset="0.5748" stop-color="#21a685"/><stop offset="0.5873" stop-color="#22a884"/><stop offset="0.5998" stop-color="#22a785"/><stop offset="0.6123" stop-color="#21a685"/><stop offset="0.6247" stop-color="#22a785"/><stop offset="0.6372" stop-color="#22a785"/><stop offset="0.6497" stop-color="#22a785"/><stop offset="0.6538" stop-color="#22a884"/><stop offset="0.6580" stop-color="#24aa83"/><stop offset="0.6622" stop-color="#26ad81"/><stop offset="0.6663" stop-color="#29af7f"/><stop offset="0.6705" stop-color="#2ab07f"/><stop offset="0.6746" stop-color="#29af7f"/><stop offset="0.6788" stop-color="#26ad81"/><stop offset="0.6830" stop-color="#25ab82"/><stop offset="0.6871" stop-color="#23a983"/><stop offset="0.6913" stop-color="#22a884"/><stop offset="0.6954" stop-color="#22a884"/><stop offset="0.6996" stop-color="#23a983"/><stop offset="0.7037" stop-color="#27ad81"/><stop offset="0.7079" stop-color="#2ab07f"/><stop offset="0.7121" stop-color="#27ad81"/><stop offset="0.7162" stop-color="#23a983"/><stop offset="0.7204" stop-color="#22a884"/><stop offset="0.7245" stop-color="#22a884"/><stop offset="0.7287" stop-color="#23a983"/><stop offset="0.7328" stop-color="#26ad81"/><stop offset="0.7370" stop-color="#2ab07f"/><stop offset="0.7412" stop-color="#29af7f"/><stop offset="0.7453" stop-color="#25ab82"/><stop offset="0.7495" stop-color="#23a983"/><stop offset="0.7536" stop-color="#23a983"/><stop offset="0.7703" stop-color="#23a983"/><stop offset="0.7869" stop-color="#23a983"/><stop offset="0.8035" stop-color="#24aa83"/><stop offset="0.8202" stop-color="#24aa83"/><stop offset="0.8368" stop-color="#24aa83"/><stop offset="0.8493" stop-color="#25ab82"/><stop offset="0.8534" stop-color="#26ad81"/><stop offset="0.8576" stop-color="#2db27d"/><stop offset="0.8617" stop-color="#37b878"/><stop offset="0.8659" stop-color="#3aba76"/><stop offset="0.8701" stop-color="#31b57b"/><stop offset="0.8742" stop-color="#28ae80"/><stop offset="0.8784" stop-color="#25ab82"/><stop offset="0.8825" stop-color="#24aa83"/><stop offset="0.8867" stop-color="#24aa83"/><stop offset="0.9033" stop-color="#24aa83"/><stop offset="0.9200" stop-color="#24aa83"/><stop offset="0.9366" stop-color="#24aa83"/><stop offset="0.9532" stop-color="#25ab82"/><stop offset="0.9657" stop-color="#23a983"/><stop offset="0.9699" stop-color="#23a983"/><stop offset="0.9719" stop-color="#23a983"/><stop offset="0.9740" stop-color="#23a983"/><stop offset="0.9782" stop-color="#23a983"/><stop offset="0.9823" stop-color="#23a983"/><stop offset="0.9865" stop-color="#22a785"/><stop offset="0.9906" stop-color="#22a785"/><stop offset="0.9927" stop-color="#2eb37c"/><stop offset="0.9948" stop-color="#42be71"/><stop offset="0.9990" stop-color="#42be71"/></linearGradient><linearGradient id="g53" x1="0" y1="0" x2="0" y2="1"><stop offset="0.0010" stop-color="#1e9c89"/><stop offset="0.0343" stop-color="#1e9c89"/><stop offset="0.0676" stop-color="#1e9c89"/><stop offset="0.1008" stop-color="#1e9c89"/><stop offset="0.1341" stop-color="#1f9f88"/><stop offset="0.1383" stop-color="#1f9f88"/><stop offset="0.1549" stop-color="#1f9f88"/><stop offset="0.1674" stop-color="#1f9f88"/><stop offset="0.1715" stop-color="#1f9e89"/><stop offset="0.2006" stop-color="#1e9d89"/><stop offset="0.2339" stop-color="#1e9d89"/><stop offset="0.2672" stop-color="#1e9d89"/><stop offset="0.3004" stop-color="#1f9e89"/><stop offset="0.3337" stop-color="#1f9e89"/><stop offset="0.3669" stop-color="#1f9e89"/><stop offset="0.4002" stop-color="#1f9f88"/><stop offset="0.4044" stop-color="#1f9f88"/><stop offset="0.4335" stop-color="#1fa188"/><stop offset="0.4667" stop-color="#1fa188"/><stop offset="0.5000" stop-color="#1fa187"/><stop offset="0.5333" stop-color="#1fa187"/><stop offset="0.5624" stop-color="#1fa287"/><stop offset="0.5665" stop-color="#20a386"/><stop offset="0.5748" stop-color="#21a585"/><stop offset="0.5873" stop-color="#22a884"/><stop offset="0.5998" stop-color="#21a585"/><stop offset="0.6123" stop-color="#20a486"/><stop offset="0.6247" stop-color="#20a486"/><stop offset="0.6372" stop-color="#21a585"/><stop offset="0.6497" stop-color="#21a585"/><stop offset="0.6538" stop-color="#22a785"/><stop offset="0.6580" stop-color="#24aa83"/><stop offset="0.6622" stop-color="#27ad81"/><stop offset="0.6663" stop-color="#2cb17e"/><stop offset="0.6705" stop-color="#2eb37c"/><stop offset="0.6746" stop-color="#2cb17e"/><stop offset="0.6788" stop-color="#27ad81"/><stop offset="0.6830" stop-color="#24aa83"/><stop offset="0.6871" stop-color="#22a785"/><stop offset="0.6913" stop-color="#21a685"/><stop offset="0.6954" stop-color="#21a685"/><stop offset="0.6996" stop-color="#22a884"/><stop offset="0.7037" stop-color="#27ad81"/><stop offset="0.7079" stop-color="#2eb37c"/><stop offset="0.7121" stop-color="#28ae80"/><stop offset="0.7162" stop-color="#22a884"/><stop offset="0.7204" stop-color="#21a685"/><stop offset="0.7245" stop-color="#21a685"/><stop offset="0.7287" stop-color="#22a785"/><stop offset="0.7328" stop-color="#26ad81"/><stop offset="0.7370" stop-color="#2eb37c"/><stop offset="0.7412" stop-color="#2ab07f"/><stop offset="0.7453" stop-color="#24aa83"/><stop offset="0.7495" stop-color="#22a785"/><stop offset="0.7536" stop-color="#21a685"/><stop offset="0.7703" stop-color="#22a785"/><stop offset="0.7869" stop-color="#22a785"/><stop offset="0.8035" stop-color="#22a785"/><stop offset="0.8202" stop-color="#22a884"/><stop offset="0.8368" stop-color="#22a884"/><stop offset="0.8493" stop-color="#23a983"/><stop offset="0.8534" stop-color="#25ac82"/><stop offset="0.8576" stop-color="#2fb47c"/><stop offset="0.8617" stop-color="#40bd72"/><stop offset="0.8659" stop-color="#46c06f"/><stop offset="0.8701" stop-color="#37b878"/><stop offset="0.8742" stop-color="#29af7f"/><stop offset="0.8784" stop-color="#24aa83"/><stop offset="0.8825" stop-color="#22a884"/><stop offset="0.8867" stop-color="#22a884"/><stop offset="0.9033" stop-color="#22a884"/><stop offset="0.9200" stop-color="#22a884"/><stop offset="0.9366" stop-color="#22a884"/><stop offset="0.9532" stop-color="#23a983"/><stop offset="0.9657" stop-color="#22a884"/><stop offset="0.9699" stop-color="#23a983"/><stop offset="0.9719" stop-color="#23a983"/><stop offset="0.9740" stop-color="#23a983"/><stop offset="0.9782" stop-color="#23a983"/><stop offset="0.9823" stop-color="#23a983"/><stop offset="0.9865" stop-color="#22a785"/><stop offset="0.9906" stop-color="#22a785"/><stop offset="0.9927" stop-color="#2eb37c"/><stop offset="0.9948" stop-color="#42be71"/><stop offset="0.9990" stop-color="#42be71"/></linearGradient><linearGradient id="g54" x1="0" y1="0" x2="0" y2="1"><stop offset="0.0010" stop-color="#1e9c89"/><stop offset="0.0343" stop-color="#1e9c89"/><stop offset="0.0676" stop-color="#1e9c89"/><stop offset="0.1008" stop-color="#1e9c89"/><stop offset="0.1341" stop-color="#1f9f88"/><stop offset="0.1383" stop-color="#1f9f88"/><stop offset="0.1549" stop-color="#1f9f88"/><stop offset="0.1674" stop-color="#1f9f88"/><stop offset="0.1715" stop-color="#1f9e89"/><stop offset="0.2006" stop-color="#1e9d89"/><stop offset="0.2339" stop-color="#1e9d89"/><stop offset="0.2672" stop-color="#1e9d89"/><stop offset="0.3004" stop-color="#1f9e89"/><stop offset="0.3337" stop-color="#1f9e89"/><stop offset="0.3669" stop-color="#1f9e89"/><stop offset="0.4002" stop-color="#1f9f88"/><stop offset="0.4044" stop-color="#1f9f88"/><stop offset="0.4335" stop-color="#1fa188"/><stop offset="0.4667" stop-color="#1fa188"/><stop offset="0.5000" stop-color="#1fa187"/><stop offset="0.5333" stop-color="#1fa187"/><stop offset="0.5624" stop-color="#1fa287"/><stop offset="0.5665" stop-color="#20a386"/><stop offset="0.5748" stop-color="#20a486"/><stop offset="0.5873" stop-color="#22a785"/><stop offset="0.5998" stop-color="#20a486"/><stop offset="0.6123" stop-color="#20a486"/><stop offset="0.6247" stop-color="#20a486"/><stop offset="0.6372" stop-color="#20a486"/><stop offset="0.6497" stop-color="#21a585"/><stop offset="0.6538" stop-color="#21a685"/><stop offset="0.6580" stop-color="#23a983"/><stop offset="0.6622" stop-color="#25ac82"/><stop offset="0.6663" stop-color="#28ae80"/><stop offset="0.6705" stop-color="#29af7f"/><stop offset="0.6746" stop-color="#28ae80"/><stop offset="0.6788" stop-color="#25ac82"/><stop offset="0.6830" stop-color="#23a983"/><stop offset="0.6871" stop-color="#22a785"/><stop offset="0.6913" stop-color="#21a685"/><stop offset="0.6954" stop-color="#21a685"/><stop offset="0.6996" stop-color="#22a785"/><stop offset="0.7037" stop-color="#25ac82"/><stop offset="0.7079" stop-color="#2ab07f"/><stop offset="0.7121" stop-color="#26ad81"/><stop offset="0.7162" stop-color="#22a785"/><stop offset="0.7204" stop-color="#21a685"/><stop offset="0.7245" stop-color="#21a685"/><stop offset="0.7287" stop-color="#22a785"/><stop offset="0.7328" stop-color="#25ab82"/><stop offset="0.7370" stop-color="#2ab07f"/><stop offset="0.7412" stop-color="#28ae80"/><stop offset="0.7453" stop-color="#23a983"/><stop offset="0.7495" stop-color="#21a685"/><stop offset="0.7536" stop-color="#21a685"/><stop offset="0.7703" stop-color="#22a785"/><stop offset="0.7869" stop-color="#22a785"/><stop offset="0.8035" stop-color="#22a785"/><stop offset="0.8202" stop-color="#22a785"/><stop offset="0.8368" stop-color="#22a884"/><stop offset="0.8493" stop-color="#22a884"/><stop offset="0.8534" stop-color="#25ab82"/><stop offset="0.8576" stop-color="#2cb17e"/><stop offset="0.8617" stop-color="#37b878"/><stop offset="0.8659" stop-color="#3bbb75"/><stop offset="0.8701" stop-color="#31b57b"/><stop offset="0.8742" stop-color="#27ad81"/><stop offset="0.8784" stop-color="#23a983"/><stop offset="0.8825" stop-color="#22a884"/><stop offset="0.8867" stop-color="#22a884"/><stop offset="0.9033" stop-color="#22a884"/><stop offset="0.9200" stop-color="#22a884"/><stop offset="0.9366" stop-color="#22a884"/><stop offset="0.9532" stop-color="#23a983"/><stop offset="0.9657" stop-color="#22a884"/><stop offset="0.9699" stop-color="#23a983"/><stop offset="0.9719" stop-color="#23a983"/><stop offset="0.9740" stop-color="#23a983"/><stop offset="0.9782" stop-color="#23a983"/><stop offset="0.9823" stop-color="#23a983"/><stop offset="0.9865" stop-color="#22a785"/><stop offset="0.9906" stop-color="#22a785"/><stop offset="0.9927" stop-color="#2eb37c"/><stop offset="0.9948" stop-color="#42be71"/><stop offset="0.9990" stop-color="#42be71"/></linearGradient><linearGradient id="g55" x1="0" y1="0" x2="0" y2="1"><stop offset="0.0010" stop-color="#1e9c89"/><stop offset="0.0343" stop-color="#1e9c89"/><stop offset="0.0676" stop-color="#1e9c89"/><stop offset="0.1008" stop-color="#1e9c89"/><stop offset="0.1341" stop-color="#1f9f88"/><stop offset="0.1383" stop-color="#1f9f88"/><stop offset="0.1549" stop-color="#1f9f88"/><stop offset="0.1674" stop-color="#1f9f88"/><stop offset="0.1715" stop-color="#1f9e89"/><stop offset="0.2006" stop-color="#1e9d89"/><stop offset="0.2339" stop-color="#1e9d89"/><stop offset="0.2672" stop-color="#1e9d89"/><stop offset="0.3004" stop-color="#1e9d89"/><stop offset="0.3337" stop-color="#1f9e89"/><stop offset="0.3669" stop-color="#1f9e89"/><stop offset="0.4002" stop-color="#1f9f88"/><stop offset="0.4044" stop-color="#1fa088"/><stop offset="0.4335" stop-color="#1fa188"/><stop offset="0.4667" stop-color="#1fa187"/><stop offset="0.5000" stop-color="#1fa187"/><stop offset="0.5333" stop-color="#1fa287"/><stop offset="0.5624" stop-color="#20a386"/><stop offset="0.5665" stop-color="#20a486"/><stop offset="0.5748" stop-color="#21a585"/><stop offset="0.5873" stop-color="#22a884"/><stop offset="0.5998" stop-color="#21a585"/><stop offset="0.6123" stop-color="#21a585"/><stop offset="0.6247" stop-color="#21a585"/><stop offset="0.6372" stop-color="#21a585"/><stop offset="0.6497" stop-color="#21a685"/><stop offset="0.6538" stop-color="#22a785"/><stop offset="0.6580" stop-color="#24aa83"/><stop offset="0.6622" stop-color="#26ad81"/><stop offset="0.6663" stop-color="#2ab07f"/><stop offset="0.6705" stop-color="#2cb17e"/><stop offset="0.6746" stop-color="#2ab07f"/><stop offset="0.6788" stop-color="#27ad81"/><stop offset="0.6830" stop-color="#24aa83"/><stop offset="0.6871" stop-color="#22a884"/><stop offset="0.6913" stop-color="#22a785"/><stop offset="0.6954" stop-color="#21a685"/><stop offset="0.6996" stop-color="#22a884"/><stop offset="0.7037" stop-color="#27ad81"/><stop offset="0.7079" stop-color="#2db27d"/><stop offset="0.7121" stop-color="#27ad81"/><stop offset="0.7162" stop-color="#22a884"/><stop offset="0.7204" stop-color="#22a785"/><stop offset="0.7245" stop-color="#22a785"/><stop offset="0.7287" stop-color="#22a884"/><stop offset="0.7328" stop-color="#25ac82"/><stop offset="0.7370" stop-color="#2db27d"/><stop offset="0.7412" stop-color="#29af7f"/><stop offset="0.7453" stop-color="#24aa83"/><stop offset="0.7495" stop-color="#22a785"/><stop offset="0.7536" stop-color="#22a785"/><stop offset="0.7703" stop-color="#22a785"/><stop offset="0.7869" stop-color="#22a884"/><stop offset="0.8035" stop-color="#22a884"/><stop offset="0.8202" stop-color="#22a884"/><stop offset="0.8368" stop-color="#22a884"/><stop offset="0.8493" stop-color="#23a983"/><stop offset="0.8534" stop-color="#25ac82"/><stop offset="0.8576" stop-color="#2db27d"/><stop offset="0.8617" stop-color="#3bbb75"/><stop offset="0.8659" stop-color="#40bd72"/><stop offset="0.8701" stop-color="#34b679"/><stop offset="0.8742" stop-color="#28ae80"/><stop offset="0.8784" stop-color="#24aa83"/><stop offset="0.8825" stop-color="#23a983"/><stop offset="0.8867" stop-color="#23a983"/><stop offset="0.9033" stop-color="#23a983"/><stop offset="0.9200" stop-color="#22a884"/><stop offset="0.9366" stop-color="#22a884"/><stop offset="0.9532" stop-color="#23a983"/><stop offset="0.9657" stop-color="#22a884"/><stop offset="0.9699" stop-color="#23a983"/><stop offset="0.9719" stop-color="#23a983"/><stop offset="0.9740" stop-color="#23a983"/><stop offset="0.9782" stop-color="#23a983"/><stop offset="0.9823" stop-color="#23a983"/><stop offset="0.9865" stop-color="#22a785"/><stop offset="0.9906" stop-color="#22a785"/><stop offset="0.9927" stop-color="#2eb37c"/><stop offset="0.9948" stop-color="#42be71"/><stop offset="0.9990" stop-color="#42be71"/></linearGradient><linearGradient id="g56" x1="0" y1="0" x2="0" y2="1"><stop offset="0.0010" stop-color="#1e9c89"/><stop offset="0.0343" stop-color="#1e9c89"/><stop offset="0.0676" stop-color="#1e9c89"/><stop offset="0.1008" stop-color="#1e9c89"/><stop offset="0.1341" stop-color="#1f9f88"/><stop offset="0.1383" stop-color="#1f9f88"/><stop offset="0.1549" stop-color="#1f9f88"/><stop offset="0.1674" stop-color="#1f9f88"/><stop offset="0.1715" stop-color="#1f9f88"/><stop offset="0.2006" stop-color="#1e9d89"/><stop offset="0.2339" stop-color="#1f9e89"/><stop offset="0.2672" stop-color="#1f9e89"/><stop offset="0.3004" stop-color="#1f9e89"/><stop offset="0.3337" stop-color="#1f9e89"/><stop offset="0.3669" stop-color="#1f9f88"/><stop offset="0.4002" stop-color="#1fa088"/><stop offset="0.4044" stop-color="#1fa188"/><stop offset="0.4335" stop-color="#1fa287"/><stop offset="0.4667" stop-color="#20a386"/><stop offset="0.5000" stop-color="#20a386"/><stop offset="0.5333" stop-color="#20a486"/><stop offset="0.5624" stop-color="#21a585"/><stop offset="0.5665" stop-color="#22a785"/><stop offset="0.5748" stop-color="#22a884"/><stop offset="0.5873" stop-color="#25ac82"/><stop offset="0.5998" stop-color="#22a884"/><stop offset="0.6123" stop-color="#22a785"/><stop offset="0.6247" stop-color="#22a884"/><stop offset="0.6372" stop-color="#22a884"/><stop offset="0.6497" stop-color="#23a983"/><stop offset="0.6538" stop-color="#24aa83"/><stop offset="0.6580" stop-color="#27ad81"/><stop offset="0.6622" stop-color="#2cb17e"/><stop offset="0.6663" stop-color="#32b67a"/><stop offset="0.6705" stop-color="#35b779"/><stop offset="0.6746" stop-color="#32b67a"/><stop offset="0.6788" stop-color="#2db27d"/><stop offset="0.6830" stop-color="#27ad81"/><stop offset="0.6871" stop-color="#25ab82"/><stop offset="0.6913" stop-color="#24aa83"/><stop offset="0.6954" stop-color="#23a983"/><stop offset="0.6996" stop-color="#25ab82"/><stop offset="0.7037" stop-color="#2db27d"/><stop offset="0.7079" stop-color="#35b779"/><stop offset="0.7121" stop-color="#2db27d"/><stop offset="0.7162" stop-color="#25ab82"/><stop offset="0.7204" stop-color="#23a983"/><stop offset="0.7245" stop-color="#23a983"/><stop offset="0.7287" stop-color="#25ab82"/><stop offset="0.7328" stop-color="#2ab07f"/><stop offset="0.7370" stop-color="#35b779"/><stop offset="0.7412" stop-color="#31b57b"/><stop offset="0.7453" stop-color="#26ad81"/><stop offset="0.7495" stop-color="#24aa83"/><stop offset="0.7536" stop-color="#24aa83"/><stop offset="0.7703" stop-color="#24aa83"/><stop offset="0.7869" stop-color="#24aa83"/><stop offset="0.8035" stop-color="#25ab82"/><stop offset="0.8202" stop-color="#25ab82"/><stop offset="0.8368" stop-color="#25ab82"/><stop offset="0.8493" stop-color="#25ac82"/><stop offset="0.8534" stop-color="#29af7f"/><stop offset="0.8576" stop-color="#35b779"/><stop offset="0.8617" stop-color="#4ac16d"/><stop offset="0.8659" stop-color="#50c46a"/><stop offset="0.8701" stop-color="#3fbc73"/><stop offset="0.8742" stop-color="#2eb37c"/><stop offset="0.8784" stop-color="#26ad81"/><stop offset="0.8825" stop-color="#25ac82"/><stop offset="0.8867" stop-color="#25ab82"/><stop offset="0.9033" stop-color="#25ab82"/><stop offset="0.9200" stop-color="#25ab82"/><stop offset="0.9366" stop-color="#25ab82"/><stop offset="0.9532" stop-color="#25ac82"/><stop offset="0.9657" stop-color="#24aa83"/><stop offset="0.9699" stop-color="#23a983"/><stop offset="0.9719" stop-color="#23a983"/><stop offset="0.9740" stop-color="#23a983"/><stop offset="0.9782" stop-color="#23a983"/><stop offset="0.9823" stop-color="#23a983"/><stop offset="0.9865" stop-color="#22a785"/><stop offset="0.9906" stop-color="#22a785"/><stop offset="0.9927" stop-color="#2eb37c"/><stop offset="0.9948" stop-color="#42be71"/><stop offset="0.9990" stop-color="#42be71"/></linearGradient><linearGradient id="g57" x1="0" y1="0" x2="0" y2="1"><stop offset="0.0010" stop-color="#1e9c89"/><stop offset="0.0343" stop-color="#1e9c89"/><stop offset="0.0676" stop-color="#1e9c89"/><stop offset="0.1008" stop-color="#1e9d89"/><stop offset="0.1341" stop-color="#1f9f88"/><stop offset="0.1383" stop-color="#1f9f88"/><stop offset="0.1549" stop-color="#1f9f88"/><stop offset="0.1674" stop-color="#1f9f88"/><stop offset="0.1715" stop-color="#1f9f88"/><stop offset="0.2006" stop-color="#1f9e89"/><stop offset="0.2339" stop-color="#1f9e89"/><stop offset="0.2672" stop-color="#1f9e89"/><stop offset="0.3004" stop-color="#1f9e89"/><stop offset="0.3337" stop-color="#1f9f88"/><stop offset="0.3669" stop-color="#1f9f88"/><stop offset="0.4002" stop-color="#1fa188"/><stop offset="0.4044" stop-color="#1fa187"/><stop offset="0.4335" stop-color="#20a486"/><stop offset="0.4667" stop-color="#20a486"/><stop offset="0.5000" stop-color="#21a585"/><stop offset="0.5333" stop-color="#21a585"/><stop offset="0.5624" stop-color="#22a785"/><stop offset="0.5665" stop-color="#22a884"/><stop offset="0.5748" stop-color="#24aa83"/><stop offset="0.5873" stop-color="#27ad81"/><stop offset="0.5998" stop-color="#24aa83"/><stop offset="0.6123" stop-color="#23a983"/><stop offset="0.6247" stop-color="#23a983"/><stop offset="0.6372" stop-color="#24aa83"/><stop offset="0.6497" stop-color="#25ab82"/><stop offset="0.6538" stop-color="#25ac82"/><stop offset="0.6580" stop-color="#29af7f"/><stop offset="0.6622" stop-color="#2fb47c"/><stop offset="0.6663" stop-color="#35b779"/><stop offset="0.6705" stop-color="#3aba76"/><stop offset="0.6746" stop-color="#37b878"/><stop offset="0.6788" stop-color="#2fb47c"/><stop offset="0.6830" stop-color="#29af7f"/><stop offset="0.6871" stop-color="#26ad81"/><stop offset="0.6913" stop-color="#25ac82"/><stop offset="0.6954" stop-color="#25ab82"/><stop offset="0.6996" stop-color="#26ad81"/><stop offset="0.7037" stop-color="#2fb47c"/><stop offset="0.7079" stop-color="#3aba76"/><stop offset="0.7121" stop-color="#2fb47c"/><stop offset="0.7162" stop-color="#26ad81"/><stop offset="0.7204" stop-color="#25ab82"/><stop offset="0.7245" stop-color="#25ab82"/><stop offset="0.7287" stop-color="#26ad81"/><stop offset="0.7328" stop-color="#2db27d"/><stop offset="0.7370" stop-color="#3aba76"/><stop offset="0.7412" stop-color="#34b679"/><stop offset="0.7453" stop-color="#28ae80"/><stop offset="0.7495" stop-color="#25ac82"/><stop offset="0.7536" stop-color="#25ac82"/><stop offset="0.7703" stop-color="#25ac82"/><stop offset="0.7869" stop-color="#25ac82"/><stop offset="0.8035" stop-color="#26ad81"/><stop offset="0.8202" stop-color="#26ad81"/><stop offset="0.8368" stop-color="#26ad81"/><stop offset="0.8493" stop-color="#27ad81"/><stop offset="0.8534" stop-color="#2cb17e"/><stop offset="0.8576" stop-color="#3aba76"/><stop offset="0.8617" stop-color="#50c46a"/><stop offset="0.8659" stop-color="#58c765"/><stop offset="0.8701" stop-color="#44bf70"/><stop offset="0.8742" stop-color="#31b57b"/><stop offset="0.8784" stop-color="#28ae80"/><stop offset="0.8825" stop-color="#26ad81"/><stop offset="0.8867" stop-color="#26ad81"/><stop offset="0.9033" stop-color="#25ac82"/><stop offset="0.9200" stop-color="#25ac82"/><stop offset="0.9366" stop-color="#25ac82"/><stop offset="0.9532" stop-color="#26ad81"/><stop offset="0.9657" stop-color="#25ab82"/><stop offset="0.9699" stop-color="#23a983"/><stop offset="0.9719" stop-color="#23a983"/><stop offset="0.9740" stop-color="#23a983"/><stop offset="0.9782" stop-color="#23a983"/><stop offset="0.9823" stop-color="#23a983"/><stop offset="0.9865" stop-color="#22a785"/><stop offset="0.9906" stop-color="#22a785"/><stop offset="0.9927" stop-color="#2eb37c"/><stop offset="0.9948" stop-color="#42be71"/><stop offset="0.9990" stop-color="#42be71"/></linearGradient><linearGradient id="g58" x1="0" y1="0" x2="0" y2="1"><stop offset="0.0010" stop-color="#1e9c89"/><stop offset="0.0343" stop-color="#1e9c89"/><stop offset="0.0676" stop-color="#1e9d89"/><stop offset="0.1008" stop-color="#1e9d89"/><stop offset="0.1341" stop-color="#1fa088"/><stop offset="0.1383" stop-color="#1fa088"/><stop offset="0.1549" stop-color="#1fa088"/><stop offset="0.1674" stop-color="#1fa088"/><stop offset="0.1715" stop-color="#1f9f88"/><stop offset="0.2006" stop-color="#1f9e89"/><stop offset="0.2339" stop-color="#1f9e89"/><stop offset="0.2672" stop-color="#1f9f88"/><stop offset="0.3004" stop-color="#1f9f88"/><stop offset="0.3337" stop-color="#1f9f88"/><stop offset="0.3669" stop-color="#1fa088"/><stop offset="0.4002" stop-color="#1fa187"/><stop offset="0.4044" stop-color="#1fa287"/><stop offset="0.4335" stop-color="#21a585"/><stop offset="0.4667" stop-color="#21a685"/><stop offset="0.5000" stop-color="#22a785"/><stop offset="0.5333" stop-color="#22a785"/><stop offset="0.5624" stop-color="#22a884"/><stop offset="0.5665" stop-color="#25ab82"/><stop offset="0.5748" stop-color="#25ac82"/><stop offset="0.5873" stop-color="#29af7f"/><stop offset="0.5998" stop-color="#25ac82"/><stop offset="0.6123" stop-color="#25ab82"/><stop offset="0.6247" stop-color="#25ac82"/><stop offset="0.6372" stop-color="#25ac82"/><stop offset="0.6497" stop-color="#26ad81"/><stop offset="0.6538" stop-color="#28ae80"/><stop offset="0.6580" stop-color="#2cb17e"/><stop offset="0.6622" stop-color="#31b57b"/><stop offset="0.6663" stop-color="#38b977"/><stop offset="0.6705" stop-color="#3bbb75"/><stop offset="0.6746" stop-color="#38b977"/><stop offset="0.6788" stop-color="#32b67a"/><stop offset="0.6830" stop-color="#2cb17e"/><stop offset="0.6871" stop-color="#28ae80"/><stop offset="0.6913" stop-color="#27ad81"/><stop offset="0.6954" stop-color="#26ad81"/><stop offset="0.6996" stop-color="#28ae80"/><stop offset="0.7037" stop-color="#32b67a"/><stop offset="0.7079" stop-color="#3bbb75"/><stop offset="0.7121" stop-color="#32b67a"/><stop offset="0.7162" stop-color="#29af7f"/><stop offset="0.7204" stop-color="#27ad81"/><stop offset="0.7245" stop-color="#27ad81"/><stop offset="0.7287" stop-color="#28ae80"/><stop offset="0.7328" stop-color="#2fb47c"/><stop offset="0.7370" stop-color="#3bbb75"/><stop offset="0.7412" stop-color="#37b878"/><stop offset="0.7453" stop-color="#2ab07f"/><stop offset="0.7495" stop-color="#27ad81"/><stop offset="0.7536" stop-color="#27ad81"/><stop offset="0.7703" stop-color="#27ad81"/><stop offset="0.7869" stop-color="#27ad81"/><stop offset="0.8035" stop-color="#28ae80"/><stop offset="0.8202" stop-color="#28ae80"/><stop offset="0.8368" stop-color="#28ae80"/><stop offset="0.8493" stop-color="#29af7f"/><stop offset="0.8534" stop-color="#2eb37c"/><stop offset="0.8576" stop-color="#3bbb75"/><stop offset="0.8617" stop-color="#52c569"/><stop offset="0.8659" stop-color="#58c765"/><stop offset="0.8701" stop-color="#46c06f"/><stop offset="0.8742" stop-color="#32b67a"/><stop offset="0.8784" stop-color="#2ab07f"/><stop offset="0.8825" stop-color="#28ae80"/><stop offset="0.8867" stop-color="#28ae80"/><stop offset="0.9033" stop-color="#27ad81"/><stop offset="0.9200" stop-color="#27ad81"/><stop offset="0.9366" stop-color="#27ad81"/><stop offset="0.9532" stop-color="#28ae80"/><stop offset="0.9657" stop-color="#25ac82"/><stop offset="0.9699" stop-color="#24aa83"/><stop offset="0.9719" stop-color="#23a983"/><stop offset="0.9740" stop-color="#23a983"/><stop offset="0.9782" stop-color="#23a983"/><stop offset="0.9823" stop-color="#23a983"/><stop offset="0.9865" stop-color="#22a785"/><stop offset="0.9906" stop-color="#22a785"/><stop offset="0.9927" stop-color="#2eb37c"/><stop offset="0.9948" stop-color="#42be71"/><stop offset="0.9990" stop-color="#42be71"/></linearGradient><linearGradient id="g59" x1="0" y1="0" x2="0" y2="1"><stop offset="0.0010" stop-color="#1e9b8a"/><stop offset="0.0343" stop-color="#1e9b8a"/><stop offset="0.0676" stop-color="#1e9b8a"/><stop offset="0.1008" stop-color="#1e9c89"/><stop offset="0.1341" stop-color="#1f9e89"/><stop offset="0.1383" stop-color="#1f9e89"/><stop offset="0.1549" stop-color="#1f9e89"/><stop offset="0.1674" stop-color="#1f9e89"/><stop offset="0.1715" stop-color="#1f9e89"/><stop offset="0.2006" stop-color="#1e9c89"/><stop offset="0.2339" stop-color="#1e9c89"/><stop offset="0.2672" stop-color="#1e9d89"/><stop offset="0.3004" stop-color="#1e9d89"/><stop offset="0.3337" stop-color="#1e9d89"/><stop offset="0.3669" stop-color="#1e9d89"/><stop offset="0.4002" stop-color="#1f9e89"/><stop offset="0.4044" stop-color="#1f9e89"/><stop offset="0.4335" stop-color="#1f9f88"/><stop offset="0.4667" stop-color="#1f9f88"/><stop offset="0.5000" stop-color="#1fa088"/><stop offset="0.5333" stop-color="#1fa088"/><stop offset="0.5624" stop-color="#1fa188"/><stop offset="0.5665" stop-color="#1fa188"/><stop offset="0.5748" stop-color="#1fa187"/><stop offset="0.5873" stop-color="#20a486"/><stop offset="0.5998" stop-color="#1fa287"/><stop offset="0.6123" stop-color="#1fa187"/><stop offset="0.6247" stop-color="#1fa187"/><stop offset="0.6372" stop-color="#1fa287"/><stop offset="0.6497" stop-color="#1fa287"/><stop offset="0.6538" stop-color="#20a386"/><stop offset="0.6580" stop-color="#21a685"/><stop offset="0.6622" stop-color="#23a983"/><stop offset="0.6663" stop-color="#25ac82"/><stop offset="0.6705" stop-color="#26ad81"/><stop offset="0.6746" stop-color="#25ac82"/><stop offset="0.6788" stop-color="#23a983"/><stop offset="0.6830" stop-color="#21a685"/><stop offset="0.6871" stop-color="#20a486"/><stop offset="0.6913" stop-color="#20a386"/><stop offset="0.6954" stop-color="#20a386"/><stop offset="0.6996" stop-color="#20a486"/><stop offset="0.7037" stop-color="#23a983"/><stop offset="0.7079" stop-color="#26ad81"/><stop offset="0.7121" stop-color="#23a983"/><stop offset="0.7162" stop-color="#20a486"/><stop offset="0.7204" stop-color="#20a386"/><stop offset="0.7245" stop-color="#20a386"/><stop offset="0.7287" stop-color="#20a486"/><stop offset="0.7328" stop-color="#22a884"/><stop offset="0.7370" stop-color="#26ad81"/><stop offset="0.7412" stop-color="#25ab82"/><stop offset="0.7453" stop-color="#21a685"/><stop offset="0.7495" stop-color="#20a486"/><stop offset="0.7536" stop-color="#20a486"/><stop offset="0.7703" stop-color="#20a486"/><stop offset="0.7869" stop-color="#20a486"/><stop offset="0.8035" stop-color="#20a486"/><stop offset="0.8202" stop-color="#21a585"/><stop offset="0.8368" stop-color="#21a585"/><stop offset="0.8493" stop-color="#21a685"/><stop offset="0.8534" stop-color="#22a884"/><stop offset="0.8576" stop-color="#27ad81"/><stop offset="0.8617" stop-color="#31b57b"/><stop offset="0.8659" stop-color="#35b779"/><stop offset="0.8701" stop-color="#2db27d"/><stop offset="0.8742" stop-color="#25ab82"/><stop offset="0.8784" stop-color="#22a785"/><stop offset="0.8825" stop-color="#21a685"/><stop offset="0.8867" stop-color="#21a685"/><stop offset="0.9033" stop-color="#21a685"/><stop offset="0.9200" stop-color="#21a685"/><stop offset="0.9366" stop-color="#21a685"/><stop offset="0.9532" stop-color="#21a685"/><stop offset="0.9657" stop-color="#22a785"/><stop offset="0.9699" stop-color="#23a983"/><stop offset="0.9719" stop-color="#23a983"/><stop offset="0.9740" stop-color="#23a983"/><stop offset="0.9782" stop-color="#23a983"/><stop offset="0.9823" stop-color="#23a983"/><stop offset="0.9865" stop-color="#22a785"/><stop offset="0.9906" stop-color="#22a785"/><stop offset="0.9927" stop-color="#2eb37c"/><stop offset="0.9948" stop-color="#42be71"/><stop offset="0.9990" stop-color="#42be71"/></linearGradient><linearGradient id="g60" x1="0" y1="0" x2="0" y2="1"><stop offset="0.0010" stop-color="#1e9d89"/><stop offset="0.0343" stop-color="#1e9d89"/><stop offset="0.0676" stop-color="#1e9d89"/><stop offset="0.1008" stop-color="#1e9d89"/><stop offset="0.1341" stop-color="#1fa088"/><stop offset="0.1383" stop-color="#1fa088"/><stop offset="0.1549" stop-color="#1fa088"/><stop offset="0.1674" stop-color="#1fa088"/><stop offset="0.1715" stop-color="#1fa088"/><stop offset="0.2006" stop-color="#1f9f88"/><stop offset="0.2339" stop-color="#1f9f88"/><stop offset="0.2672" stop-color="#1f9f88"/><stop offset="0.3004" stop-color="#1f9f88"/><stop offset="0.3337" stop-color="#1f9f88"/><stop offset="0.3669" stop-color="#1fa088"/><stop offset="0.4002" stop-color="#1fa188"/><stop offset="0.4044" stop-color="#1fa188"/><stop offset="0.4335" stop-color="#1fa187"/><stop offset="0.4667" stop-color="#1fa287"/><stop offset="0.5000" stop-color="#1fa287"/><stop offset="0.5333" stop-color="#20a386"/><stop offset="0.5624" stop-color="#20a486"/><stop offset="0.5665" stop-color="#21a585"/><stop offset="0.5748" stop-color="#22a785"/><stop offset="0.5873" stop-color="#25ab82"/><stop offset="0.5998" stop-color="#22a785"/><stop offset="0.6123" stop-color="#21a685"/><stop offset="0.6247" stop-color="#21a685"/><stop offset="0.6372" stop-color="#22a785"/><stop offset="0.6497" stop-color="#22a884"/><stop offset="0.6538" stop-color="#24aa83"/><stop offset="0.6580" stop-color="#26ad81"/><stop offset="0.6622" stop-color="#2db27d"/><stop offset="0.6663" stop-color="#34b679"/><stop offset="0.6705" stop-color="#38b977"/><stop offset="0.6746" stop-color="#35b779"/><stop offset="0.6788" stop-color="#2db27d"/><stop offset="0.6830" stop-color="#27ad81"/><stop offset="0.6871" stop-color="#24aa83"/><stop offset="0.6913" stop-color="#22a884"/><stop offset="0.6954" stop-color="#22a884"/><stop offset="0.6996" stop-color="#24aa83"/><stop offset="0.7037" stop-color="#2db27d"/><stop offset="0.7079" stop-color="#38b977"/><stop offset="0.7121" stop-color="#2db27d"/><stop offset="0.7162" stop-color="#25ab82"/><stop offset="0.7204" stop-color="#22a884"/><stop offset="0.7245" stop-color="#22a884"/><stop offset="0.7287" stop-color="#24aa83"/><stop offset="0.7328" stop-color="#2ab07f"/><stop offset="0.7370" stop-color="#38b977"/><stop offset="0.7412" stop-color="#32b67a"/><stop offset="0.7453" stop-color="#26ad81"/><stop offset="0.7495" stop-color="#23a983"/><stop offset="0.7536" stop-color="#23a983"/><stop offset="0.7703" stop-color="#23a983"/><stop offset="0.7869" stop-color="#23a983"/><stop offset="0.8035" stop-color="#23a983"/><stop offset="0.8202" stop-color="#24aa83"/><stop offset="0.8368" stop-color="#24aa83"/><stop offset="0.8493" stop-color="#25ab82"/><stop offset="0.8534" stop-color="#28ae80"/><stop offset="0.8576" stop-color="#37b878"/><stop offset="0.8617" stop-color="#52c569"/><stop offset="0.8659" stop-color="#5ac864"/><stop offset="0.8701" stop-color="#44bf70"/><stop offset="0.8742" stop-color="#2eb37c"/><stop offset="0.8784" stop-color="#25ac82"/><stop offset="0.8825" stop-color="#24aa83"/><stop offset="0.8867" stop-color="#24aa83"/><stop offset="0.9033" stop-color="#24aa83"/><stop offset="0.9200" stop-color="#24aa83"/><stop offset="0.9366" stop-color="#24aa83"/><stop offset="0.9532" stop-color="#25ab82"/><stop offset="0.9657" stop-color="#23a983"/><stop offset="0.9699" stop-color="#23a983"/><stop offset="0.9719" stop-color="#23a983"/><stop offset="0.9740" stop-color="#23a983"/><stop offset="0.9782" stop-color="#23a983"/><stop offset="0.9823" stop-color="#23a983"/><stop offset="0.9865" stop-color="#22a785"/><stop offset="0.9906" stop-color="#22a785"/><stop offset="0.9927" stop-color="#2eb37c"/><stop offset="0.9948" stop-color="#42be71"/><stop offset="0.9990" stop-color="#42be71"/></linearGradient><linearGradient id="g61" x1="0" y1="0" x2="0" y2="1"><stop offset="0.0010" stop-color="#1e9c89"/><stop offset="0.0343" stop-color="#1e9c89"/><stop offset="0.0676" stop-color="#1e9c89"/><stop offset="0.1008" stop-color="#1e9d89"/><stop offset="0.1341" stop-color="#1f9f88"/><stop offset="0.1383" stop-color="#1f9f88"/><stop offset="0.1549" stop-color="#1f9f88"/><stop offset="0.1674" stop-color="#1f9f88"/><stop offset="0.1715" stop-color="#1f9f88"/><stop offset="0.2006" stop-color="#1f9e89"/><stop offset="0.2339" stop-color="#1f9e89"/><stop offset="0.2672" stop-color="#1f9e89"/><stop offset="0.3004" stop-color="#1f9e89"/><stop offset="0.3337" stop-color="#1f9e89"/><stop offset="0.3669" stop-color="#1f9f88"/><stop offset="0.4002" stop-color="#1fa088"/><stop offset="0.4044" stop-color="#1fa188"/><stop offset="0.4335" stop-color="#1fa187"/><stop offset="0.4667" stop-color="#1fa287"/><stop offset="0.5000" stop-color="#1fa287"/><stop offset="0.5333" stop-color="#20a386"/><stop offset="0.5624" stop-color="#20a486"/><stop offset="0.5665" stop-color="#21a585"/><stop offset="0.5748" stop-color="#22a785"/><stop offset="0.5873" stop-color="#24aa83"/><stop offset="0.5998" stop-color="#22a785"/><stop offset="0.6123" stop-color="#21a685"/><stop offset="0.6247" stop-color="#21a685"/><stop offset="0.6372" stop-color="#22a785"/><stop offset="0.6497" stop-color="#22a884"/><stop offset="0.6538" stop-color="#23a983"/><stop offset="0.6580" stop-color="#25ac82"/><stop offset="0.6622" stop-color="#2ab07f"/><stop offset="0.6663" stop-color="#2fb47c"/><stop offset="0.6705" stop-color="#32b67a"/><stop offset="0.6746" stop-color="#31b57b"/><stop offset="0.6788" stop-color="#2ab07f"/><stop offset="0.6830" stop-color="#26ad81"/><stop offset="0.6871" stop-color="#24aa83"/><stop offset="0.6913" stop-color="#22a884"/><stop offset="0.6954" stop-color="#22a884"/><stop offset="0.6996" stop-color="#24aa83"/><stop offset="0.7037" stop-color="#2ab07f"/><stop offset="0.7079" stop-color="#34b679"/><stop offset="0.7121" stop-color="#2ab07f"/><stop offset="0.7162" stop-color="#24aa83"/><stop offset="0.7204" stop-color="#22a884"/><stop offset="0.7245" stop-color="#22a884"/><stop offset="0.7287" stop-color="#23a983"/><stop offset="0.7328" stop-color="#28ae80"/><stop offset="0.7370" stop-color="#34b679"/><stop offset="0.7412" stop-color="#2eb37c"/><stop offset="0.7453" stop-color="#25ac82"/><stop offset="0.7495" stop-color="#23a983"/><stop offset="0.7536" stop-color="#22a884"/><stop offset="0.7703" stop-color="#23a983"/><stop offset="0.7869" stop-color="#23a983"/><stop offset="0.8035" stop-color="#23a983"/><stop offset="0.8202" stop-color="#24aa83"/><stop offset="0.8368" stop-color="#24aa83"/><stop offset="0.8493" stop-color="#25ab82"/><stop offset="0.8534" stop-color="#27ad81"/><stop offset="0.8576" stop-color="#34b679"/><stop offset="0.8617" stop-color="#48c16e"/><stop offset="0.8659" stop-color="#4ec36b"/><stop offset="0.8701" stop-color="#3dbc74"/><stop offset="0.8742" stop-color="#2cb17e"/><stop offset="0.8784" stop-color="#25ac82"/><stop offset="0.8825" stop-color="#24aa83"/><stop offset="0.8867" stop-color="#24aa83"/><stop offset="0.9033" stop-color="#24aa83"/><stop offset="0.9200" stop-color="#24aa83"/><stop offset="0.9366" stop-color="#24aa83"/><stop offset="0.9532" stop-color="#24aa83"/><stop offset="0.9657" stop-color="#23a983"/><stop offset="0.9699" stop-color="#23a983"/><stop offset="0.9719" stop-color="#23a983"/><stop offset="0.9740" stop-color="#23a983"/><stop offset="0.9782" stop-color="#23a983"/><stop offset="0.9823" stop-color="#23a983"/><stop offset="0.9865" stop-color="#22a785"/><stop offset="0.9906" stop-color="#22a785"/><stop offset="0.9927" stop-color="#2eb37c"/><stop offset="0.9948" stop-color="#42be71"/><stop offset="0.9990" stop-color="#42be71"/></linearGradient><linearGradient id="g62" x1="0" y1="0" x2="0" y2="1"><stop offset="0.0010" stop-color="#1e9d89"/><stop offset="0.0343" stop-color="#1e9d89"/><stop offset="0.0676" stop-color="#1e9d89"/><stop offset="0.1008" stop-color="#1e9d89"/><stop offset="0.1341" stop-color="#1fa088"/><stop offset="0.1383" stop-color="#1fa088"/><stop offset="0.1549" stop-color="#1fa088"/><stop offset="0.1674" stop-color="#1fa088"/><stop offset="0.1715" stop-color="#1fa088"/><stop offset="0.2006" stop-color="#1f9f88"/><stop offset="0.2339" stop-color="#1f9f88"/><stop offset="0.2672" stop-color="#1f9f88"/><stop offset="0.3004" stop-color="#1fa088"/><stop offset="0.3337" stop-color="#1fa088"/><stop offset="0.3669" stop-color="#1fa188"/><stop offset="0.4002" stop-color="#20a386"/><stop offset="0.4044" stop-color="#20a486"/><stop offset="0.4335" stop-color="#22a884"/><stop offset="0.4667" stop-color="#23a983"/><stop offset="0.5000" stop-color="#24aa83"/><stop offset="0.5333" stop-color="#24aa83"/><stop offset="0.5624" stop-color="#25ac82"/><stop offset="0.5665" stop-color="#27ad81"/><stop offset="0.5748" stop-color="#29af7f"/><stop offset="0.5873" stop-color="#2eb37c"/><stop offset="0.5998" stop-color="#29af7f"/><stop offset="0.6123" stop-color="#28ae80"/><stop offset="0.6247" stop-color="#29af7f"/><stop offset="0.6372" stop-color="#29af7f"/><stop offset="0.6497" stop-color="#2ab07f"/><stop offset="0.6538" stop-color="#2cb17e"/><stop offset="0.6580" stop-color="#31b57b"/><stop offset="0.6622" stop-color="#38b977"/><stop offset="0.6663" stop-color="#3fbc73"/><stop offset="0.6705" stop-color="#42be71"/><stop offset="0.6746" stop-color="#40bd72"/><stop offset="0.6788" stop-color="#38b977"/><stop offset="0.6830" stop-color="#31b57b"/><stop offset="0.6871" stop-color="#2db27d"/><stop offset="0.6913" stop-color="#2cb17e"/><stop offset="0.6954" stop-color="#2ab07f"/><stop offset="0.6996" stop-color="#2db27d"/><stop offset="0.7037" stop-color="#38b977"/><stop offset="0.7079" stop-color="#44bf70"/><stop offset="0.7121" stop-color="#38b977"/><stop offset="0.7162" stop-color="#2db27d"/><stop offset="0.7204" stop-color="#2ab07f"/><stop offset="0.7245" stop-color="#2ab07f"/><stop offset="0.7287" stop-color="#2db27d"/><stop offset="0.7328" stop-color="#35b779"/><stop offset="0.7370" stop-color="#44bf70"/><stop offset="0.7412" stop-color="#3dbc74"/><stop offset="0.7453" stop-color="#2fb47c"/><stop offset="0.7495" stop-color="#2cb17e"/><stop offset="0.7536" stop-color="#2cb17e"/><stop offset="0.7703" stop-color="#2cb17e"/><stop offset="0.7869" stop-color="#2cb17e"/><stop offset="0.8035" stop-color="#2db27d"/><stop offset="0.8202" stop-color="#2db27d"/><stop offset="0.8368" stop-color="#2db27d"/><stop offset="0.8493" stop-color="#2eb37c"/><stop offset="0.8534" stop-color="#34b679"/><stop offset="0.8576" stop-color="#42be71"/><stop offset="0.8617" stop-color="#5cc863"/><stop offset="0.8659" stop-color="#63cb5f"/><stop offset="0.8701" stop-color="#50c46a"/><stop offset="0.8742" stop-color="#38b977"/><stop offset="0.8784" stop-color="#2fb47c"/><stop offset="0.8825" stop-color="#2db27d"/><stop offset="0.8867" stop-color="#2cb17e"/><stop offset="0.9033" stop-color="#2cb17e"/><stop offset="0.9200" stop-color="#2ab07f"/><stop offset="0.9366" stop-color="#29af7f"/><stop offset="0.9532" stop-color="#2cb17e"/><stop offset="0.9657" stop-color="#27ad81"/><stop offset="0.9699" stop-color="#24aa83"/><stop offset="0.9719" stop-color="#23a983"/><stop offset="0.9740" stop-color="#23a983"/><stop offset="0.9782" stop-color="#23a983"/><stop offset="0.9823" stop-color="#23a983"/><stop offset="0.9865" stop-color="#22a785"/><stop offset="0.9906" stop-color="#22a785"/><stop offset="0.9927" stop-color="#2eb37c"/><stop offset="0.9948" stop-color="#42be71"/><stop offset="0.9990" stop-color="#42be71"/></linearGradient><linearGradient id="g63" x1="0" y1="0" x2="0" y2="1"><stop offset="0.0010" stop-color="#1e9c89"/><stop offset="0.0343" stop-color="#1e9d89"/><stop offset="0.0676" stop-color="#1e9d89"/><stop offset="0.1008" stop-color="#1e9d89"/><stop offset="0.1341" stop-color="#1fa088"/><stop offset="0.1383" stop-color="#1fa088"/><stop offset="0.1549" stop-color="#1fa088"/><stop offset="0.1674" stop-color="#1fa088"/><stop offset="0.1715" stop-color="#1fa088"/><stop offset="0.2006" stop-color="#1f9e89"/><stop offset="0.2339" stop-color="#1f9f88"/><stop offset="0.2672" stop-color="#1f9f88"/><stop offset="0.3004" stop-color="#1f9f88"/><stop offset="0.3337" stop-color="#1fa088"/><stop offset="0.3669" stop-color="#1fa088"/><stop offset="0.4002" stop-color="#1fa287"/><stop offset="0.4044" stop-color="#20a386"/><stop offset="0.4335" stop-color="#21a685"/><stop offset="0.4667" stop-color="#22a785"/><stop offset="0.5000" stop-color="#22a884"/><stop offset="0.5333" stop-color="#22a884"/><stop offset="0.5624" stop-color="#24aa83"/><stop offset="0.5665" stop-color="#25ac82"/><stop offset="0.5748" stop-color="#27ad81"/><stop offset="0.5873" stop-color="#2ab07f"/><stop offset="0.5998" stop-color="#27ad81"/><stop offset="0.6123" stop-color="#26ad81"/><stop offset="0.6247" stop-color="#26ad81"/><stop offset="0.6372" stop-color="#26ad81"/><stop offset="0.6497" stop-color="#27ad81"/><stop offset="0.6538" stop-color="#29af7f"/><stop offset="0.6580" stop-color="#2db27d"/><stop offset="0.6622" stop-color="#32b67a"/><stop offset="0.6663" stop-color="#3aba76"/><stop offset="0.6705" stop-color="#3dbc74"/><stop offset="0.6746" stop-color="#3aba76"/><stop offset="0.6788" stop-color="#34b679"/><stop offset="0.6830" stop-color="#2db27d"/><stop offset="0.6871" stop-color="#29af7f"/><stop offset="0.6913" stop-color="#28ae80"/><stop offset="0.6954" stop-color="#28ae80"/><stop offset="0.6996" stop-color="#2ab07f"/><stop offset="0.7037" stop-color="#34b679"/><stop offset="0.7079" stop-color="#3dbc74"/><stop offset="0.7121" stop-color="#34b679"/><stop offset="0.7162" stop-color="#2ab07f"/><stop offset="0.7204" stop-color="#28ae80"/><stop offset="0.7245" stop-color="#28ae80"/><stop offset="0.7287" stop-color="#29af7f"/><stop offset="0.7328" stop-color="#31b57b"/><stop offset="0.7370" stop-color="#3dbc74"/><stop offset="0.7412" stop-color="#38b977"/><stop offset="0.7453" stop-color="#2db27d"/><stop offset="0.7495" stop-color="#29af7f"/><stop offset="0.7536" stop-color="#28ae80"/><stop offset="0.7703" stop-color="#28ae80"/><stop offset="0.7869" stop-color="#29af7f"/><stop offset="0.8035" stop-color="#29af7f"/><stop offset="0.8202" stop-color="#29af7f"/><stop offset="0.8368" stop-color="#2ab07f"/><stop offset="0.8493" stop-color="#2cb17e"/><stop offset="0.8534" stop-color="#2fb47c"/><stop offset="0.8576" stop-color="#3dbc74"/><stop offset="0.8617" stop-color="#54c568"/><stop offset="0.8659" stop-color="#5ac864"/><stop offset="0.8701" stop-color="#48c16e"/><stop offset="0.8742" stop-color="#34b679"/><stop offset="0.8784" stop-color="#2cb17e"/><stop offset="0.8825" stop-color="#29af7f"/><stop offset="0.8867" stop-color="#29af7f"/><stop offset="0.9033" stop-color="#28ae80"/><stop offset="0.9200" stop-color="#28ae80"/><stop offset="0.9366" stop-color="#28ae80"/><stop offset="0.9532" stop-color="#29af7f"/><stop offset="0.9657" stop-color="#25ac82"/><stop offset="0.9699" stop-color="#24aa83"/><stop offset="0.9719" stop-color="#23a983"/><stop offset="0.9740" stop-color="#23a983"/><stop offset="0.9782" stop-color="#23a983"/><stop offset="0.9823" stop-color="#23a983"/><stop offset="0.9865" stop-color="#22a785"/><stop offset="0.9906" stop-color="#22a785"/><stop offset="0.9927" stop-color="#2eb37c"/><stop offset="0.9948" stop-color="#42be71"/><stop offset="0.9990" stop-color="#42be71"/></linearGradient><linearGradient id="cbg" x1="0" y1="0" x2="0" y2="1"><stop offset="0.0000" stop-color="#fde725"/><stop offset="0.0312" stop-color="#eae51a"/><stop offset="0.0625" stop-color="#d5e21a"/><stop offset="0.0938" stop-color="#c0df25"/><stop offset="0.1250" stop-color="#aadc32"/><stop offset="0.1562" stop-color="#95d840"/><stop offset="0.1875" stop-color="#81d34d"/><stop offset="0.2188" stop-color="#6ece58"/><stop offset="0.2500" stop-color="#5cc863"/><stop offset="0.2812" stop-color="#4cc26c"/><stop offset="0.3125" stop-color="#3dbc74"/><stop offset="0.3438" stop-color="#31b57b"/><stop offset="0.3750" stop-color="#27ad81"/><stop offset="0.4062" stop-color="#21a685"/><stop offset="0.4375" stop-color="#1f9f88"/><stop offset="0.4688" stop-color="#1f978b"/><stop offset="0.5000" stop-color="#21918c"/><stop offset="0.5312" stop-color="#23898e"/><stop offset="0.5625" stop-color="#26828e"/><stop offset="0.5938" stop-color="#297a8e"/><stop offset="0.6250" stop-color="#2c728e"/><stop offset="0.6562" stop-color="#2f6b8e"/><stop offset="0.6875" stop-color="#33638d"/><stop offset="0.7188" stop-color="#375b8d"/><stop offset="0.7500" stop-color="#3b528b"/><stop offset="0.7812" stop-color="#3e4989"/><stop offset="0.8125" stop-color="#424086"/><stop offset="0.8438" stop-color="#453781"/><stop offset="0.8750" stop-color="#472d7b"/><stop offset="0.9062" stop-color="#482374"/><stop offset="0.9375" stop-color="#48186a"/><stop offset="0.9688" stop-color="#470d60"/><stop offset="1.0000" stop-color="#440154"/></linearGradient></defs><g shape-rendering="crispEdges"><rect x="120" y="30" width="1" height="481" fill="url(#g2)"/><rect x="121" y="30" width="1" height="481" fill="url(#g29)"/><rect x="122" y="30" width="3" height="481" fill="url(#g2)"/><rect x="125" y="30" width="1" height="481" fill="url(#g25)"/><rect x="126" y="30" width="1" height="481" fill="url(#g39)"/><rect x="127" y="30" width="1" height="481" fill="url(#g15)"/><rect x="128" y="30" width="1" height="481" fill="url(#g31)"/><rect x="129" y="30" width="1" height="481" fill="url(#g38)"/><rect x="130" y="30" width="1" height="481" fill="url(#g27)"/><rect x="131" y="30" width="1" height="481" fill="url(#g33)"/><rect x="132" y="30" width="1" height="481" fill="url(#g6)"/><rect x="133" y="30" width="1" height="481" fill="url(#g59)"/><rect x="134" y="30" width="1" height="481" fill="url(#g15)"/><rect x="135" y="30" width="1" height="481" fill="url(#g39)"/><rect x="136" y="30" width="1" height="481" fill="url(#g34)"/><rect x="137" y="30" width="1" height="481" fill="url(#g42)"/><rect x="138" y="30" width="1" height="481" fill="url(#g36)"/><rect x="139" y="30" width="1" height="481" fill="url(#g59)"/><rect x="140" y="30" width="1" height="481" fill="url(#g50)"/><rect x="141" y="30" width="1" height="481" fill="url(#g46)"/><rect x="142" y="30" width="1" height="481" fill="url(#g27)"/><rect x="143" y="30" width="1" height="481" fill="url(#g5)"/><rect x="144" y="30" width="1" height="481" fill="url(#g14)"/><rect x="145" y="30" width="1" height="481" fill="url(#g45)"/><rect x="146" y="30" width="1" height="481" fill="url(#g15)"/><rect x="147" y="30" width="1" height="481" fill="url(#g39)"/><rect x="148" y="30" width="1" height="481" fill="url(#g35)"/><rect x="149" y="30" width="1" height="481" fill="url(#g16)"/><rect x="150" y="30" width="1" height="481" fill="url(#g55)"/><rect x="151" y="30" width="2" height="481" fill="url(#g0)"/><rect x="153" y="30" width="1" height="481" fill="url(#g9)"/><rect x="154" y="30" width="1" height="481" fill="url(#g55)"/><rect x="155" y="30" width="1" height="481" fill="url(#g24)"/><rect x="156" y="30" width="1" height="481" fill="url(#g55)"/><rect x="157" y="30" width="1" height="481" fill="url(#g1)"/><rect x="158" y="30" width="1" height="481" fill="url(#g23)"/><rect x="159" y="30" width="1" height="481" fill="url(#g39)"/><rect x="160" y="30" width="6" height="481" fill="url(#g25)"/><rect x="166" y="30" width="1" height="481" fill="url(#g39)"/><rect x="167" y="30" width="1" height="481" fill="url(#g35)"/><rect x="168" y="30" width="1" height="481" fill="url(#g16)"/><rect x="169" y="30" width="1" height="481" fill="url(#g36)"/><rect x="170" y="30" width="1" height="481" fill="url(#g18)"/><rect x="171" y="30" width="1" height="481" fill="url(#g52)"/><rect x="172" y="30" width="1" height="481" fill="url(#g21)"/><rect x="173" y="30" width="1" height="481" fill="url(#g42)"/><rect x="174" y="30" width="1" height="481" fill="url(#g23)"/><rect x="175" y="30" width="1" height="481" fill="url(#g35)"/><rect x="176" y="30" width="1" height="481" fill="url(#g23)"/><rect x="177" y="30" width="1" height="481" fill="url(#g48)"/><rect x="178" y="30" width="2" height="481" fill="url(#g59)"/><rect x="180" y="30" width="1" height="481" fill="url(#g36)"/><rect x="181" y="30" width="1" height="481" fill="url(#g9)"/><rect x="182" y="30" width="1" height="481" fill="url(#g8)"/><rect x="183" y="30" width="1" height="481" fill="url(#g9)"/><rect x="184" y="30" width="1" height="481" fill="url(#g45)"/><rect x="185" y="30" width="1" height="481" fill="url(#g34)"/><rect x="186" y="30" width="1" height="481" fill="url(#g39)"/><rect x="187" y="30" width="1" height="481" fill="url(#g15)"/><rect x="188" y="30" width="1" height="481" fill="url(#g7)"/><rect x="189" y="30" width="1" height="481" fill="url(#g57)"/><rect x="190" y="30" width="1" height="481" fill="url(#g5)"/><rect x="191" y="30" width="1" height="481" fill="url(#g26)"/><rect x="192" y="30" width="1" height="481" fill="url(#g14)"/><rect x="193" y="30" width="1" height="481" fill="url(#g45)"/><rect x="194" y="30" width="1" height="481" fill="url(#g48)"/><rect x="195" y="30" width="1" height="481" fill="url(#g59)"/><rect x="196" y="30" width="1" height="481" fill="url(#g42)"/><rect x="197" y="30" width="1" height="481" fill="url(#g9)"/><rect x="198" y="30" width="1" height="481" fill="url(#g62)"/><rect x="199" y="30" width="1" height="481" fill="url(#g63)"/><rect x="200" y="30" width="2" height="481" fill="url(#g53)"/><rect x="202" y="30" width="2" height="481" fill="url(#g44)"/><rect x="204" y="30" width="1" height="481" fill="url(#g60)"/><rect x="205" y="30" width="1" height="481" fill="url(#g30)"/><rect x="206" y="30" width="1" height="481" fill="url(#g10)"/><rect x="207" y="30" width="1" height="481" fill="url(#g46)"/><rect x="208" y="30" width="1" height="481" fill="url(#g53)"/><rect x="209" y="30" width="1" height="481" fill="url(#g36)"/><rect x="210" y="30" width="1" height="481" fill="url(#g54)"/><rect x="211" y="30" width="1" height="481" fill="url(#g1)"/><rect x="212" y="30" width="1" height="481" fill="url(#g23)"/><rect x="213" y="30" width="1" height="481" fill="url(#g35)"/><rect x="214" y="30" width="4" height="481" fill="url(#g25)"/><rect x="218" y="30" width="1" height="481" fill="url(#g39)"/><rect x="219" y="30" width="1" height="481" fill="url(#g15)"/><rect x="220" y="30" width="1" height="481" fill="url(#g1)"/><rect x="221" y="30" width="1" height="481" fill="url(#g8)"/><rect x="222" y="30" width="1" height="481" fill="url(#g0)"/><rect x="223" y="30" width="1" height="481" fill="url(#g61)"/><rect x="224" y="30" width="1" height="481" fill="url(#g7)"/><rect x="225" y="30" width="1" height="481" fill="url(#g59)"/><rect x="226" y="30" width="1" height="481" fill="url(#g48)"/><rect x="227" y="30" width="1" height="481" fill="url(#g34)"/><rect x="228" y="30" width="1" height="481" fill="url(#g39)"/><rect x="229" y="30" width="1" height="481" fill="url(#g25)"/><rect x="230" y="30" width="1" height="481" fill="url(#g2)"/><rect x="231" y="30" width="1" height="481" fill="url(#g35)"/><rect x="232" y="30" width="1" height="481" fill="url(#g34)"/><rect x="233" y="30" width="1" height="481" fill="url(#g48)"/><rect x="234" y="30" width="1" height="481" fill="url(#g42)"/><rect x="235" y="30" width="2" height="481" fill="url(#g48)"/><rect x="237" y="30" width="1" height="481" fill="url(#g50)"/><rect x="238" y="30" width="1" height="481" fill="url(#g8)"/><rect x="239" y="30" width="1" height="481" fill="url(#g61)"/><rect x="240" y="30" width="1" height="481" fill="url(#g50)"/><rect x="241" y="30" width="1" height="481" fill="url(#g21)"/><rect x="242" y="30" width="1" height="481" fill="url(#g42)"/><rect x="243" y="30" width="2" height="481" fill="url(#g23)"/><rect x="245" y="30" width="1" height="481" fill="url(#g16)"/><rect x="246" y="30" width="1" height="481" fill="url(#g32)"/><rect x="247" y="30" width="2" height="481" fill="url(#g52)"/><rect x="249" y="30" width="1" height="481" fill="url(#g49)"/><rect x="250" y="30" width="1" height="481" fill="url(#g35)"/><rect x="251" y="30" width="1" height="481" fill="url(#g2)"/><rect x="252" y="30" width="3" height="481" fill="url(#g25)"/><rect x="255" y="30" width="1" height="481" fill="url(#g15)"/><rect x="256" y="30" width="1" height="481" fill="url(#g42)"/><rect x="257" y="30" width="1" height="481" fill="url(#g17)"/><rect x="258" y="30" width="1" height="481" fill="url(#g62)"/><rect x="259" y="30" width="1" height="481" fill="url(#g4)"/><rect x="260" y="30" width="1" height="481" fill="url(#g21)"/><rect x="261" y="30" width="1" height="481" fill="url(#g16)"/><rect x="262" y="30" width="1" height="481" fill="url(#g59)"/><rect x="263" y="30" width="1" height="481" fill="url(#g14)"/><rect x="264" y="30" width="1" height="481" fill="url(#g30)"/><rect x="265" y="30" width="1" height="481" fill="url(#g27)"/><rect x="266" y="30" width="1" height="481" fill="url(#g46)"/><rect x="267" y="30" width="1" height="481" fill="url(#g19)"/><rect x="268" y="30" width="1" height="481" fill="url(#g34)"/><rect x="269" y="30" width="1" height="481" fill="url(#g48)"/><rect x="270" y="30" width="2" height="481" fill="url(#g42)"/><rect x="272" y="30" width="1" height="481" fill="url(#g22)"/><rect x="273" y="30" width="1" height="481" fill="url(#g28)"/><rect x="274" y="30" width="1" height="481" fill="url(#g62)"/><rect x="275" y="30" width="1" height="481" fill="url(#g57)"/><rect x="276" y="30" width="1" height="481" fill="url(#g50)"/><rect x="277" y="30" width="2" height="481" fill="url(#g48)"/><rect x="279" y="30" width="2" height="481" fill="url(#g42)"/><rect x="281" y="30" width="1" height="481" fill="url(#g16)"/><rect x="282" y="30" width="1" height="481" fill="url(#g22)"/><rect x="283" y="30" width="1" height="481" fill="url(#g3)"/><rect x="284" y="30" width="1" height="481" fill="url(#g36)"/><rect x="285" y="30" width="1" height="481" fill="url(#g48)"/><rect x="286" y="30" width="1" height="481" fill="url(#g45)"/><rect x="287" y="30" width="1" height="481" fill="url(#g6)"/><rect x="288" y="30" width="2" height="481" fill="url(#g33)"/><rect x="290" y="30" width="1" height="481" fill="url(#g6)"/><rect x="291" y="30" width="1" height="481" fill="url(#g45)"/><rect x="292" y="30" width="1" height="481" fill="url(#g34)"/><rect x="293" y="30" width="2" height="481" fill="url(#g39)"/><rect x="295" y="30" width="1" height="481" fill="url(#g35)"/><rect x="296" y="30" width="1" height="481" fill="url(#g1)"/><rect x="297" y="30" width="1" height="481" fill="url(#g17)"/><rect x="298" y="30" width="1" height="481" fill="url(#g0)"/><rect x="299" y="30" width="1" height="481" fill="url(#g57)"/><rect x="300" y="30" width="1" height="481" fill="url(#g19)"/><rect x="301" y="30" width="1" height="481" fill="url(#g42)"/><rect x="302" y="30" width="1" height="481" fill="url(#g32)"/><rect x="303" y="30" width="1" height="481" fill="url(#g18)"/><rect x="304" y="30" width="1" height="481" fill="url(#g3)"/><rect x="305" y="30" width="1" height="481" fill="url(#g23)"/><rect x="306" y="30" width="1" height="481" fill="url(#g39)"/><rect x="307" y="30" width="1" height="481" fill="url(#g35)"/><rect x="308" y="30" width="1" height="481" fill="url(#g1)"/><rect x="309" y="30" width="1" height="481" fill="url(#g55)"/><rect x="310" y="30" width="1" height="481" fill="url(#g58)"/><rect x="311" y="30" width="1" height="481" fill="url(#g62)"/><rect x="312" y="30" width="1" height="481" fill="url(#g17)"/><rect x="313" y="30" width="2" height="481" fill="url(#g36)"/><rect x="315" y="30" width="1" height="481" fill="url(#g32)"/><rect x="316" y="30" width="1" height="481" fill="url(#g16)"/><rect x="317" y="30" width="1" height="481" fill="url(#g23)"/><rect x="318" y="30" width="1" height="481" fill="url(#g42)"/><rect x="319" y="30" width="2" height="481" fill="url(#g1)"/><rect x="321" y="30" width="1" height="481" fill="url(#g22)"/><rect x="322" y="30" width="1" height="481" fill="url(#g3)"/><rect x="323" y="30" width="1" height="481" fill="url(#g36)"/><rect x="324" y="30" width="1" height="481" fill="url(#g48)"/><rect x="325" y="30" width="1" height="481" fill="url(#g15)"/><rect x="326" y="30" width="1" height="481" fill="url(#g39)"/><rect x="327" y="30" width="1" height="481" fill="url(#g25)"/><rect x="328" y="30" width="1" height="481" fill="url(#g39)"/><rect x="329" y="30" width="1" height="481" fill="url(#g35)"/><rect x="330" y="30" width="1" height="481" fill="url(#g32)"/><rect x="331" y="30" width="1" height="481" fill="url(#g18)"/><rect x="332" y="30" width="1" height="481" fill="url(#g22)"/><rect x="333" y="30" width="1" height="481" fill="url(#g16)"/><rect x="334" y="30" width="1" height="481" fill="url(#g29)"/><rect x="335" y="30" width="1" height="481" fill="url(#g35)"/><rect x="336" y="30" width="2" height="481" fill="url(#g2)"/><rect x="338" y="30" width="2" height="481" fill="url(#g25)"/><rect x="340" y="30" width="1" height="481" fill="url(#g39)"/><rect x="341" y="30" width="1" height="481" fill="url(#g29)"/><rect x="342" y="30" width="1" height="481" fill="url(#g3)"/><rect x="343" y="30" width="1" height="481" fill="url(#g12)"/><rect x="344" y="30" width="1" height="481" fill="url(#g52)"/><rect x="345" y="30" width="1" height="481" fill="url(#g16)"/><rect x="346" y="30" width="1" height="481" fill="url(#g15)"/><rect x="347" y="30" width="1" height="481" fill="url(#g39)"/><rect x="348" y="30" width="3" height="481" fill="url(#g25)"/><rect x="351" y="30" width="1" height="481" fill="url(#g39)"/><rect x="352" y="30" width="1" height="481" fill="url(#g23)"/><rect x="353" y="30" width="1" height="481" fill="url(#g59)"/><rect x="354" y="30" width="1" height="481" fill="url(#g61)"/><rect x="355" y="30" width="1" height="481" fill="url(#g0)"/><rect x="356" y="30" width="1" height="481" fill="url(#g8)"/><rect x="357" y="30" width="1" height="481" fill="url(#g1)"/><rect x="358" y="30" width="1" height="481" fill="url(#g15)"/><rect x="359" y="30" width="1" height="481" fill="url(#g25)"/><rect x="360" y="30" width="1" height="481" fill="url(#g39)"/><rect x="361" y="30" width="1" height="481" fill="url(#g15)"/><rect x="362" y="30" width="1" height="481" fill="url(#g16)"/><rect x="363" y="30" width="1" height="481" fill="url(#g3)"/><rect x="364" y="30" width="1" height="481" fill="url(#g52)"/><rect x="365" y="30" width="1" height="481" fill="url(#g49)"/><rect x="366" y="30" width="1" height="481" fill="url(#g23)"/><rect x="367" y="30" width="1" height="481" fill="url(#g1)"/><rect x="368" y="30" width="1" height="481" fill="url(#g59)"/><rect x="369" y="30" width="1" height="481" fill="url(#g34)"/><rect x="370" y="30" width="1" height="481" fill="url(#g15)"/><rect x="371" y="30" width="1" height="481" fill="url(#g39)"/><rect x="372" y="30" width="1" height="481" fill="url(#g23)"/><rect x="373" y="30" width="1" height="481" fill="url(#g7)"/><rect x="374" y="30" width="1" height="481" fill="url(#g56)"/><rect x="375" y="30" width="1" height="481" fill="url(#g0)"/><rect x="376" y="30" width="1" height="481" fill="url(#g17)"/><rect x="377" y="30" width="1" height="481" fill="url(#g42)"/><rect x="378" y="30" width="1" height="481" fill="url(#g15)"/><rect x="379" y="30" width="1" height="481" fill="url(#g48)"/><rect x="380" y="30" width="1" height="481" fill="url(#g9)"/><rect x="381" y="30" width="1" height="481" fill="url(#g0)"/><rect x="382" y="30" width="1" height="481" fill="url(#g4)"/><rect x="383" y="30" width="1" height="481" fill="url(#g50)"/><rect x="384" y="30" width="1" height="481" fill="url(#g13)"/><rect x="385" y="30" width="1" height="481" fill="url(#g61)"/><rect x="386" y="30" width="1" height="481" fill="url(#g28)"/><rect x="387" y="30" width="1" height="481" fill="url(#g12)"/><rect x="388" y="30" width="1" height="481" fill="url(#g54)"/><rect x="389" y="30" width="1" height="481" fill="url(#g22)"/><rect x="390" y="30" width="1" height="481" fill="url(#g18)"/><rect x="391" y="30" width="1" height="481" fill="url(#g22)"/><rect x="392" y="30" width="1" height="481" fill="url(#g23)"/><rect x="393" y="30" width="1" height="481" fill="url(#g35)"/><rect x="394" y="30" width="1" height="481" fill="url(#g39)"/><rect x="395" y="30" width="1" height="481" fill="url(#g25)"/><rect x="396" y="30" width="1" height="481" fill="url(#g2)"/><rect x="397" y="30" width="1" height="481" fill="url(#g25)"/><rect x="398" y="30" width="2" height="481" fill="url(#g39)"/><rect x="400" y="30" width="1" height="481" fill="url(#g23)"/><rect x="401" y="30" width="1" height="481" fill="url(#g22)"/><rect x="402" y="30" width="1" height="481" fill="url(#g24)"/><rect x="403" y="30" width="1" height="481" fill="url(#g22)"/><rect x="404" y="30" width="1" height="481" fill="url(#g32)"/><rect x="405" y="30" width="1" height="481" fill="url(#g21)"/><rect x="406" y="30" width="1" height="481" fill="url(#g36)"/><rect x="407" y="30" width="1" height="481" fill="url(#g16)"/><rect x="408" y="30" width="1" height="481" fill="url(#g48)"/><rect x="409" y="30" width="2" height="481" fill="url(#g42)"/><rect x="411" y="30" width="1" height="481" fill="url(#g48)"/><rect x="412" y="30" width="1" height="481" fill="url(#g16)"/><rect x="413" y="30" width="1" height="481" fill="url(#g18)"/><rect x="414" y="30" width="1" height="481" fill="url(#g63)"/><rect x="415" y="30" width="1" height="481" fill="url(#g58)"/><rect x="416" y="30" width="1" height="481" fill="url(#g53)"/><rect x="417" y="30" width="1" height="481" fill="url(#g42)"/><rect x="418" y="30" width="1" height="481" fill="url(#g15)"/><rect x="419" y="30" width="1" height="481" fill="url(#g39)"/><rect x="420" y="30" width="5" height="481" fill="url(#g25)"/><rect x="425" y="30" width="1" height="481" fill="url(#g39)"/><rect x="426" y="30" width="1" height="481" fill="url(#g15)"/><rect x="427" y="30" width="1" height="481" fill="url(#g59)"/><rect x="428" y="30" width="1" height="481" fill="url(#g9)"/><rect x="429" y="30" width="1" height="481" fill="url(#g57)"/><rect x="430" y="30" width="1" height="481" fill="url(#g9)"/><rect x="431" y="30" width="1" height="481" fill="url(#g7)"/><rect x="432" y="30" width="1" height="481" fill="url(#g55)"/><rect x="433" y="30" width="2" height="481" fill="url(#g56)"/><rect x="435" y="30" width="1" height="481" fill="url(#g50)"/><rect x="436" y="30" width="1" height="481" fill="url(#g42)"/><rect x="437" y="30" width="1" height="481" fill="url(#g16)"/><rect x="438" y="30" width="1" height="481" fill="url(#g22)"/><rect x="439" y="30" width="1" height="481" fill="url(#g24)"/><rect x="440" y="30" width="1" height="481" fill="url(#g18)"/><rect x="441" y="30" width="1" height="481" fill="url(#g16)"/><rect x="442" y="30" width="2" height="481" fill="url(#g15)"/><rect x="444" y="30" width="1" height="481" fill="url(#g48)"/><rect x="445" y="30" width="1" height="481" fill="url(#g9)"/><rect x="446" y="30" width="1" height="481" fill="url(#g0)"/><rect x="447" y="30" width="1" height="481" fill="url(#g4)"/><rect x="448" y="30" width="1" height="481" fill="url(#g7)"/><rect x="449" y="30" width="1" height="481" fill="url(#g34)"/><rect x="450" y="30" width="1" height="481" fill="url(#g39)"/><rect x="451" y="30" width="1" height="481" fill="url(#g34)"/><rect x="452" y="30" width="1" height="481" fill="url(#g16)"/><rect x="453" y="30" width="1" height="481" fill="url(#g59)"/><rect x="454" y="30" width="1" height="481" fill="url(#g1)"/><rect x="455" y="30" width="1" height="481" fill="url(#g22)"/><rect x="456" y="30" width="1" height="481" fill="url(#g52)"/><rect x="457" y="30" width="1" height="481" fill="url(#g54)"/><rect x="458" y="30" width="1" height="481" fill="url(#g32)"/><rect x="459" y="30" width="2" height="481" fill="url(#g3)"/><rect x="461" y="30" width="1" height="481" fill="url(#g36)"/><rect x="462" y="30" width="1" height="481" fill="url(#g31)"/><rect x="463" y="30" width="1" height="481" fill="url(#g47)"/><rect x="464" y="30" width="1" height="481" fill="url(#g43)"/><rect x="465" y="30" width="1" height="481" fill="url(#g33)"/><rect x="466" y="30" width="1" height="481" fill="url(#g60)"/><rect x="467" y="30" width="1" height="481" fill="url(#g50)"/><rect x="468" y="30" width="1" height="481" fill="url(#g16)"/><rect x="469" y="30" width="1" height="481" fill="url(#g23)"/><rect x="470" y="30" width="1" height="481" fill="url(#g54)"/><rect x="471" y="30" width="2" height="481" fill="url(#g63)"/><rect x="473" y="30" width="1" height="481" fill="url(#g53)"/><rect x="474" y="30" width="2" height="481" fill="url(#g59)"/><rect x="476" y="30" width="1" height="481" fill="url(#g48)"/><rect x="477" y="30" width="1" height="481" fill="url(#g34)"/><rect x="478" y="30" width="1" height="481" fill="url(#g23)"/><rect x="479" y="30" width="1" height="481" fill="url(#g52)"/><rect x="480" y="30" width="1" height="481" fill="url(#g20)"/><rect x="481" y="30" width="1" height="481" fill="url(#g24)"/><rect x="482" y="30" width="1" height="481" fill="url(#g16)"/><rect x="483" y="30" width="1" height="481" fill="url(#g35)"/><rect x="484" y="30" width="1" height="481" fill="url(#g2)"/><rect x="485" y="30" width="2" height="481" fill="url(#g39)"/><rect x="487" y="30" width="1" height="481" fill="url(#g23)"/><rect x="488" y="30" width="1" height="481" fill="url(#g52)"/><rect x="489" y="30" width="1" height="481" fill="url(#g24)"/><rect x="490" y="30" width="1" height="481" fill="url(#g1)"/><rect x="491" y="30" width="2" height="481" fill="url(#g35)"/><rect x="493" y="30" width="4" height="481" fill="url(#g25)"/><rect x="497" y="30" width="1" height="481" fill="url(#g15)"/><rect x="498" y="30" width="1" height="481" fill="url(#g49)"/><rect x="499" y="30" width="1" height="481" fill="url(#g18)"/><rect x="500" y="30" width="1" height="481" fill="url(#g3)"/><rect x="501" y="30" width="2" height="481" fill="url(#g48)"/><rect x="503" y="30" width="1" height="481" fill="url(#g42)"/><rect x="504" y="30" width="1" height="481" fill="url(#g48)"/><rect x="505" y="30" width="1" height="481" fill="url(#g16)"/><rect x="506" y="30" width="1" height="481" fill="url(#g22)"/><rect x="507" y="30" width="2" height="481" fill="url(#g24)"/><rect x="509" y="30" width="1" height="481" fill="url(#g22)"/><rect x="510" y="30" width="1" height="481" fill="url(#g29)"/><rect x="511" y="30" width="1" height="481" fill="url(#g35)"/><rect x="512" y="30" width="4" height="481" fill="url(#g25)"/><rect x="516" y="30" width="1" height="481" fill="url(#g15)"/><rect x="517" y="30" width="1" height="481" fill="url(#g7)"/><rect x="518" y="30" width="1" height="481" fill="url(#g38)"/><rect x="519" y="30" width="1" height="481" fill="url(#g43)"/><rect x="520" y="30" width="1" height="481" fill="url(#g5)"/><rect x="521" y="30" width="1" height="481" fill="url(#g14)"/><rect x="522" y="30" width="1" height="481" fill="url(#g45)"/><rect x="523" y="30" width="1" height="481" fill="url(#g15)"/><rect x="524" y="30" width="1" height="481" fill="url(#g34)"/><rect x="525" y="30" width="1" height="481" fill="url(#g59)"/><rect x="526" y="30" width="3" height="481" fill="url(#g36)"/><rect x="529" y="30" width="1" height="481" fill="url(#g48)"/><rect x="530" y="30" width="1" height="481" fill="url(#g15)"/><rect x="531" y="30" width="1" height="481" fill="url(#g39)"/><rect x="532" y="30" width="1" height="481" fill="url(#g15)"/><rect x="533" y="30" width="1" height="481" fill="url(#g48)"/><rect x="534" y="30" width="1" height="481" fill="url(#g53)"/><rect x="535" y="30" width="1" height="481" fill="url(#g0)"/><rect x="536" y="30" width="1" height="481" fill="url(#g58)"/><rect x="537" y="30" width="1" height="481" fill="url(#g54)"/><rect x="538" y="30" width="1" height="481" fill="url(#g59)"/><rect x="539" y="30" width="1" height="481" fill="url(#g9)"/><rect x="540" y="30" width="1" height="481" fill="url(#g44)"/><rect x="541" y="30" width="1" height="481" fill="url(#g0)"/><rect x="542" y="30" width="1" height="481" fill="url(#g18)"/><rect x="543" y="30" width="1" height="481" fill="url(#g16)"/><rect x="544" y="30" width="1" height="481" fill="url(#g39)"/><rect x="545" y="30" width="3" height="481" fill="url(#g25)"/><rect x="548" y="30" width="1" height="481" fill="url(#g2)"/><rect x="549" y="30" width="1" height="481" fill="url(#g34)"/><rect x="550" y="30" width="1" height="481" fill="url(#g59)"/><rect x="551" y="30" width="1" height="481" fill="url(#g8)"/><rect x="552" y="30" width="1" height="481" fill="url(#g62)"/><rect x="553" y="30" width="1" height="481" fill="url(#g58)"/><rect x="554" y="30" width="1" height="481" fill="url(#g55)"/><rect x="555" y="30" width="2" height="481" fill="url(#g1)"/><rect x="557" y="30" width="1" height="481" fill="url(#g9)"/><rect x="558" y="30" width="1" height="481" fill="url(#g0)"/><rect x="559" y="30" width="1" height="481" fill="url(#g8)"/><rect x="560" y="30" width="1" height="481" fill="url(#g7)"/><rect x="561" y="30" width="1" height="481" fill="url(#g34)"/><rect x="562" y="30" width="1" height="481" fill="url(#g39)"/><rect x="563" y="30" width="1" height="481" fill="url(#g23)"/><rect x="564" y="30" width="1" height="481" fill="url(#g42)"/><rect x="565" y="30" width="1" height="481" fill="url(#g36)"/><rect x="566" y="30" width="1" height="481" fill="url(#g32)"/><rect x="567" y="30" width="1" height="481" fill="url(#g49)"/><rect x="568" y="30" width="1" height="481" fill="url(#g23)"/><rect x="569" y="30" width="1" height="481" fill="url(#g42)"/><rect x="570" y="30" width="1" height="481" fill="url(#g55)"/><rect x="571" y="30" width="1" height="481" fill="url(#g8)"/><rect x="572" y="30" width="1" height="481" fill="url(#g61)"/><rect x="573" y="30" width="1" height="481" fill="url(#g19)"/><rect x="574" y="30" width="1" height="481" fill="url(#g16)"/><rect x="575" y="30" width="1" height="481" fill="url(#g35)"/><rect x="576" y="30" width="1" height="481" fill="url(#g39)"/><rect x="577" y="30" width="1" height="481" fill="url(#g15)"/><rect x="578" y="30" width="1" height="481" fill="url(#g42)"/><rect x="579" y="30" width="1" height="481" fill="url(#g53)"/><rect x="580" y="30" width="1" height="481" fill="url(#g44)"/><rect x="581" y="30" width="1" height="481" fill="url(#g63)"/><rect x="582" y="30" width="1" height="481" fill="url(#g55)"/><rect x="583" y="30" width="1" height="481" fill="url(#g32)"/><rect x="584" y="30" width="1" height="481" fill="url(#g52)"/><rect x="585" y="30" width="1" height="481" fill="url(#g18)"/><rect x="586" y="30" width="1" height="481" fill="url(#g36)"/><rect x="587" y="30" width="1" height="481" fill="url(#g31)"/><rect x="588" y="30" width="2" height="481" fill="url(#g14)"/><rect x="590" y="30" width="1" height="481" fill="url(#g53)"/><rect x="591" y="30" width="1" height="481" fill="url(#g46)"/><rect x="592" y="30" width="1" height="481" fill="url(#g10)"/><rect x="593" y="30" width="1" height="481" fill="url(#g30)"/><rect x="594" y="30" width="1" height="481" fill="url(#g13)"/><rect x="595" y="30" width="1" height="481" fill="url(#g48)"/><rect x="596" y="30" width="1" height="481" fill="url(#g42)"/><rect x="597" y="30" width="1" height="481" fill="url(#g17)"/><rect x="598" y="30" width="1" height="481" fill="url(#g0)"/><rect x="599" y="30" width="1" height="481" fill="url(#g56)"/><rect x="600" y="30" width="1" height="481" fill="url(#g59)"/><rect x="601" y="30" width="1" height="481" fill="url(#g34)"/><rect x="602" y="30" width="1" height="481" fill="url(#g15)"/><rect x="603" y="30" width="1" height="481" fill="url(#g42)"/><rect x="604" y="30" width="1" height="481" fill="url(#g17)"/><rect x="605" y="30" width="1" height="481" fill="url(#g0)"/><rect x="606" y="30" width="1" height="481" fill="url(#g56)"/><rect x="607" y="30" width="1" height="481" fill="url(#g7)"/><rect x="608" y="30" width="1" height="481" fill="url(#g18)"/><rect x="609" y="30" width="1" height="481" fill="url(#g20)"/><rect x="610" y="30" width="1" height="481" fill="url(#g24)"/><rect x="611" y="30" width="1" height="481" fill="url(#g29)"/><rect x="612" y="30" width="2" height="481" fill="url(#g35)"/><rect x="614" y="30" width="1" height="481" fill="url(#g23)"/><rect x="615" y="30" width="1" height="481" fill="url(#g36)"/><rect x="616" y="30" width="1" height="481" fill="url(#g61)"/><rect x="617" y="30" width="1" height="481" fill="url(#g57)"/><rect x="618" y="30" width="1" height="481" fill="url(#g53)"/><rect x="619" y="30" width="1" height="481" fill="url(#g42)"/><rect x="620" y="30" width="1" height="481" fill="url(#g34)"/><rect x="621" y="30" width="1" height="481" fill="url(#g23)"/><rect x="622" y="30" width="1" height="481" fill="url(#g1)"/><rect x="623" y="30" width="1" height="481" fill="url(#g36)"/><rect x="624" y="30" width="1" height="481" fill="url(#g42)"/><rect x="625" y="30" width="1" height="481" fill="url(#g48)"/><rect x="626" y="30" width="1" height="481" fill="url(#g53)"/><rect x="627" y="30" width="1" height="481" fill="url(#g0)"/><rect x="628" y="30" width="1" height="481" fill="url(#g63)"/><rect x="629" y="30" width="1" height="481" fill="url(#g54)"/><rect x="630" y="30" width="1" height="481" fill="url(#g34)"/><rect x="631" y="30" width="2" height="481" fill="url(#g39)"/><rect x="633" y="30" width="1" height="481" fill="url(#g16)"/><rect x="634" y="30" width="1" height="481" fill="url(#g52)"/><rect x="635" y="30" width="1" height="481" fill="url(#g12)"/><rect x="636" y="30" width="1" height="481" fill="url(#g3)"/><rect x="637" y="30" width="1" height="481" fill="url(#g29)"/><rect x="638" y="30" width="1" height="481" fill="url(#g39)"/><rect x="639" y="30" width="9" height="481" fill="url(#g25)"/><rect x="648" y="30" width="2" height="481" fill="url(#g2)"/><rect x="650" y="30" width="1" height="481" fill="url(#g35)"/><rect x="651" y="30" width="1" height="481" fill="url(#g23)"/><rect x="652" y="30" width="1" height="481" fill="url(#g54)"/><rect x="653" y="30" width="1" height="481" fill="url(#g63)"/><rect x="654" y="30" width="1" height="481" fill="url(#g0)"/><rect x="655" y="30" width="1" height="481" fill="url(#g9)"/><rect x="656" y="30" width="1" height="481" fill="url(#g42)"/><rect x="657" y="30" width="1" height="481" fill="url(#g54)"/><rect x="658" y="30" width="1" height="481" fill="url(#g41)"/><rect x="659" y="30" width="1" height="481" fill="url(#g51)"/><rect x="660" y="30" width="1" height="481" fill="url(#g61)"/><rect x="661" y="30" width="1" height="481" fill="url(#g45)"/><rect x="662" y="30" width="1" height="481" fill="url(#g48)"/><rect x="663" y="30" width="1" height="481" fill="url(#g59)"/><rect x="664" y="30" width="1" height="481" fill="url(#g48)"/><rect x="665" y="30" width="1" height="481" fill="url(#g36)"/><rect x="666" y="30" width="1" height="481" fill="url(#g18)"/><rect x="667" y="30" width="1" height="481" fill="url(#g52)"/><rect x="668" y="30" width="1" height="481" fill="url(#g21)"/><rect x="669" y="30" width="1" height="481" fill="url(#g36)"/><rect x="670" y="30" width="1" height="481" fill="url(#g48)"/><rect x="671" y="30" width="1" height="481" fill="url(#g15)"/><rect x="672" y="30" width="1" height="481" fill="url(#g23)"/><rect x="673" y="30" width="1" height="481" fill="url(#g22)"/><rect x="674" y="30" width="1" height="481" fill="url(#g24)"/><rect x="675" y="30" width="1" height="481" fill="url(#g3)"/><rect x="676" y="30" width="1" height="481" fill="url(#g23)"/><rect x="677" y="30" width="2" height="481" fill="url(#g39)"/><rect x="679" y="30" width="1" height="481" fill="url(#g23)"/><rect x="680" y="30" width="1" height="481" fill="url(#g3)"/><rect x="681" y="30" width="1" height="481" fill="url(#g12)"/><rect x="682" y="30" width="1" height="481" fill="url(#g3)"/><rect x="683" y="30" width="1" height="481" fill="url(#g23)"/><rect x="684" y="30" width="1" height="481" fill="url(#g48)"/><rect x="685" y="30" width="1" height="481" fill="url(#g9)"/><rect x="686" y="30" width="1" height="481" fill="url(#g0)"/><rect x="687" y="30" width="1" height="481" fill="url(#g58)"/><rect x="688" y="30" width="1" height="481" fill="url(#g50)"/><rect x="689" y="30" width="1" height="481" fill="url(#g7)"/><rect x="690" y="30" width="1" height="481" fill="url(#g21)"/><rect x="691" y="30" width="1" height="481" fill="url(#g55)"/><rect x="692" y="30" width="1" height="481" fill="url(#g8)"/><rect x="693" y="30" width="1" height="481" fill="url(#g56)"/><rect x="694" y="30" width="1" height="481" fill="url(#g19)"/><rect x="695" y="30" width="1" height="481" fill="url(#g48)"/><rect x="696" y="30" width="1" height="481" fill="url(#g15)"/><rect x="697" y="30" width="2" height="481" fill="url(#g2)"/><rect x="699" y="30" width="1" height="481" fill="url(#g35)"/><rect x="700" y="30" width="1" height="481" fill="url(#g34)"/><rect x="701" y="30" width="1" height="481" fill="url(#g48)"/><rect x="702" y="30" width="1" height="481" fill="url(#g19)"/><rect x="703" y="30" width="1" height="481" fill="url(#g47)"/><rect x="704" y="30" width="1" height="481" fill="url(#g33)"/><rect x="705" y="30" width="1" height="481" fill="url(#g43)"/><rect x="706" y="30" width="1" height="481" fill="url(#g47)"/><rect x="707" y="30" width="1" height="481" fill="url(#g9)"/><rect x="708" y="30" width="1" height="481" fill="url(#g44)"/><rect x="709" y="30" width="1" height="481" fill="url(#g62)"/><rect x="710" y="30" width="1" height="481" fill="url(#g17)"/><rect x="711" y="30" width="1" height="481" fill="url(#g61)"/><rect x="712" y="30" width="1" height="481" fill="url(#g0)"/><rect x="713" y="30" width="1" height="481" fill="url(#g58)"/><rect x="714" y="30" width="1" height="481" fill="url(#g19)"/><rect x="715" y="30" width="1" height="481" fill="url(#g34)"/><rect x="716" y="30" width="1" height="481" fill="url(#g45)"/><rect x="717" y="30" width="1" height="481" fill="url(#g9)"/><rect x="718" y="30" width="1" height="481" fill="url(#g0)"/><rect x="719" y="30" width="1" height="481" fill="url(#g28)"/><rect x="720" y="30" width="1" height="481" fill="url(#g36)"/><rect x="721" y="30" width="1" height="481" fill="url(#g15)"/><rect x="722" y="30" width="1" height="481" fill="url(#g23)"/><rect x="723" y="30" width="1" height="481" fill="url(#g22)"/><rect x="724" y="30" width="1" height="481" fill="url(#g18)"/><rect x="725" y="30" width="1" height="481" fill="url(#g52)"/><rect x="726" y="30" width="1" height="481" fill="url(#g1)"/><rect x="727" y="30" width="1" height="481" fill="url(#g34)"/><rect x="728" y="30" width="1" height="481" fill="url(#g50)"/><rect x="729" y="30" width="1" height="481" fill="url(#g58)"/><rect x="730" y="30" width="1" height="481" fill="url(#g0)"/><rect x="731" y="30" width="1" height="481" fill="url(#g53)"/><rect x="732" y="30" width="1" height="481" fill="url(#g42)"/><rect x="733" y="30" width="1" height="481" fill="url(#g59)"/><rect x="734" y="30" width="1" height="481" fill="url(#g48)"/><rect x="735" y="30" width="1" height="481" fill="url(#g23)"/><rect x="736" y="30" width="2" height="481" fill="url(#g35)"/><rect x="738" y="30" width="1" height="481" fill="url(#g23)"/><rect x="739" y="30" width="1" height="481" fill="url(#g22)"/><rect x="740" y="30" width="1" height="481" fill="url(#g24)"/><rect x="741" y="30" width="1" height="481" fill="url(#g54)"/><rect x="742" y="30" width="1" height="481" fill="url(#g13)"/><rect x="743" y="30" width="1" height="481" fill="url(#g14)"/><rect x="744" y="30" width="1" height="481" fill="url(#g13)"/><rect x="745" y="30" width="1" height="481" fill="url(#g56)"/><rect x="746" y="30" width="1" height="481" fill="url(#g62)"/><rect x="747" y="30" width="1" height="481" fill="url(#g4)"/><rect x="748" y="30" width="1" height="481" fill="url(#g7)"/><rect x="749" y="30" width="1" height="481" fill="url(#g15)"/><rect x="750" y="30" width="1" height="481" fill="url(#g39)"/><rect x="751" y="30" width="1" height="481" fill="url(#g35)"/><rect x="752" y="30" width="1" height="481" fill="url(#g23)"/><rect x="753" y="30" width="1" height="481" fill="url(#g1)"/><rect x="754" y="30" width="1" height="481" fill="url(#g36)"/><rect x="755" y="30" width="1" height="481" fill="url(#g42)"/><rect x="756" y="30" width="1" height="481" fill="url(#g16)"/><rect x="757" y="30" width="1" height="481" fill="url(#g9)"/><rect x="758" y="30" width="1" height="481" fill="url(#g0)"/><rect x="759" y="30" width="1" height="481" fill="url(#g58)"/><rect x="760" y="30" width="1" height="481" fill="url(#g50)"/><rect x="761" y="30" width="2" height="481" fill="url(#g48)"/><rect x="763" y="30" width="1" height="481" fill="url(#g9)"/><rect x="764" y="30" width="1" height="481" fill="url(#g0)"/><rect x="765" y="30" width="1" height="481" fill="url(#g28)"/><rect x="766" y="30" width="1" height="481" fill="url(#g19)"/><rect x="767" y="30" width="2" height="481" fill="url(#g34)"/><rect x="769" y="30" width="1" height="481" fill="url(#g31)"/><rect x="770" y="30" width="1" height="481" fill="url(#g38)"/><rect x="771" y="30" width="1" height="481" fill="url(#g43)"/><rect x="772" y="30" width="1" height="481" fill="url(#g5)"/><rect x="773" y="30" width="1" height="481" fill="url(#g14)"/><rect x="774" y="30" width="1" height="481" fill="url(#g7)"/><rect x="775" y="30" width="2" height="481" fill="url(#g52)"/><rect x="777" y="30" width="1" height="481" fill="url(#g16)"/><rect x="778" y="30" width="1" height="481" fill="url(#g15)"/><rect x="779" y="30" width="1" height="481" fill="url(#g34)"/><rect x="780" y="30" width="1" height="481" fill="url(#g31)"/><rect x="781" y="30" width="1" height="481" fill="url(#g47)"/><rect x="782" y="30" width="2" height="481" fill="url(#g33)"/><rect x="784" y="30" width="1" height="481" fill="url(#g61)"/><rect x="785" y="30" width="1" height="481" fill="url(#g42)"/><rect x="786" y="30" width="1" height="481" fill="url(#g35)"/><rect x="787" y="30" width="2" height="481" fill="url(#g2)"/><rect x="789" y="30" width="9" height="481" fill="url(#g25)"/><rect x="798" y="30" width="1" height="481" fill="url(#g39)"/><rect x="799" y="30" width="1" height="481" fill="url(#g15)"/><rect x="800" y="30" width="1" height="481" fill="url(#g16)"/><rect x="801" y="30" width="2" height="481" fill="url(#g52)"/><rect x="803" y="30" width="1" height="481" fill="url(#g16)"/><rect x="804" y="30" width="1" height="481" fill="url(#g48)"/><rect x="805" y="30" width="2" height="481" fill="url(#g59)"/><rect x="807" y="30" width="1" height="481" fill="url(#g18)"/><rect x="808" y="30" width="1" height="481" fill="url(#g51)"/><rect x="809" y="30" width="1" height="481" fill="url(#g11)"/><rect x="810" y="30" width="1" height="481" fill="url(#g17)"/><rect x="811" y="30" width="1" height="481" fill="url(#g42)"/><rect x="812" y="30" width="1" height="481" fill="url(#g15)"/><rect x="813" y="30" width="2" height="481" fill="url(#g25)"/><rect x="815" y="30" width="1" height="481" fill="url(#g39)"/><rect x="816" y="30" width="1" height="481" fill="url(#g16)"/><rect x="817" y="30" width="1" height="481" fill="url(#g9)"/><rect x="818" y="30" width="1" height="481" fill="url(#g44)"/><rect x="819" y="30" width="1" height="481" fill="url(#g57)"/><rect x="820" y="30" width="1" height="481" fill="url(#g19)"/><rect x="821" y="30" width="2" height="481" fill="url(#g34)"/><rect x="823" y="30" width="1" height="481" fill="url(#g32)"/><rect x="824" y="30" width="1" height="481" fill="url(#g18)"/><rect x="825" y="30" width="1" height="481" fill="url(#g22)"/><rect x="826" y="30" width="1" height="481" fill="url(#g23)"/><rect x="827" y="30" width="1" height="481" fill="url(#g35)"/><rect x="828" y="30" width="1" height="481" fill="url(#g1)"/><rect x="829" y="30" width="1" height="481" fill="url(#g50)"/><rect x="830" y="30" width="1" height="481" fill="url(#g4)"/><rect x="831" y="30" width="1" height="481" fill="url(#g62)"/><rect x="832" y="30" width="1" height="481" fill="url(#g17)"/><rect x="833" y="30" width="1" height="481" fill="url(#g36)"/><rect x="834" y="30" width="1" height="481" fill="url(#g7)"/><rect x="835" y="30" width="1" height="481" fill="url(#g61)"/><rect x="836" y="30" width="1" height="481" fill="url(#g0)"/><rect x="837" y="30" width="1" height="481" fill="url(#g8)"/><rect x="838" y="30" width="1" height="481" fill="url(#g1)"/><rect x="839" y="30" width="2" height="481" fill="url(#g15)"/><rect x="841" y="30" width="1" height="481" fill="url(#g48)"/><rect x="842" y="30" width="1" height="481" fill="url(#g59)"/><rect x="843" y="30" width="1" height="481" fill="url(#g22)"/><rect x="844" y="30" width="1" height="481" fill="url(#g52)"/><rect x="845" y="30" width="1" height="481" fill="url(#g3)"/><rect x="846" y="30" width="1" height="481" fill="url(#g42)"/><rect x="847" y="30" width="1" height="481" fill="url(#g34)"/><rect x="848" y="30" width="1" height="481" fill="url(#g59)"/><rect x="849" y="30" width="1" height="481" fill="url(#g17)"/><rect x="850" y="30" width="1" height="481" fill="url(#g62)"/><rect x="851" y="30" width="1" height="481" fill="url(#g8)"/><rect x="852" y="30" width="1" height="481" fill="url(#g7)"/><rect x="853" y="30" width="1" height="481" fill="url(#g23)"/><rect x="854" y="30" width="1" height="481" fill="url(#g42)"/><rect x="855" y="30" width="1" height="481" fill="url(#g59)"/><rect x="856" y="30" width="1" height="481" fill="url(#g42)"/><rect x="857" y="30" width="1" height="481" fill="url(#g1)"/><rect x="858" y="30" width="1" height="481" fill="url(#g36)"/><rect x="859" y="30" width="1" height="481" fill="url(#g59)"/><rect x="860" y="30" width="1" height="481" fill="url(#g48)"/><rect x="861" y="30" width="1" height="481" fill="url(#g59)"/><rect x="862" y="30" width="1" height="481" fill="url(#g17)"/><rect x="863" y="30" width="1" height="481" fill="url(#g62)"/><rect x="864" y="30" width="1" height="481" fill="url(#g8)"/><rect x="865" y="30" width="1" height="481" fill="url(#g59)"/><rect x="866" y="30" width="1" height="481" fill="url(#g15)"/><rect x="867" y="30" width="1" height="481" fill="url(#g39)"/><rect x="868" y="30" width="1" height="481" fill="url(#g25)"/><rect x="869" y="30" width="1" height="481" fill="url(#g39)"/><rect x="870" y="30" width="1" height="481" fill="url(#g23)"/><rect x="871" y="30" width="1" height="481" fill="url(#g3)"/><rect x="872" y="30" width="1" height="481" fill="url(#g18)"/><rect x="873" y="30" width="1" height="481" fill="url(#g32)"/><rect x="874" y="30" width="1" height="481" fill="url(#g34)"/><rect x="875" y="30" width="1" height="481" fill="url(#g39)"/><rect x="876" y="30" width="1" height="481" fill="url(#g15)"/><rect x="877" y="30" width="1" height="481" fill="url(#g48)"/><rect x="878" y="30" width="1" height="481" fill="url(#g36)"/><rect x="879" y="30" width="2" height="481" fill="url(#g3)"/><rect x="881" y="30" width="1" height="481" fill="url(#g1)"/><rect x="882" y="30" width="1" height="481" fill="url(#g36)"/><rect x="883" y="30" width="1" height="481" fill="url(#g3)"/><rect x="884" y="30" width="1" height="481" fill="url(#g52)"/><rect x="885" y="30" width="2" height="481" fill="url(#g49)"/><rect x="887" y="30" width="1" height="481" fill="url(#g36)"/><rect x="888" y="30" width="1" height="481" fill="url(#g8)"/><rect x="889" y="30" width="1" height="481" fill="url(#g11)"/><rect x="890" y="30" width="1" height="481" fill="url(#g41)"/><rect x="891" y="30" width="1" height="481" fill="url(#g54)"/><rect x="892" y="30" width="1" height="481" fill="url(#g23)"/><rect x="893" y="30" width="2" height="481" fill="url(#g39)"/><rect x="895" y="30" width="1" height="481" fill="url(#g34)"/><rect x="896" y="30" width="1" height="481" fill="url(#g32)"/><rect x="897" y="30" width="2" height="481" fill="url(#g18)"/><rect x="899" y="30" width="1" height="481" fill="url(#g49)"/><rect x="900" y="30" width="1" height="481" fill="url(#g35)"/><rect x="901" y="30" width="2" height="481" fill="url(#g25)"/><rect x="903" y="30" width="1" height="481" fill="url(#g39)"/><rect x="904" y="30" width="1" height="481" fill="url(#g15)"/><rect x="905" y="30" width="1" height="481" fill="url(#g16)"/><rect x="906" y="30" width="1" height="481" fill="url(#g1)"/><rect x="907" y="30" width="1" height="481" fill="url(#g48)"/><rect x="908" y="30" width="2" height="481" fill="url(#g15)"/><rect x="910" y="30" width="1" height="481" fill="url(#g34)"/><rect x="911" y="30" width="2" height="481" fill="url(#g42)"/><rect x="913" y="30" width="1" height="481" fill="url(#g59)"/><rect x="914" y="30" width="1" height="481" fill="url(#g61)"/><rect x="915" y="30" width="2" height="481" fill="url(#g33)"/><rect x="917" y="30" width="1" height="481" fill="url(#g47)"/><rect x="918" y="30" width="1" height="481" fill="url(#g31)"/><rect x="919" y="30" width="1" height="481" fill="url(#g34)"/><rect x="920" y="30" width="1" height="481" fill="url(#g48)"/><rect x="921" y="30" width="1" height="481" fill="url(#g55)"/><rect x="922" y="30" width="1" height="481" fill="url(#g0)"/><rect x="923" y="30" width="1" height="481" fill="url(#g63)"/><rect x="924" y="30" width="1" height="481" fill="url(#g54)"/><rect x="925" y="30" width="1" height="481" fill="url(#g34)"/><rect x="926" y="30" width="1" height="481" fill="url(#g39)"/><rect x="927" y="30" width="1" height="481" fill="url(#g25)"/><rect x="928" y="30" width="1" height="481" fill="url(#g39)"/><rect x="929" y="30" width="1" height="481" fill="url(#g34)"/><rect x="930" y="30" width="1" height="481" fill="url(#g7)"/><rect x="931" y="30" width="1" height="481" fill="url(#g38)"/><rect x="932" y="30" width="1" height="481" fill="url(#g43)"/><rect x="933" y="30" width="1" height="481" fill="url(#g5)"/><rect x="934" y="30" width="1" height="481" fill="url(#g14)"/><rect x="935" y="30" width="1" height="481" fill="url(#g45)"/><rect x="936" y="30" width="1" height="481" fill="url(#g23)"/><rect x="937" y="30" width="1" height="481" fill="url(#g35)"/><rect x="938" y="30" width="1" height="481" fill="url(#g2)"/><rect x="939" y="30" width="2" height="481" fill="url(#g25)"/><rect x="941" y="30" width="2" height="481" fill="url(#g2)"/><rect x="943" y="30" width="1" height="481" fill="url(#g35)"/><rect x="944" y="30" width="1" height="481" fill="url(#g34)"/><rect x="945" y="30" width="1" height="481" fill="url(#g32)"/><rect x="946" y="30" width="1" height="481" fill="url(#g18)"/><rect x="947" y="30" width="1" height="481" fill="url(#g22)"/><rect x="948" y="30" width="1" height="481" fill="url(#g23)"/><rect x="949" y="30" width="1" height="481" fill="url(#g45)"/><rect x="950" y="30" width="1" height="481" fill="url(#g14)"/><rect x="951" y="30" width="1" height="481" fill="url(#g30)"/><rect x="952" y="30" width="1" height="481" fill="url(#g10)"/><rect x="953" y="30" width="1" height="481" fill="url(#g37)"/><rect x="954" y="30" width="1" height="481" fill="url(#g50)"/><rect x="955" y="30" width="1" height="481" fill="url(#g13)"/><rect x="956" y="30" width="1" height="481" fill="url(#g61)"/><rect x="957" y="30" width="1" height="481" fill="url(#g58)"/><rect x="958" y="30" width="1" height="481" fill="url(#g20)"/><rect x="959" y="30" width="1" height="481" fill="url(#g18)"/><rect x="960" y="30" width="1" height="481" fill="url(#g42)"/><rect x="961" y="30" width="1" height="481" fill="url(#g34)"/><rect x="962" y="30" width="1" height="481" fill="url(#g39)"/><rect x="963" y="30" width="2" height="481" fill="url(#g2)"/><rect x="965" y="30" width="1" height="481" fill="url(#g15)"/><rect x="966" y="30" width="1" height="481" fill="url(#g16)"/><rect x="967" y="30" width="1" height="481" fill="url(#g9)"/><rect x="968" y="30" width="1" height="481" fill="url(#g0)"/><rect x="969" y="30" width="1" height="481" fill="url(#g4)"/><rect x="970" y="30" width="1" height="481" fill="url(#g7)"/><rect x="971" y="30" width="1" height="481" fill="url(#g34)"/><rect x="972" y="30" width="1" height="481" fill="url(#g39)"/><rect x="973" y="30" width="1" height="481" fill="url(#g25)"/><rect x="974" y="30" width="1" height="481" fill="url(#g39)"/><rect x="975" y="30" width="1" height="481" fill="url(#g34)"/><rect x="976" y="30" width="1" height="481" fill="url(#g50)"/><rect x="977" y="30" width="1" height="481" fill="url(#g37)"/><rect x="978" y="30" width="1" height="481" fill="url(#g27)"/><rect x="979" y="30" width="1" height="481" fill="url(#g30)"/><rect x="980" y="30" width="1" height="481" fill="url(#g60)"/><rect x="981" y="30" width="1" height="481" fill="url(#g28)"/><rect x="982" y="30" width="1" height="481" fill="url(#g58)"/><rect x="983" y="30" width="1" height="481" fill="url(#g61)"/><rect x="984" y="30" width="1" height="481" fill="url(#g31)"/><rect x="985" y="30" width="1" height="481" fill="url(#g48)"/><rect x="986" y="30" width="2" height="481" fill="url(#g29)"/><rect x="988" y="30" width="1" height="481" fill="url(#g2)"/><rect x="989" y="30" width="4" height="481" fill="url(#g25)"/><rect x="993" y="30" width="1" height="481" fill="url(#g39)"/><rect x="994" y="30" width="1" height="481" fill="url(#g16)"/><rect x="995" y="30" width="2" height="481" fill="url(#g52)"/><rect x="997" y="30" width="1" height="481" fill="url(#g16)"/><rect x="998" y="30" width="1" height="481" fill="url(#g15)"/><rect x="999" y="30" width="1" height="481" fill="url(#g39)"/><rect x="1000" y="30" width="1" height="481" fill="url(#g15)"/><rect x="1001" y="30" width="1" height="481" fill="url(#g48)"/><rect x="1002" y="30" width="1" height="481" fill="url(#g9)"/><rect x="1003" y="30" width="1" height="481" fill="url(#g0)"/><rect x="1004" y="30" width="1" height="481" fill="url(#g4)"/><rect x="1005" y="30" width="1" height="481" fill="url(#g36)"/><rect x="1006" y="30" width="1" height="481" fill="url(#g15)"/><rect x="1007" y="30" width="1" height="481" fill="url(#g35)"/><rect x="1008" y="30" width="3" height="481" fill="url(#g2)"/><rect x="1011" y="30" width="1" height="481" fill="url(#g15)"/><rect x="1012" y="30" width="1" height="481" fill="url(#g48)"/><rect x="1013" y="30" width="1" height="481" fill="url(#g14)"/><rect x="1014" y="30" width="1" height="481" fill="url(#g5)"/><rect x="1015" y="30" width="1" height="481" fill="url(#g10)"/><rect x="1016" y="30" width="1" height="481" fill="url(#g38)"/><rect x="1017" y="30" width="1" height="481" fill="url(#g31)"/><rect x="1018" y="30" width="2" height="481" fill="url(#g34)"/><rect x="1020" y="30" width="1" height="481" fill="url(#g48)"/><rect x="1021" y="30" width="1" height="481" fill="url(#g42)"/><rect x="1022" y="30" width="1" height="481" fill="url(#g34)"/><rect x="1023" y="30" width="1" height="481" fill="url(#g15)"/><rect x="1024" y="30" width="1" height="481" fill="url(#g35)"/><rect x="1025" y="30" width="1" height="481" fill="url(#g49)"/><rect x="1026" y="30" width="1" height="481" fill="url(#g24)"/><rect x="1027" y="30" width="1" height="481" fill="url(#g18)"/><rect x="1028" y="30" width="1" height="481" fill="url(#g42)"/><rect x="1029" y="30" width="1" height="481" fill="url(#g34)"/><rect x="1030" y="30" width="2" height="481" fill="url(#g42)"/><rect x="1032" y="30" width="1" height="481" fill="url(#g48)"/><rect x="1033" y="30" width="1" height="481" fill="url(#g34)"/><rect x="1034" y="30" width="1" height="481" fill="url(#g29)"/><rect x="1035" y="30" width="1" height="481" fill="url(#g49)"/><rect x="1036" y="30" width="1" height="481" fill="url(#g29)"/><rect x="1037" y="30" width="1" height="481" fill="url(#g23)"/><rect x="1038" y="30" width="1" height="481" fill="url(#g42)"/><rect x="1039" y="30" width="1" height="481" fill="url(#g22)"/><rect x="1040" y="30" width="1" height="481" fill="url(#g52)"/><rect x="1041" y="30" width="1" height="481" fill="url(#g49)"/><rect x="1042" y="30" width="1" height="481" fill="url(#g35)"/><rect x="1043" y="30" width="2" height="481" fill="url(#g25)"/><rect x="1045" y="30" width="1" height="481" fill="url(#g39)"/><rect x="1046" y="30" width="1" height="481" fill="url(#g34)"/><rect x="1047" y="30" width="1" height="481" fill="url(#g59)"/><rect x="1048" y="30" width="1" height="481" fill="url(#g56)"/><rect x="1049" y="30" width="1" height="481" fill="url(#g0)"/><rect x="1050" y="30" width="1" height="481" fill="url(#g8)"/><rect x="1051" y="30" width="1" height="481" fill="url(#g13)"/><rect x="1052" y="30" width="1" height="481" fill="url(#g14)"/><rect x="1053" y="30" width="1" height="481" fill="url(#g13)"/><rect x="1054" y="30" width="1" height="481" fill="url(#g45)"/><rect x="1055" y="30" width="1" height="481" fill="url(#g48)"/><rect x="1056" y="30" width="1" height="481" fill="url(#g13)"/><rect x="1057" y="30" width="1" height="481" fill="url(#g46)"/><rect x="1058" y="30" width="1" height="481" fill="url(#g10)"/><rect x="1059" y="30" width="1" height="481" fill="url(#g46)"/><rect x="1060" y="30" width="1" height="481" fill="url(#g13)"/><rect x="1061" y="30" width="1" height="481" fill="url(#g48)"/><rect x="1062" y="30" width="1" height="481" fill="url(#g29)"/><rect x="1063" y="30" width="1" height="481" fill="url(#g22)"/><rect x="1064" y="30" width="1" height="481" fill="url(#g24)"/><rect x="1065" y="30" width="1" height="481" fill="url(#g52)"/><rect x="1066" y="30" width="1" height="481" fill="url(#g16)"/><rect x="1067" y="30" width="1" height="481" fill="url(#g15)"/><rect x="1068" y="30" width="1" height="481" fill="url(#g39)"/><rect x="1069" y="30" width="1" height="481" fill="url(#g34)"/><rect x="1070" y="30" width="1" height="481" fill="url(#g19)"/><rect x="1071" y="30" width="1" height="481" fill="url(#g46)"/><rect x="1072" y="30" width="1" height="481" fill="url(#g10)"/><rect x="1073" y="30" width="1" height="481" fill="url(#g30)"/><rect x="1074" y="30" width="1" height="481" fill="url(#g14)"/><rect x="1075" y="30" width="1" height="481" fill="url(#g45)"/><rect x="1076" y="30" width="1" height="481" fill="url(#g34)"/><rect x="1077" y="30" width="1" height="481" fill="url(#g48)"/><rect x="1078" y="30" width="1" height="481" fill="url(#g42)"/><rect x="1079" y="30" width="1" height="481" fill="url(#g34)"/><rect x="1080" y="30" width="2" height="481" fill="url(#g15)"/><rect x="1082" y="30" width="1" height="481" fill="url(#g1)"/><rect x="1083" y="30" width="1" height="481" fill="url(#g18)"/><rect x="1084" y="30" width="1" height="481" fill="url(#g3)"/><rect x="1085" y="30" width="1" height="481" fill="url(#g23)"/><rect x="1086" y="30" width="1" height="481" fill="url(#g48)"/><rect x="1087" y="30" width="1" height="481" fill="url(#g31)"/><rect x="1088" y="30" width="1" height="481" fill="url(#g61)"/><rect x="1089" y="30" width="1" height="481" fill="url(#g8)"/><rect x="1090" y="30" width="1" height="481" fill="url(#g17)"/><rect x="1091" y="30" width="1" height="481" fill="url(#g32)"/><rect x="1092" y="30" width="1" height="481" fill="url(#g59)"/><rect x="1093" y="30" width="1" height="481" fill="url(#g17)"/><rect x="1094" y="30" width="1" height="481" fill="url(#g62)"/><rect x="1095" y="30" width="1" height="481" fill="url(#g8)"/><rect x="1096" y="30" width="1" height="481" fill="url(#g59)"/><rect x="1097" y="30" width="1" height="481" fill="url(#g34)"/><rect x="1098" y="30" width="1" height="481" fill="url(#g39)"/><rect x="1099" y="30" width="1" height="481" fill="url(#g23)"/><rect x="1100" y="30" width="1" height="481" fill="url(#g1)"/><rect x="1101" y="30" width="1" height="481" fill="url(#g3)"/><rect x="1102" y="30" width="1" height="481" fill="url(#g18)"/><rect x="1103" y="30" width="1" height="481" fill="url(#g49)"/><rect x="1104" y="30" width="1" height="481" fill="url(#g35)"/><rect x="1105" y="30" width="2" height="481" fill="url(#g25)"/><rect x="1107" y="30" width="4" height="481" fill="url(#g2)"/><rect x="1111" y="30" width="1" height="481" fill="url(#g39)"/><rect x="1112" y="30" width="1" height="481" fill="url(#g48)"/><rect x="1113" y="30" width="1" height="481" fill="url(#g9)"/><rect x="1114" y="30" width="1" height="481" fill="url(#g0)"/><rect x="1115" y="30" width="1" height="481" fill="url(#g4)"/><rect x="1116" y="30" width="1" height="481" fill="url(#g19)"/><rect x="1117" y="30" width="2" height="481" fill="url(#g34)"/><rect x="1119" y="30" width="1" height="481" fill="url(#g48)"/><rect x="1120" y="30" width="1" height="481" fill="url(#g59)"/><rect x="1121" y="30" width="1" height="481" fill="url(#g42)"/><rect x="1122" y="30" width="1" height="481" fill="url(#g3)"/><rect x="1123" y="30" width="1" height="481" fill="url(#g24)"/><rect x="1124" y="30" width="1" height="481" fill="url(#g3)"/><rect x="1125" y="30" width="1" height="481" fill="url(#g1)"/><rect x="1126" y="30" width="1" height="481" fill="url(#g36)"/><rect x="1127" y="30" width="1" height="481" fill="url(#g21)"/><rect x="1128" y="30" width="1" height="481" fill="url(#g32)"/><rect x="1129" y="30" width="1" height="481" fill="url(#g59)"/><rect x="1130" y="30" width="1" height="481" fill="url(#g50)"/><rect x="1131" y="30" width="2" height="481" fill="url(#g56)"/><rect x="1133" y="30" width="1" height="481" fill="url(#g21)"/><rect x="1134" y="30" width="1" height="481" fill="url(#g34)"/><rect x="1135" y="30" width="1" height="481" fill="url(#g15)"/><rect x="1136" y="30" width="1" height="481" fill="url(#g34)"/><rect x="1137" y="30" width="1" height="481" fill="url(#g1)"/><rect x="1138" y="30" width="1" height="481" fill="url(#g36)"/><rect x="1139" y="30" width="1" height="481" fill="url(#g48)"/><rect x="1140" y="30" width="2" height="481" fill="url(#g15)"/><rect x="1142" y="30" width="1" height="481" fill="url(#g45)"/><rect x="1143" y="30" width="1" height="481" fill="url(#g53)"/><rect x="1144" y="30" width="1" height="481" fill="url(#g8)"/><rect x="1145" y="30" width="1" height="481" fill="url(#g53)"/><rect x="1146" y="30" width="1" height="481" fill="url(#g48)"/><rect x="1147" y="30" width="1" height="481" fill="url(#g15)"/><rect x="1148" y="30" width="1" height="481" fill="url(#g45)"/><rect x="1149" y="30" width="1" height="481" fill="url(#g60)"/><rect x="1150" y="30" width="2" height="481" fill="url(#g33)"/><rect x="1152" y="30" width="1" height="481" fill="url(#g40)"/><rect x="1153" y="30" width="1" height="481" fill="url(#g45)"/><rect x="1154" y="30" width="2" height="481" fill="url(#g34)"/><rect x="1156" y="30" width="2" height="481" fill="url(#g42)"/><rect x="1158" y="30" width="1" height="481" fill="url(#g48)"/><rect x="1159" y="30" width="1" height="481" fill="url(#g22)"/><rect x="1160" y="30" width="1" height="481" fill="url(#g18)"/><rect x="1161" y="30" width="1" height="481" fill="url(#g22)"/><rect x="1162" y="30" width="1" height="481" fill="url(#g16)"/><rect x="1163" y="30" width="1" height="481" fill="url(#g35)"/><rect x="1164" y="30" width="1" height="481" fill="url(#g2)"/><rect x="1229" y="30" width="25" height="481" fill="url(#cbg)"/></g><g fill="#000" shape-rendering="crispEdges"><rect x="120" y="30" width="1045" height="1"/><rect x="120" y="510" width="1045" height="1"/><rect x="120" y="30" width="1" height="481"/><rect x="1164" y="30" width="1" height="481"/><rect x="1229" y="30" width="25" height="1"/><rect x="1229" y="510" width="25" height="1"/><rect x="1229" y="30" width="1" height="481"/><rect x="1253" y="30" width="1" height="481"/><rect x="120" y="511" width="1" height="5"/><rect x="224" y="511" width="1" height="5"/><rect x="329" y="511" width="1" height="5"/><rect x="433" y="511" width="1" height="5"/><rect x="538" y="511" width="1" height="5"/><rect x="642" y="511" width="1" height="5"/><rect x="746" y="511" width="1" height="5"/><rect x="851" y="511" width="1" height="5"/><rect x="955" y="511" width="1" height="5"/><rect x="1060" y="511" width="1" height="5"/><rect x="1164" y="511" width="1" height="5"/><rect x="115" y="110" width="5" height="1"/><rect x="115" y="210" width="5" height="1"/><rect x="115" y="310" width="5" height="1"/><rect x="115" y="410" width="5" height="1"/><rect x="1254" y="69" width="5" height="1"/><rect x="1254" y="132" width="5" height="1"/><rect x="1254" y="194" width="5" height="1"/><rect x="1254" y="257" width="5" height="1"/><rect x="1254" y="320" width="5" height="1"/><rect x="1254" y="383" width="5" height="1"/><rect x="1254" y="445" width="5" height="1"/><rect x="1254" y="508" width="5" height="1"/></g></svg>
<svg class="l" width="1500" height="600" viewBox="0 0 1080 432"> <defs> </defs> <g id="figure_1"> <g id="patch_1"> <path d="M 0 432 L 1080 432 L 1080 0 L 0 0 L 0 432 z " style="fill: none; opacity: 0"/> </g> <g id="axes_1"> <g id="patch_2"> <path d="M 86.4 367.2 L 838.08 367.2 L 838.08 21.6 L 86.4 21.6 L 86.4 367.2 z " style="fill: none; opacity: 0"/> </g> <g id="matplotlib.axis_1"> <g id="xtick_1"> <g id="text_1"> <!-- 21:21:00 --> <g transform="translate(52.8115 412.0508) rotate(-45) scale(0.1 -0.1)"> <defs> <path id="DejaVuSans-32" d="M 1228 531 L 3431 531 L 3431 0 L 469 0 L 469 531 Q 828 903 1448 1529 Q 2069 2156 2228 2338 Q 2531 2678 2651 2914 Q 2772 3150 2772 3378 Q 2772 3750 2511 3984 Q 2250 4219 1831 4219 Q 1534 4219 1204 4116 Q 875 4013 500 3803 L 500 4441 Q 881 4594 1212 4672 Q 1544 4750 1819 4750 Q 2544 4750 2975 4387 Q 3406 4025 3406 3419 Q 3406 3131 3298 2873 Q 3191 2616 2906 2266 Q 2828 2175 2409 1742 Q 1991 1309 1228 531 z " transform="scale(0.015625)"/> <path id="DejaVuSans-31" d="M 794 531 L 1825 531 L 1825 4091 L 703 3866 L 703 4441 L 1819 4666 L 2450 4666 L 2450 531 L 3481 531 L 3481 0 L 794 0 L 794 531 z " transform="scale(0.015625)"/> <path id="DejaVuSans-3a" d="M 750 794 L 1409 794 L 1409 0 L 750 0 L 750 794 z M 750 3309 L 1409 3309 L 1409 2516 L 750 2516 L 750 3309 z " transform="scale(0.015625)"/> <path id="DejaVuSans-30" d="M 2034 4250 Q 1547 4250 1301 3770 Q 1056 3291 1056 2328 Q 1056 1369 1301 889 Q 1547 409 2034 409 Q 2525 409 2770 889 Q 3016 1369 3016 2328 Q 3016 3291 2770 3770 Q 2525 4250 2034 4250 z M 2034 4750 Q 2819 4750 3233 4129 Q 3647 3509 3647 2328 Q 3647 1150 3233 529 Q 2819 -91 2034 -91 Q 1250 -91 836 529 Q 422 1150 422 2328 Q 422 3509 836 4129 Q 1250 4750 2034 4750 z " transform="scale(0.015625)"/> </defs> <use href="#DejaVuSans-32"/> <use href="#DejaVuSans-31" transform="translate(63.623047 0)"/> <use href="#DejaVuSans-3a" transform="translate(127.246094 0)"/> <use href="#DejaVuSans-32" transform="translate(160.9375 0)"/> <use href="#DejaVuSans-31" transform="translate(224.560547 0)"/> <use href="#DejaVuSans-3a" transform="translate(288.183594 0)"/> <use href="#DejaVuSans-30" transform="translate(321.875 0)"/> <use href="#DejaVuSans-30" transform="translate(385.498047 0)"/> </g> </g> </g> <g id="xtick_2"> <g id="text_2"> <!-- 21:22:00 --> <g transform="translate(127.9795 412.0508) rotate(-45) scale(0.1 -0.1)"> <use href="#DejaVuSans-32"/> <use href="#DejaVuSans-31" transform="translate(63.623047 0)"/> <use href="#DejaVuSans-3a" transform="translate(127.246094 0)"/> <use href="#DejaVuSans-32" transform="translate(160.9375 0)"/> <use href="#DejaVuSans-32" transform="translate(224.560547 0)"/> <use href="#DejaVuSans-3a" transform="translate(288.183594 0)"/> <use href="#DejaVuSans-30" transform="translate(321.875 0)"/> <use href="#DejaVuSans-30" transform="translate(385.498047 0)"/> </g> </g> </g> <g id="xtick_3"> <g id="text_3"> <!-- 21:23:00 --> <g transform="translate(203.1475 412.0508) rotate(-45) scale(0.1 -0.1)"> <defs> <path id="DejaVuSans-33" d="M 2597 2516 Q 3050 2419 3304 2112 Q 3559 1806 3559 1356 Q 3559 666 3084 287 Q 2609 -91 1734 -91 Q 1441 -91 1130 -33 Q 819 25 488 141 L 488 750 Q 750 597 1062 519 Q 1375 441 1716 441 Q 2309 441 2620 675 Q 2931 909 2931 1356 Q 2931 1769 2642 2001 Q 2353 2234 1838 2234 L 1294 2234 L 1294 2753 L 1863 2753 Q 2328 2753 2575 2939 Q 2822 3125 2822 3475 Q 2822 3834 2567 4026 Q 2313 4219 1838 4219 Q 1578 4219 1281 4162 Q 984 4106 628 3988 L 628 4550 Q 988 4650 1302 4700 Q 1616 4750 1894 4750 Q 2613 4750 3031 4423 Q 3450 4097 3450 3541 Q 3450 3153 3228 2886 Q 3006 2619 2597 2516 z " transform="scale(0.015625)"/> </defs> <use href="#DejaVuSans-32"/> <use href="#DejaVuSans-31" transform="translate(63.623047 0)"/> <use href="#DejaVuSans-3a" transform="translate(127.246094 0)"/> <use href="#DejaVuSans-32" transform="translate(160.9375 0)"/> <use href="#DejaVuSans-33" transform="translate(224.560547 0)"/> <use href="#DejaVuSans-3a" transform="translate(288.183594 0)"/> <use href="#DejaVuSans-30" transform="translate(321.875 0)"/> <use href="#DejaVuSans-30" transform="translate(385.498047 0)"/> </g> </g> </g> <g id="xtick_4"> <g id="text_4"> <!-- 21:24:00 --> <g transform="translate(278.3155 412.0508) rotate(-45) scale(0.1 -0.1)"> <defs> <path id="DejaVuSans-34" d="M 2419 4116 L 825 1625 L 2419 1625 L 2419 4116 z M 2253 4666 L 3047 4666 L 3047 1625 L 3713 1625 L 3713 1100 L 3047 1100 L 3047 0 L 2419 0 L 2419 1100 L 313 1100 L 313 1709 L 2253 4666 z " transform="scale(0.015625)"/> </defs> <use href="#DejaVuSans-32"/> <use href="#DejaVuSans-31" transform="translate(63.623047 0)"/> <use href="#DejaVuSans-3a" transform="translate(127.246094 0)"/> <use href="#DejaVuSans-32" transform="translate(160.9375 0)"/> <use href="#DejaVuSans-34" transform="translate(224.560547 0)"/> <use href="#DejaVuSans-3a" transform="translate(288.183594 0)"/> <use href="#DejaVuSans-30" transform="translate(321.875 0)"/> <use href="#DejaVuSans-30" transform="translate(385.498047 0)"/> </g> </g> </g> <g id="xtick_5"> <g id="text_5"> <!-- 21:25:00 --> <g transform="translate(353.4835 412.0508) rotate(-45) scale(0.1 -0.1)"> <defs> <path id="DejaVuSans-35" d="M 691 4666 L 3169 4666 L 3169 4134 L 1269 4134 L 1269 2991 Q 1406 3038 1543 3061 Q 1681 3084 1819 3084 Q 2600 3084 3056 2656 Q 3513 2228 3513 1497 Q 3513 744 3044 326 Q 2575 -91 1722 -91 Q 1428 -91 1123 -41 Q 819 9 494 109 L 494 744 Q 775 591 1075 516 Q 1375 441 1709 441 Q 2250 441 2565 725 Q 2881 1009 2881 1497 Q 2881 1984 2565 2268 Q 2250 2553 1709 2553 Q 1456 2553 1204 2497 Q 953 2441 691 2322 L 691 4666 z " transform="scale(0.015625)"/> </defs> <use href="#DejaVuSans-32"/> <use href="#DejaVuSans-31" transform="translate(63.623047 0)"/> <use href="#DejaVuSans-3a" transform="translate(127.246094 0)"/> <use href="#DejaVuSans-32" transform="translate(160.9375 0)"/> <use href="#DejaVuSans-35" transform="translate(224.560547 0)"/> <use href="#DejaVuSans-3a" transform="translate(288.183594 0)"/> <use href="#DejaVuSans-30" transform="translate(321.875 0)"/> <use href="#DejaVuSans-30" transform="translate(385.498047 0)"/> </g> </g> </g> <g id="xtick_6"> <g id="text_6"> <!-- 21:26:00 --> <g transform="translate(428.6515 412.0508) rotate(-45) scale(0.1 -0.1)"> <defs> <path id="DejaVuSans-36" d="M 2113 2584 Q 1688 2584 1439 2293 Q 1191 2003 1191 1497 Q 1191 994 1439 701 Q 1688 409 2113 409 Q 2538 409 2786 701 Q 3034 994 3034 1497 Q 3034 2003 2786 2293 Q 2538 2584 2113 2584 z M 3366 4563 L 3366 3988 Q 3128 4100 2886 4159 Q 2644 4219 2406 4219 Q 1781 4219 1451 3797 Q 1122 3375 1075 2522 Q 1259 2794 1537 2939 Q 1816 3084 2150 3084 Q 2853 3084 3261 2657 Q 3669 2231 3669 1497 Q 3669 778 3244 343 Q 2819 -91 2113 -91 Q 1303 -91 875 529 Q 447 1150 447 2328 Q 447 3434 972 4092 Q 1497 4750 2381 4750 Q 2619 4750 2861 4703 Q 3103 4656 3366 4563 z " transform="scale(0.015625)"/> </defs> <use href="#DejaVuSans-32"/> <use href="#DejaVuSans-31" transform="translate(63.623047 0)"/> <use href="#DejaVuSans-3a" transform="translate(127.246094 0)"/> <use href="#DejaVuSans-32" transform="translate(160.9375 0)"/> <use href="#DejaVuSans-36" transform="translate(224.560547 0)"/> <use href="#DejaVuSans-3a" transform="translate(288.183594 0)"/> <use href="#DejaVuSans-30" transform="translate(321.875 0)"/> <use href="#DejaVuSans-30" transform="translate(385.498047 0)"/> </g> </g> </g> <g id="xtick_7"> <g id="text_7"> <!-- 21:27:00 --> <g transform="translate(503.8195 412.0508) rotate(-45) scale(0.1 -0.1)"> <defs> <path id="DejaVuSans-37" d="M 525 4666 L 3525 4666 L 3525 4397 L 1831 0 L 1172 0 L 2766 4134 L 525 4134 L 525 4666 z " transform="scale(0.015625)"/> </defs> <use href="#DejaVuSans-32"/> <use href="#DejaVuSans-31" transform="translate(63.623047 0)"/> <use href="#DejaVuSans-3a" transform="translate(127.246094 0)"/> <use href="#DejaVuSans-32" transform="translate(160.9375 0)"/> <use href="#DejaVuSans-37" transform="translate(224.560547 0)"/> <use href="#DejaVuSans-3a" transform="translate(288.183594 0)"/> <use href="#DejaVuSans-30" transform="translate(321.875 0)"/> <use href="#DejaVuSans-30" transform="translate(385.498047 0)"/> </g> </g> </g> <g id="xtick_8"> <g id="text_8"> <!-- 21:28:00 --> <g transform="translate(578.9875 412.0508) rotate(-45) scale(0.1 -0.1)"> <defs> <path id="DejaVuSans-38" d="M 2034 2216 Q 1584 2216 1326 1975 Q 1069 1734 1069 1313 Q 1069 891 1326 650 Q 1584 409 2034 409 Q 2484 409 2743 651 Q 3003 894 3003 1313 Q 3003 1734 2745 1975 Q 2488 2216 2034 2216 z M 1403 2484 Q 997 2584 770 2862 Q 544 3141 544 3541 Q 544 4100 942 4425 Q 1341 4750 2034 4750 Q 2731 4750 3128 4425 Q 3525 4100 3525 3541 Q 3525 3141 3298 2862 Q 3072 2584 2669 2484 Q 3125 2378 3379 2068 Q 3634 1759 3634 1313 Q 3634 634 3220 271 Q 2806 -91 2034 -91 Q 1263 -91 848 271 Q 434 634 434 1313 Q 434 1759 690 2068 Q 947 2378 1403 2484 z M 1172 3481 Q 1172 3119 1398 2916 Q 1625 2713 2034 2713 Q 2441 2713 2670 2916 Q 2900 3119 2900 3481 Q 2900 3844 2670 4047 Q 2441 4250 2034 4250 Q 1625 4250 1398 4047 Q 1172 3844 1172 3481 z " transform="scale(0.015625)"/> </defs> <use href="#DejaVuSans-32"/> <use href="#DejaVuSans-31" transform="translate(63.623047 0)"/> <use href="#DejaVuSans-3a" transform="translate(127.246094 0)"/> <use href="#DejaVuSans-32" transform="translate(160.9375 0)"/> <use href="#DejaVuSans-38" transform="translate(224.560547 0)"/> <use href="#DejaVuSans-3a" transform="translate(288.183594 0)"/> <use href="#DejaVuSans-30" transform="translate(321.875 0)"/> <use href="#DejaVuSans-30" transform="translate(385.498047 0)"/> </g> </g> </g> <g id="xtick_9"> <g id="text_9"> <!-- 21:29:00 --> <g transform="translate(654.1555 412.0508) rotate(-45) scale(0.1 -0.1)"> <defs> <path id="DejaVuSans-39" d="M 703 97 L 703 672 Q 941 559 1184 500 Q 1428 441 1663 441 Q 2288 441 2617 861 Q 2947 1281 2994 2138 Q 2813 1869 2534 1725 Q 2256 1581 1919 1581 Q 1219 1581 811 2004 Q 403 2428 403 3163 Q 403 3881 828 4315 Q 1253 4750 1959 4750 Q 2769 4750 3195 4129 Q 3622 3509 3622 2328 Q 3622 1225 3098 567 Q 2575 -91 1691 -91 Q 1453 -91 1209 -44 Q 966 3 703 97 z M 1959 2075 Q 2384 2075 2632 2365 Q 2881 2656 2881 3163 Q 2881 3666 2632 3958 Q 2384 4250 1959 4250 Q 1534 4250 1286 3958 Q 1038 3666 1038 3163 Q 1038 2656 1286 2365 Q 1534 2075 1959 2075 z " transform="scale(0.015625)"/> </defs> <use href="#DejaVuSans-32"/> <use href="#DejaVuSans-31" transform="translate(63.623047 0)"/> <use href="#DejaVuSans-3a" transform="translate(127.246094 0)"/> <use href="#DejaVuSans-32" transform="translate(160.9375 0)"/> <use href="#DejaVuSans-39" transform="translate(224.560547 0)"/> <use href="#DejaVuSans-3a" transform="translate(288.183594 0)"/> <use href="#DejaVuSans-30" transform="translate(321.875 0)"/> <use href="#DejaVuSans-30" transform="translate(385.498047 0)"/> </g> </g> </g> <g id="xtick_10"> <g id="text_10"> <!-- 21:30:00 --> <g transform="translate(729.3235 412.0508) rotate(-45) scale(0.1 -0.1)"> <use href="#DejaVuSans-32"/> <use href="#DejaVuSans-31" transform="translate(63.623047 0)"/> <use href="#DejaVuSans-3a" transform="translate(127.246094 0)"/> <use href="#DejaVuSans-33" transform="translate(160.9375 0)"/> <use href="#DejaVuSans-30" transform="translate(224.560547 0)"/> <use href="#DejaVuSans-3a" transform="translate(288.183594 0)"/> <use href="#DejaVuSans-30" transform="translate(321.875 0)"/> <use href="#DejaVuSans-30" transform="translate(385.498047 0)"/> </g> </g> </g> <g id="xtick_11"> <g id="text_11"> <!-- 21:31:00 --> <g transform="translate(804.4915 412.0508) rotate(-45) scale(0.1 -0.1)"> <use href="#DejaVuSans-32"/> <use href="#DejaVuSans-31" transform="translate(63.623047 0)"/> <use href="#DejaVuSans-3a" transform="translate(127.246094 0)"/> <use href="#DejaVuSans-33" transform="translate(160.9375 0)"/> <use href="#DejaVuSans-31" transform="translate(224.560547 0)"/> <use href="#DejaVuSans-3a" transform="translate(288.183594 0)"/> <use href="#DejaVuSans-30" transform="translate(321.875 0)"/> <use href="#DejaVuSans-30" transform="translate(385.498047 0)"/> </g> </g> </g> <g id="text_12"> <!-- Time --> <g transform="translate(450.0064 424.3998) scale(0.1 -0.1)"> <defs> <path id="DejaVuSans-54" d="M -19 4666 L 3928 4666 L 3928 4134 L 2272 4134 L 2272 0 L 1638 0 L 1638 4134 L -19 4134 L -19 4666 z " transform="scale(0.015625)"/> <path id="DejaVuSans-69" d="M 603 3500 L 1178 3500 L 1178 0 L 603 0 L 603 3500 z M 603 4863 L 1178 4863 L 1178 4134 L 603 4134 L 603 4863 z " transform="scale(0.015625)"/> <path id="DejaVuSans-6d" d="M 3328 2828 Q 3544 3216 3844 3400 Q 4144 3584 4550 3584 Q 5097 3584 5394 3201 Q 5691 2819 5691 2113 L 5691 0 L 5113 0 L 5113 2094 Q 5113 2597 4934 2840 Q 4756 3084 4391 3084 Q 3944 3084 3684 2787 Q 3425 2491 3425 1978 L 3425 0 L 2847 0 L 2847 2094 Q 2847 2600 2669 2842 Q 2491 3084 2119 3084 Q 1678 3084 1418 2786 Q 1159 2488 1159 1978 L 1159 0 L 581 0 L 581 3500 L 1159 3500 L 1159 2956 Q 1356 3278 1631 3431 Q 1906 3584 2284 3584 Q 2666 3584 2933 3390 Q 3200 3197 3328 2828 z " transform="scale(0.015625)"/> <path id="DejaVuSans-65" d="M 3597 1894 L 3597 1613 L 953 1613 Q 991 1019 1311 708 Q 1631 397 2203 397 Q 2534 397 2845 478 Q 3156 559 3463 722 L 3463 178 Q 3153 47 2828 -22 Q 2503 -91 2169 -91 Q 1331 -91 842 396 Q 353 884 353 1716 Q 353 2575 817 3079 Q 1281 3584 2069 3584 Q 2775 3584 3186 3129 Q 3597 2675 3597 1894 z M 3022 2063 Q 3016 2534 2758 2815 Q 2500 3097 2075 3097 Q 1594 3097 1305 2825 Q 1016 2553 972 2059 L 3022 2063 z " transform="scale(0.015625)"/> </defs> <use href="#DejaVuSans-54"/> <use href="#DejaVuSans-69" transform="translate(57.958984 0)"/> <use href="#DejaVuSans-6d" transform="translate(85.742188 0)"/> <use href="#DejaVuSans-65" transform="translate(183.154297 0)"/> </g> </g> </g> <g id="matplotlib.axis_2"> <g id="ytick_1"> <g id="text_13"> <!-- 10000 --> <g transform="translate(47.5875 299.6472) scale(0.1 -0.1)"> <use href="#DejaVuSans-31"/> <use href="#DejaVuSans-30" transform="translate(63.623047 0)"/> <use href="#DejaVuSans-30" transform="translate(127.246094 0)"/> <use href="#DejaVuSans-30" transform="translate(190.869141 0)"/> <use href="#DejaVuSans-30" transform="translate(254.492188 0)"/> </g> </g> </g> <g id="ytick_2"> <g id="text_14"> <!-- 20000 --> <g transform="translate(47.5875 227.6472) scale(0.1 -0.1)"> <use href="#DejaVuSans-32"/> <use href="#DejaVuSans-30" transform="translate(63.623047 0)"/> <use href="#DejaVuSans-30" transform="translate(127.246094 0)"/> <use href="#DejaVuSans-30" transform="translate(190.869141 0)"/> <use href="#DejaVuSans-30" transform="translate(254.492188 0)"/> </g> </g> </g> <g id="ytick_3"> <g id="text_15"> <!-- 30000 --> <g transform="translate(47.5875 155.6472) scale(0.1 -0.1)"> <use href="#DejaVuSans-33"/> <use href="#DejaVuSans-30" transform="translate(63.623047 0)"/> <use href="#DejaVuSans-30" transform="translate(127.246094 0)"/> <use href="#DejaVuSans-30" transform="translate(190.869141 0)"/> <use href="#DejaVuSans-30" transform="translate(254.492188 0)"/> </g> </g> </g> <g id="ytick_4"> <g id="text_16"> <!-- 40000 --> <g transform="translate(47.5875 83.6472) scale(0.1 -0.1)"> <use href="#DejaVuSans-34"/> <use href="#DejaVuSans-30" transform="translate(63.623047 0)"/> <use href="#DejaVuSans-30" transform="translate(127.246094 0)"/> <use href="#DejaVuSans-30" transform="translate(190.869141 0)"/> <use href="#DejaVuSans-30" transform="translate(254.492188 0)"/> </g> </g> </g> <g id="text_17"> <!-- Frequency [Hz] --> <g transform="translate(41.1478 232.9687) rotate(-90) scale(0.1 -0.1)"> <defs> <path id="DejaVuSans-46" d="M 628 4666 L 3309 4666 L 3309 4134 L 1259 4134 L 1259 2759 L 3109 2759 L 3109 2228 L 1259 2228 L 1259 0 L 628 0 L 628 4666 z " transform="scale(0.015625)"/> <path id="DejaVuSans-72" d="M 2631 2963 Q 2534 3019 2420 3045 Q 2306 3072 2169 3072 Q 1681 3072 1420 2755 Q 1159 2438 1159 1844 L 1159 0 L 581 0 L 581 3500 L 1159 3500 L 1159 2956 Q 1341 3275 1631 3429 Q 1922 3584 2338 3584 Q 2397 3584 2469 3576 Q 2541 3569 2628 3553 L 2631 2963 z " transform="scale(0.015625)"/> <path id="DejaVuSans-71" d="M 947 1747 Q 947 1113 1208 752 Q 1469 391 1925 391 Q 2381 391 2643 752 Q 2906 1113 2906 1747 Q 2906 2381 2643 2742 Q 2381 3103 1925 3103 Q 1469 3103 1208 2742 Q 947 2381 947 1747 z M 2906 525 Q 2725 213 2448 61 Q 2172 -91 1784 -91 Q 1150 -91 751 415 Q 353 922 353 1747 Q 353 2572 751 3078 Q 1150 3584 1784 3584 Q 2172 3584 2448 3432 Q 2725 3281 2906 2969 L 2906 3500 L 3481 3500 L 3481 -1331 L 2906 -1331 L 2906 525 z " transform="scale(0.015625)"/> <path id="DejaVuSans-75" d="M 544 1381 L 544 3500 L 1119 3500 L 1119 1403 Q 1119 906 1312 657 Q 1506 409 1894 409 Q 2359 409 2629 706 Q 2900 1003 2900 1516 L 2900 3500 L 3475 3500 L 3475 0 L 2900 0 L 2900 538 Q 2691 219 2414 64 Q 2138 -91 1772 -91 Q 1169 -91 856 284 Q 544 659 544 1381 z M 1991 3584 L 1991 3584 z " transform="scale(0.015625)"/> <path id="DejaVuSans-6e" d="M 3513 2113 L 3513 0 L 2938 0 L 2938 2094 Q 2938 2591 2744 2837 Q 2550 3084 2163 3084 Q 1697 3084 1428 2787 Q 1159 2491 1159 1978 L 1159 0 L 581 0 L 581 3500 L 1159 3500 L 1159 2956 Q 1366 3272 1645 3428 Q 1925 3584 2291 3584 Q 2894 3584 3203 3211 Q 3513 2838 3513 2113 z " transform="scale(0.015625)"/> <path id="DejaVuSans-63" d="M 3122 3366 L 3122 2828 Q 2878 2963 2633 3030 Q 2388 3097 2138 3097 Q 1578 3097 1268 2742 Q 959 2388 959 1747 Q 959 1106 1268 751 Q 1578 397 2138 397 Q 2388 397 2633 464 Q 2878 531 3122 666 L 3122 134 Q 2881 22 2623 -34 Q 2366 -91 2075 -91 Q 1284 -91 818 406 Q 353 903 353 1747 Q 353 2603 823 3093 Q 1294 3584 2113 3584 Q 2378 3584 2631 3529 Q 2884 3475 3122 3366 z " transform="scale(0.015625)"/> <path id="DejaVuSans-79" d="M 2059 -325 Q 1816 -950 1584 -1140 Q 1353 -1331 966 -1331 L 506 -1331 L 506 -850 L 844 -850 Q 1081 -850 1212 -737 Q 1344 -625 1503 -206 L 1606 56 L 191 3500 L 800 3500 L 1894 763 L 2988 3500 L 3597 3500 L 2059 -325 z " transform="scale(0.015625)"/> <path id="DejaVuSans-20" transform="scale(0.015625)"/> <path id="DejaVuSans-5b" d="M 550 4863 L 1875 4863 L 1875 4416 L 1125 4416 L 1125 -397 L 1875 -397 L 1875 -844 L 550 -844 L 550 4863 z " transform="scale(0.015625)"/> <path id="DejaVuSans-48" d="M 628 4666 L 1259 4666 L 1259 2753 L 3553 2753 L 3553 4666 L 4184 4666 L 4184 0 L 3553 0 L 3553 2222 L 1259 2222 L 1259 0 L 628 0 L 628 4666 z " transform="scale(0.015625)"/> <path id="DejaVuSans-7a" d="M 353 3500 L 3084 3500 L 3084 2975 L 922 459 L 3084 459 L 3084 0 L 275 0 L 275 525 L 2438 3041 L 353 3041 L 353 3500 z " transform="scale(0.015625)"/> <path id="DejaVuSans-5d" d="M 1947 4863 L 1947 -844 L 622 -844 L 622 -397 L 1369 -397 L 1369 4416 L 622 4416 L 622 4863 L 1947 4863 z " transform="scale(0.015625)"/> </defs> <use href="#DejaVuSans-46"/> <use href="#DejaVuSans-72" transform="translate(50.269531 0)"/> <use href="#DejaVuSans-65" transform="translate(89.132812 0)"/> <use href="#DejaVuSans-71" transform="translate(150.65625 0)"/> <use href="#DejaVuSans-75" transform="translate(214.132812 0)"/> <use href="#DejaVuSans-65" transform="translate(277.511719 0)"/> <use href="#DejaVuSans-6e" transform="translate(339.035156 0)"/> <use href="#DejaVuSans-63" transform="translate(402.414062 0)"/> <use href="#DejaVuSans-79" transform="translate(457.394531 0)"/> <use href="#DejaVuSans-20" transform="translate(516.574219 0)"/> <use href="#DejaVuSans-5b" transform="translate(548.361328 0)"/> <use href="#DejaVuSans-48" transform="translate(587.375 0)"/> <use href="#DejaVuSans-7a" transform="translate(662.570312 0)"/> <use href="#DejaVuSans-5d" transform="translate(715.060547 0)"/> </g> </g> </g> <g id="text_18"> <!-- NAXYS-SN0010 hydrophone spectrogram at 2025-03-08 21:21:00Z --> <g transform="translate(261.0360 15.6000) scale(0.12 -0.12)"> <defs> <path id="DejaVuSans-4e" d="M 628 4666 L 1478 4666 L 3547 763 L 3547 4666 L 4159 4666 L 4159 0 L 3309 0 L 1241 3903 L 1241 0 L 628 0 L 628 4666 z " transform="scale(0.015625)"/> <path id="DejaVuSans-41" d="M 2188 4044 L 1331 1722 L 3047 1722 L 2188 4044 z M 1831 4666 L 2547 4666 L 4325 0 L 3669 0 L 3244 1197 L 1141 1197 L 716 0 L 50 0 L 1831 4666 z " transform="scale(0.015625)"/> <path id="DejaVuSans-58" d="M 403 4666 L 1081 4666 L 2241 2931 L 3406 4666 L 4084 4666 L 2584 2425 L 4184 0 L 3506 0 L 2194 1984 L 872 0 L 191 0 L 1856 2491 L 403 4666 z " transform="scale(0.015625)"/> <path id="DejaVuSans-59" d="M -13 4666 L 666 4666 L 1959 2747 L 3244 4666 L 3922 4666 L 2272 2222 L 2272 0 L 1638 0 L 1638 2222 L -13 4666 z " transform="scale(0.015625)"/> <path id="DejaVuSans-53" d="M 3425 4513 L 3425 3897 Q 3066 4069 2747 4153 Q 2428 4238 2131 4238 Q 1616 4238 1336 4038 Q 1056 3838 1056 3469 Q 1056 3159 1242 3001 Q 1428 2844 1947 2747 L 2328 2669 Q 3034 2534 3370 2195 Q 3706 1856 3706 1288 Q 3706 609 3251 259 Q 2797 -91 1919 -91 Q 1588 -91 1214 -16 Q 841 59 441 206 L 441 856 Q 825 641 1194 531 Q 1563 422 1919 422 Q 2459 422 2753 634 Q 3047 847 3047 1241 Q 3047 1584 2836 1778 Q 2625 1972 2144 2069 L 1759 2144 Q 1053 2284 737 2584 Q 422 2884 422 3419 Q 422 4038 858 4394 Q 1294 4750 2059 4750 Q 2388 4750 2728 4690 Q 3069 4631 3425 4513 z " transform="scale(0.015625)"/> <path id="DejaVuSans-2d" d="M 313 2009 L 1997 2009 L 1997 1497 L 313 1497 L 313 2009 z " transform="scale(0.015625)"/> <path id="DejaVuSans-68" d="M 3513 2113 L 3513 0 L 2938 0 L 2938 2094 Q 2938 2591 2744 2837 Q 2550 3084 2163 3084 Q 1697 3084 1428 2787 Q 1159 2491 1159 1978 L 1159 0 L 581 0 L 581 4863 L 1159 4863 L 1159 2956 Q 1366 3272 1645 3428 Q 1925 3584 2291 3584 Q 2894 3584 3203 3211 Q 3513 2838 3513 2113 z " transform="scale(0.015625)"/> <path id="DejaVuSans-64" d="M 2906 2969 L 2906 4863 L 3481 4863 L 3481 0 L 2906 0 L 2906 525 Q 2725 213 2448 61 Q 2172 -91 1784 -91 Q 1150 -91 751 415 Q 353 922 353 1747 Q 353 2572 751 3078 Q 1150 3584 1784 3584 Q 2172 3584 2448 3432 Q 2725 3281 2906 2969 z M 947 1747 Q 947 1113 1208 752 Q 1469 391 1925 391 Q 2381 391 2643 752 Q 2906 1113 2906 1747 Q 2906 2381 2643 2742 Q 2381 3103 1925 3103 Q 1469 3103 1208 2742 Q 947 2381 947 1747 z " transform="scale(0.015625)"/> <path id="DejaVuSans-6f" d="M 1959 3097 Q 1497 3097 1228 2736 Q 959 2375 959 1747 Q 959 1119 1226 758 Q 1494 397 1959 397 Q 2419 397 2687 759 Q 2956 1122 2956 1747 Q 2956 2369 2687 2733 Q 2419 3097 1959 3097 z M 1959 3584 Q 2709 3584 3137 3096 Q 3566 2609 3566 1747 Q 3566 888 3137 398 Q 2709 -91 1959 -91 Q 1206 -91 779 398 Q 353 888 353 1747 Q 353 2609 779 3096 Q 1206 3584 1959 3584 z " transform="scale(0.015625)"/> <path id="DejaVuSans-70" d="M 1159 525 L 1159 -1331 L 581 -1331 L 581 3500 L 1159 3500 L 1159 2969 Q 1341 3281 1617 3432 Q 1894 3584 2278 3584 Q 2916 3584 3314 3078 Q 3713 2572 3713 1747 Q 3713 922 3314 415 Q 2916 -91 2278 -91 Q 1894 -91 1617 61 Q 1341 213 1159 525 z M 3116 1747 Q 3116 2381 2855 2742 Q 2594 3103 2138 3103 Q 1681 3103 1420 2742 Q 1159 2381 1159 1747 Q 1159 1113 1420 752 Q 1681 391 2138 391 Q 2594 391 2855 752 Q 3116 1113 3116 1747 z " transform="scale(0.015625)"/> <path id="DejaVuSans-73" d="M 2834 3397 L 2834 2853 Q 2591 2978 2328 3040 Q 2066 3103 1784 3103 Q 1356 3103 1142 2972 Q 928 2841 928 2578 Q 928 2378 1081 2264 Q 1234 2150 1697 2047 L 1894 2003 Q 2506 1872 2764 1633 Q 3022 1394 3022 966 Q 3022 478 2636 193 Q 2250 -91 1575 -91 Q 1294 -91 989 -36 Q 684 19 347 128 L 347 722 Q 666 556 975 473 Q 1284 391 1588 391 Q 1994 391 2212 530 Q 2431 669 2431 922 Q 2431 1156 2273 1281 Q 2116 1406 1581 1522 L 1381 1569 Q 847 1681 609 1914 Q 372 2147 372 2553 Q 372 3047 722 3315 Q 1072 3584 1716 3584 Q 2034 3584 2315 3537 Q 2597 3491 2834 3397 z " transform="scale(0.015625)"/> <path id="DejaVuSans-74" d="M 1172 4494 L 1172 3500 L 2356 3500 L 2356 3053 L 1172 3053 L 1172 1153 Q 1172 725 1289 603 Q 1406 481 1766 481 L 2356 481 L 2356 0 L 1766 0 Q 1100 0 847 248 Q 594 497 594 1153 L 594 3053 L 172 3053 L 172 3500 L 594 3500 L 594 4494 L 1172 4494 z " transform="scale(0.015625)"/> <path id="DejaVuSans-67" d="M 2906 1791 Q 2906 2416 2648 2759 Q 2391 3103 1925 3103 Q 1463 3103 1205 2759 Q 947 2416 947 1791 Q 947 1169 1205 825 Q 1463 481 1925 481 Q 2391 481 2648 825 Q 2906 1169 2906 1791 z M 3481 434 Q 3481 -459 3084 -895 Q 2688 -1331 1869 -1331 Q 1566 -1331 1297 -1286 Q 1028 -1241 775 -1147 L 775 -588 Q 1028 -725 1275 -790 Q 1522 -856 1778 -856 Q 2344 -856 2625 -561 Q 2906 -266 2906 331 L 2906 616 Q 2728 306 2450 153 Q 2172 0 1784 0 Q 1141 0 747 490 Q 353 981 353 1791 Q 353 2603 747 3093 Q 1141 3584 1784 3584 Q 2172 3584 2450 3431 Q 2728 3278 2906 2969 L 2906 3500 L 3481 3500 L 3481 434 z " transform="scale(0.015625)"/> <path id="DejaVuSans-61" d="M 2194 1759 Q 1497 1759 1228 1600 Q 959 1441 959 1056 Q 959 750 1161 570 Q 1363 391 1709 391 Q 2188 391 2477 730 Q 2766 1069 2766 1631 L 2766 1759 L 2194 1759 z M 3341 1997 L 3341 0 L 2766 0 L 2766 531 Q 2569 213 2275 61 Q 1981 -91 1556 -91 Q 1019 -91 701 211 Q 384 513 384 1019 Q 384 1609 779 1909 Q 1175 2209 1959 2209 L 2766 2209 L 2766 2266 Q 2766 2663 2505 2880 Q 2244 3097 1772 3097 Q 1472 3097 1187 3025 Q 903 2953 641 2809 L 641 3341 Q 956 3463 1253 3523 Q 1550 3584 1831 3584 Q 2591 3584 2966 3190 Q 3341 2797 3341 1997 z " transform="scale(0.015625)"/> <path id="DejaVuSans-5a" d="M 359 4666 L 4025 4666 L 4025 4184 L 1075 531 L 4097 531 L 4097 0 L 288 0 L 288 481 L 3238 4134 L 359 4134 L 359 4666 z " transform="scale(0.015625)"/> </defs> <use href="#DejaVuSans-4e"/> <use href="#DejaVuSans-41" transform="translate(74.804688 0)"/> <use href="#DejaVuSans-58" transform="translate(143.212891 0)"/> <use href="#DejaVuSans-59" transform="translate(211.71875 0)"/> <use href="#DejaVuSans-53" transform="translate(272.802734 0)"/> <use href="#DejaVuSans-2d" transform="translate(336.279297 0)"/> <use href="#DejaVuSans-53" transform="translate(372.363281 0)"/> <use href="#DejaVuSans-4e" transform="translate(435.839844 0)"/> <use href="#DejaVuSans-30" transform="translate(510.644531 0)"/> <use href="#DejaVuSans-30" transform="translate(574.267578 0)"/> <use href="#DejaVuSans-31" transform="translate(637.890625 0)"/> <use href="#DejaVuSans-30" transform="translate(701.513672 0)"/> <use href="#DejaVuSans-20" transform="translate(765.136719 0)"/> <use href="#DejaVuSans-68" transform="translate(796.923828 0)"/> <use href="#DejaVuSans-79" transform="translate(860.302734 0)"/> <use href="#DejaVuSans-64" transform="translate(919.482422 0)"/> <use href="#DejaVuSans-72" transform="translate(982.958984 0)"/> <use href="#DejaVuSans-6f" transform="translate(1021.822266 0)"/> <use href="#DejaVuSans-70" transform="translate(1083.003906 0)"/> <use href="#DejaVuSans-68" transform="translate(1146.480469 0)"/> <use href="#DejaVuSans-6f" transform="translate(1209.859375 0)"/> <use href="#DejaVuSans-6e" transform="translate(1271.041016 0)"/> <use href="#DejaVuSans-65" transform="translate(1334.419922 0)"/> <use href="#DejaVuSans-20" transform="translate(1395.943359 0)"/> <use href="#DejaVuSans-73" transform="translate(1427.730469 0)"/> <use href="#DejaVuSans-70" transform="translate(1479.830078 0)"/> <use href="#DejaVuSans-65" transform="translate(1543.306641 0)"/> <use href="#DejaVuSans-63" transform="translate(1604.830078 0)"/> <use href="#DejaVuSans-74" transform="translate(1659.810547 0)"/> <use href="#DejaVuSans-72" transform="translate(1699.019531 0)"/> <use href="#DejaVuSans-6f" transform="translate(1737.882812 0)"/> <use href="#DejaVuSans-67" transform="translate(1799.064453 0)"/> <use href="#DejaVuSans-72" transform="translate(1862.541016 0)"/> <use href="#DejaVuSans-61" transform="translate(1903.654297 0)"/> <use href="#DejaVuSans-6d" transform="translate(1964.933594 0)"/> <use href="#DejaVuSans-20" transform="translate(2062.345703 0)"/> <use href="#DejaVuSans-61" transform="translate(2094.132812 0)"/> <use href="#DejaVuSans-74" transform="translate(2155.412109 0)"/> <use href="#DejaVuSans-20" transform="translate(2194.621094 0)"/> <use href="#DejaVuSans-32" transform="translate(2226.408203 0)"/> <use href="#DejaVuSans-30" transform="translate(2290.03125 0)"/> <use href="#DejaVuSans-32" transform="translate(2353.654297 0)"/> <use href="#DejaVuSans-35" transform="translate(2417.277344 0)"/> <use href="#DejaVuSans-2d" transform="translate(2480.900391 0)"/> <use href="#DejaVuSans-30" transform="translate(2516.984375 0)"/> <use href="#DejaVuSans-33" transform="translate(2580.607422 0)"/> <use href="#DejaVuSans-2d" transform="translate(2644.230469 0)"/> <use href="#DejaVuSans-30" transform="translate(2680.314453 0)"/> <use href="#DejaVuSans-38" transform="translate(2743.9375 0)"/> <use href="#DejaVuSans-20" transform="translate(2807.560547 0)"/> <use href="#DejaVuSans-32" transform="translate(2839.347656 0)"/> <use href="#DejaVuSans-31" transform="translate(2902.970703 0)"/> <use href="#DejaVuSans-3a" transform="translate(2966.59375 0)"/> <use href="#DejaVuSans-32" transform="translate(3000.285156 0)"/> <use href="#DejaVuSans-31" transform="translate(3063.908203 0)"/> <use href="#DejaVuSans-3a" transform="translate(3127.53125 0)"/> <use href="#DejaVuSans-30" transform="translate(3161.222656 0)"/> <use href="#DejaVuSans-30" transform="translate(3224.845703 0)"/> <use href="#DejaVuSans-5a" transform="translate(3288.46875 0)"/> </g> </g> </g> <g id="axes_2"> <g id="patch_3"> <path d="M 884.88 367.2 L 902.16 367.2 L 902.16 21.6 L 884.88 21.6 L 884.88 367.2 z " style="fill: none; opacity: 0"/> </g> <g id="matplotlib.axis_3"/> <g id="matplotlib.axis_4"> <g id="ytick_5"> <g id="text_19"> <!-- −40 --> <g transform="translate(909.5200 370.5362) scale(0.1 -0.1)"> <defs> <path id="DejaVuSans-2212" d="M 678 2272 L 4684 2272 L 4684 1741 L 678 1741 L 678 2272 z " transform="scale(0.015625)"/> </defs> <use href="#DejaVuSans-2212"/> <use href="#DejaVuSans-34" transform="translate(83.789062 0)"/> <use href="#DejaVuSans-30" transform="translate(147.412109 0)"/> </g> </g> </g> <g id="ytick_6"> <g id="text_20"> <!-- −20 --> <g transform="translate(909.5200 325.2710) scale(0.1 -0.1)"> <use href="#DejaVuSans-2212"/> <use href="#DejaVuSans-32" transform="translate(83.789062 0)"/> <use href="#DejaVuSans-30" transform="translate(147.412109 0)"/> </g> </g> </g> <g id="ytick_7"> <g id="text_21"> <!-- 0 --> <g transform="translate(909.5200 280.0058) scale(0.1 -0.1)"> <use href="#DejaVuSans-30"/> </g> </g> </g> <g id="ytick_8"> <g id="text_22"> <!-- 20 --> <g transform="translate(909.5200 234.7406) scale(0.1 -0.1)"> <use href="#DejaVuSans-32"/> <use href="#DejaVuSans-30" transform="translate(63.623047 0)"/> </g> </g> </g> <g id="ytick_9"> <g id="text_23"> <!-- 40 --> <g transform="translate(909.5200 189.4753) scale(0.1 -0.1)"> <use href="#DejaVuSans-34"/> <use href="#DejaVuSans-30" transform="translate(63.623047 0)"/> </g> </g> </g> <g id="ytick_10"> <g id="text_24"> <!-- 60 --> <g transform="translate(909.5200 144.2101) scale(0.1 -0.1)"> <use href="#DejaVuSans-36"/> <use href="#DejaVuSans-30" transform="translate(63.623047 0)"/> </g> </g> </g> <g id="ytick_11"> <g id="text_25"> <!-- 80 --> <g transform="translate(909.5200 98.9449) scale(0.1 -0.1)"> <use href="#DejaVuSans-38"/> <use href="#DejaVuSans-30" transform="translate(63.623047 0)"/> </g> </g> </g> <g id="ytick_12"> <g id="text_26"> <!-- 100 --> <g transform="translate(909.5200 53.6797) scale(0.1 -0.1)"> <use href="#DejaVuSans-31"/> <use href="#DejaVuSans-30" transform="translate(63.623047 0)"/> <use href="#DejaVuSans-30" transform="translate(127.246094 0)"/> </g> </g> </g> <g id="text_27"> <!-- Pressure [dB re 1 uPa] --> <g transform="translate(927.3863 139.6895) rotate(-270) scale(0.1 -0.1)"> <defs> <path id="DejaVuSans-50" d="M 1259 4147 L 1259 2394 L 2053 2394 Q 2494 2394 2734 2622 Q 2975 2850 2975 3272 Q 2975 3691 2734 3919 Q 2494 4147 2053 4147 L 1259 4147 z M 628 4666 L 2053 4666 Q 2838 4666 3239 4311 Q 3641 3956 3641 3272 Q 3641 2581 3239 2228 Q 2838 1875 2053 1875 L 1259 1875 L 1259 0 L 628 0 L 628 4666 z " transform="scale(0.015625)"/> <path id="DejaVuSans-42" d="M 1259 2228 L 1259 519 L 2272 519 Q 2781 519 3026 730 Q 3272 941 3272 1375 Q 3272 1813 3026 2020 Q 2781 2228 2272 2228 L 1259 2228 z M 1259 4147 L 1259 2741 L 2194 2741 Q 2656 2741 2882 2914 Q 3109 3088 3109 3444 Q 3109 3797 2882 3972 Q 2656 4147 2194 4147 L 1259 4147 z M 628 4666 L 2241 4666 Q 2963 4666 3353 4366 Q 3744 4066 3744 3513 Q 3744 3084 3544 2831 Q 3344 2578 2956 2516 Q 3422 2416 3680 2098 Q 3938 1781 3938 1306 Q 3938 681 3513 340 Q 3088 0 2303 0 L 628 0 L 628 4666 z " transform="scale(0.015625)"/> </defs> <use href="#DejaVuSans-50"/> <use href="#DejaVuSans-72" transform="translate(58.552734 0)"/> <use href="#DejaVuSans-65" transform="translate(97.416016 0)"/> <use href="#DejaVuSans-73" transform="translate(158.939453 0)"/> <use href="#DejaVuSans-73" transform="translate(211.039062 0)"/> <use href="#DejaVuSans-75" transform="translate(263.138672 0)"/> <use href="#DejaVuSans-72" transform="translate(326.517578 0)"/> <use href="#DejaVuSans-65" transform="translate(365.380859 0)"/> <use href="#DejaVuSans-20" transform="translate(426.904297 0)"/> <use href="#DejaVuSans-5b" transform="translate(458.691406 0)"/> <use href="#DejaVuSans-64" transform="translate(497.705078 0)"/> <use href="#DejaVuSans-42" transform="translate(561.181641 0)"/> <use href="#DejaVuSans-20" transform="translate(629.785156 0)"/> <use href="#DejaVuSans-72" transform="translate(661.572266 0)"/> <use href="#DejaVuSans-65" transform="translate(700.435547 0)"/> <use href="#DejaVuSans-20" transform="translate(761.958984 0)"/> <use href="#DejaVuSans-31" transform="translate(793.746094 0)"/> <use href="#DejaVuSans-20" transform="translate(857.369141 0)"/> <use href="#DejaVuSans-75" transform="translate(889.15625 0)"/> <use href="#DejaVuSans-50" transform="translate(952.535156 0)"/> <use href="#DejaVuSans-61" transform="translate(1008.337891 0)"/> <use href="#DejaVuSans-5d" transform="translate(1069.617188 0)"/> </g> </g> </g> </g> </g> </svg> 
</body></html>
